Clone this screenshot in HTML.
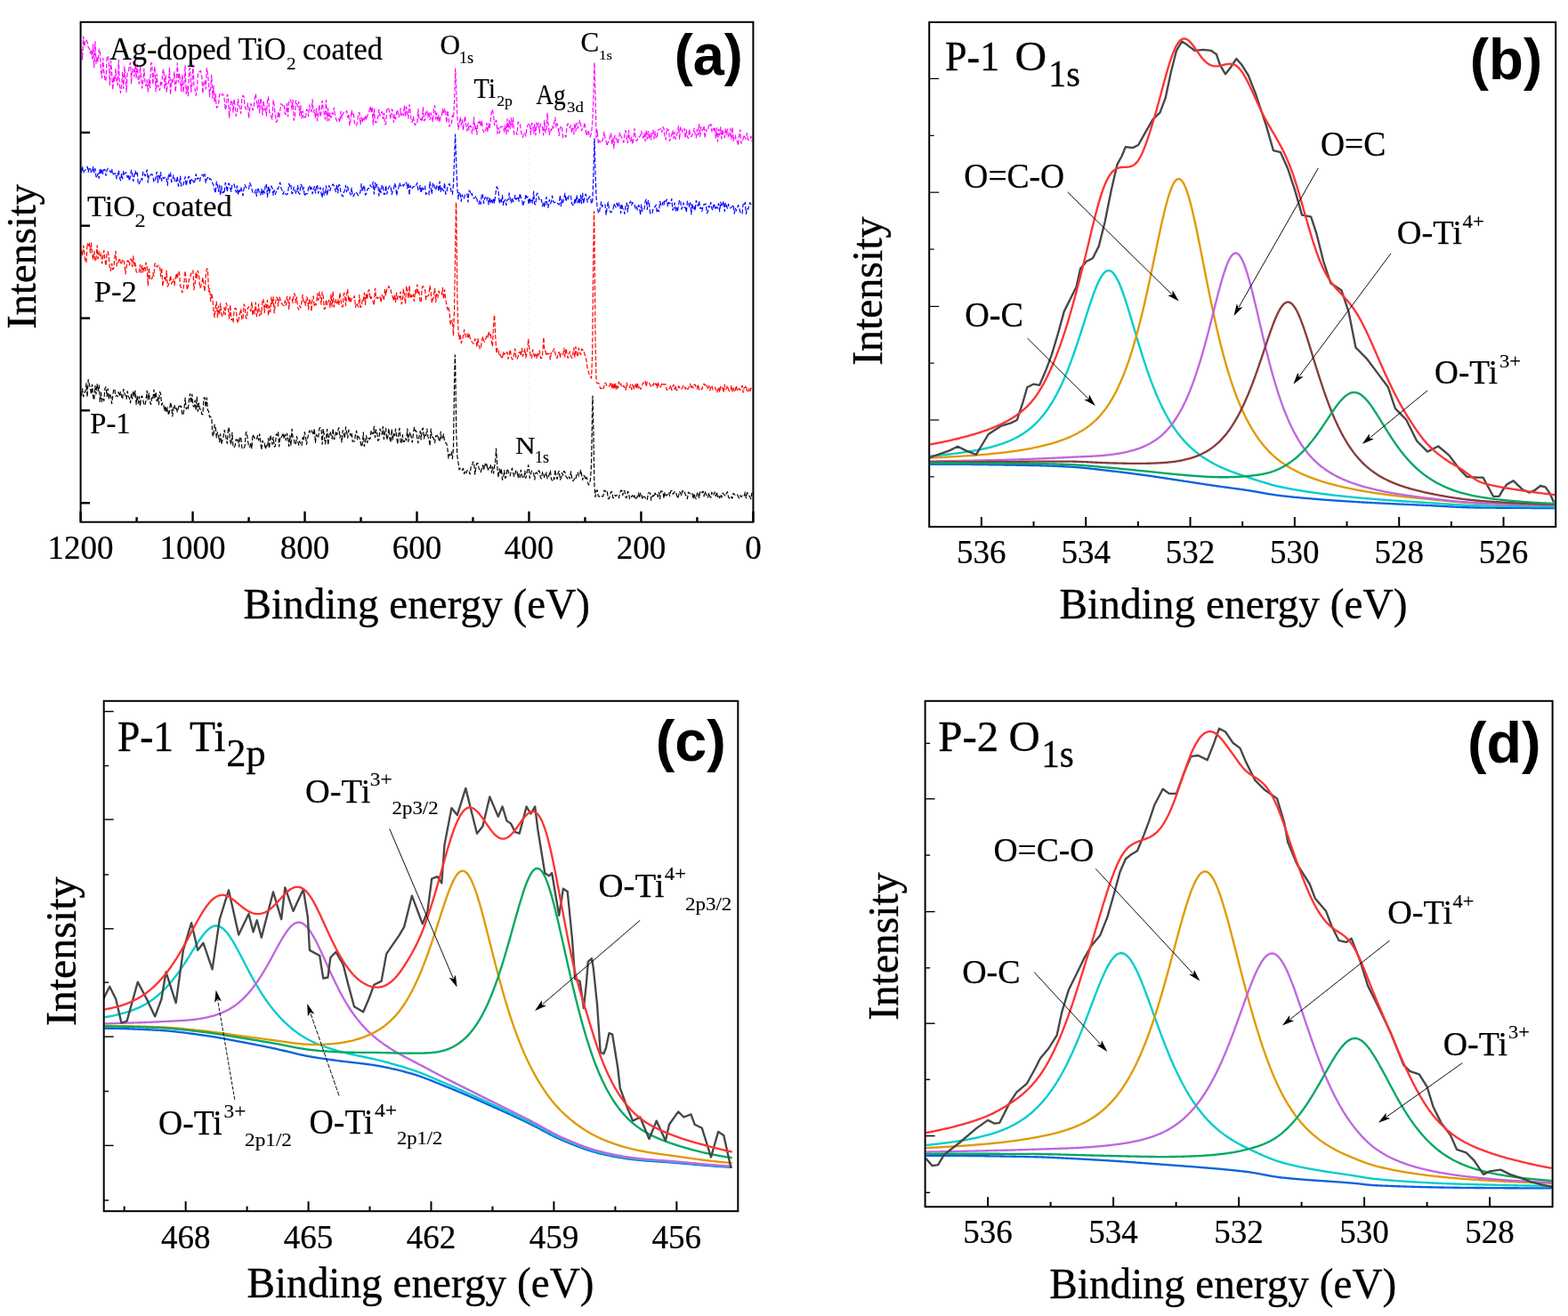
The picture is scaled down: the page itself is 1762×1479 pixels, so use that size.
<!DOCTYPE html>
<html><head><meta charset="utf-8"><title>XPS spectra</title>
<style>html,body{margin:0;padding:0;background:#fff;}svg{display:block;}</style></head>
<body><svg width="1762" height="1479" viewBox="0 0 1762 1479">
<rect width="1762" height="1479" fill="#fff"/>
<clipPath id="cb"><rect x="1044.2" y="25" width="704" height="567"/></clipPath>
<path d="M1045.2 521.7 L1046.2 521.7 L1047.2 521.7 L1048.2 521.7 L1049.2 521.7 L1050.2 521.7 L1051.2 521.71 L1052.2 521.71 L1053.2 521.71 L1054.2 521.71 L1055.2 521.72 L1056.2 521.72 L1057.2 521.72 L1058.2 521.73 L1059.2 521.73 L1060.2 521.73 L1061.2 521.74 L1062.2 521.74 L1063.2 521.75 L1064.2 521.75 L1065.2 521.76 L1066.2 521.76 L1067.2 521.77 L1068.2 521.77 L1069.2 521.78 L1070.2 521.79 L1071.2 521.79 L1072.2 521.8 L1073.2 521.81 L1074.2 521.81 L1075.2 521.82 L1076.2 521.83 L1077.2 521.83 L1078.2 521.84 L1079.2 521.85 L1080.2 521.86 L1081.2 521.87 L1082.2 521.88 L1083.2 521.89 L1084.2 521.89 L1085.2 521.9 L1086.2 521.91 L1087.2 521.92 L1088.2 521.93 L1089.2 521.94 L1090.2 521.95 L1091.2 521.96 L1092.2 521.97 L1093.2 521.99 L1094.2 522 L1095.2 522.01 L1096.2 522.02 L1097.2 522.03 L1098.2 522.04 L1099.2 522.05 L1100.2 522.07 L1101.2 522.08 L1102.2 522.09 L1103.2 522.1 L1104.2 522.12 L1105.2 522.13 L1106.2 522.14 L1107.2 522.16 L1108.2 522.17 L1109.2 522.18 L1110.2 522.2 L1111.2 522.21 L1112.2 522.23 L1113.2 522.24 L1114.2 522.25 L1115.2 522.27 L1116.2 522.28 L1117.2 522.3 L1118.2 522.31 L1119.2 522.33 L1120.2 522.34 L1121.2 522.36 L1122.2 522.37 L1123.2 522.39 L1124.2 522.41 L1125.2 522.42 L1126.2 522.44 L1127.2 522.45 L1128.2 522.47 L1129.2 522.49 L1130.2 522.5 L1131.2 522.52 L1132.2 522.54 L1133.2 522.55 L1134.2 522.57 L1135.2 522.59 L1136.2 522.61 L1137.2 522.62 L1138.2 522.64 L1139.2 522.66 L1140.2 522.68 L1141.2 522.69 L1142.2 522.71 L1143.2 522.73 L1144.2 522.75 L1145.2 522.77 L1146.2 522.79 L1147.2 522.8 L1148.2 522.82 L1149.2 522.84 L1150.2 522.86 L1151.2 522.88 L1152.2 522.9 L1153.2 522.92 L1154.2 522.94 L1155.2 522.96 L1156.2 522.97 L1157.2 522.99 L1158.2 523.01 L1159.2 523.03 L1160.2 523.05 L1161.2 523.07 L1162.2 523.09 L1163.2 523.11 L1164.2 523.13 L1165.2 523.16 L1166.2 523.18 L1167.2 523.2 L1168.2 523.23 L1169.2 523.25 L1170.2 523.28 L1171.2 523.31 L1172.2 523.34 L1173.2 523.37 L1174.2 523.4 L1175.2 523.43 L1176.2 523.46 L1177.2 523.5 L1178.2 523.53 L1179.2 523.57 L1180.2 523.6 L1181.2 523.64 L1182.2 523.68 L1183.2 523.72 L1184.2 523.76 L1185.2 523.8 L1186.2 523.84 L1187.2 523.89 L1188.2 523.93 L1189.2 523.97 L1190.2 524.02 L1191.2 524.07 L1192.2 524.11 L1193.2 524.16 L1194.2 524.21 L1195.2 524.26 L1196.2 524.31 L1197.2 524.36 L1198.2 524.41 L1199.2 524.46 L1200.2 524.52 L1201.2 524.57 L1202.2 524.63 L1203.2 524.68 L1204.2 524.74 L1205.2 524.8 L1206.2 524.87 L1207.2 524.93 L1208.2 525 L1209.2 525.08 L1210.2 525.16 L1211.2 525.24 L1212.2 525.32 L1213.2 525.41 L1214.2 525.5 L1215.2 525.59 L1216.2 525.68 L1217.2 525.78 L1218.2 525.87 L1219.2 525.98 L1220.2 526.08 L1221.2 526.18 L1222.2 526.29 L1223.2 526.39 L1224.2 526.5 L1225.2 526.61 L1226.2 526.72 L1227.2 526.84 L1228.2 526.95 L1229.2 527.06 L1230.2 527.18 L1231.2 527.29 L1232.2 527.41 L1233.2 527.52 L1234.2 527.64 L1235.2 527.76 L1236.2 527.87 L1237.2 527.99 L1238.2 528.11 L1239.2 528.22 L1240.2 528.34 L1241.2 528.45 L1242.2 528.56 L1243.2 528.68 L1244.2 528.79 L1245.2 528.9 L1246.2 529.01 L1247.2 529.13 L1248.2 529.24 L1249.2 529.35 L1250.2 529.47 L1251.2 529.59 L1252.2 529.7 L1253.2 529.82 L1254.2 529.94 L1255.2 530.06 L1256.2 530.18 L1257.2 530.3 L1258.2 530.42 L1259.2 530.54 L1260.2 530.66 L1261.2 530.78 L1262.2 530.91 L1263.2 531.03 L1264.2 531.15 L1265.2 531.28 L1266.2 531.41 L1267.2 531.53 L1268.2 531.66 L1269.2 531.79 L1270.2 531.91 L1271.2 532.04 L1272.2 532.17 L1273.2 532.3 L1274.2 532.43 L1275.2 532.56 L1276.2 532.7 L1277.2 532.83 L1278.2 532.96 L1279.2 533.09 L1280.2 533.23 L1281.2 533.36 L1282.2 533.49 L1283.2 533.63 L1284.2 533.76 L1285.2 533.9 L1286.2 534.04 L1287.2 534.17 L1288.2 534.31 L1289.2 534.45 L1290.2 534.6 L1291.2 534.74 L1292.2 534.88 L1293.2 535.03 L1294.2 535.17 L1295.2 535.32 L1296.2 535.46 L1297.2 535.61 L1298.2 535.76 L1299.2 535.91 L1300.2 536.06 L1301.2 536.21 L1302.2 536.36 L1303.2 536.51 L1304.2 536.66 L1305.2 536.82 L1306.2 536.97 L1307.2 537.12 L1308.2 537.27 L1309.2 537.43 L1310.2 537.58 L1311.2 537.74 L1312.2 537.89 L1313.2 538.04 L1314.2 538.2 L1315.2 538.35 L1316.2 538.51 L1317.2 538.66 L1318.2 538.81 L1319.2 538.97 L1320.2 539.12 L1321.2 539.27 L1322.2 539.42 L1323.2 539.58 L1324.2 539.73 L1325.2 539.88 L1326.2 540.03 L1327.2 540.18 L1328.2 540.33 L1329.2 540.48 L1330.2 540.63 L1331.2 540.79 L1332.2 540.94 L1333.2 541.09 L1334.2 541.24 L1335.2 541.4 L1336.2 541.55 L1337.2 541.7 L1338.2 541.86 L1339.2 542.01 L1340.2 542.17 L1341.2 542.32 L1342.2 542.47 L1343.2 542.63 L1344.2 542.78 L1345.2 542.93 L1346.2 543.09 L1347.2 543.24 L1348.2 543.39 L1349.2 543.55 L1350.2 543.7 L1351.2 543.85 L1352.2 544 L1353.2 544.15 L1354.2 544.31 L1355.2 544.46 L1356.2 544.61 L1357.2 544.76 L1358.2 544.91 L1359.2 545.06 L1360.2 545.2 L1361.2 545.35 L1362.2 545.5 L1363.2 545.65 L1364.2 545.79 L1365.2 545.94 L1366.2 546.08 L1367.2 546.23 L1368.2 546.37 L1369.2 546.51 L1370.2 546.65 L1371.2 546.79 L1372.2 546.93 L1373.2 547.07 L1374.2 547.21 L1375.2 547.34 L1376.2 547.48 L1377.2 547.61 L1378.2 547.75 L1379.2 547.88 L1380.2 548.02 L1381.2 548.15 L1382.2 548.29 L1383.2 548.42 L1384.2 548.55 L1385.2 548.69 L1386.2 548.82 L1387.2 548.96 L1388.2 549.09 L1389.2 549.23 L1390.2 549.37 L1391.2 549.5 L1392.2 549.64 L1393.2 549.78 L1394.2 549.92 L1395.2 550.06 L1396.2 550.2 L1397.2 550.35 L1398.2 550.49 L1399.2 550.64 L1400.2 550.79 L1401.2 550.94 L1402.2 551.1 L1403.2 551.26 L1404.2 551.42 L1405.2 551.58 L1406.2 551.75 L1407.2 551.91 L1408.2 552.09 L1409.2 552.26 L1410.2 552.43 L1411.2 552.61 L1412.2 552.78 L1413.2 552.96 L1414.2 553.14 L1415.2 553.31 L1416.2 553.49 L1417.2 553.67 L1418.2 553.85 L1419.2 554.02 L1420.2 554.2 L1421.2 554.37 L1422.2 554.55 L1423.2 554.72 L1424.2 554.89 L1425.2 555.06 L1426.2 555.23 L1427.2 555.39 L1428.2 555.55 L1429.2 555.71 L1430.2 555.87 L1431.2 556.02 L1432.2 556.17 L1433.2 556.32 L1434.2 556.46 L1435.2 556.6 L1436.2 556.73 L1437.2 556.86 L1438.2 556.99 L1439.2 557.11 L1440.2 557.22 L1441.2 557.33 L1442.2 557.45 L1443.2 557.56 L1444.2 557.67 L1445.2 557.77 L1446.2 557.88 L1447.2 557.99 L1448.2 558.09 L1449.2 558.2 L1450.2 558.3 L1451.2 558.4 L1452.2 558.5 L1453.2 558.61 L1454.2 558.71 L1455.2 558.8 L1456.2 558.9 L1457.2 559 L1458.2 559.1 L1459.2 559.19 L1460.2 559.29 L1461.2 559.38 L1462.2 559.48 L1463.2 559.57 L1464.2 559.66 L1465.2 559.75 L1466.2 559.84 L1467.2 559.93 L1468.2 560.02 L1469.2 560.11 L1470.2 560.19 L1471.2 560.28 L1472.2 560.37 L1473.2 560.45 L1474.2 560.54 L1475.2 560.62 L1476.2 560.7 L1477.2 560.78 L1478.2 560.87 L1479.2 560.95 L1480.2 561.03 L1481.2 561.11 L1482.2 561.19 L1483.2 561.27 L1484.2 561.34 L1485.2 561.42 L1486.2 561.5 L1487.2 561.57 L1488.2 561.65 L1489.2 561.72 L1490.2 561.8 L1491.2 561.87 L1492.2 561.95 L1493.2 562.02 L1494.2 562.09 L1495.2 562.16 L1496.2 562.24 L1497.2 562.31 L1498.2 562.38 L1499.2 562.45 L1500.2 562.52 L1501.2 562.59 L1502.2 562.65 L1503.2 562.72 L1504.2 562.79 L1505.2 562.86 L1506.2 562.92 L1507.2 562.99 L1508.2 563.06 L1509.2 563.12 L1510.2 563.19 L1511.2 563.25 L1512.2 563.32 L1513.2 563.38 L1514.2 563.45 L1515.2 563.51 L1516.2 563.58 L1517.2 563.64 L1518.2 563.7 L1519.2 563.76 L1520.2 563.83 L1521.2 563.89 L1522.2 563.95 L1523.2 564.01 L1524.2 564.07 L1525.2 564.13 L1526.2 564.19 L1527.2 564.25 L1528.2 564.31 L1529.2 564.37 L1530.2 564.43 L1531.2 564.49 L1532.2 564.54 L1533.2 564.6 L1534.2 564.66 L1535.2 564.71 L1536.2 564.77 L1537.2 564.82 L1538.2 564.88 L1539.2 564.93 L1540.2 564.99 L1541.2 565.04 L1542.2 565.09 L1543.2 565.15 L1544.2 565.2 L1545.2 565.25 L1546.2 565.3 L1547.2 565.35 L1548.2 565.4 L1549.2 565.45 L1550.2 565.51 L1551.2 565.56 L1552.2 565.61 L1553.2 565.65 L1554.2 565.7 L1555.2 565.75 L1556.2 565.8 L1557.2 565.85 L1558.2 565.9 L1559.2 565.95 L1560.2 565.99 L1561.2 566.04 L1562.2 566.09 L1563.2 566.14 L1564.2 566.18 L1565.2 566.23 L1566.2 566.28 L1567.2 566.32 L1568.2 566.37 L1569.2 566.42 L1570.2 566.46 L1571.2 566.51 L1572.2 566.55 L1573.2 566.6 L1574.2 566.64 L1575.2 566.69 L1576.2 566.74 L1577.2 566.78 L1578.2 566.83 L1579.2 566.87 L1580.2 566.92 L1581.2 566.96 L1582.2 567.01 L1583.2 567.05 L1584.2 567.1 L1585.2 567.14 L1586.2 567.19 L1587.2 567.23 L1588.2 567.28 L1589.2 567.32 L1590.2 567.37 L1591.2 567.41 L1592.2 567.46 L1593.2 567.5 L1594.2 567.55 L1595.2 567.59 L1596.2 567.64 L1597.2 567.69 L1598.2 567.73 L1599.2 567.78 L1600.2 567.82 L1601.2 567.87 L1602.2 567.92 L1603.2 567.96 L1604.2 568.01 L1605.2 568.06 L1606.2 568.11 L1607.2 568.15 L1608.2 568.2 L1609.2 568.26 L1610.2 568.31 L1611.2 568.36 L1612.2 568.41 L1613.2 568.47 L1614.2 568.52 L1615.2 568.58 L1616.2 568.63 L1617.2 568.69 L1618.2 568.74 L1619.2 568.8 L1620.2 568.85 L1621.2 568.91 L1622.2 568.97 L1623.2 569.02 L1624.2 569.08 L1625.2 569.13 L1626.2 569.19 L1627.2 569.24 L1628.2 569.3 L1629.2 569.35 L1630.2 569.41 L1631.2 569.46 L1632.2 569.51 L1633.2 569.57 L1634.2 569.62 L1635.2 569.67 L1636.2 569.72 L1637.2 569.77 L1638.2 569.81 L1639.2 569.86 L1640.2 569.91 L1641.2 569.95 L1642.2 569.99 L1643.2 570.04 L1644.2 570.08 L1645.2 570.12 L1646.2 570.16 L1647.2 570.19 L1648.2 570.23 L1649.2 570.26 L1650.2 570.29 L1651.2 570.32 L1652.2 570.35 L1653.2 570.38 L1654.2 570.4 L1655.2 570.42 L1656.2 570.44 L1657.2 570.46 L1658.2 570.48 L1659.2 570.49 L1660.2 570.5 L1661.2 570.51 L1662.2 570.52 L1663.2 570.53 L1664.2 570.54 L1665.2 570.55 L1666.2 570.56 L1667.2 570.57 L1668.2 570.58 L1669.2 570.59 L1670.2 570.6 L1671.2 570.61 L1672.2 570.62 L1673.2 570.63 L1674.2 570.64 L1675.2 570.65 L1676.2 570.66 L1677.2 570.67 L1678.2 570.68 L1679.2 570.69 L1680.2 570.7 L1681.2 570.7 L1682.2 570.71 L1683.2 570.72 L1684.2 570.73 L1685.2 570.74 L1686.2 570.74 L1687.2 570.75 L1688.2 570.76 L1689.2 570.77 L1690.2 570.78 L1691.2 570.78 L1692.2 570.79 L1693.2 570.8 L1694.2 570.8 L1695.2 570.81 L1696.2 570.82 L1697.2 570.83 L1698.2 570.83 L1699.2 570.84 L1700.2 570.84 L1701.2 570.85 L1702.2 570.86 L1703.2 570.86 L1704.2 570.87 L1705.2 570.87 L1706.2 570.88 L1707.2 570.89 L1708.2 570.89 L1709.2 570.9 L1710.2 570.9 L1711.2 570.91 L1712.2 570.91 L1713.2 570.92 L1714.2 570.92 L1715.2 570.93 L1716.2 570.93 L1717.2 570.93 L1718.2 570.94 L1719.2 570.94 L1720.2 570.95 L1721.2 570.95 L1722.2 570.95 L1723.2 570.96 L1724.2 570.96 L1725.2 570.96 L1726.2 570.97 L1727.2 570.97 L1728.2 570.97 L1729.2 570.98 L1730.2 570.98 L1731.2 570.98 L1732.2 570.98 L1733.2 570.98 L1734.2 570.99 L1735.2 570.99 L1736.2 570.99 L1737.2 570.99 L1738.2 570.99 L1739.2 570.99 L1740.2 571 L1741.2 571 L1742.2 571 L1743.2 571 L1744.2 571 L1745.2 571 L1746.2 571 L1747.2 571" fill="none" stroke="#0A62E0" stroke-width="2.35" stroke-linejoin="round" clip-path="url(#cb)"/>
<path d="M1045.2 512.58 L1046.2 512.5 L1047.2 512.41 L1048.2 512.32 L1049.2 512.23 L1050.2 512.14 L1051.2 512.05 L1052.2 511.96 L1053.2 511.86 L1054.2 511.77 L1055.2 511.67 L1056.2 511.57 L1057.2 511.48 L1058.2 511.38 L1059.2 511.27 L1060.2 511.17 L1061.2 511.07 L1062.2 510.96 L1063.2 510.86 L1064.2 510.75 L1065.2 510.64 L1066.2 510.53 L1067.2 510.41 L1068.2 510.3 L1069.2 510.18 L1070.2 510.07 L1071.2 509.95 L1072.2 509.82 L1073.2 509.7 L1074.2 509.58 L1075.2 509.45 L1076.2 509.32 L1077.2 509.19 L1078.2 509.06 L1079.2 508.92 L1080.2 508.78 L1081.2 508.64 L1082.2 508.5 L1083.2 508.36 L1084.2 508.21 L1085.2 508.06 L1086.2 507.91 L1087.2 507.76 L1088.2 507.6 L1089.2 507.44 L1090.2 507.28 L1091.2 507.11 L1092.2 506.94 L1093.2 506.77 L1094.2 506.6 L1095.2 506.42 L1096.2 506.24 L1097.2 506.05 L1098.2 505.87 L1099.2 505.67 L1100.2 505.48 L1101.2 505.28 L1102.2 505.08 L1103.2 504.87 L1104.2 504.66 L1105.2 504.44 L1106.2 504.22 L1107.2 504 L1108.2 503.77 L1109.2 503.54 L1110.2 503.3 L1111.2 503.05 L1112.2 502.8 L1113.2 502.55 L1114.2 502.29 L1115.2 502.02 L1116.2 501.75 L1117.2 501.47 L1118.2 501.19 L1119.2 500.9 L1120.2 500.6 L1121.2 500.3 L1122.2 499.98 L1123.2 499.66 L1124.2 499.34 L1125.2 499 L1126.2 498.66 L1127.2 498.31 L1128.2 497.95 L1129.2 497.58 L1130.2 497.2 L1131.2 496.81 L1132.2 496.41 L1133.2 496 L1134.2 495.58 L1135.2 495.15 L1136.2 494.71 L1137.2 494.25 L1138.2 493.79 L1139.2 493.31 L1140.2 492.81 L1141.2 492.31 L1142.2 491.79 L1143.2 491.25 L1144.2 490.7 L1145.2 490.13 L1146.2 489.55 L1147.2 488.95 L1148.2 488.33 L1149.2 487.7 L1150.2 487.05 L1151.2 486.38 L1152.2 485.68 L1153.2 484.97 L1154.2 484.24 L1155.2 483.49 L1156.2 482.71 L1157.2 481.91 L1158.2 481.09 L1159.2 480.24 L1160.2 479.37 L1161.2 478.47 L1162.2 477.54 L1163.2 476.59 L1164.2 475.61 L1165.2 474.6 L1166.2 473.56 L1167.2 472.49 L1168.2 471.39 L1169.2 470.26 L1170.2 469.1 L1171.2 467.91 L1172.2 466.68 L1173.2 465.41 L1174.2 464.11 L1175.2 462.77 L1176.2 461.39 L1177.2 459.98 L1178.2 458.53 L1179.2 457.03 L1180.2 455.5 L1181.2 453.92 L1182.2 452.3 L1183.2 450.63 L1184.2 448.92 L1185.2 447.17 L1186.2 445.36 L1187.2 443.51 L1188.2 441.62 L1189.2 439.67 L1190.2 437.68 L1191.2 435.63 L1192.2 433.54 L1193.2 431.39 L1194.2 429.2 L1195.2 426.95 L1196.2 424.65 L1197.2 422.3 L1198.2 419.9 L1199.2 417.44 L1200.2 414.93 L1201.2 412.37 L1202.2 409.76 L1203.2 407.11 L1204.2 404.4 L1205.2 401.64 L1206.2 398.84 L1207.2 396 L1208.2 393.12 L1209.2 390.2 L1210.2 387.24 L1211.2 384.24 L1212.2 381.21 L1213.2 378.16 L1214.2 375.07 L1215.2 371.97 L1216.2 368.85 L1217.2 365.72 L1218.2 362.58 L1219.2 359.43 L1220.2 356.3 L1221.2 353.17 L1222.2 350.06 L1223.2 346.97 L1224.2 343.92 L1225.2 340.91 L1226.2 337.96 L1227.2 335.06 L1228.2 332.23 L1229.2 329.48 L1230.2 326.81 L1231.2 324.25 L1232.2 321.8 L1233.2 319.46 L1234.2 317.26 L1235.2 315.19 L1236.2 313.28 L1237.2 311.52 L1238.2 309.93 L1239.2 308.52 L1240.2 307.29 L1241.2 306.25 L1242.2 305.41 L1243.2 304.77 L1244.2 304.33 L1245.2 304.1 L1246.2 304.09 L1247.2 304.29 L1248.2 304.7 L1249.2 305.32 L1250.2 306.15 L1251.2 307.18 L1252.2 308.41 L1253.2 309.83 L1254.2 311.44 L1255.2 313.23 L1256.2 315.19 L1257.2 317.31 L1258.2 319.59 L1259.2 322 L1260.2 324.55 L1261.2 327.22 L1262.2 330 L1263.2 332.88 L1264.2 335.85 L1265.2 338.91 L1266.2 342.03 L1267.2 345.22 L1268.2 348.45 L1269.2 351.73 L1270.2 355.05 L1271.2 358.39 L1272.2 361.74 L1273.2 365.11 L1274.2 368.49 L1275.2 371.86 L1276.2 375.22 L1277.2 378.57 L1278.2 381.9 L1279.2 385.21 L1280.2 388.49 L1281.2 391.74 L1282.2 394.96 L1283.2 398.14 L1284.2 401.28 L1285.2 404.38 L1286.2 407.44 L1287.2 410.45 L1288.2 413.41 L1289.2 416.33 L1290.2 419.19 L1291.2 422.01 L1292.2 424.78 L1293.2 427.49 L1294.2 430.16 L1295.2 432.77 L1296.2 435.33 L1297.2 437.84 L1298.2 440.29 L1299.2 442.7 L1300.2 445.05 L1301.2 447.35 L1302.2 449.61 L1303.2 451.81 L1304.2 453.96 L1305.2 456.06 L1306.2 458.11 L1307.2 460.12 L1308.2 462.08 L1309.2 463.99 L1310.2 465.86 L1311.2 467.68 L1312.2 469.46 L1313.2 471.2 L1314.2 472.89 L1315.2 474.54 L1316.2 476.15 L1317.2 477.72 L1318.2 479.25 L1319.2 480.75 L1320.2 482.2 L1321.2 483.62 L1322.2 485 L1323.2 486.35 L1324.2 487.67 L1325.2 488.95 L1326.2 490.2 L1327.2 491.41 L1328.2 492.6 L1329.2 493.76 L1330.2 494.89 L1331.2 495.99 L1332.2 497.07 L1333.2 498.12 L1334.2 499.15 L1335.2 500.15 L1336.2 501.12 L1337.2 502.08 L1338.2 503.01 L1339.2 503.92 L1340.2 504.81 L1341.2 505.68 L1342.2 506.52 L1343.2 507.35 L1344.2 508.16 L1345.2 508.95 L1346.2 509.73 L1347.2 510.49 L1348.2 511.23 L1349.2 511.95 L1350.2 512.66 L1351.2 513.36 L1352.2 514.03 L1353.2 514.7 L1354.2 515.35 L1355.2 515.99 L1356.2 516.61 L1357.2 517.23 L1358.2 517.83 L1359.2 518.42 L1360.2 518.99 L1361.2 519.56 L1362.2 520.11 L1363.2 520.66 L1364.2 521.19 L1365.2 521.72 L1366.2 522.23 L1367.2 522.74 L1368.2 523.23 L1369.2 523.72 L1370.2 524.2 L1371.2 524.67 L1372.2 525.13 L1373.2 525.58 L1374.2 526.02 L1375.2 526.46 L1376.2 526.89 L1377.2 527.31 L1378.2 527.73 L1379.2 528.14 L1380.2 528.54 L1381.2 528.94 L1382.2 529.33 L1383.2 529.72 L1384.2 530.1 L1385.2 530.48 L1386.2 530.86 L1387.2 531.22 L1388.2 531.59 L1389.2 531.95 L1390.2 532.31 L1391.2 532.66 L1392.2 533.01 L1393.2 533.36 L1394.2 533.7 L1395.2 534.04 L1396.2 534.38 L1397.2 534.72 L1398.2 535.06 L1399.2 535.39 L1400.2 535.72 L1401.2 536.05 L1402.2 536.38 L1403.2 536.72 L1404.2 537.05 L1405.2 537.38 L1406.2 537.71 L1407.2 538.04 L1408.2 538.37 L1409.2 538.7 L1410.2 539.03 L1411.2 539.35 L1412.2 539.68 L1413.2 540 L1414.2 540.32 L1415.2 540.64 L1416.2 540.96 L1417.2 541.27 L1418.2 541.58 L1419.2 541.89 L1420.2 542.2 L1421.2 542.5 L1422.2 542.8 L1423.2 543.1 L1424.2 543.39 L1425.2 543.68 L1426.2 543.97 L1427.2 544.25 L1428.2 544.53 L1429.2 544.8 L1430.2 545.07 L1431.2 545.33 L1432.2 545.59 L1433.2 545.84 L1434.2 546.09 L1435.2 546.33 L1436.2 546.57 L1437.2 546.8 L1438.2 547.02 L1439.2 547.24 L1440.2 547.45 L1441.2 547.66 L1442.2 547.86 L1443.2 548.07 L1444.2 548.27 L1445.2 548.46 L1446.2 548.66 L1447.2 548.85 L1448.2 549.04 L1449.2 549.23 L1450.2 549.42 L1451.2 549.61 L1452.2 549.79 L1453.2 549.97 L1454.2 550.15 L1455.2 550.33 L1456.2 550.5 L1457.2 550.68 L1458.2 550.85 L1459.2 551.02 L1460.2 551.18 L1461.2 551.35 L1462.2 551.52 L1463.2 551.68 L1464.2 551.84 L1465.2 552 L1466.2 552.16 L1467.2 552.31 L1468.2 552.47 L1469.2 552.62 L1470.2 552.77 L1471.2 552.92 L1472.2 553.07 L1473.2 553.22 L1474.2 553.36 L1475.2 553.51 L1476.2 553.65 L1477.2 553.79 L1478.2 553.93 L1479.2 554.07 L1480.2 554.2 L1481.2 554.34 L1482.2 554.47 L1483.2 554.61 L1484.2 554.74 L1485.2 554.87 L1486.2 555 L1487.2 555.13 L1488.2 555.25 L1489.2 555.38 L1490.2 555.51 L1491.2 555.63 L1492.2 555.75 L1493.2 555.87 L1494.2 555.99 L1495.2 556.11 L1496.2 556.23 L1497.2 556.35 L1498.2 556.46 L1499.2 556.58 L1500.2 556.69 L1501.2 556.81 L1502.2 556.92 L1503.2 557.03 L1504.2 557.14 L1505.2 557.25 L1506.2 557.36 L1507.2 557.47 L1508.2 557.58 L1509.2 557.68 L1510.2 557.79 L1511.2 557.89 L1512.2 558 L1513.2 558.1 L1514.2 558.2 L1515.2 558.3 L1516.2 558.4 L1517.2 558.5 L1518.2 558.6 L1519.2 558.7 L1520.2 558.8 L1521.2 558.9 L1522.2 559 L1523.2 559.09 L1524.2 559.19 L1525.2 559.28 L1526.2 559.38 L1527.2 559.47 L1528.2 559.56 L1529.2 559.65 L1530.2 559.74 L1531.2 559.83 L1532.2 559.92 L1533.2 560.01 L1534.2 560.1 L1535.2 560.19 L1536.2 560.27 L1537.2 560.36 L1538.2 560.44 L1539.2 560.52 L1540.2 560.61 L1541.2 560.69 L1542.2 560.77 L1543.2 560.85 L1544.2 560.93 L1545.2 561.01 L1546.2 561.09 L1547.2 561.17 L1548.2 561.25 L1549.2 561.33 L1550.2 561.4 L1551.2 561.48 L1552.2 561.56 L1553.2 561.63 L1554.2 561.71 L1555.2 561.78 L1556.2 561.85 L1557.2 561.93 L1558.2 562 L1559.2 562.07 L1560.2 562.14 L1561.2 562.22 L1562.2 562.29 L1563.2 562.36 L1564.2 562.43 L1565.2 562.5 L1566.2 562.57 L1567.2 562.64 L1568.2 562.7 L1569.2 562.77 L1570.2 562.84 L1571.2 562.91 L1572.2 562.98 L1573.2 563.04 L1574.2 563.11 L1575.2 563.18 L1576.2 563.24 L1577.2 563.31 L1578.2 563.37 L1579.2 563.44 L1580.2 563.51 L1581.2 563.57 L1582.2 563.64 L1583.2 563.7 L1584.2 563.76 L1585.2 563.83 L1586.2 563.89 L1587.2 563.96 L1588.2 564.02 L1589.2 564.09 L1590.2 564.15 L1591.2 564.21 L1592.2 564.28 L1593.2 564.34 L1594.2 564.4 L1595.2 564.47 L1596.2 564.53 L1597.2 564.59 L1598.2 564.66 L1599.2 564.72 L1600.2 564.78 L1601.2 564.84 L1602.2 564.91 L1603.2 564.97 L1604.2 565.03 L1605.2 565.1 L1606.2 565.16 L1607.2 565.23 L1608.2 565.29 L1609.2 565.36 L1610.2 565.43 L1611.2 565.5 L1612.2 565.56 L1613.2 565.63 L1614.2 565.7 L1615.2 565.77 L1616.2 565.84 L1617.2 565.91 L1618.2 565.98 L1619.2 566.05 L1620.2 566.12 L1621.2 566.19 L1622.2 566.26 L1623.2 566.33 L1624.2 566.4 L1625.2 566.47 L1626.2 566.54 L1627.2 566.61 L1628.2 566.68 L1629.2 566.75 L1630.2 566.82 L1631.2 566.88 L1632.2 566.95 L1633.2 567.01 L1634.2 567.08 L1635.2 567.14 L1636.2 567.2 L1637.2 567.27 L1638.2 567.33 L1639.2 567.39 L1640.2 567.44 L1641.2 567.5 L1642.2 567.56 L1643.2 567.61 L1644.2 567.66 L1645.2 567.71 L1646.2 567.76 L1647.2 567.81 L1648.2 567.86 L1649.2 567.9 L1650.2 567.95 L1651.2 567.99 L1652.2 568.03 L1653.2 568.07 L1654.2 568.1 L1655.2 568.13 L1656.2 568.17 L1657.2 568.2 L1658.2 568.22 L1659.2 568.25 L1660.2 568.27 L1661.2 568.29 L1662.2 568.31 L1663.2 568.33 L1664.2 568.35 L1665.2 568.37 L1666.2 568.39 L1667.2 568.41 L1668.2 568.43 L1669.2 568.45 L1670.2 568.47 L1671.2 568.49 L1672.2 568.51 L1673.2 568.53 L1674.2 568.55 L1675.2 568.57 L1676.2 568.59 L1677.2 568.61 L1678.2 568.62 L1679.2 568.64 L1680.2 568.66 L1681.2 568.68 L1682.2 568.7 L1683.2 568.71 L1684.2 568.73 L1685.2 568.75 L1686.2 568.76 L1687.2 568.78 L1688.2 568.8 L1689.2 568.81 L1690.2 568.83 L1691.2 568.85 L1692.2 568.86 L1693.2 568.88 L1694.2 568.89 L1695.2 568.91 L1696.2 568.92 L1697.2 568.94 L1698.2 568.95 L1699.2 568.97 L1700.2 568.98 L1701.2 569 L1702.2 569.01 L1703.2 569.03 L1704.2 569.04 L1705.2 569.05 L1706.2 569.07 L1707.2 569.08 L1708.2 569.09 L1709.2 569.11 L1710.2 569.12 L1711.2 569.13 L1712.2 569.14 L1713.2 569.16 L1714.2 569.17 L1715.2 569.18 L1716.2 569.19 L1717.2 569.2 L1718.2 569.22 L1719.2 569.23 L1720.2 569.24 L1721.2 569.25 L1722.2 569.26 L1723.2 569.27 L1724.2 569.28 L1725.2 569.29 L1726.2 569.3 L1727.2 569.31 L1728.2 569.32 L1729.2 569.33 L1730.2 569.34 L1731.2 569.35 L1732.2 569.36 L1733.2 569.37 L1734.2 569.37 L1735.2 569.38 L1736.2 569.39 L1737.2 569.4 L1738.2 569.41 L1739.2 569.41 L1740.2 569.42 L1741.2 569.43 L1742.2 569.44 L1743.2 569.44 L1744.2 569.45 L1745.2 569.46 L1746.2 569.46 L1747.2 569.47" fill="none" stroke="#00CCCC" stroke-width="2.35" stroke-linejoin="round" clip-path="url(#cb)"/>
<path d="M1045.2 514.64 L1046.2 514.59 L1047.2 514.54 L1048.2 514.49 L1049.2 514.44 L1050.2 514.39 L1051.2 514.34 L1052.2 514.29 L1053.2 514.24 L1054.2 514.19 L1055.2 514.14 L1056.2 514.09 L1057.2 514.03 L1058.2 513.98 L1059.2 513.93 L1060.2 513.87 L1061.2 513.82 L1062.2 513.77 L1063.2 513.71 L1064.2 513.66 L1065.2 513.6 L1066.2 513.54 L1067.2 513.49 L1068.2 513.43 L1069.2 513.37 L1070.2 513.32 L1071.2 513.26 L1072.2 513.2 L1073.2 513.14 L1074.2 513.08 L1075.2 513.02 L1076.2 512.96 L1077.2 512.9 L1078.2 512.83 L1079.2 512.77 L1080.2 512.71 L1081.2 512.64 L1082.2 512.58 L1083.2 512.51 L1084.2 512.44 L1085.2 512.38 L1086.2 512.31 L1087.2 512.24 L1088.2 512.17 L1089.2 512.1 L1090.2 512.03 L1091.2 511.96 L1092.2 511.89 L1093.2 511.81 L1094.2 511.74 L1095.2 511.66 L1096.2 511.59 L1097.2 511.51 L1098.2 511.43 L1099.2 511.36 L1100.2 511.28 L1101.2 511.19 L1102.2 511.11 L1103.2 511.03 L1104.2 510.95 L1105.2 510.86 L1106.2 510.78 L1107.2 510.69 L1108.2 510.6 L1109.2 510.51 L1110.2 510.42 L1111.2 510.33 L1112.2 510.23 L1113.2 510.14 L1114.2 510.04 L1115.2 509.95 L1116.2 509.85 L1117.2 509.75 L1118.2 509.65 L1119.2 509.54 L1120.2 509.44 L1121.2 509.33 L1122.2 509.23 L1123.2 509.12 L1124.2 509.01 L1125.2 508.89 L1126.2 508.78 L1127.2 508.66 L1128.2 508.55 L1129.2 508.43 L1130.2 508.31 L1131.2 508.18 L1132.2 508.06 L1133.2 507.93 L1134.2 507.8 L1135.2 507.67 L1136.2 507.54 L1137.2 507.41 L1138.2 507.27 L1139.2 507.13 L1140.2 506.99 L1141.2 506.84 L1142.2 506.7 L1143.2 506.55 L1144.2 506.4 L1145.2 506.24 L1146.2 506.09 L1147.2 505.93 L1148.2 505.77 L1149.2 505.6 L1150.2 505.43 L1151.2 505.26 L1152.2 505.09 L1153.2 504.91 L1154.2 504.74 L1155.2 504.55 L1156.2 504.37 L1157.2 504.18 L1158.2 503.99 L1159.2 503.79 L1160.2 503.59 L1161.2 503.39 L1162.2 503.18 L1163.2 502.97 L1164.2 502.76 L1165.2 502.54 L1166.2 502.32 L1167.2 502.1 L1168.2 501.87 L1169.2 501.64 L1170.2 501.41 L1171.2 501.18 L1172.2 500.93 L1173.2 500.69 L1174.2 500.44 L1175.2 500.19 L1176.2 499.93 L1177.2 499.67 L1178.2 499.4 L1179.2 499.13 L1180.2 498.86 L1181.2 498.58 L1182.2 498.29 L1183.2 498 L1184.2 497.7 L1185.2 497.4 L1186.2 497.09 L1187.2 496.77 L1188.2 496.45 L1189.2 496.12 L1190.2 495.79 L1191.2 495.44 L1192.2 495.09 L1193.2 494.73 L1194.2 494.37 L1195.2 493.99 L1196.2 493.61 L1197.2 493.22 L1198.2 492.82 L1199.2 492.41 L1200.2 491.99 L1201.2 491.56 L1202.2 491.12 L1203.2 490.67 L1204.2 490.21 L1205.2 489.74 L1206.2 489.26 L1207.2 488.77 L1208.2 488.27 L1209.2 487.75 L1210.2 487.23 L1211.2 486.7 L1212.2 486.15 L1213.2 485.59 L1214.2 485.01 L1215.2 484.42 L1216.2 483.82 L1217.2 483.2 L1218.2 482.56 L1219.2 481.9 L1220.2 481.23 L1221.2 480.53 L1222.2 479.82 L1223.2 479.08 L1224.2 478.32 L1225.2 477.54 L1226.2 476.74 L1227.2 475.9 L1228.2 475.05 L1229.2 474.17 L1230.2 473.25 L1231.2 472.31 L1232.2 471.34 L1233.2 470.34 L1234.2 469.31 L1235.2 468.24 L1236.2 467.14 L1237.2 466 L1238.2 464.82 L1239.2 463.61 L1240.2 462.35 L1241.2 461.06 L1242.2 459.72 L1243.2 458.34 L1244.2 456.91 L1245.2 455.44 L1246.2 453.92 L1247.2 452.35 L1248.2 450.73 L1249.2 449.07 L1250.2 447.35 L1251.2 445.58 L1252.2 443.76 L1253.2 441.87 L1254.2 439.94 L1255.2 437.94 L1256.2 435.88 L1257.2 433.77 L1258.2 431.59 L1259.2 429.34 L1260.2 427.03 L1261.2 424.66 L1262.2 422.21 L1263.2 419.7 L1264.2 417.11 L1265.2 414.46 L1266.2 411.73 L1267.2 408.92 L1268.2 406.04 L1269.2 403.09 L1270.2 400.05 L1271.2 396.94 L1272.2 393.75 L1273.2 390.48 L1274.2 387.12 L1275.2 383.69 L1276.2 380.18 L1277.2 376.58 L1278.2 372.9 L1279.2 369.15 L1280.2 365.31 L1281.2 361.39 L1282.2 357.39 L1283.2 353.32 L1284.2 349.17 L1285.2 344.94 L1286.2 340.64 L1287.2 336.28 L1288.2 331.84 L1289.2 327.35 L1290.2 322.8 L1291.2 318.19 L1292.2 313.54 L1293.2 308.84 L1294.2 304.1 L1295.2 299.34 L1296.2 294.55 L1297.2 289.74 L1298.2 284.94 L1299.2 280.13 L1300.2 275.35 L1301.2 270.58 L1302.2 265.86 L1303.2 261.19 L1304.2 256.58 L1305.2 252.04 L1306.2 247.61 L1307.2 243.28 L1308.2 239.07 L1309.2 235 L1310.2 231.09 L1311.2 227.35 L1312.2 223.79 L1313.2 220.45 L1314.2 217.32 L1315.2 214.43 L1316.2 211.78 L1317.2 209.41 L1318.2 207.3 L1319.2 205.49 L1320.2 203.98 L1321.2 202.77 L1322.2 201.88 L1323.2 201.32 L1324.2 201.07 L1325.2 201.16 L1326.2 201.57 L1327.2 202.31 L1328.2 203.38 L1329.2 204.76 L1330.2 206.46 L1331.2 208.46 L1332.2 210.75 L1333.2 213.32 L1334.2 216.17 L1335.2 219.27 L1336.2 222.61 L1337.2 226.18 L1338.2 229.96 L1339.2 233.94 L1340.2 238.09 L1341.2 242.41 L1342.2 246.87 L1343.2 251.46 L1344.2 256.16 L1345.2 260.96 L1346.2 265.85 L1347.2 270.8 L1348.2 275.81 L1349.2 280.86 L1350.2 285.95 L1351.2 291.05 L1352.2 296.15 L1353.2 301.26 L1354.2 306.35 L1355.2 311.43 L1356.2 316.47 L1357.2 321.48 L1358.2 326.45 L1359.2 331.36 L1360.2 336.23 L1361.2 341.04 L1362.2 345.78 L1363.2 350.46 L1364.2 355.07 L1365.2 359.61 L1366.2 364.07 L1367.2 368.45 L1368.2 372.76 L1369.2 376.98 L1370.2 381.13 L1371.2 385.19 L1372.2 389.17 L1373.2 393.07 L1374.2 396.89 L1375.2 400.62 L1376.2 404.27 L1377.2 407.84 L1378.2 411.33 L1379.2 414.73 L1380.2 418.06 L1381.2 421.31 L1382.2 424.48 L1383.2 427.58 L1384.2 430.6 L1385.2 433.54 L1386.2 436.42 L1387.2 439.22 L1388.2 441.95 L1389.2 444.61 L1390.2 447.21 L1391.2 449.74 L1392.2 452.2 L1393.2 454.6 L1394.2 456.94 L1395.2 459.22 L1396.2 461.44 L1397.2 463.61 L1398.2 465.72 L1399.2 467.77 L1400.2 469.78 L1401.2 471.73 L1402.2 473.63 L1403.2 475.49 L1404.2 477.31 L1405.2 479.07 L1406.2 480.8 L1407.2 482.48 L1408.2 484.12 L1409.2 485.72 L1410.2 487.27 L1411.2 488.8 L1412.2 490.28 L1413.2 491.72 L1414.2 493.14 L1415.2 494.51 L1416.2 495.85 L1417.2 497.16 L1418.2 498.44 L1419.2 499.68 L1420.2 500.9 L1421.2 502.08 L1422.2 503.23 L1423.2 504.36 L1424.2 505.46 L1425.2 506.53 L1426.2 507.57 L1427.2 508.59 L1428.2 509.58 L1429.2 510.55 L1430.2 511.49 L1431.2 512.41 L1432.2 513.3 L1433.2 514.17 L1434.2 515.02 L1435.2 515.85 L1436.2 516.65 L1437.2 517.44 L1438.2 518.2 L1439.2 518.94 L1440.2 519.66 L1441.2 520.36 L1442.2 521.05 L1443.2 521.72 L1444.2 522.38 L1445.2 523.03 L1446.2 523.66 L1447.2 524.28 L1448.2 524.88 L1449.2 525.48 L1450.2 526.06 L1451.2 526.63 L1452.2 527.19 L1453.2 527.73 L1454.2 528.27 L1455.2 528.8 L1456.2 529.31 L1457.2 529.82 L1458.2 530.32 L1459.2 530.8 L1460.2 531.28 L1461.2 531.75 L1462.2 532.22 L1463.2 532.67 L1464.2 533.12 L1465.2 533.55 L1466.2 533.99 L1467.2 534.41 L1468.2 534.82 L1469.2 535.23 L1470.2 535.64 L1471.2 536.03 L1472.2 536.42 L1473.2 536.8 L1474.2 537.18 L1475.2 537.55 L1476.2 537.91 L1477.2 538.27 L1478.2 538.63 L1479.2 538.97 L1480.2 539.32 L1481.2 539.65 L1482.2 539.98 L1483.2 540.31 L1484.2 540.63 L1485.2 540.95 L1486.2 541.26 L1487.2 541.57 L1488.2 541.88 L1489.2 542.17 L1490.2 542.47 L1491.2 542.76 L1492.2 543.05 L1493.2 543.33 L1494.2 543.61 L1495.2 543.88 L1496.2 544.15 L1497.2 544.42 L1498.2 544.69 L1499.2 544.95 L1500.2 545.2 L1501.2 545.46 L1502.2 545.71 L1503.2 545.95 L1504.2 546.2 L1505.2 546.44 L1506.2 546.67 L1507.2 546.91 L1508.2 547.14 L1509.2 547.37 L1510.2 547.6 L1511.2 547.82 L1512.2 548.04 L1513.2 548.26 L1514.2 548.47 L1515.2 548.69 L1516.2 548.9 L1517.2 549.1 L1518.2 549.31 L1519.2 549.51 L1520.2 549.71 L1521.2 549.91 L1522.2 550.11 L1523.2 550.3 L1524.2 550.49 L1525.2 550.68 L1526.2 550.87 L1527.2 551.06 L1528.2 551.24 L1529.2 551.42 L1530.2 551.6 L1531.2 551.77 L1532.2 551.95 L1533.2 552.12 L1534.2 552.29 L1535.2 552.46 L1536.2 552.63 L1537.2 552.79 L1538.2 552.95 L1539.2 553.11 L1540.2 553.27 L1541.2 553.43 L1542.2 553.58 L1543.2 553.74 L1544.2 553.89 L1545.2 554.04 L1546.2 554.19 L1547.2 554.34 L1548.2 554.48 L1549.2 554.63 L1550.2 554.77 L1551.2 554.91 L1552.2 555.05 L1553.2 555.19 L1554.2 555.33 L1555.2 555.46 L1556.2 555.6 L1557.2 555.73 L1558.2 555.86 L1559.2 555.99 L1560.2 556.12 L1561.2 556.25 L1562.2 556.38 L1563.2 556.5 L1564.2 556.63 L1565.2 556.75 L1566.2 556.87 L1567.2 556.99 L1568.2 557.11 L1569.2 557.23 L1570.2 557.35 L1571.2 557.47 L1572.2 557.59 L1573.2 557.7 L1574.2 557.82 L1575.2 557.93 L1576.2 558.04 L1577.2 558.15 L1578.2 558.27 L1579.2 558.38 L1580.2 558.49 L1581.2 558.59 L1582.2 558.7 L1583.2 558.81 L1584.2 558.92 L1585.2 559.02 L1586.2 559.13 L1587.2 559.23 L1588.2 559.34 L1589.2 559.44 L1590.2 559.54 L1591.2 559.65 L1592.2 559.75 L1593.2 559.85 L1594.2 559.95 L1595.2 560.05 L1596.2 560.15 L1597.2 560.25 L1598.2 560.35 L1599.2 560.45 L1600.2 560.54 L1601.2 560.64 L1602.2 560.74 L1603.2 560.83 L1604.2 560.93 L1605.2 561.03 L1606.2 561.13 L1607.2 561.22 L1608.2 561.32 L1609.2 561.42 L1610.2 561.52 L1611.2 561.62 L1612.2 561.71 L1613.2 561.81 L1614.2 561.91 L1615.2 562.01 L1616.2 562.11 L1617.2 562.21 L1618.2 562.31 L1619.2 562.41 L1620.2 562.51 L1621.2 562.6 L1622.2 562.7 L1623.2 562.8 L1624.2 562.89 L1625.2 562.99 L1626.2 563.09 L1627.2 563.18 L1628.2 563.27 L1629.2 563.37 L1630.2 563.46 L1631.2 563.55 L1632.2 563.64 L1633.2 563.73 L1634.2 563.82 L1635.2 563.91 L1636.2 563.99 L1637.2 564.08 L1638.2 564.16 L1639.2 564.24 L1640.2 564.32 L1641.2 564.4 L1642.2 564.48 L1643.2 564.56 L1644.2 564.63 L1645.2 564.7 L1646.2 564.77 L1647.2 564.84 L1648.2 564.91 L1649.2 564.98 L1650.2 565.04 L1651.2 565.1 L1652.2 565.16 L1653.2 565.22 L1654.2 565.27 L1655.2 565.33 L1656.2 565.38 L1657.2 565.42 L1658.2 565.47 L1659.2 565.51 L1660.2 565.55 L1661.2 565.59 L1662.2 565.63 L1663.2 565.67 L1664.2 565.71 L1665.2 565.75 L1666.2 565.79 L1667.2 565.82 L1668.2 565.86 L1669.2 565.9 L1670.2 565.93 L1671.2 565.97 L1672.2 566.01 L1673.2 566.04 L1674.2 566.08 L1675.2 566.11 L1676.2 566.15 L1677.2 566.18 L1678.2 566.21 L1679.2 566.25 L1680.2 566.28 L1681.2 566.31 L1682.2 566.35 L1683.2 566.38 L1684.2 566.41 L1685.2 566.44 L1686.2 566.47 L1687.2 566.5 L1688.2 566.53 L1689.2 566.56 L1690.2 566.6 L1691.2 566.63 L1692.2 566.65 L1693.2 566.68 L1694.2 566.71 L1695.2 566.74 L1696.2 566.77 L1697.2 566.8 L1698.2 566.83 L1699.2 566.85 L1700.2 566.88 L1701.2 566.91 L1702.2 566.93 L1703.2 566.96 L1704.2 566.99 L1705.2 567.01 L1706.2 567.04 L1707.2 567.06 L1708.2 567.09 L1709.2 567.11 L1710.2 567.14 L1711.2 567.16 L1712.2 567.19 L1713.2 567.21 L1714.2 567.23 L1715.2 567.26 L1716.2 567.28 L1717.2 567.3 L1718.2 567.32 L1719.2 567.35 L1720.2 567.37 L1721.2 567.39 L1722.2 567.41 L1723.2 567.43 L1724.2 567.45 L1725.2 567.47 L1726.2 567.49 L1727.2 567.51 L1728.2 567.53 L1729.2 567.55 L1730.2 567.57 L1731.2 567.59 L1732.2 567.61 L1733.2 567.63 L1734.2 567.65 L1735.2 567.66 L1736.2 567.68 L1737.2 567.7 L1738.2 567.72 L1739.2 567.73 L1740.2 567.75 L1741.2 567.77 L1742.2 567.78 L1743.2 567.8 L1744.2 567.81 L1745.2 567.83 L1746.2 567.85 L1747.2 567.86" fill="none" stroke="#E09A00" stroke-width="2.35" stroke-linejoin="round" clip-path="url(#cb)"/>
<path d="M1045.2 518.41 L1046.2 518.4 L1047.2 518.38 L1048.2 518.36 L1049.2 518.34 L1050.2 518.32 L1051.2 518.31 L1052.2 518.29 L1053.2 518.27 L1054.2 518.25 L1055.2 518.23 L1056.2 518.22 L1057.2 518.2 L1058.2 518.18 L1059.2 518.16 L1060.2 518.15 L1061.2 518.13 L1062.2 518.11 L1063.2 518.09 L1064.2 518.08 L1065.2 518.06 L1066.2 518.04 L1067.2 518.03 L1068.2 518.01 L1069.2 517.99 L1070.2 517.97 L1071.2 517.96 L1072.2 517.94 L1073.2 517.92 L1074.2 517.9 L1075.2 517.89 L1076.2 517.87 L1077.2 517.85 L1078.2 517.84 L1079.2 517.82 L1080.2 517.8 L1081.2 517.78 L1082.2 517.77 L1083.2 517.75 L1084.2 517.73 L1085.2 517.71 L1086.2 517.7 L1087.2 517.68 L1088.2 517.66 L1089.2 517.64 L1090.2 517.62 L1091.2 517.61 L1092.2 517.59 L1093.2 517.57 L1094.2 517.55 L1095.2 517.53 L1096.2 517.51 L1097.2 517.5 L1098.2 517.48 L1099.2 517.46 L1100.2 517.44 L1101.2 517.42 L1102.2 517.4 L1103.2 517.38 L1104.2 517.36 L1105.2 517.34 L1106.2 517.32 L1107.2 517.3 L1108.2 517.28 L1109.2 517.26 L1110.2 517.24 L1111.2 517.22 L1112.2 517.2 L1113.2 517.18 L1114.2 517.15 L1115.2 517.13 L1116.2 517.11 L1117.2 517.09 L1118.2 517.06 L1119.2 517.04 L1120.2 517.02 L1121.2 517 L1122.2 516.97 L1123.2 516.95 L1124.2 516.92 L1125.2 516.9 L1126.2 516.87 L1127.2 516.85 L1128.2 516.82 L1129.2 516.8 L1130.2 516.77 L1131.2 516.74 L1132.2 516.72 L1133.2 516.69 L1134.2 516.66 L1135.2 516.63 L1136.2 516.6 L1137.2 516.58 L1138.2 516.55 L1139.2 516.52 L1140.2 516.49 L1141.2 516.45 L1142.2 516.42 L1143.2 516.39 L1144.2 516.36 L1145.2 516.33 L1146.2 516.29 L1147.2 516.26 L1148.2 516.23 L1149.2 516.19 L1150.2 516.16 L1151.2 516.12 L1152.2 516.08 L1153.2 516.05 L1154.2 516.01 L1155.2 515.97 L1156.2 515.93 L1157.2 515.89 L1158.2 515.85 L1159.2 515.81 L1160.2 515.77 L1161.2 515.73 L1162.2 515.68 L1163.2 515.64 L1164.2 515.6 L1165.2 515.55 L1166.2 515.51 L1167.2 515.47 L1168.2 515.42 L1169.2 515.38 L1170.2 515.34 L1171.2 515.3 L1172.2 515.25 L1173.2 515.21 L1174.2 515.17 L1175.2 515.13 L1176.2 515.09 L1177.2 515.04 L1178.2 515 L1179.2 514.96 L1180.2 514.91 L1181.2 514.87 L1182.2 514.83 L1183.2 514.78 L1184.2 514.74 L1185.2 514.7 L1186.2 514.65 L1187.2 514.61 L1188.2 514.56 L1189.2 514.52 L1190.2 514.47 L1191.2 514.43 L1192.2 514.38 L1193.2 514.33 L1194.2 514.28 L1195.2 514.23 L1196.2 514.18 L1197.2 514.13 L1198.2 514.08 L1199.2 514.03 L1200.2 513.98 L1201.2 513.93 L1202.2 513.87 L1203.2 513.82 L1204.2 513.76 L1205.2 513.71 L1206.2 513.66 L1207.2 513.61 L1208.2 513.56 L1209.2 513.52 L1210.2 513.47 L1211.2 513.43 L1212.2 513.38 L1213.2 513.34 L1214.2 513.3 L1215.2 513.26 L1216.2 513.21 L1217.2 513.17 L1218.2 513.13 L1219.2 513.09 L1220.2 513.05 L1221.2 513 L1222.2 512.96 L1223.2 512.92 L1224.2 512.87 L1225.2 512.82 L1226.2 512.78 L1227.2 512.73 L1228.2 512.67 L1229.2 512.62 L1230.2 512.56 L1231.2 512.5 L1232.2 512.44 L1233.2 512.38 L1234.2 512.31 L1235.2 512.24 L1236.2 512.17 L1237.2 512.09 L1238.2 512.01 L1239.2 511.93 L1240.2 511.84 L1241.2 511.74 L1242.2 511.64 L1243.2 511.54 L1244.2 511.43 L1245.2 511.32 L1246.2 511.2 L1247.2 511.08 L1248.2 510.96 L1249.2 510.83 L1250.2 510.7 L1251.2 510.56 L1252.2 510.42 L1253.2 510.28 L1254.2 510.13 L1255.2 509.97 L1256.2 509.81 L1257.2 509.65 L1258.2 509.48 L1259.2 509.3 L1260.2 509.12 L1261.2 508.93 L1262.2 508.74 L1263.2 508.54 L1264.2 508.33 L1265.2 508.11 L1266.2 507.89 L1267.2 507.66 L1268.2 507.43 L1269.2 507.18 L1270.2 506.93 L1271.2 506.67 L1272.2 506.39 L1273.2 506.11 L1274.2 505.82 L1275.2 505.52 L1276.2 505.21 L1277.2 504.89 L1278.2 504.56 L1279.2 504.22 L1280.2 503.86 L1281.2 503.49 L1282.2 503.11 L1283.2 502.71 L1284.2 502.31 L1285.2 501.88 L1286.2 501.44 L1287.2 500.99 L1288.2 500.52 L1289.2 500.04 L1290.2 499.53 L1291.2 499.01 L1292.2 498.48 L1293.2 497.92 L1294.2 497.34 L1295.2 496.74 L1296.2 496.12 L1297.2 495.48 L1298.2 494.82 L1299.2 494.13 L1300.2 493.42 L1301.2 492.68 L1302.2 491.91 L1303.2 491.11 L1304.2 490.29 L1305.2 489.44 L1306.2 488.55 L1307.2 487.64 L1308.2 486.69 L1309.2 485.7 L1310.2 484.68 L1311.2 483.62 L1312.2 482.53 L1313.2 481.4 L1314.2 480.22 L1315.2 479 L1316.2 477.75 L1317.2 476.44 L1318.2 475.09 L1319.2 473.7 L1320.2 472.25 L1321.2 470.76 L1322.2 469.22 L1323.2 467.62 L1324.2 465.97 L1325.2 464.26 L1326.2 462.5 L1327.2 460.68 L1328.2 458.81 L1329.2 456.87 L1330.2 454.88 L1331.2 452.82 L1332.2 450.7 L1333.2 448.51 L1334.2 446.26 L1335.2 443.95 L1336.2 441.57 L1337.2 439.11 L1338.2 436.59 L1339.2 434 L1340.2 431.34 L1341.2 428.61 L1342.2 425.81 L1343.2 422.94 L1344.2 419.99 L1345.2 416.97 L1346.2 413.88 L1347.2 410.72 L1348.2 407.49 L1349.2 404.19 L1350.2 400.82 L1351.2 397.38 L1352.2 393.88 L1353.2 390.32 L1354.2 386.7 L1355.2 383.02 L1356.2 379.29 L1357.2 375.51 L1358.2 371.68 L1359.2 367.82 L1360.2 363.92 L1361.2 360 L1362.2 356.06 L1363.2 352.1 L1364.2 348.15 L1365.2 344.2 L1366.2 340.26 L1367.2 336.36 L1368.2 332.49 L1369.2 328.67 L1370.2 324.92 L1371.2 321.24 L1372.2 317.65 L1373.2 314.17 L1374.2 310.81 L1375.2 307.59 L1376.2 304.52 L1377.2 301.61 L1378.2 298.89 L1379.2 296.36 L1380.2 294.04 L1381.2 291.95 L1382.2 290.09 L1383.2 288.48 L1384.2 287.13 L1385.2 286.05 L1386.2 285.25 L1387.2 284.72 L1388.2 284.48 L1389.2 284.53 L1390.2 284.87 L1391.2 285.5 L1392.2 286.41 L1393.2 287.6 L1394.2 289.06 L1395.2 290.79 L1396.2 292.78 L1397.2 295.01 L1398.2 297.47 L1399.2 300.16 L1400.2 303.05 L1401.2 306.13 L1402.2 309.4 L1403.2 312.83 L1404.2 316.41 L1405.2 320.12 L1406.2 323.94 L1407.2 327.88 L1408.2 331.9 L1409.2 335.99 L1410.2 340.15 L1411.2 344.35 L1412.2 348.59 L1413.2 352.85 L1414.2 357.13 L1415.2 361.41 L1416.2 365.69 L1417.2 369.95 L1418.2 374.19 L1419.2 378.4 L1420.2 382.57 L1421.2 386.7 L1422.2 390.79 L1423.2 394.82 L1424.2 398.8 L1425.2 402.72 L1426.2 406.58 L1427.2 410.37 L1428.2 414.09 L1429.2 417.75 L1430.2 421.33 L1431.2 424.84 L1432.2 428.28 L1433.2 431.64 L1434.2 434.92 L1435.2 438.13 L1436.2 441.26 L1437.2 444.32 L1438.2 447.3 L1439.2 450.21 L1440.2 453.04 L1441.2 455.79 L1442.2 458.48 L1443.2 461.1 L1444.2 463.65 L1445.2 466.14 L1446.2 468.56 L1447.2 470.91 L1448.2 473.2 L1449.2 475.43 L1450.2 477.59 L1451.2 479.7 L1452.2 481.75 L1453.2 483.74 L1454.2 485.67 L1455.2 487.55 L1456.2 489.38 L1457.2 491.15 L1458.2 492.88 L1459.2 494.55 L1460.2 496.17 L1461.2 497.75 L1462.2 499.29 L1463.2 500.77 L1464.2 502.22 L1465.2 503.62 L1466.2 504.98 L1467.2 506.31 L1468.2 507.59 L1469.2 508.84 L1470.2 510.05 L1471.2 511.23 L1472.2 512.37 L1473.2 513.48 L1474.2 514.56 L1475.2 515.6 L1476.2 516.62 L1477.2 517.61 L1478.2 518.57 L1479.2 519.51 L1480.2 520.41 L1481.2 521.3 L1482.2 522.16 L1483.2 522.99 L1484.2 523.81 L1485.2 524.6 L1486.2 525.37 L1487.2 526.12 L1488.2 526.85 L1489.2 527.56 L1490.2 528.25 L1491.2 528.93 L1492.2 529.58 L1493.2 530.23 L1494.2 530.85 L1495.2 531.46 L1496.2 532.06 L1497.2 532.64 L1498.2 533.21 L1499.2 533.76 L1500.2 534.3 L1501.2 534.83 L1502.2 535.35 L1503.2 535.86 L1504.2 536.35 L1505.2 536.83 L1506.2 537.31 L1507.2 537.77 L1508.2 538.22 L1509.2 538.67 L1510.2 539.1 L1511.2 539.53 L1512.2 539.95 L1513.2 540.35 L1514.2 540.75 L1515.2 541.15 L1516.2 541.53 L1517.2 541.91 L1518.2 542.28 L1519.2 542.65 L1520.2 543 L1521.2 543.36 L1522.2 543.7 L1523.2 544.04 L1524.2 544.37 L1525.2 544.7 L1526.2 545.02 L1527.2 545.33 L1528.2 545.64 L1529.2 545.95 L1530.2 546.25 L1531.2 546.54 L1532.2 546.83 L1533.2 547.11 L1534.2 547.39 L1535.2 547.67 L1536.2 547.94 L1537.2 548.2 L1538.2 548.46 L1539.2 548.72 L1540.2 548.97 L1541.2 549.22 L1542.2 549.47 L1543.2 549.71 L1544.2 549.94 L1545.2 550.18 L1546.2 550.41 L1547.2 550.64 L1548.2 550.86 L1549.2 551.08 L1550.2 551.3 L1551.2 551.51 L1552.2 551.72 L1553.2 551.93 L1554.2 552.13 L1555.2 552.34 L1556.2 552.54 L1557.2 552.73 L1558.2 552.93 L1559.2 553.12 L1560.2 553.31 L1561.2 553.49 L1562.2 553.68 L1563.2 553.86 L1564.2 554.04 L1565.2 554.21 L1566.2 554.39 L1567.2 554.56 L1568.2 554.73 L1569.2 554.9 L1570.2 555.07 L1571.2 555.23 L1572.2 555.39 L1573.2 555.55 L1574.2 555.71 L1575.2 555.87 L1576.2 556.03 L1577.2 556.18 L1578.2 556.33 L1579.2 556.48 L1580.2 556.63 L1581.2 556.78 L1582.2 556.92 L1583.2 557.07 L1584.2 557.21 L1585.2 557.35 L1586.2 557.49 L1587.2 557.63 L1588.2 557.77 L1589.2 557.9 L1590.2 558.04 L1591.2 558.17 L1592.2 558.3 L1593.2 558.43 L1594.2 558.56 L1595.2 558.69 L1596.2 558.82 L1597.2 558.95 L1598.2 559.07 L1599.2 559.2 L1600.2 559.32 L1601.2 559.45 L1602.2 559.57 L1603.2 559.69 L1604.2 559.81 L1605.2 559.93 L1606.2 560.05 L1607.2 560.17 L1608.2 560.29 L1609.2 560.41 L1610.2 560.53 L1611.2 560.65 L1612.2 560.77 L1613.2 560.89 L1614.2 561.01 L1615.2 561.13 L1616.2 561.25 L1617.2 561.37 L1618.2 561.48 L1619.2 561.6 L1620.2 561.72 L1621.2 561.83 L1622.2 561.95 L1623.2 562.06 L1624.2 562.17 L1625.2 562.28 L1626.2 562.4 L1627.2 562.51 L1628.2 562.62 L1629.2 562.72 L1630.2 562.83 L1631.2 562.94 L1632.2 563.04 L1633.2 563.15 L1634.2 563.25 L1635.2 563.35 L1636.2 563.45 L1637.2 563.55 L1638.2 563.64 L1639.2 563.74 L1640.2 563.83 L1641.2 563.92 L1642.2 564.01 L1643.2 564.1 L1644.2 564.19 L1645.2 564.27 L1646.2 564.35 L1647.2 564.43 L1648.2 564.51 L1649.2 564.59 L1650.2 564.66 L1651.2 564.73 L1652.2 564.8 L1653.2 564.87 L1654.2 564.93 L1655.2 565 L1656.2 565.06 L1657.2 565.11 L1658.2 565.17 L1659.2 565.22 L1660.2 565.27 L1661.2 565.32 L1662.2 565.36 L1663.2 565.41 L1664.2 565.46 L1665.2 565.5 L1666.2 565.55 L1667.2 565.6 L1668.2 565.64 L1669.2 565.68 L1670.2 565.73 L1671.2 565.77 L1672.2 565.81 L1673.2 565.86 L1674.2 565.9 L1675.2 565.94 L1676.2 565.98 L1677.2 566.02 L1678.2 566.06 L1679.2 566.1 L1680.2 566.14 L1681.2 566.18 L1682.2 566.22 L1683.2 566.26 L1684.2 566.3 L1685.2 566.33 L1686.2 566.37 L1687.2 566.41 L1688.2 566.44 L1689.2 566.48 L1690.2 566.51 L1691.2 566.55 L1692.2 566.58 L1693.2 566.62 L1694.2 566.65 L1695.2 566.69 L1696.2 566.72 L1697.2 566.75 L1698.2 566.78 L1699.2 566.82 L1700.2 566.85 L1701.2 566.88 L1702.2 566.91 L1703.2 566.94 L1704.2 566.97 L1705.2 567 L1706.2 567.03 L1707.2 567.06 L1708.2 567.09 L1709.2 567.12 L1710.2 567.15 L1711.2 567.17 L1712.2 567.2 L1713.2 567.23 L1714.2 567.26 L1715.2 567.28 L1716.2 567.31 L1717.2 567.33 L1718.2 567.36 L1719.2 567.39 L1720.2 567.41 L1721.2 567.43 L1722.2 567.46 L1723.2 567.48 L1724.2 567.51 L1725.2 567.53 L1726.2 567.55 L1727.2 567.58 L1728.2 567.6 L1729.2 567.62 L1730.2 567.64 L1731.2 567.66 L1732.2 567.69 L1733.2 567.71 L1734.2 567.73 L1735.2 567.75 L1736.2 567.77 L1737.2 567.79 L1738.2 567.81 L1739.2 567.83 L1740.2 567.85 L1741.2 567.86 L1742.2 567.88 L1743.2 567.9 L1744.2 567.92 L1745.2 567.94 L1746.2 567.95 L1747.2 567.97" fill="none" stroke="#C066E0" stroke-width="2.35" stroke-linejoin="round" clip-path="url(#cb)"/>
<path d="M1045.2 519.44 L1046.2 519.43 L1047.2 519.42 L1048.2 519.41 L1049.2 519.4 L1050.2 519.39 L1051.2 519.38 L1052.2 519.37 L1053.2 519.36 L1054.2 519.35 L1055.2 519.34 L1056.2 519.33 L1057.2 519.32 L1058.2 519.31 L1059.2 519.3 L1060.2 519.3 L1061.2 519.29 L1062.2 519.28 L1063.2 519.27 L1064.2 519.26 L1065.2 519.26 L1066.2 519.25 L1067.2 519.24 L1068.2 519.23 L1069.2 519.23 L1070.2 519.22 L1071.2 519.21 L1072.2 519.21 L1073.2 519.2 L1074.2 519.19 L1075.2 519.18 L1076.2 519.18 L1077.2 519.17 L1078.2 519.17 L1079.2 519.16 L1080.2 519.15 L1081.2 519.15 L1082.2 519.14 L1083.2 519.14 L1084.2 519.13 L1085.2 519.12 L1086.2 519.12 L1087.2 519.11 L1088.2 519.11 L1089.2 519.1 L1090.2 519.1 L1091.2 519.09 L1092.2 519.09 L1093.2 519.08 L1094.2 519.08 L1095.2 519.07 L1096.2 519.07 L1097.2 519.06 L1098.2 519.06 L1099.2 519.05 L1100.2 519.05 L1101.2 519.04 L1102.2 519.04 L1103.2 519.03 L1104.2 519.03 L1105.2 519.02 L1106.2 519.02 L1107.2 519.01 L1108.2 519.01 L1109.2 519 L1110.2 519 L1111.2 518.99 L1112.2 518.99 L1113.2 518.98 L1114.2 518.98 L1115.2 518.97 L1116.2 518.97 L1117.2 518.96 L1118.2 518.96 L1119.2 518.95 L1120.2 518.95 L1121.2 518.94 L1122.2 518.94 L1123.2 518.93 L1124.2 518.93 L1125.2 518.92 L1126.2 518.92 L1127.2 518.91 L1128.2 518.91 L1129.2 518.9 L1130.2 518.9 L1131.2 518.89 L1132.2 518.89 L1133.2 518.88 L1134.2 518.87 L1135.2 518.87 L1136.2 518.86 L1137.2 518.86 L1138.2 518.85 L1139.2 518.84 L1140.2 518.84 L1141.2 518.83 L1142.2 518.82 L1143.2 518.82 L1144.2 518.81 L1145.2 518.8 L1146.2 518.79 L1147.2 518.79 L1148.2 518.78 L1149.2 518.77 L1150.2 518.76 L1151.2 518.75 L1152.2 518.75 L1153.2 518.74 L1154.2 518.73 L1155.2 518.72 L1156.2 518.71 L1157.2 518.7 L1158.2 518.69 L1159.2 518.68 L1160.2 518.67 L1161.2 518.66 L1162.2 518.65 L1163.2 518.64 L1164.2 518.63 L1165.2 518.62 L1166.2 518.61 L1167.2 518.61 L1168.2 518.6 L1169.2 518.59 L1170.2 518.59 L1171.2 518.58 L1172.2 518.58 L1173.2 518.57 L1174.2 518.57 L1175.2 518.57 L1176.2 518.57 L1177.2 518.56 L1178.2 518.56 L1179.2 518.56 L1180.2 518.56 L1181.2 518.56 L1182.2 518.57 L1183.2 518.57 L1184.2 518.57 L1185.2 518.57 L1186.2 518.58 L1187.2 518.58 L1188.2 518.58 L1189.2 518.59 L1190.2 518.59 L1191.2 518.6 L1192.2 518.6 L1193.2 518.61 L1194.2 518.61 L1195.2 518.62 L1196.2 518.63 L1197.2 518.63 L1198.2 518.64 L1199.2 518.65 L1200.2 518.66 L1201.2 518.67 L1202.2 518.67 L1203.2 518.68 L1204.2 518.69 L1205.2 518.7 L1206.2 518.72 L1207.2 518.74 L1208.2 518.76 L1209.2 518.78 L1210.2 518.81 L1211.2 518.84 L1212.2 518.87 L1213.2 518.9 L1214.2 518.94 L1215.2 518.97 L1216.2 519.01 L1217.2 519.05 L1218.2 519.09 L1219.2 519.14 L1220.2 519.18 L1221.2 519.23 L1222.2 519.27 L1223.2 519.32 L1224.2 519.37 L1225.2 519.41 L1226.2 519.46 L1227.2 519.51 L1228.2 519.56 L1229.2 519.61 L1230.2 519.66 L1231.2 519.71 L1232.2 519.76 L1233.2 519.8 L1234.2 519.85 L1235.2 519.9 L1236.2 519.94 L1237.2 519.98 L1238.2 520.03 L1239.2 520.07 L1240.2 520.11 L1241.2 520.15 L1242.2 520.18 L1243.2 520.22 L1244.2 520.25 L1245.2 520.28 L1246.2 520.31 L1247.2 520.34 L1248.2 520.37 L1249.2 520.4 L1250.2 520.43 L1251.2 520.46 L1252.2 520.49 L1253.2 520.51 L1254.2 520.54 L1255.2 520.57 L1256.2 520.59 L1257.2 520.62 L1258.2 520.64 L1259.2 520.66 L1260.2 520.68 L1261.2 520.71 L1262.2 520.73 L1263.2 520.75 L1264.2 520.76 L1265.2 520.78 L1266.2 520.8 L1267.2 520.81 L1268.2 520.83 L1269.2 520.84 L1270.2 520.85 L1271.2 520.86 L1272.2 520.87 L1273.2 520.88 L1274.2 520.89 L1275.2 520.89 L1276.2 520.89 L1277.2 520.9 L1278.2 520.9 L1279.2 520.9 L1280.2 520.89 L1281.2 520.89 L1282.2 520.88 L1283.2 520.87 L1284.2 520.86 L1285.2 520.85 L1286.2 520.83 L1287.2 520.82 L1288.2 520.8 L1289.2 520.78 L1290.2 520.76 L1291.2 520.74 L1292.2 520.72 L1293.2 520.69 L1294.2 520.66 L1295.2 520.63 L1296.2 520.6 L1297.2 520.56 L1298.2 520.53 L1299.2 520.49 L1300.2 520.44 L1301.2 520.39 L1302.2 520.34 L1303.2 520.29 L1304.2 520.23 L1305.2 520.17 L1306.2 520.11 L1307.2 520.04 L1308.2 519.97 L1309.2 519.89 L1310.2 519.81 L1311.2 519.72 L1312.2 519.63 L1313.2 519.54 L1314.2 519.44 L1315.2 519.33 L1316.2 519.22 L1317.2 519.1 L1318.2 518.98 L1319.2 518.84 L1320.2 518.71 L1321.2 518.56 L1322.2 518.41 L1323.2 518.25 L1324.2 518.09 L1325.2 517.91 L1326.2 517.73 L1327.2 517.54 L1328.2 517.34 L1329.2 517.14 L1330.2 516.92 L1331.2 516.7 L1332.2 516.47 L1333.2 516.23 L1334.2 515.98 L1335.2 515.72 L1336.2 515.44 L1337.2 515.16 L1338.2 514.87 L1339.2 514.56 L1340.2 514.24 L1341.2 513.91 L1342.2 513.57 L1343.2 513.21 L1344.2 512.84 L1345.2 512.46 L1346.2 512.06 L1347.2 511.64 L1348.2 511.21 L1349.2 510.76 L1350.2 510.3 L1351.2 509.81 L1352.2 509.31 L1353.2 508.79 L1354.2 508.25 L1355.2 507.69 L1356.2 507.11 L1357.2 506.5 L1358.2 505.88 L1359.2 505.23 L1360.2 504.56 L1361.2 503.86 L1362.2 503.13 L1363.2 502.38 L1364.2 501.61 L1365.2 500.8 L1366.2 499.97 L1367.2 499.11 L1368.2 498.21 L1369.2 497.29 L1370.2 496.33 L1371.2 495.34 L1372.2 494.32 L1373.2 493.26 L1374.2 492.16 L1375.2 491.03 L1376.2 489.87 L1377.2 488.66 L1378.2 487.42 L1379.2 486.13 L1380.2 484.81 L1381.2 483.44 L1382.2 482.04 L1383.2 480.59 L1384.2 479.1 L1385.2 477.56 L1386.2 475.98 L1387.2 474.35 L1388.2 472.68 L1389.2 470.96 L1390.2 469.2 L1391.2 467.38 L1392.2 465.52 L1393.2 463.61 L1394.2 461.64 L1395.2 459.63 L1396.2 457.57 L1397.2 455.46 L1398.2 453.3 L1399.2 451.09 L1400.2 448.82 L1401.2 446.51 L1402.2 444.15 L1403.2 441.75 L1404.2 439.29 L1405.2 436.79 L1406.2 434.24 L1407.2 431.64 L1408.2 429 L1409.2 426.32 L1410.2 423.59 L1411.2 420.82 L1412.2 418.02 L1413.2 415.17 L1414.2 412.3 L1415.2 409.39 L1416.2 406.46 L1417.2 403.51 L1418.2 400.54 L1419.2 397.55 L1420.2 394.56 L1421.2 391.56 L1422.2 388.56 L1423.2 385.58 L1424.2 382.61 L1425.2 379.67 L1426.2 376.76 L1427.2 373.89 L1428.2 371.06 L1429.2 368.3 L1430.2 365.61 L1431.2 362.99 L1432.2 360.46 L1433.2 358.02 L1434.2 355.7 L1435.2 353.49 L1436.2 351.41 L1437.2 349.46 L1438.2 347.66 L1439.2 346.02 L1440.2 344.54 L1441.2 343.24 L1442.2 342.12 L1443.2 341.19 L1444.2 340.46 L1445.2 339.93 L1446.2 339.6 L1447.2 339.47 L1448.2 339.56 L1449.2 339.85 L1450.2 340.35 L1451.2 341.05 L1452.2 341.96 L1453.2 343.06 L1454.2 344.35 L1455.2 345.83 L1456.2 347.48 L1457.2 349.31 L1458.2 351.3 L1459.2 353.44 L1460.2 355.72 L1461.2 358.14 L1462.2 360.67 L1463.2 363.33 L1464.2 366.08 L1465.2 368.92 L1466.2 371.85 L1467.2 374.85 L1468.2 377.91 L1469.2 381.03 L1470.2 384.18 L1471.2 387.38 L1472.2 390.6 L1473.2 393.83 L1474.2 397.09 L1475.2 400.34 L1476.2 403.6 L1477.2 406.84 L1478.2 410.08 L1479.2 413.3 L1480.2 416.49 L1481.2 419.66 L1482.2 422.8 L1483.2 425.9 L1484.2 428.97 L1485.2 431.99 L1486.2 434.98 L1487.2 437.92 L1488.2 440.82 L1489.2 443.67 L1490.2 446.47 L1491.2 449.22 L1492.2 451.92 L1493.2 454.57 L1494.2 457.17 L1495.2 459.71 L1496.2 462.2 L1497.2 464.64 L1498.2 467.03 L1499.2 469.37 L1500.2 471.65 L1501.2 473.88 L1502.2 476.06 L1503.2 478.19 L1504.2 480.27 L1505.2 482.3 L1506.2 484.28 L1507.2 486.21 L1508.2 488.1 L1509.2 489.93 L1510.2 491.72 L1511.2 493.47 L1512.2 495.17 L1513.2 496.82 L1514.2 498.44 L1515.2 500.01 L1516.2 501.54 L1517.2 503.02 L1518.2 504.47 L1519.2 505.89 L1520.2 507.26 L1521.2 508.59 L1522.2 509.9 L1523.2 511.16 L1524.2 512.39 L1525.2 513.59 L1526.2 514.75 L1527.2 515.89 L1528.2 516.99 L1529.2 518.06 L1530.2 519.1 L1531.2 520.11 L1532.2 521.1 L1533.2 522.06 L1534.2 522.99 L1535.2 523.9 L1536.2 524.78 L1537.2 525.64 L1538.2 526.47 L1539.2 527.29 L1540.2 528.08 L1541.2 528.85 L1542.2 529.59 L1543.2 530.32 L1544.2 531.03 L1545.2 531.72 L1546.2 532.4 L1547.2 533.05 L1548.2 533.69 L1549.2 534.32 L1550.2 534.92 L1551.2 535.51 L1552.2 536.09 L1553.2 536.65 L1554.2 537.2 L1555.2 537.74 L1556.2 538.26 L1557.2 538.77 L1558.2 539.27 L1559.2 539.75 L1560.2 540.23 L1561.2 540.69 L1562.2 541.14 L1563.2 541.59 L1564.2 542.02 L1565.2 542.44 L1566.2 542.86 L1567.2 543.26 L1568.2 543.66 L1569.2 544.05 L1570.2 544.43 L1571.2 544.8 L1572.2 545.17 L1573.2 545.52 L1574.2 545.87 L1575.2 546.22 L1576.2 546.56 L1577.2 546.89 L1578.2 547.21 L1579.2 547.53 L1580.2 547.84 L1581.2 548.15 L1582.2 548.45 L1583.2 548.75 L1584.2 549.04 L1585.2 549.32 L1586.2 549.6 L1587.2 549.88 L1588.2 550.15 L1589.2 550.42 L1590.2 550.68 L1591.2 550.94 L1592.2 551.2 L1593.2 551.45 L1594.2 551.69 L1595.2 551.94 L1596.2 552.18 L1597.2 552.41 L1598.2 552.65 L1599.2 552.88 L1600.2 553.1 L1601.2 553.33 L1602.2 553.55 L1603.2 553.77 L1604.2 553.98 L1605.2 554.19 L1606.2 554.4 L1607.2 554.61 L1608.2 554.82 L1609.2 555.02 L1610.2 555.23 L1611.2 555.43 L1612.2 555.63 L1613.2 555.83 L1614.2 556.02 L1615.2 556.22 L1616.2 556.41 L1617.2 556.6 L1618.2 556.79 L1619.2 556.97 L1620.2 557.16 L1621.2 557.34 L1622.2 557.52 L1623.2 557.7 L1624.2 557.87 L1625.2 558.05 L1626.2 558.22 L1627.2 558.39 L1628.2 558.56 L1629.2 558.72 L1630.2 558.89 L1631.2 559.05 L1632.2 559.21 L1633.2 559.36 L1634.2 559.52 L1635.2 559.67 L1636.2 559.82 L1637.2 559.97 L1638.2 560.11 L1639.2 560.26 L1640.2 560.4 L1641.2 560.53 L1642.2 560.67 L1643.2 560.8 L1644.2 560.93 L1645.2 561.06 L1646.2 561.18 L1647.2 561.31 L1648.2 561.43 L1649.2 561.54 L1650.2 561.66 L1651.2 561.77 L1652.2 561.87 L1653.2 561.98 L1654.2 562.08 L1655.2 562.18 L1656.2 562.28 L1657.2 562.37 L1658.2 562.46 L1659.2 562.54 L1660.2 562.63 L1661.2 562.71 L1662.2 562.79 L1663.2 562.87 L1664.2 562.95 L1665.2 563.02 L1666.2 563.1 L1667.2 563.17 L1668.2 563.25 L1669.2 563.32 L1670.2 563.39 L1671.2 563.47 L1672.2 563.54 L1673.2 563.61 L1674.2 563.67 L1675.2 563.74 L1676.2 563.81 L1677.2 563.88 L1678.2 563.94 L1679.2 564.01 L1680.2 564.07 L1681.2 564.13 L1682.2 564.2 L1683.2 564.26 L1684.2 564.32 L1685.2 564.38 L1686.2 564.44 L1687.2 564.5 L1688.2 564.56 L1689.2 564.61 L1690.2 564.67 L1691.2 564.72 L1692.2 564.78 L1693.2 564.83 L1694.2 564.89 L1695.2 564.94 L1696.2 564.99 L1697.2 565.05 L1698.2 565.1 L1699.2 565.15 L1700.2 565.2 L1701.2 565.25 L1702.2 565.3 L1703.2 565.34 L1704.2 565.39 L1705.2 565.44 L1706.2 565.49 L1707.2 565.53 L1708.2 565.58 L1709.2 565.62 L1710.2 565.66 L1711.2 565.71 L1712.2 565.75 L1713.2 565.79 L1714.2 565.84 L1715.2 565.88 L1716.2 565.92 L1717.2 565.96 L1718.2 566 L1719.2 566.04 L1720.2 566.08 L1721.2 566.12 L1722.2 566.15 L1723.2 566.19 L1724.2 566.23 L1725.2 566.26 L1726.2 566.3 L1727.2 566.34 L1728.2 566.37 L1729.2 566.4 L1730.2 566.44 L1731.2 566.47 L1732.2 566.51 L1733.2 566.54 L1734.2 566.57 L1735.2 566.6 L1736.2 566.63 L1737.2 566.66 L1738.2 566.7 L1739.2 566.73 L1740.2 566.76 L1741.2 566.78 L1742.2 566.81 L1743.2 566.84 L1744.2 566.87 L1745.2 566.9 L1746.2 566.92 L1747.2 566.95" fill="none" stroke="#873C3C" stroke-width="2.35" stroke-linejoin="round" clip-path="url(#cb)"/>
<path d="M1045.2 520.54 L1046.2 520.54 L1047.2 520.53 L1048.2 520.53 L1049.2 520.53 L1050.2 520.52 L1051.2 520.52 L1052.2 520.52 L1053.2 520.51 L1054.2 520.51 L1055.2 520.51 L1056.2 520.51 L1057.2 520.5 L1058.2 520.5 L1059.2 520.5 L1060.2 520.5 L1061.2 520.5 L1062.2 520.5 L1063.2 520.5 L1064.2 520.5 L1065.2 520.5 L1066.2 520.49 L1067.2 520.5 L1068.2 520.5 L1069.2 520.5 L1070.2 520.5 L1071.2 520.5 L1072.2 520.5 L1073.2 520.5 L1074.2 520.5 L1075.2 520.5 L1076.2 520.5 L1077.2 520.51 L1078.2 520.51 L1079.2 520.51 L1080.2 520.51 L1081.2 520.51 L1082.2 520.52 L1083.2 520.52 L1084.2 520.52 L1085.2 520.53 L1086.2 520.53 L1087.2 520.53 L1088.2 520.54 L1089.2 520.54 L1090.2 520.54 L1091.2 520.55 L1092.2 520.55 L1093.2 520.56 L1094.2 520.56 L1095.2 520.57 L1096.2 520.57 L1097.2 520.58 L1098.2 520.58 L1099.2 520.59 L1100.2 520.59 L1101.2 520.6 L1102.2 520.6 L1103.2 520.61 L1104.2 520.61 L1105.2 520.62 L1106.2 520.62 L1107.2 520.63 L1108.2 520.64 L1109.2 520.64 L1110.2 520.65 L1111.2 520.66 L1112.2 520.66 L1113.2 520.67 L1114.2 520.68 L1115.2 520.68 L1116.2 520.69 L1117.2 520.7 L1118.2 520.7 L1119.2 520.71 L1120.2 520.72 L1121.2 520.73 L1122.2 520.73 L1123.2 520.74 L1124.2 520.75 L1125.2 520.76 L1126.2 520.77 L1127.2 520.77 L1128.2 520.78 L1129.2 520.79 L1130.2 520.8 L1131.2 520.81 L1132.2 520.81 L1133.2 520.82 L1134.2 520.83 L1135.2 520.84 L1136.2 520.85 L1137.2 520.86 L1138.2 520.86 L1139.2 520.87 L1140.2 520.88 L1141.2 520.89 L1142.2 520.9 L1143.2 520.91 L1144.2 520.92 L1145.2 520.92 L1146.2 520.93 L1147.2 520.94 L1148.2 520.95 L1149.2 520.96 L1150.2 520.97 L1151.2 520.98 L1152.2 520.99 L1153.2 520.99 L1154.2 521 L1155.2 521.01 L1156.2 521.02 L1157.2 521.03 L1158.2 521.04 L1159.2 521.05 L1160.2 521.06 L1161.2 521.07 L1162.2 521.07 L1163.2 521.08 L1164.2 521.09 L1165.2 521.1 L1166.2 521.12 L1167.2 521.13 L1168.2 521.14 L1169.2 521.16 L1170.2 521.17 L1171.2 521.19 L1172.2 521.21 L1173.2 521.22 L1174.2 521.24 L1175.2 521.26 L1176.2 521.28 L1177.2 521.3 L1178.2 521.33 L1179.2 521.35 L1180.2 521.37 L1181.2 521.4 L1182.2 521.42 L1183.2 521.45 L1184.2 521.48 L1185.2 521.51 L1186.2 521.53 L1187.2 521.56 L1188.2 521.59 L1189.2 521.62 L1190.2 521.66 L1191.2 521.69 L1192.2 521.72 L1193.2 521.75 L1194.2 521.79 L1195.2 521.82 L1196.2 521.86 L1197.2 521.9 L1198.2 521.93 L1199.2 521.97 L1200.2 522.01 L1201.2 522.05 L1202.2 522.09 L1203.2 522.13 L1204.2 522.17 L1205.2 522.21 L1206.2 522.26 L1207.2 522.31 L1208.2 522.37 L1209.2 522.43 L1210.2 522.49 L1211.2 522.55 L1212.2 522.62 L1213.2 522.69 L1214.2 522.76 L1215.2 522.83 L1216.2 522.91 L1217.2 522.99 L1218.2 523.07 L1219.2 523.15 L1220.2 523.23 L1221.2 523.32 L1222.2 523.41 L1223.2 523.49 L1224.2 523.58 L1225.2 523.68 L1226.2 523.77 L1227.2 523.86 L1228.2 523.95 L1229.2 524.05 L1230.2 524.14 L1231.2 524.24 L1232.2 524.33 L1233.2 524.43 L1234.2 524.52 L1235.2 524.62 L1236.2 524.71 L1237.2 524.81 L1238.2 524.9 L1239.2 525 L1240.2 525.09 L1241.2 525.18 L1242.2 525.27 L1243.2 525.36 L1244.2 525.45 L1245.2 525.54 L1246.2 525.63 L1247.2 525.72 L1248.2 525.81 L1249.2 525.9 L1250.2 525.99 L1251.2 526.08 L1252.2 526.17 L1253.2 526.26 L1254.2 526.35 L1255.2 526.45 L1256.2 526.54 L1257.2 526.63 L1258.2 526.73 L1259.2 526.82 L1260.2 526.92 L1261.2 527.01 L1262.2 527.11 L1263.2 527.2 L1264.2 527.3 L1265.2 527.39 L1266.2 527.49 L1267.2 527.59 L1268.2 527.69 L1269.2 527.78 L1270.2 527.88 L1271.2 527.98 L1272.2 528.08 L1273.2 528.17 L1274.2 528.27 L1275.2 528.37 L1276.2 528.47 L1277.2 528.57 L1278.2 528.67 L1279.2 528.77 L1280.2 528.86 L1281.2 528.96 L1282.2 529.06 L1283.2 529.16 L1284.2 529.26 L1285.2 529.36 L1286.2 529.46 L1287.2 529.56 L1288.2 529.66 L1289.2 529.76 L1290.2 529.87 L1291.2 529.97 L1292.2 530.07 L1293.2 530.18 L1294.2 530.28 L1295.2 530.39 L1296.2 530.49 L1297.2 530.6 L1298.2 530.7 L1299.2 530.81 L1300.2 530.92 L1301.2 531.02 L1302.2 531.13 L1303.2 531.24 L1304.2 531.34 L1305.2 531.45 L1306.2 531.55 L1307.2 531.66 L1308.2 531.76 L1309.2 531.87 L1310.2 531.97 L1311.2 532.07 L1312.2 532.18 L1313.2 532.28 L1314.2 532.38 L1315.2 532.48 L1316.2 532.58 L1317.2 532.68 L1318.2 532.78 L1319.2 532.88 L1320.2 532.97 L1321.2 533.07 L1322.2 533.16 L1323.2 533.25 L1324.2 533.35 L1325.2 533.44 L1326.2 533.52 L1327.2 533.61 L1328.2 533.7 L1329.2 533.79 L1330.2 533.87 L1331.2 533.96 L1332.2 534.04 L1333.2 534.13 L1334.2 534.21 L1335.2 534.29 L1336.2 534.38 L1337.2 534.46 L1338.2 534.54 L1339.2 534.62 L1340.2 534.69 L1341.2 534.77 L1342.2 534.85 L1343.2 534.92 L1344.2 534.99 L1345.2 535.06 L1346.2 535.13 L1347.2 535.2 L1348.2 535.27 L1349.2 535.34 L1350.2 535.4 L1351.2 535.46 L1352.2 535.52 L1353.2 535.58 L1354.2 535.64 L1355.2 535.69 L1356.2 535.75 L1357.2 535.8 L1358.2 535.85 L1359.2 535.89 L1360.2 535.94 L1361.2 535.98 L1362.2 536.02 L1363.2 536.06 L1364.2 536.09 L1365.2 536.12 L1366.2 536.15 L1367.2 536.18 L1368.2 536.2 L1369.2 536.22 L1370.2 536.24 L1371.2 536.25 L1372.2 536.26 L1373.2 536.26 L1374.2 536.27 L1375.2 536.27 L1376.2 536.26 L1377.2 536.25 L1378.2 536.24 L1379.2 536.23 L1380.2 536.21 L1381.2 536.19 L1382.2 536.17 L1383.2 536.14 L1384.2 536.11 L1385.2 536.08 L1386.2 536.05 L1387.2 536.01 L1388.2 535.96 L1389.2 535.92 L1390.2 535.87 L1391.2 535.82 L1392.2 535.76 L1393.2 535.7 L1394.2 535.64 L1395.2 535.57 L1396.2 535.5 L1397.2 535.43 L1398.2 535.35 L1399.2 535.27 L1400.2 535.19 L1401.2 535.11 L1402.2 535.02 L1403.2 534.93 L1404.2 534.83 L1405.2 534.73 L1406.2 534.63 L1407.2 534.53 L1408.2 534.42 L1409.2 534.3 L1410.2 534.18 L1411.2 534.05 L1412.2 533.92 L1413.2 533.78 L1414.2 533.63 L1415.2 533.47 L1416.2 533.31 L1417.2 533.13 L1418.2 532.95 L1419.2 532.76 L1420.2 532.56 L1421.2 532.34 L1422.2 532.12 L1423.2 531.88 L1424.2 531.63 L1425.2 531.37 L1426.2 531.1 L1427.2 530.81 L1428.2 530.51 L1429.2 530.19 L1430.2 529.85 L1431.2 529.51 L1432.2 529.14 L1433.2 528.76 L1434.2 528.36 L1435.2 527.94 L1436.2 527.5 L1437.2 527.05 L1438.2 526.57 L1439.2 526.08 L1440.2 525.56 L1441.2 525.03 L1442.2 524.47 L1443.2 523.9 L1444.2 523.32 L1445.2 522.71 L1446.2 522.08 L1447.2 521.44 L1448.2 520.78 L1449.2 520.09 L1450.2 519.39 L1451.2 518.67 L1452.2 517.92 L1453.2 517.16 L1454.2 516.37 L1455.2 515.56 L1456.2 514.73 L1457.2 513.88 L1458.2 513.01 L1459.2 512.11 L1460.2 511.19 L1461.2 510.25 L1462.2 509.29 L1463.2 508.3 L1464.2 507.29 L1465.2 506.25 L1466.2 505.19 L1467.2 504.11 L1468.2 503 L1469.2 501.87 L1470.2 500.72 L1471.2 499.54 L1472.2 498.34 L1473.2 497.12 L1474.2 495.88 L1475.2 494.61 L1476.2 493.32 L1477.2 492.01 L1478.2 490.68 L1479.2 489.32 L1480.2 487.95 L1481.2 486.56 L1482.2 485.15 L1483.2 483.73 L1484.2 482.29 L1485.2 480.83 L1486.2 479.37 L1487.2 477.89 L1488.2 476.4 L1489.2 474.9 L1490.2 473.4 L1491.2 471.9 L1492.2 470.39 L1493.2 468.89 L1494.2 467.39 L1495.2 465.9 L1496.2 464.41 L1497.2 462.94 L1498.2 461.49 L1499.2 460.05 L1500.2 458.64 L1501.2 457.25 L1502.2 455.9 L1503.2 454.58 L1504.2 453.29 L1505.2 452.05 L1506.2 450.86 L1507.2 449.71 L1508.2 448.62 L1509.2 447.59 L1510.2 446.62 L1511.2 445.72 L1512.2 444.88 L1513.2 444.12 L1514.2 443.44 L1515.2 442.83 L1516.2 442.31 L1517.2 441.87 L1518.2 441.51 L1519.2 441.25 L1520.2 441.07 L1521.2 440.99 L1522.2 440.99 L1523.2 441.09 L1524.2 441.28 L1525.2 441.56 L1526.2 441.93 L1527.2 442.39 L1528.2 442.94 L1529.2 443.57 L1530.2 444.28 L1531.2 445.07 L1532.2 445.94 L1533.2 446.88 L1534.2 447.89 L1535.2 448.97 L1536.2 450.11 L1537.2 451.31 L1538.2 452.57 L1539.2 453.87 L1540.2 455.22 L1541.2 456.62 L1542.2 458.06 L1543.2 459.53 L1544.2 461.03 L1545.2 462.56 L1546.2 464.11 L1547.2 465.68 L1548.2 467.27 L1549.2 468.87 L1550.2 470.49 L1551.2 472.11 L1552.2 473.74 L1553.2 475.36 L1554.2 476.99 L1555.2 478.62 L1556.2 480.24 L1557.2 481.85 L1558.2 483.46 L1559.2 485.05 L1560.2 486.63 L1561.2 488.2 L1562.2 489.75 L1563.2 491.29 L1564.2 492.81 L1565.2 494.32 L1566.2 495.8 L1567.2 497.26 L1568.2 498.71 L1569.2 500.13 L1570.2 501.53 L1571.2 502.91 L1572.2 504.27 L1573.2 505.61 L1574.2 506.92 L1575.2 508.21 L1576.2 509.48 L1577.2 510.72 L1578.2 511.95 L1579.2 513.14 L1580.2 514.32 L1581.2 515.47 L1582.2 516.6 L1583.2 517.71 L1584.2 518.8 L1585.2 519.86 L1586.2 520.9 L1587.2 521.92 L1588.2 522.92 L1589.2 523.9 L1590.2 524.85 L1591.2 525.79 L1592.2 526.7 L1593.2 527.6 L1594.2 528.47 L1595.2 529.33 L1596.2 530.17 L1597.2 530.99 L1598.2 531.79 L1599.2 532.57 L1600.2 533.33 L1601.2 534.08 L1602.2 534.81 L1603.2 535.52 L1604.2 536.22 L1605.2 536.9 L1606.2 537.57 L1607.2 538.22 L1608.2 538.86 L1609.2 539.48 L1610.2 540.09 L1611.2 540.69 L1612.2 541.28 L1613.2 541.85 L1614.2 542.41 L1615.2 542.95 L1616.2 543.49 L1617.2 544.01 L1618.2 544.52 L1619.2 545.02 L1620.2 545.51 L1621.2 545.99 L1622.2 546.45 L1623.2 546.91 L1624.2 547.36 L1625.2 547.79 L1626.2 548.22 L1627.2 548.64 L1628.2 549.05 L1629.2 549.44 L1630.2 549.83 L1631.2 550.21 L1632.2 550.59 L1633.2 550.95 L1634.2 551.31 L1635.2 551.65 L1636.2 551.99 L1637.2 552.32 L1638.2 552.65 L1639.2 552.96 L1640.2 553.27 L1641.2 553.57 L1642.2 553.87 L1643.2 554.15 L1644.2 554.43 L1645.2 554.7 L1646.2 554.97 L1647.2 555.23 L1648.2 555.48 L1649.2 555.73 L1650.2 555.97 L1651.2 556.2 L1652.2 556.43 L1653.2 556.65 L1654.2 556.87 L1655.2 557.07 L1656.2 557.28 L1657.2 557.47 L1658.2 557.67 L1659.2 557.85 L1660.2 558.03 L1661.2 558.2 L1662.2 558.38 L1663.2 558.54 L1664.2 558.71 L1665.2 558.87 L1666.2 559.03 L1667.2 559.19 L1668.2 559.34 L1669.2 559.49 L1670.2 559.64 L1671.2 559.78 L1672.2 559.92 L1673.2 560.06 L1674.2 560.2 L1675.2 560.33 L1676.2 560.46 L1677.2 560.59 L1678.2 560.72 L1679.2 560.85 L1680.2 560.97 L1681.2 561.09 L1682.2 561.21 L1683.2 561.33 L1684.2 561.44 L1685.2 561.55 L1686.2 561.66 L1687.2 561.77 L1688.2 561.88 L1689.2 561.99 L1690.2 562.09 L1691.2 562.19 L1692.2 562.29 L1693.2 562.39 L1694.2 562.49 L1695.2 562.58 L1696.2 562.68 L1697.2 562.77 L1698.2 562.86 L1699.2 562.95 L1700.2 563.04 L1701.2 563.13 L1702.2 563.21 L1703.2 563.3 L1704.2 563.38 L1705.2 563.46 L1706.2 563.54 L1707.2 563.62 L1708.2 563.7 L1709.2 563.78 L1710.2 563.85 L1711.2 563.93 L1712.2 564 L1713.2 564.07 L1714.2 564.15 L1715.2 564.22 L1716.2 564.29 L1717.2 564.35 L1718.2 564.42 L1719.2 564.49 L1720.2 564.55 L1721.2 564.62 L1722.2 564.68 L1723.2 564.74 L1724.2 564.8 L1725.2 564.86 L1726.2 564.92 L1727.2 564.98 L1728.2 565.04 L1729.2 565.09 L1730.2 565.15 L1731.2 565.21 L1732.2 565.26 L1733.2 565.31 L1734.2 565.37 L1735.2 565.42 L1736.2 565.47 L1737.2 565.52 L1738.2 565.57 L1739.2 565.62 L1740.2 565.66 L1741.2 565.71 L1742.2 565.76 L1743.2 565.8 L1744.2 565.85 L1745.2 565.89 L1746.2 565.94 L1747.2 565.98" fill="none" stroke="#00A862" stroke-width="2.35" stroke-linejoin="round" clip-path="url(#cb)"/>
<path d="M1044 514.5 L1067 506.4 L1076.2 501.8 L1085.4 506.4 L1096.9 511 L1103.8 499.5 L1110.7 488 L1124.5 478.9 L1136 475.4 L1142.9 472 L1149.7 451.3 L1154.3 435.2 L1161.2 431.7 L1168.1 432.9 L1175 416.8 L1181.9 398.4 L1188.8 375.4 L1195.7 350.1 L1202.6 336.3 L1209.5 322.5 L1214.1 301.8 L1221 293.8 L1227.9 290.3 L1234.8 276.6 L1241.7 249 L1248.6 214.5 L1255.5 184.6 L1260.7 175.3 L1264.8 165.1 L1272.9 166.1 L1279.1 163 L1287.2 148.7 L1295.4 134.4 L1303.6 126.3 L1309.7 109.9 L1315.8 81.3 L1322 56.8 L1328.1 46.6 L1334.2 50.6 L1342.4 56.8 L1352.6 55.8 L1360.8 56.8 L1366.9 60.9 L1371 73.1 L1377.1 83.3 L1383.3 75.2 L1389.4 66 L1395.5 73.1 L1402.7 84.5 L1410.7 104.6 L1422.8 140.9 L1430.9 169.1 L1438.9 171.1 L1447 189.2 L1455 213.4 L1463.1 241.6 L1473.2 243.6 L1479.2 261.8 L1487.3 294 L1495.3 318.2 L1507.4 326.2 L1515.5 350.4 L1523.5 390.7 L1535.6 402.8 L1547.7 418.9 L1559.8 435 L1567.9 459.2 L1580 471.3 L1592.1 495.5 L1604.1 507.6 L1616.2 501.5 L1628.3 511.6 L1640.4 527.7 L1648.5 535.8 L1660 536.6 L1666.6 536.6 L1670.4 543.7 L1678 557.8 L1684.6 557.8 L1688.4 551.2 L1693.1 544.6 L1700.7 540.3 L1711.1 550.3 L1718.7 553.6 L1724.3 551.2 L1731 546 L1736.6 547.4 L1741.4 554.1 L1746.1 564.5" fill="none" stroke="#474747" stroke-width="2.35" stroke-linejoin="round" clip-path="url(#cb)"/>
<path d="M1045.2 499.48 L1046.2 499.3 L1047.2 499.13 L1048.2 498.95 L1049.2 498.77 L1050.2 498.58 L1051.2 498.4 L1052.2 498.21 L1053.2 498.02 L1054.2 497.83 L1055.2 497.63 L1056.2 497.44 L1057.2 497.24 L1058.2 497.04 L1059.2 496.84 L1060.2 496.63 L1061.2 496.42 L1062.2 496.21 L1063.2 496 L1064.2 495.78 L1065.2 495.57 L1066.2 495.35 L1067.2 495.12 L1068.2 494.9 L1069.2 494.67 L1070.2 494.44 L1071.2 494.21 L1072.2 493.97 L1073.2 493.73 L1074.2 493.49 L1075.2 493.24 L1076.2 492.99 L1077.2 492.74 L1078.2 492.49 L1079.2 492.23 L1080.2 491.97 L1081.2 491.71 L1082.2 491.44 L1083.2 491.17 L1084.2 490.9 L1085.2 490.63 L1086.2 490.36 L1087.2 490.08 L1088.2 489.8 L1089.2 489.52 L1090.2 489.24 L1091.2 488.96 L1092.2 488.67 L1093.2 488.39 L1094.2 488.1 L1095.2 487.81 L1096.2 487.51 L1097.2 487.21 L1098.2 486.91 L1099.2 486.61 L1100.2 486.3 L1101.2 485.98 L1102.2 485.66 L1103.2 485.34 L1104.2 485 L1105.2 484.67 L1106.2 484.32 L1107.2 483.97 L1108.2 483.62 L1109.2 483.26 L1110.2 482.89 L1111.2 482.51 L1112.2 482.13 L1113.2 481.75 L1114.2 481.35 L1115.2 480.95 L1116.2 480.54 L1117.2 480.13 L1118.2 479.71 L1119.2 479.29 L1120.2 478.85 L1121.2 478.41 L1122.2 477.96 L1123.2 477.51 L1124.2 477.05 L1125.2 476.57 L1126.2 476.09 L1127.2 475.6 L1128.2 475.1 L1129.2 474.59 L1130.2 474.06 L1131.2 473.53 L1132.2 472.98 L1133.2 472.42 L1134.2 471.85 L1135.2 471.26 L1136.2 470.66 L1137.2 470.04 L1138.2 469.41 L1139.2 468.76 L1140.2 468.1 L1141.2 467.42 L1142.2 466.73 L1143.2 466.01 L1144.2 465.28 L1145.2 464.53 L1146.2 463.77 L1147.2 462.98 L1148.2 462.17 L1149.2 461.34 L1150.2 460.48 L1151.2 459.61 L1152.2 458.7 L1153.2 457.77 L1154.2 456.81 L1155.2 455.82 L1156.2 454.79 L1157.2 453.73 L1158.2 452.63 L1159.2 451.48 L1160.2 450.29 L1161.2 449.06 L1162.2 447.77 L1163.2 446.44 L1164.2 445.05 L1165.2 443.62 L1166.2 442.12 L1167.2 440.58 L1168.2 438.99 L1169.2 437.34 L1170.2 435.64 L1171.2 433.9 L1172.2 432.1 L1173.2 430.26 L1174.2 428.37 L1175.2 426.44 L1176.2 424.45 L1177.2 422.42 L1178.2 420.34 L1179.2 418.22 L1180.2 416.04 L1181.2 413.82 L1182.2 411.55 L1183.2 409.22 L1184.2 406.84 L1185.2 404.41 L1186.2 401.93 L1187.2 399.39 L1188.2 396.79 L1189.2 394.14 L1190.2 391.43 L1191.2 388.66 L1192.2 385.83 L1193.2 382.94 L1194.2 379.99 L1195.2 376.98 L1196.2 373.92 L1197.2 370.79 L1198.2 367.6 L1199.2 364.35 L1200.2 361.04 L1201.2 357.68 L1202.2 354.26 L1203.2 350.79 L1204.2 347.28 L1205.2 343.71 L1206.2 340.11 L1207.2 336.47 L1208.2 332.79 L1209.2 329.07 L1210.2 325.32 L1211.2 321.54 L1212.2 317.73 L1213.2 313.88 L1214.2 310 L1215.2 306.08 L1216.2 302.12 L1217.2 298.13 L1218.2 294.1 L1219.2 290.03 L1220.2 285.94 L1221.2 281.81 L1222.2 277.66 L1223.2 273.5 L1224.2 269.32 L1225.2 265.15 L1226.2 260.99 L1227.2 256.86 L1228.2 252.76 L1229.2 248.71 L1230.2 244.73 L1231.2 240.82 L1232.2 236.99 L1233.2 233.27 L1234.2 229.66 L1235.2 226.17 L1236.2 222.82 L1237.2 219.61 L1238.2 216.55 L1239.2 213.66 L1240.2 210.93 L1241.2 208.36 L1242.2 205.97 L1243.2 203.76 L1244.2 201.71 L1245.2 199.83 L1246.2 198.13 L1247.2 196.58 L1248.2 195.2 L1249.2 193.96 L1250.2 192.87 L1251.2 191.92 L1252.2 191.09 L1253.2 190.39 L1254.2 189.8 L1255.2 189.31 L1256.2 188.91 L1257.2 188.6 L1258.2 188.36 L1259.2 188.18 L1260.2 188.06 L1261.2 187.97 L1262.2 187.92 L1263.2 187.88 L1264.2 187.85 L1265.2 187.81 L1266.2 187.76 L1267.2 187.68 L1268.2 187.56 L1269.2 187.39 L1270.2 187.16 L1271.2 186.85 L1272.2 186.45 L1273.2 185.94 L1274.2 185.33 L1275.2 184.58 L1276.2 183.69 L1277.2 182.64 L1278.2 181.43 L1279.2 180.05 L1280.2 178.49 L1281.2 176.75 L1282.2 174.83 L1283.2 172.75 L1284.2 170.5 L1285.2 168.1 L1286.2 165.57 L1287.2 162.91 L1288.2 160.14 L1289.2 157.28 L1290.2 154.34 L1291.2 151.32 L1292.2 148.24 L1293.2 145.09 L1294.2 141.88 L1295.2 138.61 L1296.2 135.28 L1297.2 131.9 L1298.2 128.46 L1299.2 124.96 L1300.2 121.41 L1301.2 117.81 L1302.2 114.17 L1303.2 110.49 L1304.2 106.79 L1305.2 103.07 L1306.2 99.34 L1307.2 95.63 L1308.2 91.93 L1309.2 88.28 L1310.2 84.68 L1311.2 81.15 L1312.2 77.7 L1313.2 74.36 L1314.2 71.13 L1315.2 68.04 L1316.2 65.08 L1317.2 62.29 L1318.2 59.65 L1319.2 57.2 L1320.2 54.93 L1321.2 52.85 L1322.2 50.97 L1323.2 49.29 L1324.2 47.82 L1325.2 46.56 L1326.2 45.52 L1327.2 44.69 L1328.2 44.07 L1329.2 43.66 L1330.2 43.46 L1331.2 43.45 L1332.2 43.64 L1333.2 44 L1334.2 44.53 L1335.2 45.22 L1336.2 46.05 L1337.2 47.01 L1338.2 48.08 L1339.2 49.25 L1340.2 50.5 L1341.2 51.82 L1342.2 53.2 L1343.2 54.61 L1344.2 56.04 L1345.2 57.49 L1346.2 58.93 L1347.2 60.36 L1348.2 61.76 L1349.2 63.11 L1350.2 64.42 L1351.2 65.66 L1352.2 66.83 L1353.2 67.92 L1354.2 68.93 L1355.2 69.85 L1356.2 70.68 L1357.2 71.42 L1358.2 72.06 L1359.2 72.62 L1360.2 73.1 L1361.2 73.49 L1362.2 73.81 L1363.2 74.05 L1364.2 74.22 L1365.2 74.33 L1366.2 74.37 L1367.2 74.36 L1368.2 74.3 L1369.2 74.19 L1370.2 74.04 L1371.2 73.85 L1372.2 73.64 L1373.2 73.41 L1374.2 73.16 L1375.2 72.91 L1376.2 72.67 L1377.2 72.43 L1378.2 72.22 L1379.2 72.04 L1380.2 71.9 L1381.2 71.81 L1382.2 71.77 L1383.2 71.8 L1384.2 71.92 L1385.2 72.11 L1386.2 72.41 L1387.2 72.8 L1388.2 73.31 L1389.2 73.94 L1390.2 74.68 L1391.2 75.55 L1392.2 76.54 L1393.2 77.64 L1394.2 78.87 L1395.2 80.2 L1396.2 81.64 L1397.2 83.18 L1398.2 84.82 L1399.2 86.54 L1400.2 88.34 L1401.2 90.21 L1402.2 92.15 L1403.2 94.14 L1404.2 96.19 L1405.2 98.29 L1406.2 100.43 L1407.2 102.59 L1408.2 104.79 L1409.2 107 L1410.2 109.23 L1411.2 111.46 L1412.2 113.69 L1413.2 115.91 L1414.2 118.1 L1415.2 120.27 L1416.2 122.41 L1417.2 124.51 L1418.2 126.56 L1419.2 128.56 L1420.2 130.52 L1421.2 132.43 L1422.2 134.29 L1423.2 136.12 L1424.2 137.9 L1425.2 139.66 L1426.2 141.4 L1427.2 143.12 L1428.2 144.83 L1429.2 146.54 L1430.2 148.24 L1431.2 149.95 L1432.2 151.67 L1433.2 153.4 L1434.2 155.15 L1435.2 156.91 L1436.2 158.7 L1437.2 160.51 L1438.2 162.35 L1439.2 164.22 L1440.2 166.12 L1441.2 168.06 L1442.2 170.05 L1443.2 172.1 L1444.2 174.2 L1445.2 176.37 L1446.2 178.61 L1447.2 180.93 L1448.2 183.33 L1449.2 185.81 L1450.2 188.39 L1451.2 191.06 L1452.2 193.83 L1453.2 196.69 L1454.2 199.64 L1455.2 202.68 L1456.2 205.81 L1457.2 209.01 L1458.2 212.29 L1459.2 215.63 L1460.2 219.02 L1461.2 222.46 L1462.2 225.93 L1463.2 229.43 L1464.2 232.94 L1465.2 236.47 L1466.2 239.99 L1467.2 243.51 L1468.2 247.01 L1469.2 250.49 L1470.2 253.94 L1471.2 257.35 L1472.2 260.72 L1473.2 264.04 L1474.2 267.3 L1475.2 270.51 L1476.2 273.64 L1477.2 276.7 L1478.2 279.68 L1479.2 282.58 L1480.2 285.39 L1481.2 288.1 L1482.2 290.72 L1483.2 293.24 L1484.2 295.66 L1485.2 297.98 L1486.2 300.19 L1487.2 302.32 L1488.2 304.34 L1489.2 306.28 L1490.2 308.13 L1491.2 309.89 L1492.2 311.57 L1493.2 313.18 L1494.2 314.71 L1495.2 316.18 L1496.2 317.59 L1497.2 318.94 L1498.2 320.24 L1499.2 321.49 L1500.2 322.7 L1501.2 323.88 L1502.2 325.02 L1503.2 326.14 L1504.2 327.23 L1505.2 328.31 L1506.2 329.37 L1507.2 330.43 L1508.2 331.49 L1509.2 332.55 L1510.2 333.62 L1511.2 334.7 L1512.2 335.79 L1513.2 336.91 L1514.2 338.05 L1515.2 339.22 L1516.2 340.42 L1517.2 341.66 L1518.2 342.94 L1519.2 344.26 L1520.2 345.62 L1521.2 347.03 L1522.2 348.5 L1523.2 350.01 L1524.2 351.58 L1525.2 353.19 L1526.2 354.86 L1527.2 356.59 L1528.2 358.36 L1529.2 360.18 L1530.2 362.05 L1531.2 363.97 L1532.2 365.93 L1533.2 367.93 L1534.2 369.97 L1535.2 372.05 L1536.2 374.17 L1537.2 376.31 L1538.2 378.49 L1539.2 380.69 L1540.2 382.91 L1541.2 385.15 L1542.2 387.41 L1543.2 389.68 L1544.2 391.97 L1545.2 394.26 L1546.2 396.56 L1547.2 398.86 L1548.2 401.16 L1549.2 403.45 L1550.2 405.74 L1551.2 408.02 L1552.2 410.28 L1553.2 412.54 L1554.2 414.78 L1555.2 417 L1556.2 419.21 L1557.2 421.39 L1558.2 423.56 L1559.2 425.71 L1560.2 427.84 L1561.2 429.95 L1562.2 432.04 L1563.2 434.11 L1564.2 436.16 L1565.2 438.19 L1566.2 440.19 L1567.2 442.17 L1568.2 444.13 L1569.2 446.07 L1570.2 447.98 L1571.2 449.86 L1572.2 451.72 L1573.2 453.55 L1574.2 455.35 L1575.2 457.13 L1576.2 458.88 L1577.2 460.6 L1578.2 462.3 L1579.2 463.98 L1580.2 465.64 L1581.2 467.27 L1582.2 468.89 L1583.2 470.49 L1584.2 472.07 L1585.2 473.63 L1586.2 475.18 L1587.2 476.71 L1588.2 478.22 L1589.2 479.72 L1590.2 481.19 L1591.2 482.65 L1592.2 484.08 L1593.2 485.49 L1594.2 486.88 L1595.2 488.24 L1596.2 489.58 L1597.2 490.89 L1598.2 492.17 L1599.2 493.42 L1600.2 494.65 L1601.2 495.84 L1602.2 497 L1603.2 498.13 L1604.2 499.23 L1605.2 500.3 L1606.2 501.34 L1607.2 502.35 L1608.2 503.33 L1609.2 504.29 L1610.2 505.22 L1611.2 506.13 L1612.2 507.01 L1613.2 507.87 L1614.2 508.72 L1615.2 509.54 L1616.2 510.35 L1617.2 511.14 L1618.2 511.92 L1619.2 512.68 L1620.2 513.42 L1621.2 514.15 L1622.2 514.87 L1623.2 515.57 L1624.2 516.26 L1625.2 516.94 L1626.2 517.6 L1627.2 518.25 L1628.2 518.89 L1629.2 519.52 L1630.2 520.14 L1631.2 520.74 L1632.2 521.34 L1633.2 521.94 L1634.2 522.52 L1635.2 523.11 L1636.2 523.69 L1637.2 524.27 L1638.2 524.86 L1639.2 525.46 L1640.2 526.07 L1641.2 526.7 L1642.2 527.34 L1643.2 528 L1644.2 528.69 L1645.2 529.39 L1646.2 530.12 L1647.2 530.86 L1648.2 531.62 L1649.2 532.39 L1650.2 533.17 L1651.2 533.96 L1652.2 534.74 L1653.2 535.5 L1654.2 536.26 L1655.2 536.99 L1656.2 537.7 L1657.2 538.37 L1658.2 539.01 L1659.2 539.61 L1660.2 540.17 L1661.2 540.69 L1662.2 541.17 L1663.2 541.61 L1664.2 542.02 L1665.2 542.4 L1666.2 542.75 L1667.2 543.08 L1668.2 543.38 L1669.2 543.67 L1670.2 543.94 L1671.2 544.2 L1672.2 544.44 L1673.2 544.68 L1674.2 544.92 L1675.2 545.14 L1676.2 545.36 L1677.2 545.58 L1678.2 545.79 L1679.2 546 L1680.2 546.21 L1681.2 546.41 L1682.2 546.61 L1683.2 546.8 L1684.2 547 L1685.2 547.18 L1686.2 547.37 L1687.2 547.55 L1688.2 547.73 L1689.2 547.91 L1690.2 548.09 L1691.2 548.26 L1692.2 548.43 L1693.2 548.6 L1694.2 548.76 L1695.2 548.92 L1696.2 549.08 L1697.2 549.24 L1698.2 549.4 L1699.2 549.56 L1700.2 549.71 L1701.2 549.87 L1702.2 550.02 L1703.2 550.18 L1704.2 550.33 L1705.2 550.49 L1706.2 550.64 L1707.2 550.8 L1708.2 550.95 L1709.2 551.11 L1710.2 551.26 L1711.2 551.42 L1712.2 551.57 L1713.2 551.72 L1714.2 551.87 L1715.2 552.02 L1716.2 552.17 L1717.2 552.32 L1718.2 552.46 L1719.2 552.6 L1720.2 552.75 L1721.2 552.89 L1722.2 553.02 L1723.2 553.16 L1724.2 553.3 L1725.2 553.43 L1726.2 553.56 L1727.2 553.69 L1728.2 553.82 L1729.2 553.95 L1730.2 554.08 L1731.2 554.2 L1732.2 554.32 L1733.2 554.44 L1734.2 554.57 L1735.2 554.68 L1736.2 554.8 L1737.2 554.92 L1738.2 555.03 L1739.2 555.15 L1740.2 555.26 L1741.2 555.37 L1742.2 555.48 L1743.2 555.59 L1744.2 555.7 L1745.2 555.8 L1746.2 555.91 L1747.2 556.01" fill="none" stroke="#FF3333" stroke-width="2.35" stroke-linejoin="round" clip-path="url(#cb)"/>
<clipPath id="cd"><rect x="1039.6" y="787.8" width="705" height="568.5"/></clipPath>
<path d="M1040.6 1298.7 L1041.6 1298.7 L1042.6 1298.7 L1043.6 1298.7 L1044.6 1298.7 L1045.6 1298.7 L1046.6 1298.71 L1047.6 1298.71 L1048.6 1298.71 L1049.6 1298.71 L1050.6 1298.71 L1051.6 1298.72 L1052.6 1298.72 L1053.6 1298.72 L1054.6 1298.73 L1055.6 1298.73 L1056.6 1298.74 L1057.6 1298.74 L1058.6 1298.74 L1059.6 1298.75 L1060.6 1298.75 L1061.6 1298.76 L1062.6 1298.77 L1063.6 1298.77 L1064.6 1298.78 L1065.6 1298.78 L1066.6 1298.79 L1067.6 1298.8 L1068.6 1298.8 L1069.6 1298.81 L1070.6 1298.82 L1071.6 1298.83 L1072.6 1298.83 L1073.6 1298.84 L1074.6 1298.85 L1075.6 1298.86 L1076.6 1298.87 L1077.6 1298.87 L1078.6 1298.88 L1079.6 1298.89 L1080.6 1298.9 L1081.6 1298.91 L1082.6 1298.92 L1083.6 1298.93 L1084.6 1298.94 L1085.6 1298.95 L1086.6 1298.96 L1087.6 1298.97 L1088.6 1298.98 L1089.6 1299 L1090.6 1299.01 L1091.6 1299.02 L1092.6 1299.03 L1093.6 1299.04 L1094.6 1299.05 L1095.6 1299.07 L1096.6 1299.08 L1097.6 1299.09 L1098.6 1299.1 L1099.6 1299.12 L1100.6 1299.13 L1101.6 1299.14 L1102.6 1299.16 L1103.6 1299.17 L1104.6 1299.18 L1105.6 1299.2 L1106.6 1299.21 L1107.6 1299.22 L1108.6 1299.24 L1109.6 1299.25 L1110.6 1299.27 L1111.6 1299.28 L1112.6 1299.3 L1113.6 1299.31 L1114.6 1299.33 L1115.6 1299.34 L1116.6 1299.36 L1117.6 1299.37 L1118.6 1299.39 L1119.6 1299.4 L1120.6 1299.42 L1121.6 1299.44 L1122.6 1299.45 L1123.6 1299.47 L1124.6 1299.48 L1125.6 1299.5 L1126.6 1299.52 L1127.6 1299.53 L1128.6 1299.55 L1129.6 1299.57 L1130.6 1299.58 L1131.6 1299.6 L1132.6 1299.62 L1133.6 1299.64 L1134.6 1299.65 L1135.6 1299.67 L1136.6 1299.69 L1137.6 1299.71 L1138.6 1299.72 L1139.6 1299.74 L1140.6 1299.76 L1141.6 1299.78 L1142.6 1299.8 L1143.6 1299.81 L1144.6 1299.83 L1145.6 1299.85 L1146.6 1299.87 L1147.6 1299.89 L1148.6 1299.91 L1149.6 1299.92 L1150.6 1299.94 L1151.6 1299.96 L1152.6 1299.98 L1153.6 1300 L1154.6 1300.02 L1155.6 1300.04 L1156.6 1300.06 L1157.6 1300.08 L1158.6 1300.11 L1159.6 1300.13 L1160.6 1300.16 L1161.6 1300.19 L1162.6 1300.21 L1163.6 1300.24 L1164.6 1300.27 L1165.6 1300.3 L1166.6 1300.33 L1167.6 1300.37 L1168.6 1300.4 L1169.6 1300.43 L1170.6 1300.47 L1171.6 1300.51 L1172.6 1300.54 L1173.6 1300.58 L1174.6 1300.62 L1175.6 1300.66 L1176.6 1300.7 L1177.6 1300.74 L1178.6 1300.78 L1179.6 1300.82 L1180.6 1300.86 L1181.6 1300.91 L1182.6 1300.95 L1183.6 1300.99 L1184.6 1301.04 L1185.6 1301.08 L1186.6 1301.13 L1187.6 1301.18 L1188.6 1301.22 L1189.6 1301.27 L1190.6 1301.32 L1191.6 1301.37 L1192.6 1301.42 L1193.6 1301.47 L1194.6 1301.52 L1195.6 1301.57 L1196.6 1301.62 L1197.6 1301.67 L1198.6 1301.72 L1199.6 1301.77 L1200.6 1301.83 L1201.6 1301.88 L1202.6 1301.93 L1203.6 1301.99 L1204.6 1302.04 L1205.6 1302.09 L1206.6 1302.15 L1207.6 1302.2 L1208.6 1302.26 L1209.6 1302.31 L1210.6 1302.36 L1211.6 1302.42 L1212.6 1302.47 L1213.6 1302.53 L1214.6 1302.58 L1215.6 1302.64 L1216.6 1302.7 L1217.6 1302.75 L1218.6 1302.81 L1219.6 1302.86 L1220.6 1302.92 L1221.6 1302.97 L1222.6 1303.03 L1223.6 1303.08 L1224.6 1303.14 L1225.6 1303.19 L1226.6 1303.25 L1227.6 1303.3 L1228.6 1303.36 L1229.6 1303.41 L1230.6 1303.47 L1231.6 1303.52 L1232.6 1303.58 L1233.6 1303.63 L1234.6 1303.69 L1235.6 1303.75 L1236.6 1303.81 L1237.6 1303.87 L1238.6 1303.92 L1239.6 1303.98 L1240.6 1304.05 L1241.6 1304.11 L1242.6 1304.17 L1243.6 1304.23 L1244.6 1304.29 L1245.6 1304.35 L1246.6 1304.42 L1247.6 1304.48 L1248.6 1304.55 L1249.6 1304.61 L1250.6 1304.68 L1251.6 1304.74 L1252.6 1304.81 L1253.6 1304.87 L1254.6 1304.94 L1255.6 1305.01 L1256.6 1305.07 L1257.6 1305.14 L1258.6 1305.21 L1259.6 1305.28 L1260.6 1305.35 L1261.6 1305.42 L1262.6 1305.49 L1263.6 1305.56 L1264.6 1305.63 L1265.6 1305.7 L1266.6 1305.77 L1267.6 1305.84 L1268.6 1305.91 L1269.6 1305.98 L1270.6 1306.05 L1271.6 1306.13 L1272.6 1306.2 L1273.6 1306.27 L1274.6 1306.34 L1275.6 1306.42 L1276.6 1306.49 L1277.6 1306.56 L1278.6 1306.64 L1279.6 1306.71 L1280.6 1306.79 L1281.6 1306.86 L1282.6 1306.93 L1283.6 1307.01 L1284.6 1307.08 L1285.6 1307.16 L1286.6 1307.23 L1287.6 1307.31 L1288.6 1307.38 L1289.6 1307.46 L1290.6 1307.53 L1291.6 1307.61 L1292.6 1307.69 L1293.6 1307.76 L1294.6 1307.84 L1295.6 1307.91 L1296.6 1307.99 L1297.6 1308.06 L1298.6 1308.14 L1299.6 1308.22 L1300.6 1308.29 L1301.6 1308.37 L1302.6 1308.44 L1303.6 1308.52 L1304.6 1308.59 L1305.6 1308.67 L1306.6 1308.74 L1307.6 1308.81 L1308.6 1308.89 L1309.6 1308.96 L1310.6 1309.04 L1311.6 1309.11 L1312.6 1309.18 L1313.6 1309.26 L1314.6 1309.33 L1315.6 1309.4 L1316.6 1309.48 L1317.6 1309.55 L1318.6 1309.62 L1319.6 1309.7 L1320.6 1309.77 L1321.6 1309.85 L1322.6 1309.92 L1323.6 1309.99 L1324.6 1310.07 L1325.6 1310.14 L1326.6 1310.21 L1327.6 1310.29 L1328.6 1310.36 L1329.6 1310.44 L1330.6 1310.51 L1331.6 1310.59 L1332.6 1310.66 L1333.6 1310.73 L1334.6 1310.81 L1335.6 1310.89 L1336.6 1310.96 L1337.6 1311.04 L1338.6 1311.11 L1339.6 1311.19 L1340.6 1311.27 L1341.6 1311.34 L1342.6 1311.42 L1343.6 1311.5 L1344.6 1311.58 L1345.6 1311.65 L1346.6 1311.73 L1347.6 1311.81 L1348.6 1311.89 L1349.6 1311.97 L1350.6 1312.05 L1351.6 1312.13 L1352.6 1312.21 L1353.6 1312.3 L1354.6 1312.38 L1355.6 1312.46 L1356.6 1312.54 L1357.6 1312.63 L1358.6 1312.71 L1359.6 1312.8 L1360.6 1312.88 L1361.6 1312.97 L1362.6 1313.05 L1363.6 1313.14 L1364.6 1313.23 L1365.6 1313.31 L1366.6 1313.4 L1367.6 1313.49 L1368.6 1313.58 L1369.6 1313.67 L1370.6 1313.77 L1371.6 1313.86 L1372.6 1313.95 L1373.6 1314.04 L1374.6 1314.14 L1375.6 1314.23 L1376.6 1314.33 L1377.6 1314.42 L1378.6 1314.52 L1379.6 1314.62 L1380.6 1314.72 L1381.6 1314.82 L1382.6 1314.92 L1383.6 1315.02 L1384.6 1315.12 L1385.6 1315.23 L1386.6 1315.33 L1387.6 1315.44 L1388.6 1315.54 L1389.6 1315.65 L1390.6 1315.76 L1391.6 1315.86 L1392.6 1315.97 L1393.6 1316.08 L1394.6 1316.2 L1395.6 1316.31 L1396.6 1316.42 L1397.6 1316.54 L1398.6 1316.65 L1399.6 1316.77 L1400.6 1316.89 L1401.6 1317.01 L1402.6 1317.14 L1403.6 1317.27 L1404.6 1317.42 L1405.6 1317.56 L1406.6 1317.72 L1407.6 1317.88 L1408.6 1318.04 L1409.6 1318.21 L1410.6 1318.38 L1411.6 1318.55 L1412.6 1318.73 L1413.6 1318.92 L1414.6 1319.1 L1415.6 1319.29 L1416.6 1319.47 L1417.6 1319.66 L1418.6 1319.85 L1419.6 1320.04 L1420.6 1320.23 L1421.6 1320.42 L1422.6 1320.61 L1423.6 1320.8 L1424.6 1320.99 L1425.6 1321.18 L1426.6 1321.36 L1427.6 1321.54 L1428.6 1321.72 L1429.6 1321.89 L1430.6 1322.06 L1431.6 1322.23 L1432.6 1322.39 L1433.6 1322.54 L1434.6 1322.7 L1435.6 1322.84 L1436.6 1322.98 L1437.6 1323.11 L1438.6 1323.24 L1439.6 1323.35 L1440.6 1323.47 L1441.6 1323.58 L1442.6 1323.68 L1443.6 1323.79 L1444.6 1323.89 L1445.6 1323.99 L1446.6 1324.09 L1447.6 1324.19 L1448.6 1324.29 L1449.6 1324.39 L1450.6 1324.48 L1451.6 1324.57 L1452.6 1324.66 L1453.6 1324.75 L1454.6 1324.84 L1455.6 1324.93 L1456.6 1325.02 L1457.6 1325.1 L1458.6 1325.18 L1459.6 1325.27 L1460.6 1325.35 L1461.6 1325.43 L1462.6 1325.51 L1463.6 1325.59 L1464.6 1325.66 L1465.6 1325.74 L1466.6 1325.82 L1467.6 1325.89 L1468.6 1325.97 L1469.6 1326.04 L1470.6 1326.11 L1471.6 1326.18 L1472.6 1326.25 L1473.6 1326.33 L1474.6 1326.4 L1475.6 1326.47 L1476.6 1326.53 L1477.6 1326.6 L1478.6 1326.67 L1479.6 1326.74 L1480.6 1326.81 L1481.6 1326.88 L1482.6 1326.94 L1483.6 1327.01 L1484.6 1327.08 L1485.6 1327.14 L1486.6 1327.21 L1487.6 1327.28 L1488.6 1327.34 L1489.6 1327.41 L1490.6 1327.48 L1491.6 1327.54 L1492.6 1327.61 L1493.6 1327.68 L1494.6 1327.75 L1495.6 1327.81 L1496.6 1327.88 L1497.6 1327.95 L1498.6 1328.02 L1499.6 1328.09 L1500.6 1328.16 L1501.6 1328.23 L1502.6 1328.3 L1503.6 1328.37 L1504.6 1328.44 L1505.6 1328.52 L1506.6 1328.59 L1507.6 1328.67 L1508.6 1328.74 L1509.6 1328.82 L1510.6 1328.89 L1511.6 1328.97 L1512.6 1329.05 L1513.6 1329.13 L1514.6 1329.21 L1515.6 1329.29 L1516.6 1329.38 L1517.6 1329.46 L1518.6 1329.55 L1519.6 1329.63 L1520.6 1329.72 L1521.6 1329.81 L1522.6 1329.9 L1523.6 1330 L1524.6 1330.1 L1525.6 1330.21 L1526.6 1330.32 L1527.6 1330.44 L1528.6 1330.55 L1529.6 1330.67 L1530.6 1330.79 L1531.6 1330.9 L1532.6 1331.02 L1533.6 1331.14 L1534.6 1331.25 L1535.6 1331.36 L1536.6 1331.47 L1537.6 1331.58 L1538.6 1331.68 L1539.6 1331.77 L1540.6 1331.86 L1541.6 1331.94 L1542.6 1332.02 L1543.6 1332.09 L1544.6 1332.15 L1545.6 1332.2 L1546.6 1332.25 L1547.6 1332.29 L1548.6 1332.34 L1549.6 1332.38 L1550.6 1332.43 L1551.6 1332.47 L1552.6 1332.51 L1553.6 1332.56 L1554.6 1332.6 L1555.6 1332.64 L1556.6 1332.68 L1557.6 1332.72 L1558.6 1332.77 L1559.6 1332.81 L1560.6 1332.85 L1561.6 1332.88 L1562.6 1332.92 L1563.6 1332.96 L1564.6 1333 L1565.6 1333.04 L1566.6 1333.08 L1567.6 1333.11 L1568.6 1333.15 L1569.6 1333.18 L1570.6 1333.22 L1571.6 1333.26 L1572.6 1333.29 L1573.6 1333.32 L1574.6 1333.36 L1575.6 1333.39 L1576.6 1333.42 L1577.6 1333.46 L1578.6 1333.49 L1579.6 1333.52 L1580.6 1333.55 L1581.6 1333.58 L1582.6 1333.61 L1583.6 1333.64 L1584.6 1333.67 L1585.6 1333.7 L1586.6 1333.73 L1587.6 1333.76 L1588.6 1333.79 L1589.6 1333.82 L1590.6 1333.85 L1591.6 1333.87 L1592.6 1333.9 L1593.6 1333.93 L1594.6 1333.95 L1595.6 1333.98 L1596.6 1334 L1597.6 1334.03 L1598.6 1334.05 L1599.6 1334.08 L1600.6 1334.1 L1601.6 1334.13 L1602.6 1334.15 L1603.6 1334.17 L1604.6 1334.19 L1605.6 1334.22 L1606.6 1334.24 L1607.6 1334.26 L1608.6 1334.28 L1609.6 1334.3 L1610.6 1334.32 L1611.6 1334.34 L1612.6 1334.36 L1613.6 1334.38 L1614.6 1334.4 L1615.6 1334.42 L1616.6 1334.44 L1617.6 1334.46 L1618.6 1334.48 L1619.6 1334.49 L1620.6 1334.51 L1621.6 1334.53 L1622.6 1334.54 L1623.6 1334.56 L1624.6 1334.58 L1625.6 1334.59 L1626.6 1334.61 L1627.6 1334.62 L1628.6 1334.64 L1629.6 1334.65 L1630.6 1334.67 L1631.6 1334.68 L1632.6 1334.69 L1633.6 1334.71 L1634.6 1334.72 L1635.6 1334.73 L1636.6 1334.75 L1637.6 1334.76 L1638.6 1334.77 L1639.6 1334.78 L1640.6 1334.79 L1641.6 1334.81 L1642.6 1334.82 L1643.6 1334.83 L1644.6 1334.84 L1645.6 1334.85 L1646.6 1334.86 L1647.6 1334.87 L1648.6 1334.88 L1649.6 1334.89 L1650.6 1334.9 L1651.6 1334.9 L1652.6 1334.91 L1653.6 1334.92 L1654.6 1334.93 L1655.6 1334.94 L1656.6 1334.95 L1657.6 1334.96 L1658.6 1334.96 L1659.6 1334.97 L1660.6 1334.98 L1661.6 1334.99 L1662.6 1335 L1663.6 1335.01 L1664.6 1335.01 L1665.6 1335.02 L1666.6 1335.03 L1667.6 1335.04 L1668.6 1335.05 L1669.6 1335.06 L1670.6 1335.06 L1671.6 1335.07 L1672.6 1335.08 L1673.6 1335.09 L1674.6 1335.09 L1675.6 1335.1 L1676.6 1335.11 L1677.6 1335.12 L1678.6 1335.12 L1679.6 1335.13 L1680.6 1335.14 L1681.6 1335.15 L1682.6 1335.15 L1683.6 1335.16 L1684.6 1335.17 L1685.6 1335.17 L1686.6 1335.18 L1687.6 1335.19 L1688.6 1335.19 L1689.6 1335.2 L1690.6 1335.21 L1691.6 1335.21 L1692.6 1335.22 L1693.6 1335.23 L1694.6 1335.23 L1695.6 1335.24 L1696.6 1335.25 L1697.6 1335.25 L1698.6 1335.26 L1699.6 1335.26 L1700.6 1335.27 L1701.6 1335.27 L1702.6 1335.28 L1703.6 1335.28 L1704.6 1335.29 L1705.6 1335.29 L1706.6 1335.3 L1707.6 1335.3 L1708.6 1335.31 L1709.6 1335.31 L1710.6 1335.32 L1711.6 1335.32 L1712.6 1335.33 L1713.6 1335.33 L1714.6 1335.34 L1715.6 1335.34 L1716.6 1335.34 L1717.6 1335.35 L1718.6 1335.35 L1719.6 1335.36 L1720.6 1335.36 L1721.6 1335.36 L1722.6 1335.37 L1723.6 1335.37 L1724.6 1335.37 L1725.6 1335.37 L1726.6 1335.38 L1727.6 1335.38 L1728.6 1335.38 L1729.6 1335.38 L1730.6 1335.39 L1731.6 1335.39 L1732.6 1335.39 L1733.6 1335.39 L1734.6 1335.39 L1735.6 1335.39 L1736.6 1335.4 L1737.6 1335.4 L1738.6 1335.4 L1739.6 1335.4 L1740.6 1335.4 L1741.6 1335.4 L1742.6 1335.4 L1743.6 1335.4" fill="none" stroke="#0A62E0" stroke-width="2.35" stroke-linejoin="round" clip-path="url(#cd)"/>
<path d="M1040.6 1286.98 L1041.6 1286.88 L1042.6 1286.77 L1043.6 1286.67 L1044.6 1286.57 L1045.6 1286.46 L1046.6 1286.36 L1047.6 1286.25 L1048.6 1286.14 L1049.6 1286.03 L1050.6 1285.92 L1051.6 1285.81 L1052.6 1285.7 L1053.6 1285.58 L1054.6 1285.47 L1055.6 1285.35 L1056.6 1285.23 L1057.6 1285.11 L1058.6 1284.99 L1059.6 1284.87 L1060.6 1284.74 L1061.6 1284.62 L1062.6 1284.49 L1063.6 1284.36 L1064.6 1284.23 L1065.6 1284.09 L1066.6 1283.96 L1067.6 1283.82 L1068.6 1283.69 L1069.6 1283.55 L1070.6 1283.4 L1071.6 1283.26 L1072.6 1283.11 L1073.6 1282.97 L1074.6 1282.81 L1075.6 1282.66 L1076.6 1282.51 L1077.6 1282.35 L1078.6 1282.19 L1079.6 1282.03 L1080.6 1281.86 L1081.6 1281.7 L1082.6 1281.53 L1083.6 1281.36 L1084.6 1281.18 L1085.6 1281 L1086.6 1280.82 L1087.6 1280.64 L1088.6 1280.45 L1089.6 1280.26 L1090.6 1280.07 L1091.6 1279.87 L1092.6 1279.67 L1093.6 1279.47 L1094.6 1279.26 L1095.6 1279.05 L1096.6 1278.84 L1097.6 1278.62 L1098.6 1278.4 L1099.6 1278.17 L1100.6 1277.94 L1101.6 1277.71 L1102.6 1277.47 L1103.6 1277.22 L1104.6 1276.98 L1105.6 1276.72 L1106.6 1276.46 L1107.6 1276.2 L1108.6 1275.93 L1109.6 1275.66 L1110.6 1275.38 L1111.6 1275.1 L1112.6 1274.8 L1113.6 1274.51 L1114.6 1274.2 L1115.6 1273.89 L1116.6 1273.58 L1117.6 1273.26 L1118.6 1272.93 L1119.6 1272.59 L1120.6 1272.24 L1121.6 1271.89 L1122.6 1271.53 L1123.6 1271.16 L1124.6 1270.79 L1125.6 1270.4 L1126.6 1270.01 L1127.6 1269.61 L1128.6 1269.2 L1129.6 1268.77 L1130.6 1268.34 L1131.6 1267.9 L1132.6 1267.45 L1133.6 1266.99 L1134.6 1266.52 L1135.6 1266.03 L1136.6 1265.54 L1137.6 1265.03 L1138.6 1264.51 L1139.6 1263.98 L1140.6 1263.43 L1141.6 1262.87 L1142.6 1262.3 L1143.6 1261.71 L1144.6 1261.11 L1145.6 1260.5 L1146.6 1259.87 L1147.6 1259.22 L1148.6 1258.56 L1149.6 1257.88 L1150.6 1257.19 L1151.6 1256.48 L1152.6 1255.75 L1153.6 1255 L1154.6 1254.24 L1155.6 1253.46 L1156.6 1252.66 L1157.6 1251.84 L1158.6 1251 L1159.6 1250.14 L1160.6 1249.27 L1161.6 1248.37 L1162.6 1247.45 L1163.6 1246.51 L1164.6 1245.55 L1165.6 1244.56 L1166.6 1243.55 L1167.6 1242.52 L1168.6 1241.47 L1169.6 1240.39 L1170.6 1239.28 L1171.6 1238.15 L1172.6 1237 L1173.6 1235.82 L1174.6 1234.61 L1175.6 1233.37 L1176.6 1232.11 L1177.6 1230.82 L1178.6 1229.5 L1179.6 1228.15 L1180.6 1226.77 L1181.6 1225.36 L1182.6 1223.92 L1183.6 1222.45 L1184.6 1220.95 L1185.6 1219.41 L1186.6 1217.85 L1187.6 1216.25 L1188.6 1214.62 L1189.6 1212.96 L1190.6 1211.26 L1191.6 1209.53 L1192.6 1207.77 L1193.6 1205.97 L1194.6 1204.14 L1195.6 1202.27 L1196.6 1200.37 L1197.6 1198.43 L1198.6 1196.46 L1199.6 1194.46 L1200.6 1192.42 L1201.6 1190.35 L1202.6 1188.24 L1203.6 1186.1 L1204.6 1183.92 L1205.6 1181.71 L1206.6 1179.47 L1207.6 1177.2 L1208.6 1174.89 L1209.6 1172.55 L1210.6 1170.19 L1211.6 1167.79 L1212.6 1165.36 L1213.6 1162.91 L1214.6 1160.43 L1215.6 1157.93 L1216.6 1155.4 L1217.6 1152.85 L1218.6 1150.28 L1219.6 1147.7 L1220.6 1145.1 L1221.6 1142.48 L1222.6 1139.85 L1223.6 1137.21 L1224.6 1134.57 L1225.6 1131.93 L1226.6 1129.28 L1227.6 1126.64 L1228.6 1124 L1229.6 1121.38 L1230.6 1118.77 L1231.6 1116.18 L1232.6 1113.61 L1233.6 1111.07 L1234.6 1108.57 L1235.6 1106.1 L1236.6 1103.67 L1237.6 1101.29 L1238.6 1098.97 L1239.6 1096.7 L1240.6 1094.49 L1241.6 1092.35 L1242.6 1090.29 L1243.6 1088.3 L1244.6 1086.4 L1245.6 1084.59 L1246.6 1082.87 L1247.6 1081.26 L1248.6 1079.75 L1249.6 1078.35 L1250.6 1077.06 L1251.6 1075.89 L1252.6 1074.84 L1253.6 1073.92 L1254.6 1073.13 L1255.6 1072.47 L1256.6 1071.94 L1257.6 1071.55 L1258.6 1071.3 L1259.6 1071.19 L1260.6 1071.22 L1261.6 1071.38 L1262.6 1071.69 L1263.6 1072.13 L1264.6 1072.72 L1265.6 1073.43 L1266.6 1074.29 L1267.6 1075.27 L1268.6 1076.38 L1269.6 1077.61 L1270.6 1078.96 L1271.6 1080.43 L1272.6 1082.02 L1273.6 1083.71 L1274.6 1085.5 L1275.6 1087.39 L1276.6 1089.38 L1277.6 1091.45 L1278.6 1093.6 L1279.6 1095.83 L1280.6 1098.13 L1281.6 1100.5 L1282.6 1102.92 L1283.6 1105.41 L1284.6 1107.94 L1285.6 1110.52 L1286.6 1113.13 L1287.6 1115.78 L1288.6 1118.47 L1289.6 1121.17 L1290.6 1123.9 L1291.6 1126.65 L1292.6 1129.41 L1293.6 1132.18 L1294.6 1134.95 L1295.6 1137.73 L1296.6 1140.5 L1297.6 1143.27 L1298.6 1146.04 L1299.6 1148.79 L1300.6 1151.53 L1301.6 1154.26 L1302.6 1156.97 L1303.6 1159.66 L1304.6 1162.33 L1305.6 1164.98 L1306.6 1167.6 L1307.6 1170.2 L1308.6 1172.77 L1309.6 1175.32 L1310.6 1177.83 L1311.6 1180.31 L1312.6 1182.77 L1313.6 1185.19 L1314.6 1187.58 L1315.6 1189.93 L1316.6 1192.25 L1317.6 1194.54 L1318.6 1196.8 L1319.6 1199.02 L1320.6 1201.2 L1321.6 1203.36 L1322.6 1205.47 L1323.6 1207.55 L1324.6 1209.6 L1325.6 1211.61 L1326.6 1213.59 L1327.6 1215.53 L1328.6 1217.44 L1329.6 1219.31 L1330.6 1221.15 L1331.6 1222.96 L1332.6 1224.73 L1333.6 1226.47 L1334.6 1228.18 L1335.6 1229.85 L1336.6 1231.49 L1337.6 1233.1 L1338.6 1234.68 L1339.6 1236.23 L1340.6 1237.74 L1341.6 1239.23 L1342.6 1240.69 L1343.6 1242.11 L1344.6 1243.51 L1345.6 1244.88 L1346.6 1246.22 L1347.6 1247.54 L1348.6 1248.83 L1349.6 1250.09 L1350.6 1251.32 L1351.6 1252.53 L1352.6 1253.72 L1353.6 1254.88 L1354.6 1256.01 L1355.6 1257.13 L1356.6 1258.22 L1357.6 1259.28 L1358.6 1260.33 L1359.6 1261.35 L1360.6 1262.35 L1361.6 1263.33 L1362.6 1264.29 L1363.6 1265.23 L1364.6 1266.15 L1365.6 1267.06 L1366.6 1267.94 L1367.6 1268.81 L1368.6 1269.65 L1369.6 1270.49 L1370.6 1271.3 L1371.6 1272.1 L1372.6 1272.88 L1373.6 1273.65 L1374.6 1274.4 L1375.6 1275.14 L1376.6 1275.86 L1377.6 1276.57 L1378.6 1277.26 L1379.6 1277.95 L1380.6 1278.62 L1381.6 1279.28 L1382.6 1279.92 L1383.6 1280.56 L1384.6 1281.18 L1385.6 1281.79 L1386.6 1282.39 L1387.6 1282.98 L1388.6 1283.56 L1389.6 1284.13 L1390.6 1284.7 L1391.6 1285.25 L1392.6 1285.79 L1393.6 1286.33 L1394.6 1286.85 L1395.6 1287.37 L1396.6 1287.88 L1397.6 1288.39 L1398.6 1288.89 L1399.6 1289.37 L1400.6 1289.86 L1401.6 1290.34 L1402.6 1290.82 L1403.6 1291.29 L1404.6 1291.77 L1405.6 1292.25 L1406.6 1292.72 L1407.6 1293.2 L1408.6 1293.67 L1409.6 1294.14 L1410.6 1294.61 L1411.6 1295.08 L1412.6 1295.54 L1413.6 1296 L1414.6 1296.46 L1415.6 1296.92 L1416.6 1297.37 L1417.6 1297.82 L1418.6 1298.27 L1419.6 1298.71 L1420.6 1299.15 L1421.6 1299.58 L1422.6 1300 L1423.6 1300.43 L1424.6 1300.84 L1425.6 1301.25 L1426.6 1301.66 L1427.6 1302.05 L1428.6 1302.44 L1429.6 1302.83 L1430.6 1303.2 L1431.6 1303.57 L1432.6 1303.93 L1433.6 1304.29 L1434.6 1304.63 L1435.6 1304.97 L1436.6 1305.29 L1437.6 1305.61 L1438.6 1305.91 L1439.6 1306.21 L1440.6 1306.5 L1441.6 1306.78 L1442.6 1307.06 L1443.6 1307.33 L1444.6 1307.6 L1445.6 1307.86 L1446.6 1308.12 L1447.6 1308.38 L1448.6 1308.63 L1449.6 1308.88 L1450.6 1309.13 L1451.6 1309.37 L1452.6 1309.6 L1453.6 1309.84 L1454.6 1310.07 L1455.6 1310.3 L1456.6 1310.52 L1457.6 1310.74 L1458.6 1310.96 L1459.6 1311.18 L1460.6 1311.39 L1461.6 1311.6 L1462.6 1311.8 L1463.6 1312.01 L1464.6 1312.21 L1465.6 1312.41 L1466.6 1312.6 L1467.6 1312.8 L1468.6 1312.99 L1469.6 1313.18 L1470.6 1313.36 L1471.6 1313.55 L1472.6 1313.73 L1473.6 1313.91 L1474.6 1314.09 L1475.6 1314.27 L1476.6 1314.44 L1477.6 1314.61 L1478.6 1314.79 L1479.6 1314.96 L1480.6 1315.12 L1481.6 1315.29 L1482.6 1315.46 L1483.6 1315.62 L1484.6 1315.78 L1485.6 1315.94 L1486.6 1316.1 L1487.6 1316.26 L1488.6 1316.42 L1489.6 1316.58 L1490.6 1316.73 L1491.6 1316.89 L1492.6 1317.04 L1493.6 1317.19 L1494.6 1317.34 L1495.6 1317.5 L1496.6 1317.65 L1497.6 1317.8 L1498.6 1317.95 L1499.6 1318.1 L1500.6 1318.24 L1501.6 1318.39 L1502.6 1318.54 L1503.6 1318.69 L1504.6 1318.84 L1505.6 1318.98 L1506.6 1319.13 L1507.6 1319.28 L1508.6 1319.42 L1509.6 1319.57 L1510.6 1319.72 L1511.6 1319.87 L1512.6 1320.01 L1513.6 1320.16 L1514.6 1320.31 L1515.6 1320.46 L1516.6 1320.61 L1517.6 1320.75 L1518.6 1320.9 L1519.6 1321.05 L1520.6 1321.2 L1521.6 1321.36 L1522.6 1321.51 L1523.6 1321.67 L1524.6 1321.83 L1525.6 1322 L1526.6 1322.17 L1527.6 1322.34 L1528.6 1322.52 L1529.6 1322.69 L1530.6 1322.86 L1531.6 1323.04 L1532.6 1323.21 L1533.6 1323.38 L1534.6 1323.55 L1535.6 1323.71 L1536.6 1323.88 L1537.6 1324.03 L1538.6 1324.19 L1539.6 1324.33 L1540.6 1324.47 L1541.6 1324.61 L1542.6 1324.73 L1543.6 1324.85 L1544.6 1324.96 L1545.6 1325.06 L1546.6 1325.15 L1547.6 1325.25 L1548.6 1325.34 L1549.6 1325.43 L1550.6 1325.52 L1551.6 1325.61 L1552.6 1325.7 L1553.6 1325.79 L1554.6 1325.87 L1555.6 1325.96 L1556.6 1326.04 L1557.6 1326.13 L1558.6 1326.21 L1559.6 1326.29 L1560.6 1326.38 L1561.6 1326.46 L1562.6 1326.54 L1563.6 1326.62 L1564.6 1326.69 L1565.6 1326.77 L1566.6 1326.85 L1567.6 1326.93 L1568.6 1327 L1569.6 1327.07 L1570.6 1327.15 L1571.6 1327.22 L1572.6 1327.29 L1573.6 1327.36 L1574.6 1327.44 L1575.6 1327.51 L1576.6 1327.57 L1577.6 1327.64 L1578.6 1327.71 L1579.6 1327.78 L1580.6 1327.84 L1581.6 1327.91 L1582.6 1327.97 L1583.6 1328.04 L1584.6 1328.1 L1585.6 1328.16 L1586.6 1328.23 L1587.6 1328.29 L1588.6 1328.35 L1589.6 1328.41 L1590.6 1328.47 L1591.6 1328.53 L1592.6 1328.58 L1593.6 1328.64 L1594.6 1328.7 L1595.6 1328.75 L1596.6 1328.81 L1597.6 1328.87 L1598.6 1328.92 L1599.6 1328.97 L1600.6 1329.03 L1601.6 1329.08 L1602.6 1329.13 L1603.6 1329.18 L1604.6 1329.23 L1605.6 1329.28 L1606.6 1329.33 L1607.6 1329.38 L1608.6 1329.43 L1609.6 1329.48 L1610.6 1329.53 L1611.6 1329.57 L1612.6 1329.62 L1613.6 1329.66 L1614.6 1329.71 L1615.6 1329.75 L1616.6 1329.8 L1617.6 1329.84 L1618.6 1329.89 L1619.6 1329.93 L1620.6 1329.97 L1621.6 1330.01 L1622.6 1330.05 L1623.6 1330.09 L1624.6 1330.13 L1625.6 1330.17 L1626.6 1330.21 L1627.6 1330.25 L1628.6 1330.29 L1629.6 1330.33 L1630.6 1330.36 L1631.6 1330.4 L1632.6 1330.44 L1633.6 1330.47 L1634.6 1330.51 L1635.6 1330.54 L1636.6 1330.58 L1637.6 1330.61 L1638.6 1330.64 L1639.6 1330.68 L1640.6 1330.71 L1641.6 1330.74 L1642.6 1330.77 L1643.6 1330.8 L1644.6 1330.84 L1645.6 1330.87 L1646.6 1330.9 L1647.6 1330.93 L1648.6 1330.96 L1649.6 1330.98 L1650.6 1331.01 L1651.6 1331.04 L1652.6 1331.07 L1653.6 1331.1 L1654.6 1331.12 L1655.6 1331.15 L1656.6 1331.18 L1657.6 1331.21 L1658.6 1331.23 L1659.6 1331.26 L1660.6 1331.29 L1661.6 1331.31 L1662.6 1331.34 L1663.6 1331.37 L1664.6 1331.39 L1665.6 1331.42 L1666.6 1331.44 L1667.6 1331.47 L1668.6 1331.49 L1669.6 1331.52 L1670.6 1331.54 L1671.6 1331.57 L1672.6 1331.59 L1673.6 1331.62 L1674.6 1331.64 L1675.6 1331.66 L1676.6 1331.69 L1677.6 1331.71 L1678.6 1331.74 L1679.6 1331.76 L1680.6 1331.78 L1681.6 1331.8 L1682.6 1331.83 L1683.6 1331.85 L1684.6 1331.87 L1685.6 1331.89 L1686.6 1331.92 L1687.6 1331.94 L1688.6 1331.96 L1689.6 1331.98 L1690.6 1332 L1691.6 1332.02 L1692.6 1332.04 L1693.6 1332.06 L1694.6 1332.09 L1695.6 1332.11 L1696.6 1332.13 L1697.6 1332.15 L1698.6 1332.17 L1699.6 1332.18 L1700.6 1332.2 L1701.6 1332.22 L1702.6 1332.24 L1703.6 1332.26 L1704.6 1332.28 L1705.6 1332.3 L1706.6 1332.32 L1707.6 1332.33 L1708.6 1332.35 L1709.6 1332.37 L1710.6 1332.39 L1711.6 1332.4 L1712.6 1332.42 L1713.6 1332.44 L1714.6 1332.46 L1715.6 1332.47 L1716.6 1332.49 L1717.6 1332.5 L1718.6 1332.52 L1719.6 1332.54 L1720.6 1332.55 L1721.6 1332.57 L1722.6 1332.58 L1723.6 1332.6 L1724.6 1332.61 L1725.6 1332.63 L1726.6 1332.64 L1727.6 1332.65 L1728.6 1332.67 L1729.6 1332.68 L1730.6 1332.69 L1731.6 1332.71 L1732.6 1332.72 L1733.6 1332.73 L1734.6 1332.75 L1735.6 1332.76 L1736.6 1332.77 L1737.6 1332.78 L1738.6 1332.79 L1739.6 1332.81 L1740.6 1332.82 L1741.6 1332.83 L1742.6 1332.84 L1743.6 1332.85" fill="none" stroke="#00CCCC" stroke-width="2.35" stroke-linejoin="round" clip-path="url(#cd)"/>
<path d="M1040.6 1290.16 L1041.6 1290.11 L1042.6 1290.06 L1043.6 1290 L1044.6 1289.95 L1045.6 1289.9 L1046.6 1289.84 L1047.6 1289.79 L1048.6 1289.73 L1049.6 1289.68 L1050.6 1289.62 L1051.6 1289.57 L1052.6 1289.51 L1053.6 1289.46 L1054.6 1289.4 L1055.6 1289.35 L1056.6 1289.29 L1057.6 1289.23 L1058.6 1289.17 L1059.6 1289.12 L1060.6 1289.06 L1061.6 1289 L1062.6 1288.94 L1063.6 1288.88 L1064.6 1288.82 L1065.6 1288.76 L1066.6 1288.7 L1067.6 1288.64 L1068.6 1288.58 L1069.6 1288.52 L1070.6 1288.45 L1071.6 1288.39 L1072.6 1288.33 L1073.6 1288.26 L1074.6 1288.2 L1075.6 1288.13 L1076.6 1288.07 L1077.6 1288 L1078.6 1287.93 L1079.6 1287.87 L1080.6 1287.8 L1081.6 1287.73 L1082.6 1287.66 L1083.6 1287.59 L1084.6 1287.52 L1085.6 1287.45 L1086.6 1287.38 L1087.6 1287.3 L1088.6 1287.23 L1089.6 1287.16 L1090.6 1287.08 L1091.6 1287.01 L1092.6 1286.93 L1093.6 1286.85 L1094.6 1286.78 L1095.6 1286.7 L1096.6 1286.62 L1097.6 1286.54 L1098.6 1286.46 L1099.6 1286.38 L1100.6 1286.29 L1101.6 1286.21 L1102.6 1286.12 L1103.6 1286.04 L1104.6 1285.95 L1105.6 1285.86 L1106.6 1285.78 L1107.6 1285.69 L1108.6 1285.6 L1109.6 1285.5 L1110.6 1285.41 L1111.6 1285.32 L1112.6 1285.22 L1113.6 1285.13 L1114.6 1285.03 L1115.6 1284.93 L1116.6 1284.83 L1117.6 1284.73 L1118.6 1284.63 L1119.6 1284.53 L1120.6 1284.42 L1121.6 1284.31 L1122.6 1284.21 L1123.6 1284.1 L1124.6 1283.99 L1125.6 1283.88 L1126.6 1283.76 L1127.6 1283.65 L1128.6 1283.53 L1129.6 1283.42 L1130.6 1283.3 L1131.6 1283.18 L1132.6 1283.05 L1133.6 1282.93 L1134.6 1282.8 L1135.6 1282.68 L1136.6 1282.55 L1137.6 1282.42 L1138.6 1282.28 L1139.6 1282.15 L1140.6 1282.01 L1141.6 1281.88 L1142.6 1281.74 L1143.6 1281.59 L1144.6 1281.45 L1145.6 1281.3 L1146.6 1281.15 L1147.6 1281 L1148.6 1280.85 L1149.6 1280.7 L1150.6 1280.54 L1151.6 1280.38 L1152.6 1280.22 L1153.6 1280.05 L1154.6 1279.89 L1155.6 1279.72 L1156.6 1279.55 L1157.6 1279.38 L1158.6 1279.2 L1159.6 1279.03 L1160.6 1278.85 L1161.6 1278.67 L1162.6 1278.49 L1163.6 1278.31 L1164.6 1278.13 L1165.6 1277.94 L1166.6 1277.75 L1167.6 1277.56 L1168.6 1277.36 L1169.6 1277.17 L1170.6 1276.97 L1171.6 1276.77 L1172.6 1276.56 L1173.6 1276.35 L1174.6 1276.14 L1175.6 1275.93 L1176.6 1275.71 L1177.6 1275.49 L1178.6 1275.26 L1179.6 1275.03 L1180.6 1274.8 L1181.6 1274.57 L1182.6 1274.33 L1183.6 1274.08 L1184.6 1273.83 L1185.6 1273.58 L1186.6 1273.32 L1187.6 1273.06 L1188.6 1272.8 L1189.6 1272.52 L1190.6 1272.25 L1191.6 1271.96 L1192.6 1271.68 L1193.6 1271.38 L1194.6 1271.08 L1195.6 1270.78 L1196.6 1270.47 L1197.6 1270.15 L1198.6 1269.83 L1199.6 1269.49 L1200.6 1269.16 L1201.6 1268.81 L1202.6 1268.46 L1203.6 1268.1 L1204.6 1267.73 L1205.6 1267.35 L1206.6 1266.97 L1207.6 1266.57 L1208.6 1266.17 L1209.6 1265.76 L1210.6 1265.34 L1211.6 1264.91 L1212.6 1264.46 L1213.6 1264.01 L1214.6 1263.55 L1215.6 1263.08 L1216.6 1262.59 L1217.6 1262.1 L1218.6 1261.59 L1219.6 1261.07 L1220.6 1260.53 L1221.6 1259.99 L1222.6 1259.43 L1223.6 1258.85 L1224.6 1258.27 L1225.6 1257.66 L1226.6 1257.05 L1227.6 1256.41 L1228.6 1255.76 L1229.6 1255.1 L1230.6 1254.42 L1231.6 1253.72 L1232.6 1253 L1233.6 1252.27 L1234.6 1251.52 L1235.6 1250.75 L1236.6 1249.96 L1237.6 1249.15 L1238.6 1248.33 L1239.6 1247.48 L1240.6 1246.61 L1241.6 1245.72 L1242.6 1244.81 L1243.6 1243.87 L1244.6 1242.91 L1245.6 1241.93 L1246.6 1240.92 L1247.6 1239.89 L1248.6 1238.83 L1249.6 1237.75 L1250.6 1236.64 L1251.6 1235.5 L1252.6 1234.33 L1253.6 1233.13 L1254.6 1231.91 L1255.6 1230.65 L1256.6 1229.37 L1257.6 1228.05 L1258.6 1226.7 L1259.6 1225.32 L1260.6 1223.9 L1261.6 1222.45 L1262.6 1220.96 L1263.6 1219.44 L1264.6 1217.89 L1265.6 1216.29 L1266.6 1214.66 L1267.6 1213 L1268.6 1211.29 L1269.6 1209.54 L1270.6 1207.75 L1271.6 1205.93 L1272.6 1204.06 L1273.6 1202.15 L1274.6 1200.19 L1275.6 1198.2 L1276.6 1196.16 L1277.6 1194.08 L1278.6 1191.95 L1279.6 1189.77 L1280.6 1187.55 L1281.6 1185.29 L1282.6 1182.98 L1283.6 1180.62 L1284.6 1178.21 L1285.6 1175.76 L1286.6 1173.25 L1287.6 1170.7 L1288.6 1168.1 L1289.6 1165.45 L1290.6 1162.76 L1291.6 1160.01 L1292.6 1157.22 L1293.6 1154.37 L1294.6 1151.48 L1295.6 1148.54 L1296.6 1145.55 L1297.6 1142.51 L1298.6 1139.42 L1299.6 1136.29 L1300.6 1133.11 L1301.6 1129.89 L1302.6 1126.62 L1303.6 1123.3 L1304.6 1119.95 L1305.6 1116.55 L1306.6 1113.11 L1307.6 1109.64 L1308.6 1106.12 L1309.6 1102.58 L1310.6 1099 L1311.6 1095.39 L1312.6 1091.75 L1313.6 1088.09 L1314.6 1084.4 L1315.6 1080.7 L1316.6 1076.98 L1317.6 1073.25 L1318.6 1069.51 L1319.6 1065.77 L1320.6 1062.02 L1321.6 1058.29 L1322.6 1054.56 L1323.6 1050.85 L1324.6 1047.16 L1325.6 1043.5 L1326.6 1039.87 L1327.6 1036.28 L1328.6 1032.74 L1329.6 1029.25 L1330.6 1025.81 L1331.6 1022.44 L1332.6 1019.15 L1333.6 1015.94 L1334.6 1012.81 L1335.6 1009.78 L1336.6 1006.86 L1337.6 1004.04 L1338.6 1001.34 L1339.6 998.77 L1340.6 996.33 L1341.6 994.03 L1342.6 991.88 L1343.6 989.88 L1344.6 988.04 L1345.6 986.37 L1346.6 984.87 L1347.6 983.54 L1348.6 982.4 L1349.6 981.44 L1350.6 980.67 L1351.6 980.08 L1352.6 979.7 L1353.6 979.51 L1354.6 979.51 L1355.6 979.71 L1356.6 980.11 L1357.6 980.7 L1358.6 981.48 L1359.6 982.45 L1360.6 983.62 L1361.6 984.96 L1362.6 986.49 L1363.6 988.19 L1364.6 990.06 L1365.6 992.1 L1366.6 994.3 L1367.6 996.65 L1368.6 999.14 L1369.6 1001.77 L1370.6 1004.54 L1371.6 1007.43 L1372.6 1010.44 L1373.6 1013.55 L1374.6 1016.77 L1375.6 1020.09 L1376.6 1023.49 L1377.6 1026.97 L1378.6 1030.52 L1379.6 1034.14 L1380.6 1037.81 L1381.6 1041.54 L1382.6 1045.32 L1383.6 1049.13 L1384.6 1052.97 L1385.6 1056.84 L1386.6 1060.73 L1387.6 1064.64 L1388.6 1068.56 L1389.6 1072.48 L1390.6 1076.4 L1391.6 1080.32 L1392.6 1084.23 L1393.6 1088.13 L1394.6 1092.02 L1395.6 1095.89 L1396.6 1099.73 L1397.6 1103.55 L1398.6 1107.35 L1399.6 1111.11 L1400.6 1114.84 L1401.6 1118.55 L1402.6 1122.22 L1403.6 1125.86 L1404.6 1129.46 L1405.6 1133.03 L1406.6 1136.57 L1407.6 1140.06 L1408.6 1143.52 L1409.6 1146.93 L1410.6 1150.3 L1411.6 1153.63 L1412.6 1156.91 L1413.6 1160.15 L1414.6 1163.34 L1415.6 1166.48 L1416.6 1169.58 L1417.6 1172.63 L1418.6 1175.63 L1419.6 1178.59 L1420.6 1181.49 L1421.6 1184.35 L1422.6 1187.15 L1423.6 1189.91 L1424.6 1192.62 L1425.6 1195.27 L1426.6 1197.88 L1427.6 1200.44 L1428.6 1202.95 L1429.6 1205.4 L1430.6 1207.81 L1431.6 1210.17 L1432.6 1212.48 L1433.6 1214.74 L1434.6 1216.95 L1435.6 1219.12 L1436.6 1221.23 L1437.6 1223.29 L1438.6 1225.31 L1439.6 1227.28 L1440.6 1229.2 L1441.6 1231.08 L1442.6 1232.92 L1443.6 1234.72 L1444.6 1236.48 L1445.6 1238.2 L1446.6 1239.89 L1447.6 1241.53 L1448.6 1243.14 L1449.6 1244.72 L1450.6 1246.25 L1451.6 1247.76 L1452.6 1249.23 L1453.6 1250.67 L1454.6 1252.07 L1455.6 1253.45 L1456.6 1254.79 L1457.6 1256.1 L1458.6 1257.38 L1459.6 1258.64 L1460.6 1259.86 L1461.6 1261.06 L1462.6 1262.23 L1463.6 1263.37 L1464.6 1264.49 L1465.6 1265.58 L1466.6 1266.65 L1467.6 1267.7 L1468.6 1268.72 L1469.6 1269.72 L1470.6 1270.69 L1471.6 1271.65 L1472.6 1272.58 L1473.6 1273.49 L1474.6 1274.39 L1475.6 1275.26 L1476.6 1276.12 L1477.6 1276.95 L1478.6 1277.77 L1479.6 1278.57 L1480.6 1279.36 L1481.6 1280.12 L1482.6 1280.88 L1483.6 1281.61 L1484.6 1282.34 L1485.6 1283.04 L1486.6 1283.73 L1487.6 1284.41 L1488.6 1285.08 L1489.6 1285.73 L1490.6 1286.37 L1491.6 1287 L1492.6 1287.62 L1493.6 1288.22 L1494.6 1288.82 L1495.6 1289.4 L1496.6 1289.97 L1497.6 1290.53 L1498.6 1291.09 L1499.6 1291.63 L1500.6 1292.17 L1501.6 1292.69 L1502.6 1293.21 L1503.6 1293.72 L1504.6 1294.22 L1505.6 1294.71 L1506.6 1295.2 L1507.6 1295.68 L1508.6 1296.15 L1509.6 1296.61 L1510.6 1297.07 L1511.6 1297.52 L1512.6 1297.97 L1513.6 1298.41 L1514.6 1298.85 L1515.6 1299.28 L1516.6 1299.7 L1517.6 1300.12 L1518.6 1300.54 L1519.6 1300.95 L1520.6 1301.35 L1521.6 1301.76 L1522.6 1302.16 L1523.6 1302.56 L1524.6 1302.96 L1525.6 1303.36 L1526.6 1303.76 L1527.6 1304.15 L1528.6 1304.55 L1529.6 1304.94 L1530.6 1305.32 L1531.6 1305.71 L1532.6 1306.08 L1533.6 1306.46 L1534.6 1306.82 L1535.6 1307.18 L1536.6 1307.54 L1537.6 1307.88 L1538.6 1308.22 L1539.6 1308.55 L1540.6 1308.87 L1541.6 1309.18 L1542.6 1309.48 L1543.6 1309.77 L1544.6 1310.05 L1545.6 1310.31 L1546.6 1310.57 L1547.6 1310.82 L1548.6 1311.07 L1549.6 1311.32 L1550.6 1311.56 L1551.6 1311.8 L1552.6 1312.04 L1553.6 1312.27 L1554.6 1312.5 L1555.6 1312.73 L1556.6 1312.95 L1557.6 1313.18 L1558.6 1313.4 L1559.6 1313.61 L1560.6 1313.82 L1561.6 1314.03 L1562.6 1314.24 L1563.6 1314.45 L1564.6 1314.65 L1565.6 1314.85 L1566.6 1315.05 L1567.6 1315.24 L1568.6 1315.43 L1569.6 1315.62 L1570.6 1315.81 L1571.6 1316 L1572.6 1316.18 L1573.6 1316.36 L1574.6 1316.54 L1575.6 1316.71 L1576.6 1316.89 L1577.6 1317.06 L1578.6 1317.23 L1579.6 1317.4 L1580.6 1317.56 L1581.6 1317.73 L1582.6 1317.89 L1583.6 1318.05 L1584.6 1318.2 L1585.6 1318.36 L1586.6 1318.51 L1587.6 1318.67 L1588.6 1318.82 L1589.6 1318.96 L1590.6 1319.11 L1591.6 1319.25 L1592.6 1319.4 L1593.6 1319.54 L1594.6 1319.68 L1595.6 1319.82 L1596.6 1319.95 L1597.6 1320.09 L1598.6 1320.22 L1599.6 1320.35 L1600.6 1320.48 L1601.6 1320.61 L1602.6 1320.74 L1603.6 1320.86 L1604.6 1320.98 L1605.6 1321.11 L1606.6 1321.23 L1607.6 1321.35 L1608.6 1321.46 L1609.6 1321.58 L1610.6 1321.7 L1611.6 1321.81 L1612.6 1321.92 L1613.6 1322.03 L1614.6 1322.14 L1615.6 1322.25 L1616.6 1322.36 L1617.6 1322.46 L1618.6 1322.57 L1619.6 1322.67 L1620.6 1322.77 L1621.6 1322.87 L1622.6 1322.97 L1623.6 1323.07 L1624.6 1323.17 L1625.6 1323.27 L1626.6 1323.36 L1627.6 1323.46 L1628.6 1323.55 L1629.6 1323.64 L1630.6 1323.73 L1631.6 1323.82 L1632.6 1323.91 L1633.6 1324 L1634.6 1324.08 L1635.6 1324.17 L1636.6 1324.25 L1637.6 1324.34 L1638.6 1324.42 L1639.6 1324.5 L1640.6 1324.58 L1641.6 1324.66 L1642.6 1324.74 L1643.6 1324.82 L1644.6 1324.9 L1645.6 1324.97 L1646.6 1325.05 L1647.6 1325.12 L1648.6 1325.19 L1649.6 1325.27 L1650.6 1325.34 L1651.6 1325.41 L1652.6 1325.48 L1653.6 1325.55 L1654.6 1325.62 L1655.6 1325.69 L1656.6 1325.75 L1657.6 1325.82 L1658.6 1325.89 L1659.6 1325.95 L1660.6 1326.02 L1661.6 1326.08 L1662.6 1326.15 L1663.6 1326.21 L1664.6 1326.27 L1665.6 1326.34 L1666.6 1326.4 L1667.6 1326.46 L1668.6 1326.52 L1669.6 1326.58 L1670.6 1326.64 L1671.6 1326.7 L1672.6 1326.76 L1673.6 1326.82 L1674.6 1326.87 L1675.6 1326.93 L1676.6 1326.99 L1677.6 1327.04 L1678.6 1327.1 L1679.6 1327.15 L1680.6 1327.21 L1681.6 1327.26 L1682.6 1327.32 L1683.6 1327.37 L1684.6 1327.42 L1685.6 1327.48 L1686.6 1327.53 L1687.6 1327.58 L1688.6 1327.63 L1689.6 1327.68 L1690.6 1327.73 L1691.6 1327.78 L1692.6 1327.83 L1693.6 1327.88 L1694.6 1327.93 L1695.6 1327.97 L1696.6 1328.02 L1697.6 1328.07 L1698.6 1328.11 L1699.6 1328.16 L1700.6 1328.21 L1701.6 1328.25 L1702.6 1328.3 L1703.6 1328.34 L1704.6 1328.38 L1705.6 1328.43 L1706.6 1328.47 L1707.6 1328.51 L1708.6 1328.55 L1709.6 1328.6 L1710.6 1328.64 L1711.6 1328.68 L1712.6 1328.72 L1713.6 1328.76 L1714.6 1328.8 L1715.6 1328.84 L1716.6 1328.88 L1717.6 1328.92 L1718.6 1328.95 L1719.6 1328.99 L1720.6 1329.03 L1721.6 1329.07 L1722.6 1329.1 L1723.6 1329.14 L1724.6 1329.17 L1725.6 1329.21 L1726.6 1329.24 L1727.6 1329.28 L1728.6 1329.31 L1729.6 1329.35 L1730.6 1329.38 L1731.6 1329.41 L1732.6 1329.45 L1733.6 1329.48 L1734.6 1329.51 L1735.6 1329.54 L1736.6 1329.57 L1737.6 1329.6 L1738.6 1329.63 L1739.6 1329.66 L1740.6 1329.69 L1741.6 1329.72 L1742.6 1329.75 L1743.6 1329.78" fill="none" stroke="#E09A00" stroke-width="2.35" stroke-linejoin="round" clip-path="url(#cd)"/>
<path d="M1040.6 1294.59 L1041.6 1294.57 L1042.6 1294.55 L1043.6 1294.53 L1044.6 1294.51 L1045.6 1294.49 L1046.6 1294.47 L1047.6 1294.45 L1048.6 1294.43 L1049.6 1294.41 L1050.6 1294.39 L1051.6 1294.37 L1052.6 1294.35 L1053.6 1294.33 L1054.6 1294.32 L1055.6 1294.3 L1056.6 1294.28 L1057.6 1294.26 L1058.6 1294.24 L1059.6 1294.22 L1060.6 1294.2 L1061.6 1294.18 L1062.6 1294.16 L1063.6 1294.14 L1064.6 1294.13 L1065.6 1294.11 L1066.6 1294.09 L1067.6 1294.07 L1068.6 1294.05 L1069.6 1294.03 L1070.6 1294.01 L1071.6 1294 L1072.6 1293.98 L1073.6 1293.96 L1074.6 1293.94 L1075.6 1293.92 L1076.6 1293.9 L1077.6 1293.88 L1078.6 1293.86 L1079.6 1293.85 L1080.6 1293.83 L1081.6 1293.81 L1082.6 1293.79 L1083.6 1293.77 L1084.6 1293.75 L1085.6 1293.73 L1086.6 1293.71 L1087.6 1293.69 L1088.6 1293.67 L1089.6 1293.66 L1090.6 1293.64 L1091.6 1293.62 L1092.6 1293.6 L1093.6 1293.58 L1094.6 1293.56 L1095.6 1293.54 L1096.6 1293.52 L1097.6 1293.5 L1098.6 1293.48 L1099.6 1293.46 L1100.6 1293.44 L1101.6 1293.42 L1102.6 1293.4 L1103.6 1293.37 L1104.6 1293.35 L1105.6 1293.33 L1106.6 1293.31 L1107.6 1293.29 L1108.6 1293.27 L1109.6 1293.25 L1110.6 1293.22 L1111.6 1293.2 L1112.6 1293.18 L1113.6 1293.16 L1114.6 1293.13 L1115.6 1293.11 L1116.6 1293.09 L1117.6 1293.06 L1118.6 1293.04 L1119.6 1293.02 L1120.6 1292.99 L1121.6 1292.97 L1122.6 1292.94 L1123.6 1292.92 L1124.6 1292.89 L1125.6 1292.87 L1126.6 1292.84 L1127.6 1292.82 L1128.6 1292.79 L1129.6 1292.76 L1130.6 1292.74 L1131.6 1292.71 L1132.6 1292.68 L1133.6 1292.65 L1134.6 1292.63 L1135.6 1292.6 L1136.6 1292.57 L1137.6 1292.54 L1138.6 1292.51 L1139.6 1292.48 L1140.6 1292.45 L1141.6 1292.42 L1142.6 1292.39 L1143.6 1292.35 L1144.6 1292.32 L1145.6 1292.29 L1146.6 1292.26 L1147.6 1292.22 L1148.6 1292.19 L1149.6 1292.16 L1150.6 1292.12 L1151.6 1292.09 L1152.6 1292.05 L1153.6 1292.01 L1154.6 1291.98 L1155.6 1291.94 L1156.6 1291.91 L1157.6 1291.87 L1158.6 1291.84 L1159.6 1291.8 L1160.6 1291.77 L1161.6 1291.74 L1162.6 1291.71 L1163.6 1291.67 L1164.6 1291.64 L1165.6 1291.61 L1166.6 1291.58 L1167.6 1291.55 L1168.6 1291.51 L1169.6 1291.48 L1170.6 1291.45 L1171.6 1291.42 L1172.6 1291.39 L1173.6 1291.36 L1174.6 1291.33 L1175.6 1291.3 L1176.6 1291.27 L1177.6 1291.24 L1178.6 1291.21 L1179.6 1291.18 L1180.6 1291.14 L1181.6 1291.11 L1182.6 1291.08 L1183.6 1291.05 L1184.6 1291.02 L1185.6 1290.99 L1186.6 1290.95 L1187.6 1290.92 L1188.6 1290.89 L1189.6 1290.85 L1190.6 1290.82 L1191.6 1290.78 L1192.6 1290.75 L1193.6 1290.71 L1194.6 1290.68 L1195.6 1290.64 L1196.6 1290.6 L1197.6 1290.56 L1198.6 1290.52 L1199.6 1290.48 L1200.6 1290.44 L1201.6 1290.4 L1202.6 1290.36 L1203.6 1290.32 L1204.6 1290.27 L1205.6 1290.23 L1206.6 1290.18 L1207.6 1290.13 L1208.6 1290.09 L1209.6 1290.04 L1210.6 1289.99 L1211.6 1289.93 L1212.6 1289.88 L1213.6 1289.83 L1214.6 1289.77 L1215.6 1289.71 L1216.6 1289.66 L1217.6 1289.6 L1218.6 1289.53 L1219.6 1289.47 L1220.6 1289.41 L1221.6 1289.34 L1222.6 1289.27 L1223.6 1289.21 L1224.6 1289.13 L1225.6 1289.06 L1226.6 1288.99 L1227.6 1288.91 L1228.6 1288.83 L1229.6 1288.75 L1230.6 1288.67 L1231.6 1288.59 L1232.6 1288.5 L1233.6 1288.41 L1234.6 1288.33 L1235.6 1288.24 L1236.6 1288.15 L1237.6 1288.05 L1238.6 1287.96 L1239.6 1287.87 L1240.6 1287.77 L1241.6 1287.67 L1242.6 1287.57 L1243.6 1287.46 L1244.6 1287.36 L1245.6 1287.25 L1246.6 1287.14 L1247.6 1287.03 L1248.6 1286.92 L1249.6 1286.8 L1250.6 1286.68 L1251.6 1286.56 L1252.6 1286.44 L1253.6 1286.31 L1254.6 1286.19 L1255.6 1286.05 L1256.6 1285.92 L1257.6 1285.78 L1258.6 1285.64 L1259.6 1285.5 L1260.6 1285.35 L1261.6 1285.2 L1262.6 1285.05 L1263.6 1284.89 L1264.6 1284.73 L1265.6 1284.57 L1266.6 1284.4 L1267.6 1284.23 L1268.6 1284.05 L1269.6 1283.87 L1270.6 1283.69 L1271.6 1283.5 L1272.6 1283.3 L1273.6 1283.1 L1274.6 1282.9 L1275.6 1282.69 L1276.6 1282.48 L1277.6 1282.26 L1278.6 1282.04 L1279.6 1281.81 L1280.6 1281.57 L1281.6 1281.33 L1282.6 1281.08 L1283.6 1280.83 L1284.6 1280.57 L1285.6 1280.3 L1286.6 1280.02 L1287.6 1279.74 L1288.6 1279.45 L1289.6 1279.16 L1290.6 1278.85 L1291.6 1278.54 L1292.6 1278.22 L1293.6 1277.89 L1294.6 1277.55 L1295.6 1277.2 L1296.6 1276.85 L1297.6 1276.48 L1298.6 1276.11 L1299.6 1275.72 L1300.6 1275.32 L1301.6 1274.92 L1302.6 1274.5 L1303.6 1274.07 L1304.6 1273.62 L1305.6 1273.17 L1306.6 1272.7 L1307.6 1272.22 L1308.6 1271.73 L1309.6 1271.22 L1310.6 1270.7 L1311.6 1270.17 L1312.6 1269.62 L1313.6 1269.06 L1314.6 1268.48 L1315.6 1267.88 L1316.6 1267.27 L1317.6 1266.64 L1318.6 1266 L1319.6 1265.34 L1320.6 1264.66 L1321.6 1263.96 L1322.6 1263.24 L1323.6 1262.51 L1324.6 1261.75 L1325.6 1260.98 L1326.6 1260.19 L1327.6 1259.37 L1328.6 1258.53 L1329.6 1257.67 L1330.6 1256.79 L1331.6 1255.89 L1332.6 1254.96 L1333.6 1254.01 L1334.6 1253.04 L1335.6 1252.04 L1336.6 1251.01 L1337.6 1249.96 L1338.6 1248.88 L1339.6 1247.78 L1340.6 1246.65 L1341.6 1245.49 L1342.6 1244.3 L1343.6 1243.09 L1344.6 1241.84 L1345.6 1240.57 L1346.6 1239.26 L1347.6 1237.93 L1348.6 1236.56 L1349.6 1235.16 L1350.6 1233.73 L1351.6 1232.27 L1352.6 1230.77 L1353.6 1229.25 L1354.6 1227.68 L1355.6 1226.09 L1356.6 1224.46 L1357.6 1222.79 L1358.6 1221.09 L1359.6 1219.35 L1360.6 1217.58 L1361.6 1215.77 L1362.6 1213.92 L1363.6 1212.04 L1364.6 1210.12 L1365.6 1208.16 L1366.6 1206.17 L1367.6 1204.14 L1368.6 1202.07 L1369.6 1199.97 L1370.6 1197.83 L1371.6 1195.65 L1372.6 1193.43 L1373.6 1191.18 L1374.6 1188.89 L1375.6 1186.57 L1376.6 1184.21 L1377.6 1181.81 L1378.6 1179.38 L1379.6 1176.92 L1380.6 1174.43 L1381.6 1171.9 L1382.6 1169.34 L1383.6 1166.76 L1384.6 1164.14 L1385.6 1161.5 L1386.6 1158.84 L1387.6 1156.15 L1388.6 1153.44 L1389.6 1150.71 L1390.6 1147.96 L1391.6 1145.2 L1392.6 1142.42 L1393.6 1139.64 L1394.6 1136.85 L1395.6 1134.05 L1396.6 1131.26 L1397.6 1128.47 L1398.6 1125.69 L1399.6 1122.91 L1400.6 1120.16 L1401.6 1117.43 L1402.6 1114.72 L1403.6 1112.06 L1404.6 1109.43 L1405.6 1106.85 L1406.6 1104.31 L1407.6 1101.83 L1408.6 1099.41 L1409.6 1097.06 L1410.6 1094.77 L1411.6 1092.57 L1412.6 1090.44 L1413.6 1088.4 L1414.6 1086.45 L1415.6 1084.6 L1416.6 1082.85 L1417.6 1081.21 L1418.6 1079.68 L1419.6 1078.28 L1420.6 1076.99 L1421.6 1075.83 L1422.6 1074.8 L1423.6 1073.91 L1424.6 1073.15 L1425.6 1072.53 L1426.6 1072.06 L1427.6 1071.73 L1428.6 1071.55 L1429.6 1071.51 L1430.6 1071.62 L1431.6 1071.87 L1432.6 1072.28 L1433.6 1072.82 L1434.6 1073.51 L1435.6 1074.35 L1436.6 1075.32 L1437.6 1076.42 L1438.6 1077.66 L1439.6 1079.02 L1440.6 1080.51 L1441.6 1082.12 L1442.6 1083.85 L1443.6 1085.69 L1444.6 1087.65 L1445.6 1089.71 L1446.6 1091.86 L1447.6 1094.11 L1448.6 1096.45 L1449.6 1098.87 L1450.6 1101.36 L1451.6 1103.92 L1452.6 1106.55 L1453.6 1109.23 L1454.6 1111.97 L1455.6 1114.75 L1456.6 1117.58 L1457.6 1120.44 L1458.6 1123.33 L1459.6 1126.25 L1460.6 1129.19 L1461.6 1132.15 L1462.6 1135.12 L1463.6 1138.1 L1464.6 1141.08 L1465.6 1144.07 L1466.6 1147.05 L1467.6 1150.02 L1468.6 1152.99 L1469.6 1155.94 L1470.6 1158.89 L1471.6 1161.81 L1472.6 1164.71 L1473.6 1167.6 L1474.6 1170.46 L1475.6 1173.29 L1476.6 1176.1 L1477.6 1178.88 L1478.6 1181.63 L1479.6 1184.35 L1480.6 1187.04 L1481.6 1189.69 L1482.6 1192.31 L1483.6 1194.9 L1484.6 1197.45 L1485.6 1199.96 L1486.6 1202.44 L1487.6 1204.89 L1488.6 1207.29 L1489.6 1209.66 L1490.6 1211.99 L1491.6 1214.28 L1492.6 1216.54 L1493.6 1218.75 L1494.6 1220.93 L1495.6 1223.08 L1496.6 1225.18 L1497.6 1227.25 L1498.6 1229.28 L1499.6 1231.27 L1500.6 1233.23 L1501.6 1235.15 L1502.6 1237.04 L1503.6 1238.89 L1504.6 1240.7 L1505.6 1242.48 L1506.6 1244.23 L1507.6 1245.94 L1508.6 1247.62 L1509.6 1249.27 L1510.6 1250.88 L1511.6 1252.46 L1512.6 1254.01 L1513.6 1255.53 L1514.6 1257.02 L1515.6 1258.48 L1516.6 1259.91 L1517.6 1261.31 L1518.6 1262.68 L1519.6 1264.03 L1520.6 1265.35 L1521.6 1266.64 L1522.6 1267.9 L1523.6 1269.15 L1524.6 1270.38 L1525.6 1271.58 L1526.6 1272.76 L1527.6 1273.92 L1528.6 1275.05 L1529.6 1276.17 L1530.6 1277.26 L1531.6 1278.33 L1532.6 1279.37 L1533.6 1280.4 L1534.6 1281.4 L1535.6 1282.37 L1536.6 1283.33 L1537.6 1284.26 L1538.6 1285.16 L1539.6 1286.04 L1540.6 1286.9 L1541.6 1287.73 L1542.6 1288.54 L1543.6 1289.32 L1544.6 1290.08 L1545.6 1290.81 L1546.6 1291.52 L1547.6 1292.22 L1548.6 1292.9 L1549.6 1293.56 L1550.6 1294.21 L1551.6 1294.85 L1552.6 1295.47 L1553.6 1296.08 L1554.6 1296.67 L1555.6 1297.25 L1556.6 1297.82 L1557.6 1298.38 L1558.6 1298.92 L1559.6 1299.45 L1560.6 1299.97 L1561.6 1300.48 L1562.6 1300.98 L1563.6 1301.47 L1564.6 1301.95 L1565.6 1302.42 L1566.6 1302.87 L1567.6 1303.32 L1568.6 1303.76 L1569.6 1304.19 L1570.6 1304.61 L1571.6 1305.03 L1572.6 1305.43 L1573.6 1305.83 L1574.6 1306.22 L1575.6 1306.6 L1576.6 1306.97 L1577.6 1307.34 L1578.6 1307.7 L1579.6 1308.05 L1580.6 1308.4 L1581.6 1308.74 L1582.6 1309.07 L1583.6 1309.4 L1584.6 1309.72 L1585.6 1310.04 L1586.6 1310.34 L1587.6 1310.65 L1588.6 1310.95 L1589.6 1311.24 L1590.6 1311.53 L1591.6 1311.81 L1592.6 1312.09 L1593.6 1312.36 L1594.6 1312.63 L1595.6 1312.89 L1596.6 1313.15 L1597.6 1313.41 L1598.6 1313.66 L1599.6 1313.91 L1600.6 1314.15 L1601.6 1314.39 L1602.6 1314.62 L1603.6 1314.85 L1604.6 1315.08 L1605.6 1315.3 L1606.6 1315.52 L1607.6 1315.74 L1608.6 1315.95 L1609.6 1316.16 L1610.6 1316.37 L1611.6 1316.57 L1612.6 1316.77 L1613.6 1316.97 L1614.6 1317.16 L1615.6 1317.35 L1616.6 1317.54 L1617.6 1317.73 L1618.6 1317.91 L1619.6 1318.09 L1620.6 1318.26 L1621.6 1318.44 L1622.6 1318.61 L1623.6 1318.78 L1624.6 1318.95 L1625.6 1319.11 L1626.6 1319.27 L1627.6 1319.43 L1628.6 1319.59 L1629.6 1319.74 L1630.6 1319.9 L1631.6 1320.05 L1632.6 1320.2 L1633.6 1320.34 L1634.6 1320.49 L1635.6 1320.63 L1636.6 1320.77 L1637.6 1320.91 L1638.6 1321.04 L1639.6 1321.18 L1640.6 1321.31 L1641.6 1321.44 L1642.6 1321.57 L1643.6 1321.7 L1644.6 1321.82 L1645.6 1321.95 L1646.6 1322.07 L1647.6 1322.19 L1648.6 1322.31 L1649.6 1322.42 L1650.6 1322.54 L1651.6 1322.65 L1652.6 1322.76 L1653.6 1322.87 L1654.6 1322.98 L1655.6 1323.09 L1656.6 1323.2 L1657.6 1323.31 L1658.6 1323.41 L1659.6 1323.51 L1660.6 1323.62 L1661.6 1323.72 L1662.6 1323.82 L1663.6 1323.92 L1664.6 1324.01 L1665.6 1324.11 L1666.6 1324.21 L1667.6 1324.3 L1668.6 1324.39 L1669.6 1324.49 L1670.6 1324.58 L1671.6 1324.67 L1672.6 1324.76 L1673.6 1324.85 L1674.6 1324.93 L1675.6 1325.02 L1676.6 1325.1 L1677.6 1325.19 L1678.6 1325.27 L1679.6 1325.35 L1680.6 1325.44 L1681.6 1325.52 L1682.6 1325.6 L1683.6 1325.68 L1684.6 1325.75 L1685.6 1325.83 L1686.6 1325.91 L1687.6 1325.98 L1688.6 1326.06 L1689.6 1326.13 L1690.6 1326.2 L1691.6 1326.28 L1692.6 1326.35 L1693.6 1326.42 L1694.6 1326.49 L1695.6 1326.56 L1696.6 1326.63 L1697.6 1326.69 L1698.6 1326.76 L1699.6 1326.83 L1700.6 1326.89 L1701.6 1326.96 L1702.6 1327.02 L1703.6 1327.08 L1704.6 1327.15 L1705.6 1327.21 L1706.6 1327.27 L1707.6 1327.33 L1708.6 1327.39 L1709.6 1327.45 L1710.6 1327.51 L1711.6 1327.57 L1712.6 1327.62 L1713.6 1327.68 L1714.6 1327.74 L1715.6 1327.79 L1716.6 1327.85 L1717.6 1327.9 L1718.6 1327.95 L1719.6 1328.01 L1720.6 1328.06 L1721.6 1328.11 L1722.6 1328.16 L1723.6 1328.21 L1724.6 1328.26 L1725.6 1328.31 L1726.6 1328.36 L1727.6 1328.41 L1728.6 1328.45 L1729.6 1328.5 L1730.6 1328.55 L1731.6 1328.59 L1732.6 1328.64 L1733.6 1328.68 L1734.6 1328.73 L1735.6 1328.77 L1736.6 1328.81 L1737.6 1328.86 L1738.6 1328.9 L1739.6 1328.94 L1740.6 1328.98 L1741.6 1329.02 L1742.6 1329.06 L1743.6 1329.1" fill="none" stroke="#C066E0" stroke-width="2.35" stroke-linejoin="round" clip-path="url(#cd)"/>
<path d="M1040.6 1296.86 L1041.6 1296.85 L1042.6 1296.84 L1043.6 1296.83 L1044.6 1296.83 L1045.6 1296.82 L1046.6 1296.82 L1047.6 1296.81 L1048.6 1296.8 L1049.6 1296.8 L1050.6 1296.79 L1051.6 1296.79 L1052.6 1296.78 L1053.6 1296.78 L1054.6 1296.77 L1055.6 1296.77 L1056.6 1296.76 L1057.6 1296.76 L1058.6 1296.76 L1059.6 1296.75 L1060.6 1296.75 L1061.6 1296.75 L1062.6 1296.74 L1063.6 1296.74 L1064.6 1296.74 L1065.6 1296.74 L1066.6 1296.73 L1067.6 1296.73 L1068.6 1296.73 L1069.6 1296.73 L1070.6 1296.72 L1071.6 1296.72 L1072.6 1296.72 L1073.6 1296.72 L1074.6 1296.72 L1075.6 1296.72 L1076.6 1296.72 L1077.6 1296.72 L1078.6 1296.72 L1079.6 1296.72 L1080.6 1296.72 L1081.6 1296.72 L1082.6 1296.72 L1083.6 1296.72 L1084.6 1296.72 L1085.6 1296.72 L1086.6 1296.72 L1087.6 1296.72 L1088.6 1296.72 L1089.6 1296.72 L1090.6 1296.72 L1091.6 1296.72 L1092.6 1296.72 L1093.6 1296.72 L1094.6 1296.72 L1095.6 1296.73 L1096.6 1296.73 L1097.6 1296.73 L1098.6 1296.73 L1099.6 1296.73 L1100.6 1296.73 L1101.6 1296.74 L1102.6 1296.74 L1103.6 1296.74 L1104.6 1296.74 L1105.6 1296.74 L1106.6 1296.75 L1107.6 1296.75 L1108.6 1296.75 L1109.6 1296.75 L1110.6 1296.76 L1111.6 1296.76 L1112.6 1296.76 L1113.6 1296.76 L1114.6 1296.77 L1115.6 1296.77 L1116.6 1296.77 L1117.6 1296.78 L1118.6 1296.78 L1119.6 1296.78 L1120.6 1296.79 L1121.6 1296.79 L1122.6 1296.79 L1123.6 1296.79 L1124.6 1296.8 L1125.6 1296.8 L1126.6 1296.8 L1127.6 1296.81 L1128.6 1296.81 L1129.6 1296.81 L1130.6 1296.82 L1131.6 1296.82 L1132.6 1296.82 L1133.6 1296.83 L1134.6 1296.83 L1135.6 1296.83 L1136.6 1296.84 L1137.6 1296.84 L1138.6 1296.84 L1139.6 1296.85 L1140.6 1296.85 L1141.6 1296.85 L1142.6 1296.86 L1143.6 1296.86 L1144.6 1296.86 L1145.6 1296.86 L1146.6 1296.87 L1147.6 1296.87 L1148.6 1296.87 L1149.6 1296.88 L1150.6 1296.88 L1151.6 1296.88 L1152.6 1296.88 L1153.6 1296.89 L1154.6 1296.89 L1155.6 1296.89 L1156.6 1296.9 L1157.6 1296.9 L1158.6 1296.91 L1159.6 1296.92 L1160.6 1296.93 L1161.6 1296.94 L1162.6 1296.95 L1163.6 1296.96 L1164.6 1296.97 L1165.6 1296.98 L1166.6 1297 L1167.6 1297.01 L1168.6 1297.03 L1169.6 1297.04 L1170.6 1297.06 L1171.6 1297.07 L1172.6 1297.09 L1173.6 1297.11 L1174.6 1297.13 L1175.6 1297.15 L1176.6 1297.17 L1177.6 1297.19 L1178.6 1297.21 L1179.6 1297.23 L1180.6 1297.25 L1181.6 1297.28 L1182.6 1297.3 L1183.6 1297.32 L1184.6 1297.35 L1185.6 1297.37 L1186.6 1297.4 L1187.6 1297.42 L1188.6 1297.45 L1189.6 1297.47 L1190.6 1297.5 L1191.6 1297.53 L1192.6 1297.55 L1193.6 1297.58 L1194.6 1297.61 L1195.6 1297.63 L1196.6 1297.66 L1197.6 1297.69 L1198.6 1297.72 L1199.6 1297.74 L1200.6 1297.77 L1201.6 1297.8 L1202.6 1297.83 L1203.6 1297.86 L1204.6 1297.89 L1205.6 1297.91 L1206.6 1297.94 L1207.6 1297.97 L1208.6 1298 L1209.6 1298.03 L1210.6 1298.05 L1211.6 1298.08 L1212.6 1298.11 L1213.6 1298.14 L1214.6 1298.17 L1215.6 1298.19 L1216.6 1298.22 L1217.6 1298.25 L1218.6 1298.27 L1219.6 1298.3 L1220.6 1298.33 L1221.6 1298.35 L1222.6 1298.38 L1223.6 1298.4 L1224.6 1298.43 L1225.6 1298.45 L1226.6 1298.48 L1227.6 1298.5 L1228.6 1298.52 L1229.6 1298.55 L1230.6 1298.57 L1231.6 1298.59 L1232.6 1298.62 L1233.6 1298.64 L1234.6 1298.66 L1235.6 1298.69 L1236.6 1298.71 L1237.6 1298.74 L1238.6 1298.76 L1239.6 1298.79 L1240.6 1298.81 L1241.6 1298.84 L1242.6 1298.86 L1243.6 1298.89 L1244.6 1298.91 L1245.6 1298.94 L1246.6 1298.96 L1247.6 1298.99 L1248.6 1299.02 L1249.6 1299.04 L1250.6 1299.07 L1251.6 1299.09 L1252.6 1299.12 L1253.6 1299.15 L1254.6 1299.17 L1255.6 1299.2 L1256.6 1299.22 L1257.6 1299.25 L1258.6 1299.27 L1259.6 1299.3 L1260.6 1299.33 L1261.6 1299.35 L1262.6 1299.38 L1263.6 1299.4 L1264.6 1299.43 L1265.6 1299.45 L1266.6 1299.47 L1267.6 1299.5 L1268.6 1299.52 L1269.6 1299.55 L1270.6 1299.57 L1271.6 1299.59 L1272.6 1299.62 L1273.6 1299.64 L1274.6 1299.66 L1275.6 1299.68 L1276.6 1299.7 L1277.6 1299.73 L1278.6 1299.75 L1279.6 1299.77 L1280.6 1299.79 L1281.6 1299.81 L1282.6 1299.82 L1283.6 1299.84 L1284.6 1299.86 L1285.6 1299.88 L1286.6 1299.89 L1287.6 1299.91 L1288.6 1299.93 L1289.6 1299.94 L1290.6 1299.96 L1291.6 1299.97 L1292.6 1299.98 L1293.6 1299.99 L1294.6 1300.01 L1295.6 1300.02 L1296.6 1300.03 L1297.6 1300.04 L1298.6 1300.04 L1299.6 1300.05 L1300.6 1300.06 L1301.6 1300.06 L1302.6 1300.07 L1303.6 1300.07 L1304.6 1300.07 L1305.6 1300.08 L1306.6 1300.08 L1307.6 1300.07 L1308.6 1300.07 L1309.6 1300.07 L1310.6 1300.07 L1311.6 1300.06 L1312.6 1300.05 L1313.6 1300.05 L1314.6 1300.04 L1315.6 1300.03 L1316.6 1300.02 L1317.6 1300 L1318.6 1299.99 L1319.6 1299.98 L1320.6 1299.96 L1321.6 1299.94 L1322.6 1299.92 L1323.6 1299.9 L1324.6 1299.88 L1325.6 1299.86 L1326.6 1299.84 L1327.6 1299.81 L1328.6 1299.79 L1329.6 1299.76 L1330.6 1299.73 L1331.6 1299.7 L1332.6 1299.67 L1333.6 1299.64 L1334.6 1299.61 L1335.6 1299.57 L1336.6 1299.54 L1337.6 1299.5 L1338.6 1299.46 L1339.6 1299.42 L1340.6 1299.37 L1341.6 1299.33 L1342.6 1299.28 L1343.6 1299.24 L1344.6 1299.19 L1345.6 1299.14 L1346.6 1299.09 L1347.6 1299.03 L1348.6 1298.98 L1349.6 1298.92 L1350.6 1298.86 L1351.6 1298.8 L1352.6 1298.73 L1353.6 1298.67 L1354.6 1298.6 L1355.6 1298.53 L1356.6 1298.46 L1357.6 1298.39 L1358.6 1298.31 L1359.6 1298.23 L1360.6 1298.15 L1361.6 1298.07 L1362.6 1297.98 L1363.6 1297.9 L1364.6 1297.8 L1365.6 1297.71 L1366.6 1297.62 L1367.6 1297.52 L1368.6 1297.41 L1369.6 1297.31 L1370.6 1297.2 L1371.6 1297.09 L1372.6 1296.98 L1373.6 1296.86 L1374.6 1296.74 L1375.6 1296.61 L1376.6 1296.48 L1377.6 1296.35 L1378.6 1296.21 L1379.6 1296.07 L1380.6 1295.93 L1381.6 1295.78 L1382.6 1295.63 L1383.6 1295.47 L1384.6 1295.31 L1385.6 1295.14 L1386.6 1294.97 L1387.6 1294.79 L1388.6 1294.61 L1389.6 1294.42 L1390.6 1294.22 L1391.6 1294.02 L1392.6 1293.82 L1393.6 1293.61 L1394.6 1293.39 L1395.6 1293.17 L1396.6 1292.94 L1397.6 1292.7 L1398.6 1292.45 L1399.6 1292.2 L1400.6 1291.94 L1401.6 1291.68 L1402.6 1291.41 L1403.6 1291.15 L1404.6 1290.87 L1405.6 1290.6 L1406.6 1290.32 L1407.6 1290.04 L1408.6 1289.75 L1409.6 1289.45 L1410.6 1289.15 L1411.6 1288.84 L1412.6 1288.52 L1413.6 1288.19 L1414.6 1287.85 L1415.6 1287.51 L1416.6 1287.15 L1417.6 1286.78 L1418.6 1286.4 L1419.6 1286 L1420.6 1285.59 L1421.6 1285.17 L1422.6 1284.73 L1423.6 1284.28 L1424.6 1283.81 L1425.6 1283.32 L1426.6 1282.82 L1427.6 1282.29 L1428.6 1281.75 L1429.6 1281.19 L1430.6 1280.61 L1431.6 1280 L1432.6 1279.38 L1433.6 1278.73 L1434.6 1278.05 L1435.6 1277.36 L1436.6 1276.64 L1437.6 1275.89 L1438.6 1275.12 L1439.6 1274.32 L1440.6 1273.49 L1441.6 1272.64 L1442.6 1271.77 L1443.6 1270.88 L1444.6 1269.96 L1445.6 1269.02 L1446.6 1268.06 L1447.6 1267.08 L1448.6 1266.07 L1449.6 1265.04 L1450.6 1263.98 L1451.6 1262.9 L1452.6 1261.8 L1453.6 1260.67 L1454.6 1259.52 L1455.6 1258.34 L1456.6 1257.14 L1457.6 1255.91 L1458.6 1254.66 L1459.6 1253.39 L1460.6 1252.09 L1461.6 1250.76 L1462.6 1249.42 L1463.6 1248.04 L1464.6 1246.65 L1465.6 1245.23 L1466.6 1243.78 L1467.6 1242.31 L1468.6 1240.82 L1469.6 1239.31 L1470.6 1237.77 L1471.6 1236.22 L1472.6 1234.64 L1473.6 1233.04 L1474.6 1231.42 L1475.6 1229.78 L1476.6 1228.13 L1477.6 1226.45 L1478.6 1224.76 L1479.6 1223.06 L1480.6 1221.34 L1481.6 1219.61 L1482.6 1217.86 L1483.6 1216.11 L1484.6 1214.35 L1485.6 1212.58 L1486.6 1210.8 L1487.6 1209.03 L1488.6 1207.25 L1489.6 1205.47 L1490.6 1203.7 L1491.6 1201.93 L1492.6 1200.17 L1493.6 1198.42 L1494.6 1196.69 L1495.6 1194.97 L1496.6 1193.27 L1497.6 1191.6 L1498.6 1189.95 L1499.6 1188.33 L1500.6 1186.74 L1501.6 1185.19 L1502.6 1183.68 L1503.6 1182.21 L1504.6 1180.79 L1505.6 1179.42 L1506.6 1178.1 L1507.6 1176.84 L1508.6 1175.64 L1509.6 1174.5 L1510.6 1173.44 L1511.6 1172.44 L1512.6 1171.52 L1513.6 1170.68 L1514.6 1169.91 L1515.6 1169.23 L1516.6 1168.63 L1517.6 1168.12 L1518.6 1167.7 L1519.6 1167.38 L1520.6 1167.14 L1521.6 1166.99 L1522.6 1166.95 L1523.6 1167 L1524.6 1167.15 L1525.6 1167.4 L1526.6 1167.74 L1527.6 1168.18 L1528.6 1168.71 L1529.6 1169.33 L1530.6 1170.04 L1531.6 1170.84 L1532.6 1171.72 L1533.6 1172.68 L1534.6 1173.72 L1535.6 1174.83 L1536.6 1176.02 L1537.6 1177.26 L1538.6 1178.57 L1539.6 1179.94 L1540.6 1181.37 L1541.6 1182.84 L1542.6 1184.36 L1543.6 1185.93 L1544.6 1187.53 L1545.6 1189.16 L1546.6 1190.83 L1547.6 1192.53 L1548.6 1194.27 L1549.6 1196.03 L1550.6 1197.82 L1551.6 1199.63 L1552.6 1201.46 L1553.6 1203.3 L1554.6 1205.16 L1555.6 1207.03 L1556.6 1208.9 L1557.6 1210.79 L1558.6 1212.67 L1559.6 1214.55 L1560.6 1216.44 L1561.6 1218.32 L1562.6 1220.19 L1563.6 1222.06 L1564.6 1223.92 L1565.6 1225.77 L1566.6 1227.61 L1567.6 1229.43 L1568.6 1231.24 L1569.6 1233.03 L1570.6 1234.81 L1571.6 1236.57 L1572.6 1238.32 L1573.6 1240.04 L1574.6 1241.74 L1575.6 1243.43 L1576.6 1245.09 L1577.6 1246.73 L1578.6 1248.35 L1579.6 1249.94 L1580.6 1251.52 L1581.6 1253.07 L1582.6 1254.6 L1583.6 1256.1 L1584.6 1257.58 L1585.6 1259.04 L1586.6 1260.47 L1587.6 1261.88 L1588.6 1263.27 L1589.6 1264.63 L1590.6 1265.97 L1591.6 1267.28 L1592.6 1268.57 L1593.6 1269.84 L1594.6 1271.09 L1595.6 1272.31 L1596.6 1273.5 L1597.6 1274.68 L1598.6 1275.83 L1599.6 1276.96 L1600.6 1278.07 L1601.6 1279.16 L1602.6 1280.22 L1603.6 1281.26 L1604.6 1282.28 L1605.6 1283.28 L1606.6 1284.26 L1607.6 1285.22 L1608.6 1286.16 L1609.6 1287.08 L1610.6 1287.98 L1611.6 1288.86 L1612.6 1289.72 L1613.6 1290.57 L1614.6 1291.39 L1615.6 1292.2 L1616.6 1292.98 L1617.6 1293.76 L1618.6 1294.51 L1619.6 1295.25 L1620.6 1295.97 L1621.6 1296.67 L1622.6 1297.36 L1623.6 1298.04 L1624.6 1298.69 L1625.6 1299.34 L1626.6 1299.97 L1627.6 1300.58 L1628.6 1301.18 L1629.6 1301.77 L1630.6 1302.34 L1631.6 1302.9 L1632.6 1303.45 L1633.6 1303.98 L1634.6 1304.51 L1635.6 1305.02 L1636.6 1305.51 L1637.6 1306 L1638.6 1306.48 L1639.6 1306.94 L1640.6 1307.4 L1641.6 1307.84 L1642.6 1308.28 L1643.6 1308.7 L1644.6 1309.11 L1645.6 1309.52 L1646.6 1309.91 L1647.6 1310.3 L1648.6 1310.68 L1649.6 1311.05 L1650.6 1311.41 L1651.6 1311.76 L1652.6 1312.11 L1653.6 1312.45 L1654.6 1312.78 L1655.6 1313.1 L1656.6 1313.42 L1657.6 1313.73 L1658.6 1314.03 L1659.6 1314.33 L1660.6 1314.62 L1661.6 1314.9 L1662.6 1315.18 L1663.6 1315.45 L1664.6 1315.72 L1665.6 1315.98 L1666.6 1316.24 L1667.6 1316.49 L1668.6 1316.74 L1669.6 1316.98 L1670.6 1317.22 L1671.6 1317.45 L1672.6 1317.68 L1673.6 1317.9 L1674.6 1318.12 L1675.6 1318.33 L1676.6 1318.55 L1677.6 1318.75 L1678.6 1318.96 L1679.6 1319.15 L1680.6 1319.35 L1681.6 1319.54 L1682.6 1319.73 L1683.6 1319.92 L1684.6 1320.1 L1685.6 1320.28 L1686.6 1320.45 L1687.6 1320.63 L1688.6 1320.8 L1689.6 1320.96 L1690.6 1321.13 L1691.6 1321.29 L1692.6 1321.45 L1693.6 1321.6 L1694.6 1321.75 L1695.6 1321.9 L1696.6 1322.05 L1697.6 1322.2 L1698.6 1322.34 L1699.6 1322.48 L1700.6 1322.62 L1701.6 1322.76 L1702.6 1322.89 L1703.6 1323.02 L1704.6 1323.15 L1705.6 1323.28 L1706.6 1323.41 L1707.6 1323.53 L1708.6 1323.65 L1709.6 1323.77 L1710.6 1323.89 L1711.6 1324.01 L1712.6 1324.12 L1713.6 1324.24 L1714.6 1324.35 L1715.6 1324.46 L1716.6 1324.57 L1717.6 1324.67 L1718.6 1324.78 L1719.6 1324.88 L1720.6 1324.98 L1721.6 1325.08 L1722.6 1325.18 L1723.6 1325.28 L1724.6 1325.38 L1725.6 1325.47 L1726.6 1325.56 L1727.6 1325.66 L1728.6 1325.75 L1729.6 1325.84 L1730.6 1325.92 L1731.6 1326.01 L1732.6 1326.1 L1733.6 1326.18 L1734.6 1326.26 L1735.6 1326.34 L1736.6 1326.42 L1737.6 1326.5 L1738.6 1326.58 L1739.6 1326.66 L1740.6 1326.73 L1741.6 1326.81 L1742.6 1326.88 L1743.6 1326.96" fill="none" stroke="#00A862" stroke-width="2.35" stroke-linejoin="round" clip-path="url(#cd)"/>
<path d="M1040 1301.5 L1047.6 1310.1 L1054.2 1309.1 L1060.8 1297.8 L1077.9 1284.5 L1096.8 1268.4 L1110.1 1258.9 L1117.6 1262.7 L1123.3 1261.8 L1134.7 1239.1 L1142.3 1227.7 L1153.6 1218.2 L1163.1 1201.2 L1168.8 1189.8 L1178.2 1178.5 L1187.7 1163.3 L1193.4 1136.8 L1201 1112.2 L1210.4 1093.3 L1217.8 1077.9 L1226 1063.6 L1236.2 1051.3 L1244.3 1030.9 L1252.5 1002.3 L1258.6 979.8 L1264.8 965.5 L1270.9 960.4 L1278 956.3 L1285.2 938.9 L1291.3 922.6 L1297.5 904.2 L1306.7 886.8 L1313.8 891.9 L1322 891.9 L1330.2 869.5 L1338.3 850.1 L1346.5 849 L1356.7 854.1 L1362.8 838.8 L1370 818.8 L1377.1 822.5 L1385.3 834.7 L1393.5 840.9 L1400.2 856.6 L1410.4 877 L1420.6 887.2 L1435 897.4 L1443.1 924 L1447.2 946.5 L1457.4 971 L1471.7 993.5 L1477.9 1009.8 L1490.1 1024.1 L1496.3 1040.5 L1504.4 1056.8 L1512.6 1058.9 L1518.7 1054.8 L1528.9 1081.3 L1537.1 1107.9 L1545.3 1124.2 L1563.2 1161.6 L1577.2 1196.8 L1584.3 1203.8 L1594.8 1207.3 L1603.6 1221.4 L1610.7 1244.3 L1619.5 1261.9 L1630 1275.9 L1637 1291.8 L1647.6 1295.3 L1656.4 1304.1 L1667 1319.9 L1674 1316.4 L1686.3 1314.6 L1696.9 1319.9 L1707.4 1323.4 L1721.5 1328.7 L1735.6 1332.2 L1744.4 1334" fill="none" stroke="#474747" stroke-width="2.35" stroke-linejoin="round" clip-path="url(#cd)"/>
<path d="M1040.6 1273.08 L1041.6 1272.89 L1042.6 1272.71 L1043.6 1272.52 L1044.6 1272.33 L1045.6 1272.13 L1046.6 1271.94 L1047.6 1271.74 L1048.6 1271.54 L1049.6 1271.33 L1050.6 1271.13 L1051.6 1270.92 L1052.6 1270.71 L1053.6 1270.5 L1054.6 1270.29 L1055.6 1270.07 L1056.6 1269.85 L1057.6 1269.63 L1058.6 1269.41 L1059.6 1269.19 L1060.6 1268.96 L1061.6 1268.73 L1062.6 1268.5 L1063.6 1268.26 L1064.6 1268.03 L1065.6 1267.79 L1066.6 1267.55 L1067.6 1267.3 L1068.6 1267.05 L1069.6 1266.8 L1070.6 1266.55 L1071.6 1266.3 L1072.6 1266.04 L1073.6 1265.78 L1074.6 1265.52 L1075.6 1265.26 L1076.6 1264.99 L1077.6 1264.72 L1078.6 1264.45 L1079.6 1264.18 L1080.6 1263.91 L1081.6 1263.63 L1082.6 1263.35 L1083.6 1263.06 L1084.6 1262.78 L1085.6 1262.49 L1086.6 1262.19 L1087.6 1261.9 L1088.6 1261.6 L1089.6 1261.29 L1090.6 1260.98 L1091.6 1260.67 L1092.6 1260.35 L1093.6 1260.03 L1094.6 1259.7 L1095.6 1259.36 L1096.6 1259.03 L1097.6 1258.68 L1098.6 1258.33 L1099.6 1257.98 L1100.6 1257.62 L1101.6 1257.25 L1102.6 1256.88 L1103.6 1256.5 L1104.6 1256.12 L1105.6 1255.73 L1106.6 1255.33 L1107.6 1254.92 L1108.6 1254.51 L1109.6 1254.09 L1110.6 1253.66 L1111.6 1253.22 L1112.6 1252.77 L1113.6 1252.31 L1114.6 1251.84 L1115.6 1251.36 L1116.6 1250.87 L1117.6 1250.37 L1118.6 1249.85 L1119.6 1249.33 L1120.6 1248.79 L1121.6 1248.25 L1122.6 1247.69 L1123.6 1247.12 L1124.6 1246.55 L1125.6 1245.96 L1126.6 1245.36 L1127.6 1244.76 L1128.6 1244.15 L1129.6 1243.53 L1130.6 1242.9 L1131.6 1242.27 L1132.6 1241.63 L1133.6 1240.98 L1134.6 1240.33 L1135.6 1239.67 L1136.6 1239.01 L1137.6 1238.34 L1138.6 1237.66 L1139.6 1236.97 L1140.6 1236.27 L1141.6 1235.56 L1142.6 1234.83 L1143.6 1234.1 L1144.6 1233.34 L1145.6 1232.57 L1146.6 1231.78 L1147.6 1230.98 L1148.6 1230.15 L1149.6 1229.3 L1150.6 1228.43 L1151.6 1227.54 L1152.6 1226.63 L1153.6 1225.69 L1154.6 1224.72 L1155.6 1223.74 L1156.6 1222.72 L1157.6 1221.68 L1158.6 1220.62 L1159.6 1219.53 L1160.6 1218.41 L1161.6 1217.27 L1162.6 1216.09 L1163.6 1214.89 L1164.6 1213.66 L1165.6 1212.39 L1166.6 1211.09 L1167.6 1209.75 L1168.6 1208.37 L1169.6 1206.96 L1170.6 1205.5 L1171.6 1204 L1172.6 1202.45 L1173.6 1200.86 L1174.6 1199.22 L1175.6 1197.54 L1176.6 1195.82 L1177.6 1194.05 L1178.6 1192.23 L1179.6 1190.38 L1180.6 1188.48 L1181.6 1186.54 L1182.6 1184.55 L1183.6 1182.53 L1184.6 1180.46 L1185.6 1178.35 L1186.6 1176.2 L1187.6 1174 L1188.6 1171.76 L1189.6 1169.48 L1190.6 1167.15 L1191.6 1164.77 L1192.6 1162.35 L1193.6 1159.88 L1194.6 1157.36 L1195.6 1154.8 L1196.6 1152.2 L1197.6 1149.54 L1198.6 1146.85 L1199.6 1144.11 L1200.6 1141.32 L1201.6 1138.5 L1202.6 1135.63 L1203.6 1132.73 L1204.6 1129.78 L1205.6 1126.8 L1206.6 1123.79 L1207.6 1120.74 L1208.6 1117.66 L1209.6 1114.55 L1210.6 1111.41 L1211.6 1108.26 L1212.6 1105.08 L1213.6 1101.9 L1214.6 1098.7 L1215.6 1095.5 L1216.6 1092.3 L1217.6 1089.1 L1218.6 1085.9 L1219.6 1082.7 L1220.6 1079.49 L1221.6 1076.29 L1222.6 1073.08 L1223.6 1069.85 L1224.6 1066.62 L1225.6 1063.36 L1226.6 1060.09 L1227.6 1056.79 L1228.6 1053.48 L1229.6 1050.14 L1230.6 1046.79 L1231.6 1043.44 L1232.6 1040.07 L1233.6 1036.7 L1234.6 1033.34 L1235.6 1029.99 L1236.6 1026.65 L1237.6 1023.32 L1238.6 1020.02 L1239.6 1016.74 L1240.6 1013.5 L1241.6 1010.28 L1242.6 1007.1 L1243.6 1003.97 L1244.6 1000.88 L1245.6 997.83 L1246.6 994.85 L1247.6 991.92 L1248.6 989.06 L1249.6 986.27 L1250.6 983.56 L1251.6 980.93 L1252.6 978.39 L1253.6 975.94 L1254.6 973.58 L1255.6 971.33 L1256.6 969.18 L1257.6 967.14 L1258.6 965.2 L1259.6 963.38 L1260.6 961.67 L1261.6 960.06 L1262.6 958.57 L1263.6 957.18 L1264.6 955.9 L1265.6 954.72 L1266.6 953.64 L1267.6 952.65 L1268.6 951.74 L1269.6 950.92 L1270.6 950.16 L1271.6 949.47 L1272.6 948.84 L1273.6 948.26 L1274.6 947.73 L1275.6 947.23 L1276.6 946.76 L1277.6 946.33 L1278.6 945.91 L1279.6 945.52 L1280.6 945.14 L1281.6 944.77 L1282.6 944.42 L1283.6 944.07 L1284.6 943.72 L1285.6 943.37 L1286.6 943.02 L1287.6 942.66 L1288.6 942.28 L1289.6 941.89 L1290.6 941.46 L1291.6 941.01 L1292.6 940.51 L1293.6 939.97 L1294.6 939.39 L1295.6 938.74 L1296.6 938.04 L1297.6 937.28 L1298.6 936.46 L1299.6 935.56 L1300.6 934.59 L1301.6 933.54 L1302.6 932.42 L1303.6 931.22 L1304.6 929.94 L1305.6 928.57 L1306.6 927.11 L1307.6 925.57 L1308.6 923.95 L1309.6 922.23 L1310.6 920.42 L1311.6 918.51 L1312.6 916.52 L1313.6 914.43 L1314.6 912.24 L1315.6 909.97 L1316.6 907.61 L1317.6 905.16 L1318.6 902.63 L1319.6 900.02 L1320.6 897.35 L1321.6 894.6 L1322.6 891.8 L1323.6 888.95 L1324.6 886.06 L1325.6 883.13 L1326.6 880.18 L1327.6 877.22 L1328.6 874.26 L1329.6 871.3 L1330.6 868.36 L1331.6 865.45 L1332.6 862.59 L1333.6 859.78 L1334.6 857.03 L1335.6 854.35 L1336.6 851.76 L1337.6 849.26 L1338.6 846.85 L1339.6 844.55 L1340.6 842.35 L1341.6 840.26 L1342.6 838.28 L1343.6 836.41 L1344.6 834.66 L1345.6 833.02 L1346.6 831.49 L1347.6 830.09 L1348.6 828.8 L1349.6 827.62 L1350.6 826.56 L1351.6 825.62 L1352.6 824.78 L1353.6 824.07 L1354.6 823.46 L1355.6 822.97 L1356.6 822.58 L1357.6 822.31 L1358.6 822.14 L1359.6 822.08 L1360.6 822.13 L1361.6 822.29 L1362.6 822.56 L1363.6 822.94 L1364.6 823.42 L1365.6 824 L1366.6 824.69 L1367.6 825.47 L1368.6 826.34 L1369.6 827.3 L1370.6 828.33 L1371.6 829.42 L1372.6 830.58 L1373.6 831.78 L1374.6 833.02 L1375.6 834.3 L1376.6 835.6 L1377.6 836.92 L1378.6 838.26 L1379.6 839.61 L1380.6 840.96 L1381.6 842.33 L1382.6 843.71 L1383.6 845.09 L1384.6 846.48 L1385.6 847.88 L1386.6 849.29 L1387.6 850.7 L1388.6 852.12 L1389.6 853.53 L1390.6 854.93 L1391.6 856.32 L1392.6 857.68 L1393.6 859.01 L1394.6 860.3 L1395.6 861.54 L1396.6 862.72 L1397.6 863.84 L1398.6 864.89 L1399.6 865.88 L1400.6 866.8 L1401.6 867.65 L1402.6 868.46 L1403.6 869.21 L1404.6 869.92 L1405.6 870.6 L1406.6 871.26 L1407.6 871.9 L1408.6 872.53 L1409.6 873.15 L1410.6 873.79 L1411.6 874.43 L1412.6 875.1 L1413.6 875.79 L1414.6 876.51 L1415.6 877.27 L1416.6 878.07 L1417.6 878.92 L1418.6 879.81 L1419.6 880.77 L1420.6 881.79 L1421.6 882.88 L1422.6 884.05 L1423.6 885.29 L1424.6 886.62 L1425.6 888.04 L1426.6 889.55 L1427.6 891.15 L1428.6 892.85 L1429.6 894.64 L1430.6 896.53 L1431.6 898.52 L1432.6 900.6 L1433.6 902.77 L1434.6 905.03 L1435.6 907.38 L1436.6 909.81 L1437.6 912.32 L1438.6 914.9 L1439.6 917.55 L1440.6 920.26 L1441.6 923.03 L1442.6 925.86 L1443.6 928.73 L1444.6 931.64 L1445.6 934.59 L1446.6 937.55 L1447.6 940.54 L1448.6 943.52 L1449.6 946.5 L1450.6 949.48 L1451.6 952.44 L1452.6 955.38 L1453.6 958.29 L1454.6 961.18 L1455.6 964.04 L1456.6 966.86 L1457.6 969.66 L1458.6 972.42 L1459.6 975.15 L1460.6 977.85 L1461.6 980.52 L1462.6 983.16 L1463.6 985.76 L1464.6 988.33 L1465.6 990.86 L1466.6 993.35 L1467.6 995.8 L1468.6 998.2 L1469.6 1000.56 L1470.6 1002.87 L1471.6 1005.12 L1472.6 1007.32 L1473.6 1009.46 L1474.6 1011.55 L1475.6 1013.57 L1476.6 1015.53 L1477.6 1017.43 L1478.6 1019.27 L1479.6 1021.05 L1480.6 1022.76 L1481.6 1024.41 L1482.6 1026 L1483.6 1027.53 L1484.6 1029 L1485.6 1030.41 L1486.6 1031.75 L1487.6 1033.05 L1488.6 1034.28 L1489.6 1035.46 L1490.6 1036.58 L1491.6 1037.65 L1492.6 1038.66 L1493.6 1039.62 L1494.6 1040.54 L1495.6 1041.4 L1496.6 1042.22 L1497.6 1043.01 L1498.6 1043.75 L1499.6 1044.46 L1500.6 1045.15 L1501.6 1045.82 L1502.6 1046.47 L1503.6 1047.11 L1504.6 1047.75 L1505.6 1048.39 L1506.6 1049.05 L1507.6 1049.72 L1508.6 1050.42 L1509.6 1051.16 L1510.6 1051.94 L1511.6 1052.76 L1512.6 1053.65 L1513.6 1054.6 L1514.6 1055.62 L1515.6 1056.71 L1516.6 1057.89 L1517.6 1059.16 L1518.6 1060.51 L1519.6 1061.95 L1520.6 1063.48 L1521.6 1065.1 L1522.6 1066.81 L1523.6 1068.61 L1524.6 1070.5 L1525.6 1072.47 L1526.6 1074.53 L1527.6 1076.66 L1528.6 1078.86 L1529.6 1081.14 L1530.6 1083.47 L1531.6 1085.86 L1532.6 1088.31 L1533.6 1090.79 L1534.6 1093.31 L1535.6 1095.85 L1536.6 1098.41 L1537.6 1100.97 L1538.6 1103.54 L1539.6 1106.09 L1540.6 1108.63 L1541.6 1111.15 L1542.6 1113.64 L1543.6 1116.11 L1544.6 1118.55 L1545.6 1120.96 L1546.6 1123.35 L1547.6 1125.72 L1548.6 1128.09 L1549.6 1130.44 L1550.6 1132.79 L1551.6 1135.13 L1552.6 1137.48 L1553.6 1139.82 L1554.6 1142.16 L1555.6 1144.5 L1556.6 1146.85 L1557.6 1149.19 L1558.6 1151.54 L1559.6 1153.9 L1560.6 1156.25 L1561.6 1158.62 L1562.6 1160.98 L1563.6 1163.35 L1564.6 1165.72 L1565.6 1168.09 L1566.6 1170.45 L1567.6 1172.82 L1568.6 1175.17 L1569.6 1177.51 L1570.6 1179.84 L1571.6 1182.16 L1572.6 1184.46 L1573.6 1186.74 L1574.6 1189 L1575.6 1191.24 L1576.6 1193.46 L1577.6 1195.66 L1578.6 1197.84 L1579.6 1199.99 L1580.6 1202.13 L1581.6 1204.24 L1582.6 1206.33 L1583.6 1208.4 L1584.6 1210.45 L1585.6 1212.48 L1586.6 1214.48 L1587.6 1216.45 L1588.6 1218.4 L1589.6 1220.33 L1590.6 1222.22 L1591.6 1224.09 L1592.6 1225.93 L1593.6 1227.74 L1594.6 1229.52 L1595.6 1231.27 L1596.6 1233 L1597.6 1234.69 L1598.6 1236.35 L1599.6 1237.98 L1600.6 1239.58 L1601.6 1241.14 L1602.6 1242.67 L1603.6 1244.17 L1604.6 1245.63 L1605.6 1247.06 L1606.6 1248.46 L1607.6 1249.81 L1608.6 1251.14 L1609.6 1252.43 L1610.6 1253.68 L1611.6 1254.91 L1612.6 1256.1 L1613.6 1257.27 L1614.6 1258.41 L1615.6 1259.52 L1616.6 1260.6 L1617.6 1261.66 L1618.6 1262.7 L1619.6 1263.72 L1620.6 1264.71 L1621.6 1265.68 L1622.6 1266.64 L1623.6 1267.57 L1624.6 1268.49 L1625.6 1269.38 L1626.6 1270.26 L1627.6 1271.11 L1628.6 1271.95 L1629.6 1272.77 L1630.6 1273.56 L1631.6 1274.34 L1632.6 1275.1 L1633.6 1275.84 L1634.6 1276.56 L1635.6 1277.27 L1636.6 1277.95 L1637.6 1278.62 L1638.6 1279.27 L1639.6 1279.91 L1640.6 1280.53 L1641.6 1281.14 L1642.6 1281.73 L1643.6 1282.31 L1644.6 1282.87 L1645.6 1283.42 L1646.6 1283.97 L1647.6 1284.49 L1648.6 1285.01 L1649.6 1285.52 L1650.6 1286.02 L1651.6 1286.51 L1652.6 1286.98 L1653.6 1287.45 L1654.6 1287.91 L1655.6 1288.36 L1656.6 1288.8 L1657.6 1289.23 L1658.6 1289.66 L1659.6 1290.08 L1660.6 1290.49 L1661.6 1290.89 L1662.6 1291.29 L1663.6 1291.68 L1664.6 1292.07 L1665.6 1292.45 L1666.6 1292.83 L1667.6 1293.2 L1668.6 1293.57 L1669.6 1293.94 L1670.6 1294.3 L1671.6 1294.66 L1672.6 1295.01 L1673.6 1295.37 L1674.6 1295.72 L1675.6 1296.06 L1676.6 1296.4 L1677.6 1296.74 L1678.6 1297.07 L1679.6 1297.4 L1680.6 1297.72 L1681.6 1298.04 L1682.6 1298.36 L1683.6 1298.67 L1684.6 1298.97 L1685.6 1299.28 L1686.6 1299.57 L1687.6 1299.87 L1688.6 1300.15 L1689.6 1300.44 L1690.6 1300.72 L1691.6 1301 L1692.6 1301.27 L1693.6 1301.54 L1694.6 1301.81 L1695.6 1302.07 L1696.6 1302.33 L1697.6 1302.59 L1698.6 1302.85 L1699.6 1303.11 L1700.6 1303.36 L1701.6 1303.61 L1702.6 1303.87 L1703.6 1304.12 L1704.6 1304.37 L1705.6 1304.62 L1706.6 1304.87 L1707.6 1305.12 L1708.6 1305.37 L1709.6 1305.62 L1710.6 1305.86 L1711.6 1306.11 L1712.6 1306.35 L1713.6 1306.59 L1714.6 1306.83 L1715.6 1307.07 L1716.6 1307.31 L1717.6 1307.54 L1718.6 1307.77 L1719.6 1308 L1720.6 1308.23 L1721.6 1308.45 L1722.6 1308.68 L1723.6 1308.9 L1724.6 1309.12 L1725.6 1309.33 L1726.6 1309.55 L1727.6 1309.76 L1728.6 1309.97 L1729.6 1310.17 L1730.6 1310.38 L1731.6 1310.58 L1732.6 1310.78 L1733.6 1310.98 L1734.6 1311.18 L1735.6 1311.37 L1736.6 1311.56 L1737.6 1311.75 L1738.6 1311.93 L1739.6 1312.11 L1740.6 1312.29 L1741.6 1312.47 L1742.6 1312.64 L1743.6 1312.8" fill="none" stroke="#FF3333" stroke-width="2.35" stroke-linejoin="round" clip-path="url(#cd)"/>
<clipPath id="cc"><rect x="116.7" y="787.8" width="712.6" height="573.4"/></clipPath>
<path d="M117.7 1155.7 L118.7 1155.71 L119.7 1155.71 L120.7 1155.72 L121.7 1155.73 L122.7 1155.74 L123.7 1155.75 L124.7 1155.76 L125.7 1155.77 L126.7 1155.79 L127.7 1155.8 L128.7 1155.82 L129.7 1155.84 L130.7 1155.86 L131.7 1155.88 L132.7 1155.91 L133.7 1155.93 L134.7 1155.96 L135.7 1155.98 L136.7 1156.01 L137.7 1156.04 L138.7 1156.07 L139.7 1156.1 L140.7 1156.13 L141.7 1156.17 L142.7 1156.2 L143.7 1156.23 L144.7 1156.27 L145.7 1156.31 L146.7 1156.34 L147.7 1156.38 L148.7 1156.42 L149.7 1156.46 L150.7 1156.5 L151.7 1156.55 L152.7 1156.59 L153.7 1156.63 L154.7 1156.68 L155.7 1156.72 L156.7 1156.77 L157.7 1156.81 L158.7 1156.86 L159.7 1156.9 L160.7 1156.95 L161.7 1157 L162.7 1157.05 L163.7 1157.1 L164.7 1157.15 L165.7 1157.2 L166.7 1157.25 L167.7 1157.3 L168.7 1157.35 L169.7 1157.4 L170.7 1157.45 L171.7 1157.5 L172.7 1157.56 L173.7 1157.61 L174.7 1157.66 L175.7 1157.72 L176.7 1157.77 L177.7 1157.82 L178.7 1157.88 L179.7 1157.94 L180.7 1158 L181.7 1158.07 L182.7 1158.14 L183.7 1158.21 L184.7 1158.28 L185.7 1158.36 L186.7 1158.44 L187.7 1158.53 L188.7 1158.61 L189.7 1158.7 L190.7 1158.8 L191.7 1158.89 L192.7 1158.99 L193.7 1159.09 L194.7 1159.19 L195.7 1159.29 L196.7 1159.4 L197.7 1159.51 L198.7 1159.62 L199.7 1159.73 L200.7 1159.84 L201.7 1159.96 L202.7 1160.08 L203.7 1160.19 L204.7 1160.32 L205.7 1160.44 L206.7 1160.56 L207.7 1160.69 L208.7 1160.81 L209.7 1160.94 L210.7 1161.07 L211.7 1161.2 L212.7 1161.33 L213.7 1161.47 L214.7 1161.6 L215.7 1161.73 L216.7 1161.87 L217.7 1162 L218.7 1162.14 L219.7 1162.28 L220.7 1162.41 L221.7 1162.55 L222.7 1162.69 L223.7 1162.83 L224.7 1162.97 L225.7 1163.1 L226.7 1163.24 L227.7 1163.38 L228.7 1163.52 L229.7 1163.66 L230.7 1163.8 L231.7 1163.94 L232.7 1164.09 L233.7 1164.23 L234.7 1164.38 L235.7 1164.54 L236.7 1164.7 L237.7 1164.86 L238.7 1165.02 L239.7 1165.18 L240.7 1165.35 L241.7 1165.52 L242.7 1165.69 L243.7 1165.86 L244.7 1166.03 L245.7 1166.21 L246.7 1166.39 L247.7 1166.57 L248.7 1166.75 L249.7 1166.93 L250.7 1167.11 L251.7 1167.3 L252.7 1167.48 L253.7 1167.67 L254.7 1167.86 L255.7 1168.05 L256.7 1168.24 L257.7 1168.42 L258.7 1168.61 L259.7 1168.8 L260.7 1168.99 L261.7 1169.18 L262.7 1169.37 L263.7 1169.56 L264.7 1169.75 L265.7 1169.94 L266.7 1170.13 L267.7 1170.32 L268.7 1170.51 L269.7 1170.69 L270.7 1170.88 L271.7 1171.07 L272.7 1171.26 L273.7 1171.45 L274.7 1171.64 L275.7 1171.83 L276.7 1172.02 L277.7 1172.21 L278.7 1172.4 L279.7 1172.59 L280.7 1172.79 L281.7 1172.98 L282.7 1173.18 L283.7 1173.37 L284.7 1173.57 L285.7 1173.76 L286.7 1173.96 L287.7 1174.16 L288.7 1174.36 L289.7 1174.56 L290.7 1174.75 L291.7 1174.96 L292.7 1175.16 L293.7 1175.36 L294.7 1175.56 L295.7 1175.76 L296.7 1175.97 L297.7 1176.17 L298.7 1176.38 L299.7 1176.58 L300.7 1176.79 L301.7 1176.99 L302.7 1177.2 L303.7 1177.41 L304.7 1177.62 L305.7 1177.83 L306.7 1178.04 L307.7 1178.25 L308.7 1178.46 L309.7 1178.68 L310.7 1178.9 L311.7 1179.12 L312.7 1179.35 L313.7 1179.57 L314.7 1179.81 L315.7 1180.04 L316.7 1180.28 L317.7 1180.51 L318.7 1180.75 L319.7 1180.99 L320.7 1181.24 L321.7 1181.48 L322.7 1181.72 L323.7 1181.97 L324.7 1182.21 L325.7 1182.46 L326.7 1182.7 L327.7 1182.94 L328.7 1183.19 L329.7 1183.43 L330.7 1183.67 L331.7 1183.91 L332.7 1184.14 L333.7 1184.38 L334.7 1184.61 L335.7 1184.84 L336.7 1185.07 L337.7 1185.29 L338.7 1185.52 L339.7 1185.73 L340.7 1185.95 L341.7 1186.16 L342.7 1186.36 L343.7 1186.56 L344.7 1186.76 L345.7 1186.95 L346.7 1187.14 L347.7 1187.32 L348.7 1187.49 L349.7 1187.67 L350.7 1187.84 L351.7 1188.01 L352.7 1188.17 L353.7 1188.34 L354.7 1188.5 L355.7 1188.66 L356.7 1188.81 L357.7 1188.97 L358.7 1189.12 L359.7 1189.27 L360.7 1189.42 L361.7 1189.57 L362.7 1189.71 L363.7 1189.86 L364.7 1190 L365.7 1190.14 L366.7 1190.28 L367.7 1190.42 L368.7 1190.56 L369.7 1190.7 L370.7 1190.84 L371.7 1190.97 L372.7 1191.11 L373.7 1191.25 L374.7 1191.38 L375.7 1191.52 L376.7 1191.65 L377.7 1191.79 L378.7 1191.92 L379.7 1192.06 L380.7 1192.19 L381.7 1192.33 L382.7 1192.46 L383.7 1192.58 L384.7 1192.71 L385.7 1192.83 L386.7 1192.95 L387.7 1193.07 L388.7 1193.19 L389.7 1193.31 L390.7 1193.43 L391.7 1193.54 L392.7 1193.65 L393.7 1193.77 L394.7 1193.88 L395.7 1193.99 L396.7 1194.1 L397.7 1194.21 L398.7 1194.33 L399.7 1194.44 L400.7 1194.55 L401.7 1194.67 L402.7 1194.78 L403.7 1194.89 L404.7 1195.01 L405.7 1195.13 L406.7 1195.25 L407.7 1195.37 L408.7 1195.49 L409.7 1195.62 L410.7 1195.74 L411.7 1195.87 L412.7 1196 L413.7 1196.14 L414.7 1196.28 L415.7 1196.42 L416.7 1196.56 L417.7 1196.71 L418.7 1196.86 L419.7 1197.01 L420.7 1197.17 L421.7 1197.33 L422.7 1197.49 L423.7 1197.66 L424.7 1197.84 L425.7 1198.01 L426.7 1198.19 L427.7 1198.37 L428.7 1198.56 L429.7 1198.75 L430.7 1198.94 L431.7 1199.14 L432.7 1199.34 L433.7 1199.54 L434.7 1199.75 L435.7 1199.96 L436.7 1200.17 L437.7 1200.38 L438.7 1200.6 L439.7 1200.82 L440.7 1201.05 L441.7 1201.28 L442.7 1201.51 L443.7 1201.74 L444.7 1201.98 L445.7 1202.21 L446.7 1202.46 L447.7 1202.7 L448.7 1202.95 L449.7 1203.2 L450.7 1203.45 L451.7 1203.71 L452.7 1203.96 L453.7 1204.23 L454.7 1204.49 L455.7 1204.75 L456.7 1205.02 L457.7 1205.29 L458.7 1205.57 L459.7 1205.84 L460.7 1206.12 L461.7 1206.4 L462.7 1206.69 L463.7 1206.98 L464.7 1207.28 L465.7 1207.59 L466.7 1207.9 L467.7 1208.22 L468.7 1208.55 L469.7 1208.88 L470.7 1209.22 L471.7 1209.57 L472.7 1209.92 L473.7 1210.27 L474.7 1210.63 L475.7 1211 L476.7 1211.37 L477.7 1211.74 L478.7 1212.12 L479.7 1212.5 L480.7 1212.89 L481.7 1213.27 L482.7 1213.67 L483.7 1214.06 L484.7 1214.46 L485.7 1214.86 L486.7 1215.26 L487.7 1215.66 L488.7 1216.06 L489.7 1216.47 L490.7 1216.87 L491.7 1217.28 L492.7 1217.69 L493.7 1218.1 L494.7 1218.5 L495.7 1218.91 L496.7 1219.32 L497.7 1219.73 L498.7 1220.13 L499.7 1220.54 L500.7 1220.94 L501.7 1221.34 L502.7 1221.74 L503.7 1222.14 L504.7 1222.54 L505.7 1222.95 L506.7 1223.35 L507.7 1223.76 L508.7 1224.17 L509.7 1224.58 L510.7 1224.99 L511.7 1225.4 L512.7 1225.82 L513.7 1226.24 L514.7 1226.66 L515.7 1227.08 L516.7 1227.5 L517.7 1227.92 L518.7 1228.35 L519.7 1228.77 L520.7 1229.2 L521.7 1229.63 L522.7 1230.06 L523.7 1230.49 L524.7 1230.92 L525.7 1231.35 L526.7 1231.78 L527.7 1232.22 L528.7 1232.65 L529.7 1233.09 L530.7 1233.52 L531.7 1233.96 L532.7 1234.4 L533.7 1234.83 L534.7 1235.27 L535.7 1235.71 L536.7 1236.15 L537.7 1236.59 L538.7 1237.03 L539.7 1237.47 L540.7 1237.91 L541.7 1238.35 L542.7 1238.79 L543.7 1239.23 L544.7 1239.67 L545.7 1240.12 L546.7 1240.56 L547.7 1241 L548.7 1241.44 L549.7 1241.89 L550.7 1242.33 L551.7 1242.78 L552.7 1243.22 L553.7 1243.67 L554.7 1244.11 L555.7 1244.56 L556.7 1245.01 L557.7 1245.46 L558.7 1245.91 L559.7 1246.36 L560.7 1246.81 L561.7 1247.26 L562.7 1247.71 L563.7 1248.16 L564.7 1248.62 L565.7 1249.07 L566.7 1249.52 L567.7 1249.98 L568.7 1250.44 L569.7 1250.89 L570.7 1251.35 L571.7 1251.81 L572.7 1252.27 L573.7 1252.73 L574.7 1253.19 L575.7 1253.65 L576.7 1254.11 L577.7 1254.58 L578.7 1255.04 L579.7 1255.51 L580.7 1255.97 L581.7 1256.44 L582.7 1256.91 L583.7 1257.38 L584.7 1257.85 L585.7 1258.32 L586.7 1258.79 L587.7 1259.27 L588.7 1259.74 L589.7 1260.22 L590.7 1260.69 L591.7 1261.17 L592.7 1261.65 L593.7 1262.13 L594.7 1262.62 L595.7 1263.11 L596.7 1263.61 L597.7 1264.12 L598.7 1264.63 L599.7 1265.14 L600.7 1265.66 L601.7 1266.18 L602.7 1266.7 L603.7 1267.23 L604.7 1267.75 L605.7 1268.28 L606.7 1268.81 L607.7 1269.35 L608.7 1269.88 L609.7 1270.41 L610.7 1270.94 L611.7 1271.47 L612.7 1272 L613.7 1272.53 L614.7 1273.06 L615.7 1273.58 L616.7 1274.11 L617.7 1274.63 L618.7 1275.14 L619.7 1275.65 L620.7 1276.16 L621.7 1276.66 L622.7 1277.16 L623.7 1277.65 L624.7 1278.14 L625.7 1278.62 L626.7 1279.09 L627.7 1279.56 L628.7 1280.01 L629.7 1280.47 L630.7 1280.91 L631.7 1281.34 L632.7 1281.77 L633.7 1282.18 L634.7 1282.59 L635.7 1283.01 L636.7 1283.42 L637.7 1283.83 L638.7 1284.24 L639.7 1284.64 L640.7 1285.05 L641.7 1285.45 L642.7 1285.86 L643.7 1286.26 L644.7 1286.65 L645.7 1287.05 L646.7 1287.44 L647.7 1287.83 L648.7 1288.22 L649.7 1288.6 L650.7 1288.98 L651.7 1289.36 L652.7 1289.73 L653.7 1290.1 L654.7 1290.46 L655.7 1290.82 L656.7 1291.17 L657.7 1291.52 L658.7 1291.86 L659.7 1292.2 L660.7 1292.54 L661.7 1292.86 L662.7 1293.18 L663.7 1293.5 L664.7 1293.81 L665.7 1294.11 L666.7 1294.4 L667.7 1294.69 L668.7 1294.97 L669.7 1295.24 L670.7 1295.51 L671.7 1295.77 L672.7 1296.02 L673.7 1296.26 L674.7 1296.49 L675.7 1296.72 L676.7 1296.95 L677.7 1297.18 L678.7 1297.4 L679.7 1297.62 L680.7 1297.84 L681.7 1298.05 L682.7 1298.26 L683.7 1298.47 L684.7 1298.68 L685.7 1298.88 L686.7 1299.08 L687.7 1299.28 L688.7 1299.48 L689.7 1299.67 L690.7 1299.86 L691.7 1300.05 L692.7 1300.23 L693.7 1300.41 L694.7 1300.59 L695.7 1300.76 L696.7 1300.93 L697.7 1301.1 L698.7 1301.27 L699.7 1301.43 L700.7 1301.59 L701.7 1301.74 L702.7 1301.9 L703.7 1302.04 L704.7 1302.19 L705.7 1302.33 L706.7 1302.47 L707.7 1302.6 L708.7 1302.74 L709.7 1302.86 L710.7 1302.99 L711.7 1303.11 L712.7 1303.22 L713.7 1303.34 L714.7 1303.45 L715.7 1303.55 L716.7 1303.66 L717.7 1303.75 L718.7 1303.85 L719.7 1303.95 L720.7 1304.04 L721.7 1304.13 L722.7 1304.22 L723.7 1304.3 L724.7 1304.38 L725.7 1304.47 L726.7 1304.55 L727.7 1304.62 L728.7 1304.7 L729.7 1304.78 L730.7 1304.85 L731.7 1304.92 L732.7 1304.99 L733.7 1305.06 L734.7 1305.13 L735.7 1305.2 L736.7 1305.27 L737.7 1305.33 L738.7 1305.4 L739.7 1305.47 L740.7 1305.53 L741.7 1305.6 L742.7 1305.67 L743.7 1305.73 L744.7 1305.8 L745.7 1305.86 L746.7 1305.93 L747.7 1306 L748.7 1306.07 L749.7 1306.14 L750.7 1306.2 L751.7 1306.28 L752.7 1306.35 L753.7 1306.42 L754.7 1306.49 L755.7 1306.57 L756.7 1306.65 L757.7 1306.72 L758.7 1306.8 L759.7 1306.88 L760.7 1306.96 L761.7 1307.05 L762.7 1307.13 L763.7 1307.21 L764.7 1307.3 L765.7 1307.38 L766.7 1307.47 L767.7 1307.55 L768.7 1307.64 L769.7 1307.73 L770.7 1307.82 L771.7 1307.9 L772.7 1307.99 L773.7 1308.08 L774.7 1308.17 L775.7 1308.26 L776.7 1308.35 L777.7 1308.44 L778.7 1308.53 L779.7 1308.62 L780.7 1308.71 L781.7 1308.8 L782.7 1308.89 L783.7 1308.97 L784.7 1309.06 L785.7 1309.15 L786.7 1309.24 L787.7 1309.33 L788.7 1309.41 L789.7 1309.5 L790.7 1309.59 L791.7 1309.67 L792.7 1309.76 L793.7 1309.84 L794.7 1309.93 L795.7 1310.01 L796.7 1310.09 L797.7 1310.17 L798.7 1310.25 L799.7 1310.33 L800.7 1310.41 L801.7 1310.48 L802.7 1310.56 L803.7 1310.63 L804.7 1310.71 L805.7 1310.78 L806.7 1310.85 L807.7 1310.92 L808.7 1310.99 L809.7 1311.05 L810.7 1311.12 L811.7 1311.18 L812.7 1311.24 L813.7 1311.3 L814.7 1311.36 L815.7 1311.42 L816.7 1311.47 L817.7 1311.52 L818.7 1311.57 L819.7 1311.62 L820.7 1311.67 L821.7 1311.71 L822.7 1311.75" fill="none" stroke="#0A62E0" stroke-width="2.35" stroke-linejoin="round" clip-path="url(#cc)"/>
<path d="M117.7 1143.3 L118.7 1143.12 L119.7 1142.93 L120.7 1142.75 L121.7 1142.56 L122.7 1142.36 L123.7 1142.17 L124.7 1141.97 L125.7 1141.76 L126.7 1141.56 L127.7 1141.34 L128.7 1141.13 L129.7 1140.9 L130.7 1140.68 L131.7 1140.45 L132.7 1140.21 L133.7 1139.97 L134.7 1139.72 L135.7 1139.46 L136.7 1139.2 L137.7 1138.93 L138.7 1138.65 L139.7 1138.37 L140.7 1138.08 L141.7 1137.78 L142.7 1137.47 L143.7 1137.16 L144.7 1136.83 L145.7 1136.5 L146.7 1136.15 L147.7 1135.8 L148.7 1135.44 L149.7 1135.06 L150.7 1134.67 L151.7 1134.28 L152.7 1133.87 L153.7 1133.44 L154.7 1133.01 L155.7 1132.56 L156.7 1132.1 L157.7 1131.62 L158.7 1131.13 L159.7 1130.63 L160.7 1130.11 L161.7 1129.57 L162.7 1129.02 L163.7 1128.45 L164.7 1127.86 L165.7 1127.26 L166.7 1126.63 L167.7 1125.99 L168.7 1125.33 L169.7 1124.65 L170.7 1123.96 L171.7 1123.24 L172.7 1122.5 L173.7 1121.73 L174.7 1120.95 L175.7 1120.15 L176.7 1119.32 L177.7 1118.47 L178.7 1117.6 L179.7 1116.7 L180.7 1115.79 L181.7 1114.86 L182.7 1113.9 L183.7 1112.92 L184.7 1111.92 L185.7 1110.9 L186.7 1109.85 L187.7 1108.78 L188.7 1107.68 L189.7 1106.56 L190.7 1105.42 L191.7 1104.25 L192.7 1103.06 L193.7 1101.85 L194.7 1100.6 L195.7 1099.34 L196.7 1098.05 L197.7 1096.73 L198.7 1095.4 L199.7 1094.03 L200.7 1092.65 L201.7 1091.24 L202.7 1089.81 L203.7 1088.36 L204.7 1086.88 L205.7 1085.39 L206.7 1083.88 L207.7 1082.35 L208.7 1080.81 L209.7 1079.25 L210.7 1077.68 L211.7 1076.1 L212.7 1074.5 L213.7 1072.91 L214.7 1071.31 L215.7 1069.7 L216.7 1068.1 L217.7 1066.5 L218.7 1064.91 L219.7 1063.34 L220.7 1061.77 L221.7 1060.23 L222.7 1058.71 L223.7 1057.21 L224.7 1055.75 L225.7 1054.33 L226.7 1052.94 L227.7 1051.6 L228.7 1050.31 L229.7 1049.08 L230.7 1047.91 L231.7 1046.81 L232.7 1045.78 L233.7 1044.83 L234.7 1043.96 L235.7 1043.18 L236.7 1042.49 L237.7 1041.9 L238.7 1041.41 L239.7 1041.01 L240.7 1040.72 L241.7 1040.54 L242.7 1040.46 L243.7 1040.49 L244.7 1040.64 L245.7 1040.89 L246.7 1041.25 L247.7 1041.72 L248.7 1042.29 L249.7 1042.97 L250.7 1043.75 L251.7 1044.63 L252.7 1045.61 L253.7 1046.68 L254.7 1047.83 L255.7 1049.07 L256.7 1050.39 L257.7 1051.78 L258.7 1053.24 L259.7 1054.77 L260.7 1056.35 L261.7 1057.99 L262.7 1059.68 L263.7 1061.41 L264.7 1063.17 L265.7 1064.98 L266.7 1066.81 L267.7 1068.67 L268.7 1070.54 L269.7 1072.44 L270.7 1074.35 L271.7 1076.26 L272.7 1078.19 L273.7 1080.11 L274.7 1082.04 L275.7 1083.96 L276.7 1085.88 L277.7 1087.79 L278.7 1089.69 L279.7 1091.58 L280.7 1093.45 L281.7 1095.31 L282.7 1097.15 L283.7 1098.97 L284.7 1100.78 L285.7 1102.56 L286.7 1104.32 L287.7 1106.05 L288.7 1107.76 L289.7 1109.45 L290.7 1111.12 L291.7 1112.76 L292.7 1114.37 L293.7 1115.96 L294.7 1117.52 L295.7 1119.05 L296.7 1120.56 L297.7 1122.04 L298.7 1123.5 L299.7 1124.93 L300.7 1126.33 L301.7 1127.71 L302.7 1129.06 L303.7 1130.39 L304.7 1131.69 L305.7 1132.97 L306.7 1134.22 L307.7 1135.44 L308.7 1136.65 L309.7 1137.83 L310.7 1138.99 L311.7 1140.13 L312.7 1141.25 L313.7 1142.35 L314.7 1143.43 L315.7 1144.49 L316.7 1145.53 L317.7 1146.56 L318.7 1147.56 L319.7 1148.54 L320.7 1149.51 L321.7 1150.45 L322.7 1151.38 L323.7 1152.29 L324.7 1153.18 L325.7 1154.05 L326.7 1154.91 L327.7 1155.75 L328.7 1156.57 L329.7 1157.37 L330.7 1158.16 L331.7 1158.93 L332.7 1159.68 L333.7 1160.42 L334.7 1161.14 L335.7 1161.84 L336.7 1162.53 L337.7 1163.2 L338.7 1163.86 L339.7 1164.5 L340.7 1165.12 L341.7 1165.73 L342.7 1166.33 L343.7 1166.91 L344.7 1167.47 L345.7 1168.02 L346.7 1168.55 L347.7 1169.07 L348.7 1169.57 L349.7 1170.07 L350.7 1170.55 L351.7 1171.02 L352.7 1171.48 L353.7 1171.93 L354.7 1172.37 L355.7 1172.8 L356.7 1173.22 L357.7 1173.63 L358.7 1174.03 L359.7 1174.43 L360.7 1174.82 L361.7 1175.2 L362.7 1175.57 L363.7 1175.94 L364.7 1176.29 L365.7 1176.65 L366.7 1176.99 L367.7 1177.33 L368.7 1177.67 L369.7 1178 L370.7 1178.32 L371.7 1178.64 L372.7 1178.95 L373.7 1179.26 L374.7 1179.57 L375.7 1179.87 L376.7 1180.17 L377.7 1180.46 L378.7 1180.76 L379.7 1181.04 L380.7 1181.33 L381.7 1181.61 L382.7 1181.88 L383.7 1182.15 L384.7 1182.41 L385.7 1182.67 L386.7 1182.92 L387.7 1183.17 L388.7 1183.41 L389.7 1183.65 L390.7 1183.89 L391.7 1184.13 L392.7 1184.36 L393.7 1184.58 L394.7 1184.81 L395.7 1185.03 L396.7 1185.25 L397.7 1185.47 L398.7 1185.69 L399.7 1185.9 L400.7 1186.12 L401.7 1186.33 L402.7 1186.54 L403.7 1186.75 L404.7 1186.96 L405.7 1187.17 L406.7 1187.38 L407.7 1187.59 L408.7 1187.8 L409.7 1188.01 L410.7 1188.23 L411.7 1188.44 L412.7 1188.65 L413.7 1188.87 L414.7 1189.08 L415.7 1189.3 L416.7 1189.52 L417.7 1189.74 L418.7 1189.97 L419.7 1190.2 L420.7 1190.43 L421.7 1190.66 L422.7 1190.89 L423.7 1191.13 L424.7 1191.37 L425.7 1191.62 L426.7 1191.86 L427.7 1192.11 L428.7 1192.36 L429.7 1192.61 L430.7 1192.86 L431.7 1193.12 L432.7 1193.38 L433.7 1193.64 L434.7 1193.91 L435.7 1194.17 L436.7 1194.44 L437.7 1194.71 L438.7 1194.99 L439.7 1195.26 L440.7 1195.54 L441.7 1195.82 L442.7 1196.1 L443.7 1196.39 L444.7 1196.68 L445.7 1196.96 L446.7 1197.26 L447.7 1197.55 L448.7 1197.84 L449.7 1198.14 L450.7 1198.44 L451.7 1198.74 L452.7 1199.05 L453.7 1199.35 L454.7 1199.66 L455.7 1199.97 L456.7 1200.28 L457.7 1200.59 L458.7 1200.91 L459.7 1201.22 L460.7 1201.54 L461.7 1201.86 L462.7 1202.19 L463.7 1202.52 L464.7 1202.86 L465.7 1203.2 L466.7 1203.56 L467.7 1203.91 L468.7 1204.28 L469.7 1204.65 L470.7 1205.02 L471.7 1205.4 L472.7 1205.79 L473.7 1206.18 L474.7 1206.57 L475.7 1206.97 L476.7 1207.38 L477.7 1207.78 L478.7 1208.19 L479.7 1208.61 L480.7 1209.02 L481.7 1209.44 L482.7 1209.86 L483.7 1210.29 L484.7 1210.72 L485.7 1211.14 L486.7 1211.57 L487.7 1212.01 L488.7 1212.44 L489.7 1212.87 L490.7 1213.31 L491.7 1213.74 L492.7 1214.18 L493.7 1214.61 L494.7 1215.05 L495.7 1215.48 L496.7 1215.91 L497.7 1216.35 L498.7 1216.78 L499.7 1217.21 L500.7 1217.64 L501.7 1218.06 L502.7 1218.49 L503.7 1218.91 L504.7 1219.34 L505.7 1219.76 L506.7 1220.19 L507.7 1220.62 L508.7 1221.06 L509.7 1221.49 L510.7 1221.92 L511.7 1222.36 L512.7 1222.8 L513.7 1223.24 L514.7 1223.68 L515.7 1224.12 L516.7 1224.56 L517.7 1225.01 L518.7 1225.45 L519.7 1225.9 L520.7 1226.34 L521.7 1226.79 L522.7 1227.24 L523.7 1227.69 L524.7 1228.14 L525.7 1228.59 L526.7 1229.04 L527.7 1229.5 L528.7 1229.95 L529.7 1230.4 L530.7 1230.86 L531.7 1231.31 L532.7 1231.77 L533.7 1232.22 L534.7 1232.68 L535.7 1233.13 L536.7 1233.59 L537.7 1234.05 L538.7 1234.5 L539.7 1234.96 L540.7 1235.42 L541.7 1235.88 L542.7 1236.33 L543.7 1236.79 L544.7 1237.25 L545.7 1237.7 L546.7 1238.16 L547.7 1238.62 L548.7 1239.08 L549.7 1239.54 L550.7 1240 L551.7 1240.46 L552.7 1240.92 L553.7 1241.38 L554.7 1241.84 L555.7 1242.3 L556.7 1242.76 L557.7 1243.22 L558.7 1243.69 L559.7 1244.15 L560.7 1244.61 L561.7 1245.08 L562.7 1245.54 L563.7 1246.01 L564.7 1246.48 L565.7 1246.94 L566.7 1247.41 L567.7 1247.88 L568.7 1248.35 L569.7 1248.82 L570.7 1249.29 L571.7 1249.76 L572.7 1250.23 L573.7 1250.7 L574.7 1251.17 L575.7 1251.65 L576.7 1252.12 L577.7 1252.6 L578.7 1253.07 L579.7 1253.55 L580.7 1254.03 L581.7 1254.51 L582.7 1254.99 L583.7 1255.47 L584.7 1255.95 L585.7 1256.43 L586.7 1256.91 L587.7 1257.4 L588.7 1257.88 L589.7 1258.37 L590.7 1258.86 L591.7 1259.34 L592.7 1259.83 L593.7 1260.33 L594.7 1260.82 L595.7 1261.33 L596.7 1261.84 L597.7 1262.35 L598.7 1262.87 L599.7 1263.4 L600.7 1263.92 L601.7 1264.45 L602.7 1264.98 L603.7 1265.52 L604.7 1266.06 L605.7 1266.6 L606.7 1267.14 L607.7 1267.68 L608.7 1268.22 L609.7 1268.76 L610.7 1269.3 L611.7 1269.84 L612.7 1270.38 L613.7 1270.92 L614.7 1271.45 L615.7 1271.98 L616.7 1272.51 L617.7 1273.04 L618.7 1273.57 L619.7 1274.08 L620.7 1274.6 L621.7 1275.11 L622.7 1275.62 L623.7 1276.12 L624.7 1276.61 L625.7 1277.1 L626.7 1277.58 L627.7 1278.05 L628.7 1278.52 L629.7 1278.98 L630.7 1279.43 L631.7 1279.87 L632.7 1280.3 L633.7 1280.72 L634.7 1281.14 L635.7 1281.56 L636.7 1281.98 L637.7 1282.4 L638.7 1282.81 L639.7 1283.23 L640.7 1283.64 L641.7 1284.05 L642.7 1284.46 L643.7 1284.87 L644.7 1285.27 L645.7 1285.68 L646.7 1286.08 L647.7 1286.47 L648.7 1286.87 L649.7 1287.26 L650.7 1287.64 L651.7 1288.02 L652.7 1288.4 L653.7 1288.78 L654.7 1289.15 L655.7 1289.51 L656.7 1289.87 L657.7 1290.23 L658.7 1290.58 L659.7 1290.92 L660.7 1291.26 L661.7 1291.59 L662.7 1291.92 L663.7 1292.24 L664.7 1292.55 L665.7 1292.86 L666.7 1293.16 L667.7 1293.45 L668.7 1293.74 L669.7 1294.02 L670.7 1294.29 L671.7 1294.55 L672.7 1294.81 L673.7 1295.06 L674.7 1295.3 L675.7 1295.53 L676.7 1295.76 L677.7 1296 L678.7 1296.22 L679.7 1296.45 L680.7 1296.67 L681.7 1296.89 L682.7 1297.11 L683.7 1297.32 L684.7 1297.54 L685.7 1297.74 L686.7 1297.95 L687.7 1298.15 L688.7 1298.35 L689.7 1298.55 L690.7 1298.75 L691.7 1298.94 L692.7 1299.13 L693.7 1299.31 L694.7 1299.5 L695.7 1299.67 L696.7 1299.85 L697.7 1300.02 L698.7 1300.19 L699.7 1300.36 L700.7 1300.52 L701.7 1300.68 L702.7 1300.84 L703.7 1300.99 L704.7 1301.14 L705.7 1301.29 L706.7 1301.43 L707.7 1301.57 L708.7 1301.71 L709.7 1301.84 L710.7 1301.97 L711.7 1302.09 L712.7 1302.21 L713.7 1302.33 L714.7 1302.44 L715.7 1302.55 L716.7 1302.66 L717.7 1302.76 L718.7 1302.87 L719.7 1302.96 L720.7 1303.06 L721.7 1303.15 L722.7 1303.25 L723.7 1303.33 L724.7 1303.42 L725.7 1303.51 L726.7 1303.59 L727.7 1303.67 L728.7 1303.75 L729.7 1303.83 L730.7 1303.91 L731.7 1303.99 L732.7 1304.06 L733.7 1304.13 L734.7 1304.21 L735.7 1304.28 L736.7 1304.35 L737.7 1304.42 L738.7 1304.49 L739.7 1304.56 L740.7 1304.63 L741.7 1304.7 L742.7 1304.77 L743.7 1304.84 L744.7 1304.91 L745.7 1304.98 L746.7 1305.05 L747.7 1305.12 L748.7 1305.19 L749.7 1305.26 L750.7 1305.34 L751.7 1305.41 L752.7 1305.49 L753.7 1305.56 L754.7 1305.64 L755.7 1305.72 L756.7 1305.8 L757.7 1305.88 L758.7 1305.96 L759.7 1306.05 L760.7 1306.13 L761.7 1306.22 L762.7 1306.3 L763.7 1306.39 L764.7 1306.48 L765.7 1306.56 L766.7 1306.65 L767.7 1306.74 L768.7 1306.83 L769.7 1306.92 L770.7 1307.01 L771.7 1307.1 L772.7 1307.2 L773.7 1307.29 L774.7 1307.38 L775.7 1307.47 L776.7 1307.56 L777.7 1307.66 L778.7 1307.75 L779.7 1307.84 L780.7 1307.93 L781.7 1308.03 L782.7 1308.12 L783.7 1308.21 L784.7 1308.3 L785.7 1308.39 L786.7 1308.48 L787.7 1308.57 L788.7 1308.66 L789.7 1308.75 L790.7 1308.84 L791.7 1308.93 L792.7 1309.02 L793.7 1309.1 L794.7 1309.19 L795.7 1309.28 L796.7 1309.36 L797.7 1309.44 L798.7 1309.53 L799.7 1309.61 L800.7 1309.69 L801.7 1309.77 L802.7 1309.85 L803.7 1309.92 L804.7 1310 L805.7 1310.07 L806.7 1310.15 L807.7 1310.22 L808.7 1310.29 L809.7 1310.36 L810.7 1310.42 L811.7 1310.49 L812.7 1310.55 L813.7 1310.62 L814.7 1310.68 L815.7 1310.73 L816.7 1310.79 L817.7 1310.85 L818.7 1310.9 L819.7 1310.95 L820.7 1311 L821.7 1311.04 L822.7 1311.09" fill="none" stroke="#00CCCC" stroke-width="2.35" stroke-linejoin="round" clip-path="url(#cc)"/>
<path d="M117.7 1150.51 L118.7 1150.47 L119.7 1150.43 L120.7 1150.39 L121.7 1150.35 L122.7 1150.31 L123.7 1150.27 L124.7 1150.24 L125.7 1150.2 L126.7 1150.17 L127.7 1150.13 L128.7 1150.1 L129.7 1150.06 L130.7 1150.03 L131.7 1150 L132.7 1149.97 L133.7 1149.94 L134.7 1149.91 L135.7 1149.88 L136.7 1149.85 L137.7 1149.82 L138.7 1149.79 L139.7 1149.76 L140.7 1149.73 L141.7 1149.7 L142.7 1149.67 L143.7 1149.64 L144.7 1149.61 L145.7 1149.58 L146.7 1149.55 L147.7 1149.52 L148.7 1149.49 L149.7 1149.46 L150.7 1149.44 L151.7 1149.41 L152.7 1149.37 L153.7 1149.34 L154.7 1149.31 L155.7 1149.28 L156.7 1149.25 L157.7 1149.22 L158.7 1149.18 L159.7 1149.15 L160.7 1149.11 L161.7 1149.08 L162.7 1149.04 L163.7 1149 L164.7 1148.97 L165.7 1148.93 L166.7 1148.89 L167.7 1148.85 L168.7 1148.8 L169.7 1148.76 L170.7 1148.71 L171.7 1148.67 L172.7 1148.62 L173.7 1148.57 L174.7 1148.52 L175.7 1148.47 L176.7 1148.41 L177.7 1148.36 L178.7 1148.3 L179.7 1148.25 L180.7 1148.2 L181.7 1148.15 L182.7 1148.1 L183.7 1148.05 L184.7 1148 L185.7 1147.95 L186.7 1147.91 L187.7 1147.86 L188.7 1147.81 L189.7 1147.77 L190.7 1147.72 L191.7 1147.68 L192.7 1147.63 L193.7 1147.58 L194.7 1147.53 L195.7 1147.49 L196.7 1147.44 L197.7 1147.39 L198.7 1147.34 L199.7 1147.28 L200.7 1147.23 L201.7 1147.17 L202.7 1147.11 L203.7 1147.05 L204.7 1146.99 L205.7 1146.92 L206.7 1146.86 L207.7 1146.79 L208.7 1146.71 L209.7 1146.63 L210.7 1146.55 L211.7 1146.47 L212.7 1146.38 L213.7 1146.29 L214.7 1146.19 L215.7 1146.09 L216.7 1145.98 L217.7 1145.86 L218.7 1145.75 L219.7 1145.62 L220.7 1145.49 L221.7 1145.35 L222.7 1145.21 L223.7 1145.06 L224.7 1144.9 L225.7 1144.74 L226.7 1144.56 L227.7 1144.38 L228.7 1144.19 L229.7 1143.99 L230.7 1143.78 L231.7 1143.56 L232.7 1143.34 L233.7 1143.11 L234.7 1142.87 L235.7 1142.63 L236.7 1142.38 L237.7 1142.11 L238.7 1141.84 L239.7 1141.56 L240.7 1141.26 L241.7 1140.96 L242.7 1140.64 L243.7 1140.32 L244.7 1139.97 L245.7 1139.62 L246.7 1139.25 L247.7 1138.87 L248.7 1138.47 L249.7 1138.06 L250.7 1137.63 L251.7 1137.19 L252.7 1136.72 L253.7 1136.24 L254.7 1135.74 L255.7 1135.23 L256.7 1134.69 L257.7 1134.13 L258.7 1133.55 L259.7 1132.95 L260.7 1132.33 L261.7 1131.68 L262.7 1131.01 L263.7 1130.32 L264.7 1129.6 L265.7 1128.86 L266.7 1128.09 L267.7 1127.29 L268.7 1126.47 L269.7 1125.62 L270.7 1124.74 L271.7 1123.84 L272.7 1122.9 L273.7 1121.94 L274.7 1120.95 L275.7 1119.93 L276.7 1118.88 L277.7 1117.8 L278.7 1116.69 L279.7 1115.55 L280.7 1114.38 L281.7 1113.18 L282.7 1111.95 L283.7 1110.68 L284.7 1109.38 L285.7 1108.05 L286.7 1106.69 L287.7 1105.3 L288.7 1103.88 L289.7 1102.42 L290.7 1100.94 L291.7 1099.42 L292.7 1097.88 L293.7 1096.3 L294.7 1094.69 L295.7 1093.06 L296.7 1091.4 L297.7 1089.71 L298.7 1088 L299.7 1086.26 L300.7 1084.5 L301.7 1082.73 L302.7 1080.93 L303.7 1079.11 L304.7 1077.29 L305.7 1075.45 L306.7 1073.6 L307.7 1071.74 L308.7 1069.89 L309.7 1068.03 L310.7 1066.19 L311.7 1064.35 L312.7 1062.53 L313.7 1060.73 L314.7 1058.96 L315.7 1057.21 L316.7 1055.5 L317.7 1053.82 L318.7 1052.19 L319.7 1050.61 L320.7 1049.09 L321.7 1047.63 L322.7 1046.23 L323.7 1044.91 L324.7 1043.66 L325.7 1042.5 L326.7 1041.43 L327.7 1040.45 L328.7 1039.58 L329.7 1038.81 L330.7 1038.15 L331.7 1037.6 L332.7 1037.17 L333.7 1036.86 L334.7 1036.67 L335.7 1036.6 L336.7 1036.66 L337.7 1036.85 L338.7 1037.16 L339.7 1037.6 L340.7 1038.16 L341.7 1038.84 L342.7 1039.64 L343.7 1040.56 L344.7 1041.59 L345.7 1042.72 L346.7 1043.96 L347.7 1045.3 L348.7 1046.74 L349.7 1048.26 L350.7 1049.87 L351.7 1051.56 L352.7 1053.33 L353.7 1055.16 L354.7 1057.05 L355.7 1059 L356.7 1060.99 L357.7 1063.04 L358.7 1065.12 L359.7 1067.23 L360.7 1069.37 L361.7 1071.53 L362.7 1073.71 L363.7 1075.91 L364.7 1078.11 L365.7 1080.32 L366.7 1082.53 L367.7 1084.74 L368.7 1086.94 L369.7 1089.14 L370.7 1091.32 L371.7 1093.49 L372.7 1095.64 L373.7 1097.77 L374.7 1099.89 L375.7 1101.98 L376.7 1104.05 L377.7 1106.09 L378.7 1108.1 L379.7 1110.09 L380.7 1112.05 L381.7 1113.98 L382.7 1115.88 L383.7 1117.74 L384.7 1119.57 L385.7 1121.37 L386.7 1123.13 L387.7 1124.86 L388.7 1126.55 L389.7 1128.22 L390.7 1129.84 L391.7 1131.44 L392.7 1133 L393.7 1134.53 L394.7 1136.02 L395.7 1137.49 L396.7 1138.92 L397.7 1140.32 L398.7 1141.69 L399.7 1143.03 L400.7 1144.34 L401.7 1145.62 L402.7 1146.88 L403.7 1148.1 L404.7 1149.3 L405.7 1150.47 L406.7 1151.62 L407.7 1152.74 L408.7 1153.84 L409.7 1154.91 L410.7 1155.96 L411.7 1156.99 L412.7 1157.99 L413.7 1158.97 L414.7 1159.94 L415.7 1160.88 L416.7 1161.81 L417.7 1162.71 L418.7 1163.6 L419.7 1164.48 L420.7 1165.33 L421.7 1166.17 L422.7 1167 L423.7 1167.81 L424.7 1168.6 L425.7 1169.38 L426.7 1170.15 L427.7 1170.9 L428.7 1171.64 L429.7 1172.37 L430.7 1173.09 L431.7 1173.8 L432.7 1174.49 L433.7 1175.18 L434.7 1175.85 L435.7 1176.51 L436.7 1177.17 L437.7 1177.81 L438.7 1178.45 L439.7 1179.08 L440.7 1179.69 L441.7 1180.31 L442.7 1180.91 L443.7 1181.51 L444.7 1182.1 L445.7 1182.68 L446.7 1183.26 L447.7 1183.83 L448.7 1184.39 L449.7 1184.95 L450.7 1185.51 L451.7 1186.06 L452.7 1186.6 L453.7 1187.14 L454.7 1187.68 L455.7 1188.21 L456.7 1188.73 L457.7 1189.26 L458.7 1189.77 L459.7 1190.29 L460.7 1190.8 L461.7 1191.31 L462.7 1191.82 L463.7 1192.33 L464.7 1192.84 L465.7 1193.36 L466.7 1193.88 L467.7 1194.4 L468.7 1194.92 L469.7 1195.44 L470.7 1195.97 L471.7 1196.5 L472.7 1197.03 L473.7 1197.56 L474.7 1198.09 L475.7 1198.62 L476.7 1199.15 L477.7 1199.69 L478.7 1200.22 L479.7 1200.76 L480.7 1201.29 L481.7 1201.83 L482.7 1202.37 L483.7 1202.9 L484.7 1203.44 L485.7 1203.98 L486.7 1204.51 L487.7 1205.04 L488.7 1205.58 L489.7 1206.11 L490.7 1206.64 L491.7 1207.17 L492.7 1207.7 L493.7 1208.22 L494.7 1208.75 L495.7 1209.27 L496.7 1209.79 L497.7 1210.31 L498.7 1210.82 L499.7 1211.33 L500.7 1211.84 L501.7 1212.34 L502.7 1212.84 L503.7 1213.34 L504.7 1213.84 L505.7 1214.34 L506.7 1214.84 L507.7 1215.34 L508.7 1215.84 L509.7 1216.34 L510.7 1216.84 L511.7 1217.35 L512.7 1217.85 L513.7 1218.35 L514.7 1218.85 L515.7 1219.35 L516.7 1219.86 L517.7 1220.36 L518.7 1220.86 L519.7 1221.36 L520.7 1221.87 L521.7 1222.37 L522.7 1222.87 L523.7 1223.37 L524.7 1223.88 L525.7 1224.38 L526.7 1224.88 L527.7 1225.38 L528.7 1225.88 L529.7 1226.39 L530.7 1226.89 L531.7 1227.39 L532.7 1227.89 L533.7 1228.39 L534.7 1228.89 L535.7 1229.39 L536.7 1229.89 L537.7 1230.39 L538.7 1230.89 L539.7 1231.38 L540.7 1231.88 L541.7 1232.38 L542.7 1232.87 L543.7 1233.37 L544.7 1233.87 L545.7 1234.36 L546.7 1234.85 L547.7 1235.35 L548.7 1235.84 L549.7 1236.34 L550.7 1236.83 L551.7 1237.32 L552.7 1237.82 L553.7 1238.31 L554.7 1238.81 L555.7 1239.3 L556.7 1239.79 L557.7 1240.29 L558.7 1240.78 L559.7 1241.27 L560.7 1241.77 L561.7 1242.26 L562.7 1242.76 L563.7 1243.25 L564.7 1243.74 L565.7 1244.24 L566.7 1244.73 L567.7 1245.23 L568.7 1245.73 L569.7 1246.22 L570.7 1246.72 L571.7 1247.21 L572.7 1247.71 L573.7 1248.21 L574.7 1248.71 L575.7 1249.2 L576.7 1249.7 L577.7 1250.2 L578.7 1250.7 L579.7 1251.2 L580.7 1251.7 L581.7 1252.2 L582.7 1252.7 L583.7 1253.21 L584.7 1253.71 L585.7 1254.21 L586.7 1254.72 L587.7 1255.22 L588.7 1255.73 L589.7 1256.23 L590.7 1256.74 L591.7 1257.25 L592.7 1257.76 L593.7 1258.27 L594.7 1258.79 L595.7 1259.31 L596.7 1259.84 L597.7 1260.37 L598.7 1260.91 L599.7 1261.45 L600.7 1261.99 L601.7 1262.54 L602.7 1263.09 L603.7 1263.64 L604.7 1264.19 L605.7 1264.75 L606.7 1265.31 L607.7 1265.86 L608.7 1266.42 L609.7 1266.98 L610.7 1267.53 L611.7 1268.09 L612.7 1268.64 L613.7 1269.19 L614.7 1269.74 L615.7 1270.29 L616.7 1270.84 L617.7 1271.38 L618.7 1271.92 L619.7 1272.45 L620.7 1272.98 L621.7 1273.5 L622.7 1274.02 L623.7 1274.54 L624.7 1275.04 L625.7 1275.54 L626.7 1276.04 L627.7 1276.52 L628.7 1277 L629.7 1277.47 L630.7 1277.94 L631.7 1278.39 L632.7 1278.83 L633.7 1279.27 L634.7 1279.7 L635.7 1280.13 L636.7 1280.56 L637.7 1280.99 L638.7 1281.42 L639.7 1281.84 L640.7 1282.27 L641.7 1282.69 L642.7 1283.11 L643.7 1283.53 L644.7 1283.94 L645.7 1284.35 L646.7 1284.76 L647.7 1285.17 L648.7 1285.57 L649.7 1285.97 L650.7 1286.37 L651.7 1286.76 L652.7 1287.15 L653.7 1287.53 L654.7 1287.91 L655.7 1288.29 L656.7 1288.65 L657.7 1289.02 L658.7 1289.38 L659.7 1289.73 L660.7 1290.08 L661.7 1290.42 L662.7 1290.76 L663.7 1291.09 L664.7 1291.41 L665.7 1291.72 L666.7 1292.03 L667.7 1292.33 L668.7 1292.63 L669.7 1292.92 L670.7 1293.2 L671.7 1293.47 L672.7 1293.73 L673.7 1293.99 L674.7 1294.23 L675.7 1294.48 L676.7 1294.72 L677.7 1294.95 L678.7 1295.19 L679.7 1295.42 L680.7 1295.65 L681.7 1295.88 L682.7 1296.1 L683.7 1296.33 L684.7 1296.54 L685.7 1296.76 L686.7 1296.97 L687.7 1297.18 L688.7 1297.39 L689.7 1297.59 L690.7 1297.8 L691.7 1297.99 L692.7 1298.19 L693.7 1298.38 L694.7 1298.57 L695.7 1298.76 L696.7 1298.94 L697.7 1299.12 L698.7 1299.29 L699.7 1299.47 L700.7 1299.63 L701.7 1299.8 L702.7 1299.96 L703.7 1300.12 L704.7 1300.28 L705.7 1300.43 L706.7 1300.58 L707.7 1300.72 L708.7 1300.86 L709.7 1301 L710.7 1301.14 L711.7 1301.27 L712.7 1301.39 L713.7 1301.51 L714.7 1301.63 L715.7 1301.75 L716.7 1301.86 L717.7 1301.97 L718.7 1302.08 L719.7 1302.18 L720.7 1302.28 L721.7 1302.38 L722.7 1302.48 L723.7 1302.57 L724.7 1302.66 L725.7 1302.75 L726.7 1302.84 L727.7 1302.93 L728.7 1303.01 L729.7 1303.1 L730.7 1303.18 L731.7 1303.26 L732.7 1303.34 L733.7 1303.42 L734.7 1303.49 L735.7 1303.57 L736.7 1303.65 L737.7 1303.72 L738.7 1303.8 L739.7 1303.87 L740.7 1303.94 L741.7 1304.02 L742.7 1304.09 L743.7 1304.16 L744.7 1304.24 L745.7 1304.31 L746.7 1304.39 L747.7 1304.46 L748.7 1304.54 L749.7 1304.61 L750.7 1304.69 L751.7 1304.77 L752.7 1304.85 L753.7 1304.93 L754.7 1305.01 L755.7 1305.09 L756.7 1305.17 L757.7 1305.26 L758.7 1305.34 L759.7 1305.43 L760.7 1305.52 L761.7 1305.61 L762.7 1305.7 L763.7 1305.79 L764.7 1305.88 L765.7 1305.97 L766.7 1306.06 L767.7 1306.15 L768.7 1306.25 L769.7 1306.34 L770.7 1306.44 L771.7 1306.53 L772.7 1306.62 L773.7 1306.72 L774.7 1306.82 L775.7 1306.91 L776.7 1307.01 L777.7 1307.1 L778.7 1307.2 L779.7 1307.29 L780.7 1307.39 L781.7 1307.48 L782.7 1307.58 L783.7 1307.67 L784.7 1307.77 L785.7 1307.86 L786.7 1307.95 L787.7 1308.05 L788.7 1308.14 L789.7 1308.23 L790.7 1308.33 L791.7 1308.42 L792.7 1308.51 L793.7 1308.6 L794.7 1308.69 L795.7 1308.77 L796.7 1308.86 L797.7 1308.95 L798.7 1309.03 L799.7 1309.12 L800.7 1309.2 L801.7 1309.28 L802.7 1309.36 L803.7 1309.44 L804.7 1309.52 L805.7 1309.6 L806.7 1309.67 L807.7 1309.75 L808.7 1309.82 L809.7 1309.89 L810.7 1309.96 L811.7 1310.03 L812.7 1310.09 L813.7 1310.16 L814.7 1310.22 L815.7 1310.28 L816.7 1310.34 L817.7 1310.4 L818.7 1310.45 L819.7 1310.51 L820.7 1310.56 L821.7 1310.61 L822.7 1310.65" fill="none" stroke="#C066E0" stroke-width="2.35" stroke-linejoin="round" clip-path="url(#cc)"/>
<path d="M117.7 1153.07 L118.7 1153.06 L119.7 1153.05 L120.7 1153.04 L121.7 1153.04 L122.7 1153.03 L123.7 1153.03 L124.7 1153.03 L125.7 1153.03 L126.7 1153.03 L127.7 1153.03 L128.7 1153.04 L129.7 1153.04 L130.7 1153.05 L131.7 1153.06 L132.7 1153.07 L133.7 1153.08 L134.7 1153.09 L135.7 1153.1 L136.7 1153.11 L137.7 1153.13 L138.7 1153.14 L139.7 1153.16 L140.7 1153.17 L141.7 1153.19 L142.7 1153.21 L143.7 1153.23 L144.7 1153.25 L145.7 1153.27 L146.7 1153.29 L147.7 1153.31 L148.7 1153.34 L149.7 1153.36 L150.7 1153.39 L151.7 1153.41 L152.7 1153.44 L153.7 1153.46 L154.7 1153.49 L155.7 1153.52 L156.7 1153.54 L157.7 1153.57 L158.7 1153.6 L159.7 1153.63 L160.7 1153.66 L161.7 1153.69 L162.7 1153.72 L163.7 1153.75 L164.7 1153.78 L165.7 1153.82 L166.7 1153.85 L167.7 1153.88 L168.7 1153.91 L169.7 1153.94 L170.7 1153.98 L171.7 1154.01 L172.7 1154.04 L173.7 1154.07 L174.7 1154.11 L175.7 1154.14 L176.7 1154.17 L177.7 1154.2 L178.7 1154.24 L179.7 1154.28 L180.7 1154.32 L181.7 1154.36 L182.7 1154.41 L183.7 1154.46 L184.7 1154.52 L185.7 1154.57 L186.7 1154.63 L187.7 1154.69 L188.7 1154.76 L189.7 1154.82 L190.7 1154.89 L191.7 1154.96 L192.7 1155.04 L193.7 1155.11 L194.7 1155.19 L195.7 1155.27 L196.7 1155.35 L197.7 1155.44 L198.7 1155.52 L199.7 1155.61 L200.7 1155.7 L201.7 1155.79 L202.7 1155.88 L203.7 1155.97 L204.7 1156.07 L205.7 1156.16 L206.7 1156.26 L207.7 1156.36 L208.7 1156.46 L209.7 1156.56 L210.7 1156.66 L211.7 1156.76 L212.7 1156.87 L213.7 1156.97 L214.7 1157.08 L215.7 1157.18 L216.7 1157.29 L217.7 1157.39 L218.7 1157.5 L219.7 1157.61 L220.7 1157.71 L221.7 1157.82 L222.7 1157.93 L223.7 1158.03 L224.7 1158.14 L225.7 1158.25 L226.7 1158.35 L227.7 1158.46 L228.7 1158.57 L229.7 1158.67 L230.7 1158.78 L231.7 1158.89 L232.7 1159 L233.7 1159.11 L234.7 1159.23 L235.7 1159.35 L236.7 1159.47 L237.7 1159.59 L238.7 1159.72 L239.7 1159.84 L240.7 1159.97 L241.7 1160.11 L242.7 1160.24 L243.7 1160.37 L244.7 1160.51 L245.7 1160.65 L246.7 1160.78 L247.7 1160.92 L248.7 1161.06 L249.7 1161.21 L250.7 1161.35 L251.7 1161.49 L252.7 1161.63 L253.7 1161.78 L254.7 1161.92 L255.7 1162.07 L256.7 1162.21 L257.7 1162.36 L258.7 1162.5 L259.7 1162.65 L260.7 1162.79 L261.7 1162.93 L262.7 1163.08 L263.7 1163.22 L264.7 1163.36 L265.7 1163.5 L266.7 1163.64 L267.7 1163.78 L268.7 1163.92 L269.7 1164.05 L270.7 1164.19 L271.7 1164.33 L272.7 1164.46 L273.7 1164.6 L274.7 1164.74 L275.7 1164.87 L276.7 1165.01 L277.7 1165.14 L278.7 1165.28 L279.7 1165.42 L280.7 1165.55 L281.7 1165.69 L282.7 1165.82 L283.7 1165.96 L284.7 1166.09 L285.7 1166.23 L286.7 1166.36 L287.7 1166.5 L288.7 1166.63 L289.7 1166.77 L290.7 1166.9 L291.7 1167.04 L292.7 1167.17 L293.7 1167.31 L294.7 1167.44 L295.7 1167.57 L296.7 1167.71 L297.7 1167.84 L298.7 1167.97 L299.7 1168.11 L300.7 1168.24 L301.7 1168.37 L302.7 1168.51 L303.7 1168.64 L304.7 1168.77 L305.7 1168.9 L306.7 1169.03 L307.7 1169.16 L308.7 1169.29 L309.7 1169.42 L310.7 1169.56 L311.7 1169.7 L312.7 1169.84 L313.7 1169.98 L314.7 1170.12 L315.7 1170.26 L316.7 1170.41 L317.7 1170.55 L318.7 1170.7 L319.7 1170.85 L320.7 1170.99 L321.7 1171.14 L322.7 1171.28 L323.7 1171.43 L324.7 1171.57 L325.7 1171.71 L326.7 1171.85 L327.7 1171.99 L328.7 1172.12 L329.7 1172.26 L330.7 1172.39 L331.7 1172.51 L332.7 1172.64 L333.7 1172.76 L334.7 1172.87 L335.7 1172.98 L336.7 1173.09 L337.7 1173.19 L338.7 1173.29 L339.7 1173.38 L340.7 1173.46 L341.7 1173.54 L342.7 1173.62 L343.7 1173.68 L344.7 1173.74 L345.7 1173.79 L346.7 1173.84 L347.7 1173.88 L348.7 1173.91 L349.7 1173.93 L350.7 1173.95 L351.7 1173.97 L352.7 1173.98 L353.7 1173.98 L354.7 1173.98 L355.7 1173.98 L356.7 1173.97 L357.7 1173.96 L358.7 1173.94 L359.7 1173.91 L360.7 1173.88 L361.7 1173.85 L362.7 1173.81 L363.7 1173.77 L364.7 1173.72 L365.7 1173.67 L366.7 1173.61 L367.7 1173.55 L368.7 1173.49 L369.7 1173.42 L370.7 1173.34 L371.7 1173.26 L372.7 1173.18 L373.7 1173.09 L374.7 1173 L375.7 1172.9 L376.7 1172.8 L377.7 1172.69 L378.7 1172.58 L379.7 1172.46 L380.7 1172.34 L381.7 1172.21 L382.7 1172.07 L383.7 1171.93 L384.7 1171.77 L385.7 1171.61 L386.7 1171.44 L387.7 1171.26 L388.7 1171.08 L389.7 1170.88 L390.7 1170.68 L391.7 1170.47 L392.7 1170.25 L393.7 1170.03 L394.7 1169.79 L395.7 1169.55 L396.7 1169.29 L397.7 1169.03 L398.7 1168.76 L399.7 1168.48 L400.7 1168.2 L401.7 1167.9 L402.7 1167.59 L403.7 1167.28 L404.7 1166.95 L405.7 1166.61 L406.7 1166.27 L407.7 1165.91 L408.7 1165.54 L409.7 1165.17 L410.7 1164.78 L411.7 1164.37 L412.7 1163.96 L413.7 1163.54 L414.7 1163.1 L415.7 1162.65 L416.7 1162.18 L417.7 1161.71 L418.7 1161.21 L419.7 1160.71 L420.7 1160.19 L421.7 1159.65 L422.7 1159.1 L423.7 1158.53 L424.7 1157.94 L425.7 1157.33 L426.7 1156.71 L427.7 1156.06 L428.7 1155.4 L429.7 1154.71 L430.7 1154 L431.7 1153.26 L432.7 1152.51 L433.7 1151.73 L434.7 1150.92 L435.7 1150.08 L436.7 1149.22 L437.7 1148.33 L438.7 1147.41 L439.7 1146.46 L440.7 1145.48 L441.7 1144.47 L442.7 1143.43 L443.7 1142.35 L444.7 1141.24 L445.7 1140.09 L446.7 1138.9 L447.7 1137.68 L448.7 1136.42 L449.7 1135.12 L450.7 1133.78 L451.7 1132.4 L452.7 1130.97 L453.7 1129.5 L454.7 1127.99 L455.7 1126.44 L456.7 1124.84 L457.7 1123.19 L458.7 1121.49 L459.7 1119.75 L460.7 1117.96 L461.7 1116.12 L462.7 1114.23 L463.7 1112.29 L464.7 1110.31 L465.7 1108.28 L466.7 1106.21 L467.7 1104.09 L468.7 1101.91 L469.7 1099.69 L470.7 1097.42 L471.7 1095.1 L472.7 1092.73 L473.7 1090.31 L474.7 1087.85 L475.7 1085.33 L476.7 1082.76 L477.7 1080.15 L478.7 1077.48 L479.7 1074.77 L480.7 1072.02 L481.7 1069.22 L482.7 1066.38 L483.7 1063.5 L484.7 1060.58 L485.7 1057.62 L486.7 1054.63 L487.7 1051.62 L488.7 1048.57 L489.7 1045.51 L490.7 1042.42 L491.7 1039.33 L492.7 1036.22 L493.7 1033.11 L494.7 1030.01 L495.7 1026.92 L496.7 1023.84 L497.7 1020.79 L498.7 1017.77 L499.7 1014.79 L500.7 1011.85 L501.7 1008.98 L502.7 1006.17 L503.7 1003.44 L504.7 1000.8 L505.7 998.27 L506.7 995.84 L507.7 993.53 L508.7 991.36 L509.7 989.33 L510.7 987.45 L511.7 985.73 L512.7 984.18 L513.7 982.82 L514.7 981.64 L515.7 980.65 L516.7 979.87 L517.7 979.3 L518.7 978.93 L519.7 978.79 L520.7 978.86 L521.7 979.16 L522.7 979.68 L523.7 980.41 L524.7 981.37 L525.7 982.55 L526.7 983.94 L527.7 985.53 L528.7 987.33 L529.7 989.33 L530.7 991.51 L531.7 993.88 L532.7 996.41 L533.7 999.11 L534.7 1001.96 L535.7 1004.96 L536.7 1008.09 L537.7 1011.33 L538.7 1014.69 L539.7 1018.16 L540.7 1021.71 L541.7 1025.34 L542.7 1029.04 L543.7 1032.81 L544.7 1036.63 L545.7 1040.49 L546.7 1044.38 L547.7 1048.31 L548.7 1052.25 L549.7 1056.2 L550.7 1060.16 L551.7 1064.12 L552.7 1068.07 L553.7 1072.01 L554.7 1075.93 L555.7 1079.83 L556.7 1083.7 L557.7 1087.55 L558.7 1091.36 L559.7 1095.13 L560.7 1098.87 L561.7 1102.56 L562.7 1106.21 L563.7 1109.81 L564.7 1113.36 L565.7 1116.87 L566.7 1120.32 L567.7 1123.73 L568.7 1127.08 L569.7 1130.37 L570.7 1133.62 L571.7 1136.81 L572.7 1139.94 L573.7 1143.02 L574.7 1146.05 L575.7 1149.02 L576.7 1151.94 L577.7 1154.8 L578.7 1157.61 L579.7 1160.37 L580.7 1163.07 L581.7 1165.73 L582.7 1168.33 L583.7 1170.88 L584.7 1173.38 L585.7 1175.82 L586.7 1178.23 L587.7 1180.58 L588.7 1182.88 L589.7 1185.14 L590.7 1187.36 L591.7 1189.52 L592.7 1191.65 L593.7 1193.73 L594.7 1195.78 L595.7 1197.79 L596.7 1199.77 L597.7 1201.71 L598.7 1203.61 L599.7 1205.48 L600.7 1207.32 L601.7 1209.12 L602.7 1210.89 L603.7 1212.63 L604.7 1214.33 L605.7 1216.01 L606.7 1217.65 L607.7 1219.26 L608.7 1220.84 L609.7 1222.39 L610.7 1223.92 L611.7 1225.41 L612.7 1226.88 L613.7 1228.31 L614.7 1229.72 L615.7 1231.1 L616.7 1232.46 L617.7 1233.79 L618.7 1235.09 L619.7 1236.37 L620.7 1237.62 L621.7 1238.84 L622.7 1240.04 L623.7 1241.21 L624.7 1242.36 L625.7 1243.49 L626.7 1244.59 L627.7 1245.67 L628.7 1246.72 L629.7 1247.75 L630.7 1248.75 L631.7 1249.74 L632.7 1250.69 L633.7 1251.63 L634.7 1252.55 L635.7 1253.45 L636.7 1254.34 L637.7 1255.22 L638.7 1256.09 L639.7 1256.94 L640.7 1257.78 L641.7 1258.61 L642.7 1259.42 L643.7 1260.22 L644.7 1261.01 L645.7 1261.79 L646.7 1262.56 L647.7 1263.32 L648.7 1264.06 L649.7 1264.79 L650.7 1265.51 L651.7 1266.22 L652.7 1266.92 L653.7 1267.61 L654.7 1268.28 L655.7 1268.95 L656.7 1269.6 L657.7 1270.24 L658.7 1270.87 L659.7 1271.49 L660.7 1272.1 L661.7 1272.69 L662.7 1273.28 L663.7 1273.85 L664.7 1274.41 L665.7 1274.96 L666.7 1275.5 L667.7 1276.03 L668.7 1276.54 L669.7 1277.04 L670.7 1277.54 L671.7 1278.01 L672.7 1278.48 L673.7 1278.94 L674.7 1279.38 L675.7 1279.81 L676.7 1280.24 L677.7 1280.67 L678.7 1281.08 L679.7 1281.49 L680.7 1281.9 L681.7 1282.3 L682.7 1282.69 L683.7 1283.08 L684.7 1283.46 L685.7 1283.84 L686.7 1284.21 L687.7 1284.57 L688.7 1284.93 L689.7 1285.29 L690.7 1285.63 L691.7 1285.98 L692.7 1286.31 L693.7 1286.65 L694.7 1286.97 L695.7 1287.29 L696.7 1287.61 L697.7 1287.92 L698.7 1288.22 L699.7 1288.52 L700.7 1288.81 L701.7 1289.1 L702.7 1289.39 L703.7 1289.66 L704.7 1289.94 L705.7 1290.2 L706.7 1290.46 L707.7 1290.72 L708.7 1290.97 L709.7 1291.22 L710.7 1291.46 L711.7 1291.69 L712.7 1291.92 L713.7 1292.14 L714.7 1292.36 L715.7 1292.58 L716.7 1292.79 L717.7 1292.99 L718.7 1293.19 L719.7 1293.39 L720.7 1293.58 L721.7 1293.77 L722.7 1293.95 L723.7 1294.14 L724.7 1294.31 L725.7 1294.49 L726.7 1294.66 L727.7 1294.83 L728.7 1295 L729.7 1295.16 L730.7 1295.32 L731.7 1295.48 L732.7 1295.64 L733.7 1295.79 L734.7 1295.94 L735.7 1296.09 L736.7 1296.24 L737.7 1296.39 L738.7 1296.53 L739.7 1296.68 L740.7 1296.82 L741.7 1296.96 L742.7 1297.1 L743.7 1297.24 L744.7 1297.38 L745.7 1297.52 L746.7 1297.66 L747.7 1297.8 L748.7 1297.93 L749.7 1298.07 L750.7 1298.21 L751.7 1298.35 L752.7 1298.48 L753.7 1298.62 L754.7 1298.76 L755.7 1298.9 L756.7 1299.04 L757.7 1299.18 L758.7 1299.32 L759.7 1299.46 L760.7 1299.6 L761.7 1299.74 L762.7 1299.88 L763.7 1300.02 L764.7 1300.16 L765.7 1300.31 L766.7 1300.45 L767.7 1300.59 L768.7 1300.73 L769.7 1300.87 L770.7 1301.01 L771.7 1301.15 L772.7 1301.29 L773.7 1301.43 L774.7 1301.57 L775.7 1301.71 L776.7 1301.85 L777.7 1301.99 L778.7 1302.13 L779.7 1302.26 L780.7 1302.4 L781.7 1302.54 L782.7 1302.67 L783.7 1302.81 L784.7 1302.94 L785.7 1303.08 L786.7 1303.21 L787.7 1303.34 L788.7 1303.47 L789.7 1303.6 L790.7 1303.73 L791.7 1303.86 L792.7 1303.98 L793.7 1304.11 L794.7 1304.23 L795.7 1304.36 L796.7 1304.48 L797.7 1304.6 L798.7 1304.72 L799.7 1304.83 L800.7 1304.95 L801.7 1305.07 L802.7 1305.18 L803.7 1305.29 L804.7 1305.4 L805.7 1305.51 L806.7 1305.62 L807.7 1305.72 L808.7 1305.82 L809.7 1305.92 L810.7 1306.02 L811.7 1306.12 L812.7 1306.22 L813.7 1306.31 L814.7 1306.4 L815.7 1306.49 L816.7 1306.58 L817.7 1306.66 L818.7 1306.74 L819.7 1306.82 L820.7 1306.9 L821.7 1306.98 L822.7 1307.05" fill="none" stroke="#E09A00" stroke-width="2.35" stroke-linejoin="round" clip-path="url(#cc)"/>
<path d="M117.7 1153.54 L118.7 1153.54 L119.7 1153.53 L120.7 1153.53 L121.7 1153.53 L122.7 1153.53 L123.7 1153.53 L124.7 1153.53 L125.7 1153.54 L126.7 1153.55 L127.7 1153.55 L128.7 1153.56 L129.7 1153.57 L130.7 1153.58 L131.7 1153.59 L132.7 1153.61 L133.7 1153.62 L134.7 1153.64 L135.7 1153.65 L136.7 1153.67 L137.7 1153.69 L138.7 1153.71 L139.7 1153.73 L140.7 1153.75 L141.7 1153.78 L142.7 1153.8 L143.7 1153.83 L144.7 1153.85 L145.7 1153.88 L146.7 1153.9 L147.7 1153.93 L148.7 1153.96 L149.7 1153.99 L150.7 1154.02 L151.7 1154.05 L152.7 1154.08 L153.7 1154.12 L154.7 1154.15 L155.7 1154.18 L156.7 1154.22 L157.7 1154.25 L158.7 1154.29 L159.7 1154.32 L160.7 1154.36 L161.7 1154.39 L162.7 1154.43 L163.7 1154.47 L164.7 1154.51 L165.7 1154.54 L166.7 1154.58 L167.7 1154.62 L168.7 1154.66 L169.7 1154.7 L170.7 1154.74 L171.7 1154.78 L172.7 1154.82 L173.7 1154.86 L174.7 1154.9 L175.7 1154.94 L176.7 1154.98 L177.7 1155.02 L178.7 1155.06 L179.7 1155.11 L180.7 1155.16 L181.7 1155.21 L182.7 1155.27 L183.7 1155.33 L184.7 1155.39 L185.7 1155.45 L186.7 1155.52 L187.7 1155.59 L188.7 1155.66 L189.7 1155.74 L190.7 1155.82 L191.7 1155.9 L192.7 1155.98 L193.7 1156.06 L194.7 1156.15 L195.7 1156.24 L196.7 1156.33 L197.7 1156.43 L198.7 1156.52 L199.7 1156.62 L200.7 1156.72 L201.7 1156.82 L202.7 1156.92 L203.7 1157.02 L204.7 1157.13 L205.7 1157.24 L206.7 1157.34 L207.7 1157.45 L208.7 1157.56 L209.7 1157.68 L210.7 1157.79 L211.7 1157.9 L212.7 1158.02 L213.7 1158.13 L214.7 1158.25 L215.7 1158.37 L216.7 1158.48 L217.7 1158.6 L218.7 1158.72 L219.7 1158.84 L220.7 1158.96 L221.7 1159.08 L222.7 1159.2 L223.7 1159.32 L224.7 1159.44 L225.7 1159.56 L226.7 1159.68 L227.7 1159.8 L228.7 1159.92 L229.7 1160.04 L230.7 1160.16 L231.7 1160.28 L232.7 1160.41 L233.7 1160.54 L234.7 1160.67 L235.7 1160.8 L236.7 1160.94 L237.7 1161.08 L238.7 1161.22 L239.7 1161.37 L240.7 1161.51 L241.7 1161.66 L242.7 1161.81 L243.7 1161.96 L244.7 1162.11 L245.7 1162.27 L246.7 1162.43 L247.7 1162.58 L248.7 1162.74 L249.7 1162.9 L250.7 1163.06 L251.7 1163.23 L252.7 1163.39 L253.7 1163.55 L254.7 1163.72 L255.7 1163.88 L256.7 1164.05 L257.7 1164.21 L258.7 1164.38 L259.7 1164.54 L260.7 1164.71 L261.7 1164.87 L262.7 1165.04 L263.7 1165.2 L264.7 1165.37 L265.7 1165.53 L266.7 1165.7 L267.7 1165.86 L268.7 1166.02 L269.7 1166.18 L270.7 1166.34 L271.7 1166.5 L272.7 1166.66 L273.7 1166.83 L274.7 1166.99 L275.7 1167.15 L276.7 1167.31 L277.7 1167.48 L278.7 1167.64 L279.7 1167.81 L280.7 1167.97 L281.7 1168.13 L282.7 1168.3 L283.7 1168.47 L284.7 1168.63 L285.7 1168.8 L286.7 1168.96 L287.7 1169.13 L288.7 1169.3 L289.7 1169.47 L290.7 1169.63 L291.7 1169.8 L292.7 1169.97 L293.7 1170.14 L294.7 1170.31 L295.7 1170.48 L296.7 1170.65 L297.7 1170.82 L298.7 1170.99 L299.7 1171.16 L300.7 1171.33 L301.7 1171.51 L302.7 1171.68 L303.7 1171.85 L304.7 1172.02 L305.7 1172.2 L306.7 1172.37 L307.7 1172.54 L308.7 1172.72 L309.7 1172.9 L310.7 1173.08 L311.7 1173.26 L312.7 1173.45 L313.7 1173.64 L314.7 1173.83 L315.7 1174.02 L316.7 1174.22 L317.7 1174.41 L318.7 1174.61 L319.7 1174.81 L320.7 1175.01 L321.7 1175.21 L322.7 1175.41 L323.7 1175.61 L324.7 1175.81 L325.7 1176.01 L326.7 1176.21 L327.7 1176.41 L328.7 1176.61 L329.7 1176.8 L330.7 1177 L331.7 1177.19 L332.7 1177.38 L333.7 1177.56 L334.7 1177.75 L335.7 1177.93 L336.7 1178.11 L337.7 1178.28 L338.7 1178.45 L339.7 1178.62 L340.7 1178.78 L341.7 1178.93 L342.7 1179.09 L343.7 1179.23 L344.7 1179.37 L345.7 1179.51 L346.7 1179.64 L347.7 1179.77 L348.7 1179.88 L349.7 1180 L350.7 1180.11 L351.7 1180.22 L352.7 1180.33 L353.7 1180.43 L354.7 1180.53 L355.7 1180.63 L356.7 1180.72 L357.7 1180.81 L358.7 1180.9 L359.7 1180.99 L360.7 1181.07 L361.7 1181.15 L362.7 1181.23 L363.7 1181.31 L364.7 1181.38 L365.7 1181.46 L366.7 1181.53 L367.7 1181.6 L368.7 1181.66 L369.7 1181.73 L370.7 1181.79 L371.7 1181.86 L372.7 1181.92 L373.7 1181.98 L374.7 1182.04 L375.7 1182.09 L376.7 1182.15 L377.7 1182.2 L378.7 1182.26 L379.7 1182.31 L380.7 1182.36 L381.7 1182.41 L382.7 1182.46 L383.7 1182.5 L384.7 1182.54 L385.7 1182.57 L386.7 1182.6 L387.7 1182.63 L388.7 1182.66 L389.7 1182.68 L390.7 1182.7 L391.7 1182.72 L392.7 1182.74 L393.7 1182.75 L394.7 1182.76 L395.7 1182.77 L396.7 1182.78 L397.7 1182.79 L398.7 1182.8 L399.7 1182.8 L400.7 1182.81 L401.7 1182.81 L402.7 1182.82 L403.7 1182.82 L404.7 1182.82 L405.7 1182.82 L406.7 1182.82 L407.7 1182.83 L408.7 1182.83 L409.7 1182.83 L410.7 1182.83 L411.7 1182.84 L412.7 1182.84 L413.7 1182.84 L414.7 1182.85 L415.7 1182.86 L416.7 1182.86 L417.7 1182.87 L418.7 1182.88 L419.7 1182.9 L420.7 1182.91 L421.7 1182.93 L422.7 1182.94 L423.7 1182.96 L424.7 1182.98 L425.7 1183 L426.7 1183.02 L427.7 1183.05 L428.7 1183.07 L429.7 1183.09 L430.7 1183.12 L431.7 1183.15 L432.7 1183.17 L433.7 1183.2 L434.7 1183.23 L435.7 1183.25 L436.7 1183.28 L437.7 1183.31 L438.7 1183.34 L439.7 1183.36 L440.7 1183.39 L441.7 1183.42 L442.7 1183.44 L443.7 1183.47 L444.7 1183.5 L445.7 1183.52 L446.7 1183.54 L447.7 1183.57 L448.7 1183.59 L449.7 1183.61 L450.7 1183.62 L451.7 1183.64 L452.7 1183.66 L453.7 1183.67 L454.7 1183.68 L455.7 1183.69 L456.7 1183.69 L457.7 1183.7 L458.7 1183.7 L459.7 1183.7 L460.7 1183.69 L461.7 1183.68 L462.7 1183.68 L463.7 1183.67 L464.7 1183.66 L465.7 1183.66 L466.7 1183.65 L467.7 1183.65 L468.7 1183.64 L469.7 1183.64 L470.7 1183.63 L471.7 1183.62 L472.7 1183.61 L473.7 1183.6 L474.7 1183.58 L475.7 1183.56 L476.7 1183.53 L477.7 1183.5 L478.7 1183.46 L479.7 1183.42 L480.7 1183.37 L481.7 1183.32 L482.7 1183.25 L483.7 1183.18 L484.7 1183.1 L485.7 1183.01 L486.7 1182.91 L487.7 1182.8 L488.7 1182.68 L489.7 1182.54 L490.7 1182.39 L491.7 1182.23 L492.7 1182.06 L493.7 1181.86 L494.7 1181.66 L495.7 1181.43 L496.7 1181.19 L497.7 1180.93 L498.7 1180.65 L499.7 1180.35 L500.7 1180.03 L501.7 1179.69 L502.7 1179.33 L503.7 1178.94 L504.7 1178.54 L505.7 1178.11 L506.7 1177.66 L507.7 1177.19 L508.7 1176.7 L509.7 1176.18 L510.7 1175.63 L511.7 1175.06 L512.7 1174.47 L513.7 1173.84 L514.7 1173.19 L515.7 1172.51 L516.7 1171.8 L517.7 1171.05 L518.7 1170.28 L519.7 1169.46 L520.7 1168.62 L521.7 1167.74 L522.7 1166.82 L523.7 1165.87 L524.7 1164.88 L525.7 1163.84 L526.7 1162.77 L527.7 1161.65 L528.7 1160.5 L529.7 1159.29 L530.7 1158.05 L531.7 1156.75 L532.7 1155.41 L533.7 1154.02 L534.7 1152.59 L535.7 1151.1 L536.7 1149.56 L537.7 1147.97 L538.7 1146.32 L539.7 1144.62 L540.7 1142.87 L541.7 1141.06 L542.7 1139.19 L543.7 1137.26 L544.7 1135.28 L545.7 1133.23 L546.7 1131.13 L547.7 1128.97 L548.7 1126.74 L549.7 1124.46 L550.7 1122.11 L551.7 1119.7 L552.7 1117.23 L553.7 1114.69 L554.7 1112.1 L555.7 1109.44 L556.7 1106.72 L557.7 1103.93 L558.7 1101.09 L559.7 1098.18 L560.7 1095.22 L561.7 1092.2 L562.7 1089.12 L563.7 1085.98 L564.7 1082.79 L565.7 1079.55 L566.7 1076.26 L567.7 1072.92 L568.7 1069.53 L569.7 1066.11 L570.7 1062.65 L571.7 1059.15 L572.7 1055.63 L573.7 1052.08 L574.7 1048.52 L575.7 1044.94 L576.7 1041.35 L577.7 1037.76 L578.7 1034.19 L579.7 1030.62 L580.7 1027.08 L581.7 1023.57 L582.7 1020.1 L583.7 1016.68 L584.7 1013.33 L585.7 1010.04 L586.7 1006.84 L587.7 1003.73 L588.7 1000.72 L589.7 997.83 L590.7 995.06 L591.7 992.44 L592.7 989.96 L593.7 987.66 L594.7 985.53 L595.7 983.59 L596.7 981.85 L597.7 980.32 L598.7 979 L599.7 977.91 L600.7 977.06 L601.7 976.44 L602.7 976.07 L603.7 975.94 L604.7 976.07 L605.7 976.45 L606.7 977.08 L607.7 977.96 L608.7 979.1 L609.7 980.48 L610.7 982.1 L611.7 983.95 L612.7 986.04 L613.7 988.35 L614.7 990.87 L615.7 993.59 L616.7 996.51 L617.7 999.61 L618.7 1002.89 L619.7 1006.32 L620.7 1009.9 L621.7 1013.61 L622.7 1017.45 L623.7 1021.41 L624.7 1025.46 L625.7 1029.6 L626.7 1033.81 L627.7 1038.09 L628.7 1042.43 L629.7 1046.8 L630.7 1051.22 L631.7 1055.65 L632.7 1060.1 L633.7 1064.56 L634.7 1069.02 L635.7 1073.48 L636.7 1077.94 L637.7 1082.38 L638.7 1086.8 L639.7 1091.19 L640.7 1095.56 L641.7 1099.89 L642.7 1104.18 L643.7 1108.43 L644.7 1112.63 L645.7 1116.78 L646.7 1120.88 L647.7 1124.93 L648.7 1128.91 L649.7 1132.84 L650.7 1136.7 L651.7 1140.51 L652.7 1144.24 L653.7 1147.92 L654.7 1151.52 L655.7 1155.06 L656.7 1158.54 L657.7 1161.94 L658.7 1165.28 L659.7 1168.55 L660.7 1171.75 L661.7 1174.88 L662.7 1177.94 L663.7 1180.94 L664.7 1183.86 L665.7 1186.72 L666.7 1189.51 L667.7 1192.24 L668.7 1194.9 L669.7 1197.49 L670.7 1200.02 L671.7 1202.49 L672.7 1204.89 L673.7 1207.22 L674.7 1209.5 L675.7 1211.72 L676.7 1213.88 L677.7 1215.99 L678.7 1218.05 L679.7 1220.06 L680.7 1222.02 L681.7 1223.93 L682.7 1225.78 L683.7 1227.6 L684.7 1229.36 L685.7 1231.08 L686.7 1232.75 L687.7 1234.38 L688.7 1235.97 L689.7 1237.52 L690.7 1239.02 L691.7 1240.49 L692.7 1241.92 L693.7 1243.3 L694.7 1244.66 L695.7 1245.97 L696.7 1247.25 L697.7 1248.5 L698.7 1249.71 L699.7 1250.89 L700.7 1252.04 L701.7 1253.15 L702.7 1254.24 L703.7 1255.3 L704.7 1256.33 L705.7 1257.33 L706.7 1258.3 L707.7 1259.25 L708.7 1260.17 L709.7 1261.06 L710.7 1261.93 L711.7 1262.78 L712.7 1263.61 L713.7 1264.41 L714.7 1265.19 L715.7 1265.94 L716.7 1266.68 L717.7 1267.4 L718.7 1268.1 L719.7 1268.78 L720.7 1269.45 L721.7 1270.09 L722.7 1270.72 L723.7 1271.34 L724.7 1271.94 L725.7 1272.52 L726.7 1273.09 L727.7 1273.65 L728.7 1274.2 L729.7 1274.73 L730.7 1275.25 L731.7 1275.76 L732.7 1276.25 L733.7 1276.74 L734.7 1277.21 L735.7 1277.68 L736.7 1278.14 L737.7 1278.58 L738.7 1279.02 L739.7 1279.45 L740.7 1279.87 L741.7 1280.29 L742.7 1280.69 L743.7 1281.09 L744.7 1281.49 L745.7 1281.87 L746.7 1282.25 L747.7 1282.63 L748.7 1283 L749.7 1283.36 L750.7 1283.72 L751.7 1284.08 L752.7 1284.43 L753.7 1284.77 L754.7 1285.11 L755.7 1285.45 L756.7 1285.79 L757.7 1286.12 L758.7 1286.45 L759.7 1286.77 L760.7 1287.09 L761.7 1287.41 L762.7 1287.72 L763.7 1288.03 L764.7 1288.34 L765.7 1288.64 L766.7 1288.94 L767.7 1289.24 L768.7 1289.54 L769.7 1289.83 L770.7 1290.12 L771.7 1290.4 L772.7 1290.69 L773.7 1290.97 L774.7 1291.25 L775.7 1291.52 L776.7 1291.79 L777.7 1292.06 L778.7 1292.33 L779.7 1292.59 L780.7 1292.85 L781.7 1293.11 L782.7 1293.36 L783.7 1293.61 L784.7 1293.86 L785.7 1294.11 L786.7 1294.35 L787.7 1294.59 L788.7 1294.83 L789.7 1295.07 L790.7 1295.3 L791.7 1295.53 L792.7 1295.76 L793.7 1295.98 L794.7 1296.2 L795.7 1296.42 L796.7 1296.64 L797.7 1296.85 L798.7 1297.06 L799.7 1297.27 L800.7 1297.47 L801.7 1297.67 L802.7 1297.87 L803.7 1298.07 L804.7 1298.26 L805.7 1298.45 L806.7 1298.64 L807.7 1298.82 L808.7 1299 L809.7 1299.18 L810.7 1299.35 L811.7 1299.53 L812.7 1299.69 L813.7 1299.86 L814.7 1300.02 L815.7 1300.18 L816.7 1300.34 L817.7 1300.49 L818.7 1300.64 L819.7 1300.78 L820.7 1300.93 L821.7 1301.06 L822.7 1301.2" fill="none" stroke="#00A862" stroke-width="2.35" stroke-linejoin="round" clip-path="url(#cc)"/>
<path d="M116 1123 L123.2 1108.7 L130.3 1123 L136.4 1149.6 L142.6 1147.6 L154.8 1103.6 L165 1123 L174.2 1142.4 L181.4 1123 L186.5 1092.4 L197.7 1127.1 L205.9 1067.9 L215.1 1037.2 L222.3 1067.9 L228.4 1059.7 L238.6 1089.3 L246.8 1033.1 L257 1000.4 L268.2 1050.5 L279.5 1027 L284.6 1047.4 L288.7 1034.1 L293.8 1053.6 L307 1002.5 L316.2 1033.1 L320.3 997.4 L329.5 1023.9 L340.8 999.4 L345.9 1031.1 L347.9 1067.9 L359.2 1074 L363.2 1099.5 L368.4 1098.5 L371.4 1076 L377.5 1069.9 L385.7 1084.2 L390.8 1104.6 L398 1131.2 L408.2 1137.3 L414.3 1123 L420.4 1106.7 L428.6 1102.6 L434.3 1071.8 L448.6 1051.2 L454.2 1041.6 L462.9 1006.7 L474.8 1038.4 L480.4 1024.1 L485.2 987.6 L491.5 985.2 L496.3 992.4 L499.5 949.5 L507.4 908.1 L513.8 916.1 L523.3 885.9 L529.6 911.3 L536 936.7 L542.4 928.8 L550.3 895.4 L559.8 917.7 L564.6 906.5 L569.4 922.4 L574.1 925.6 L578.9 935.2 L583.7 936.7 L591.6 906.5 L596.4 914.5 L601.2 906.5 L604.3 932 L612.3 981.2 L617 984.4 L620.2 981.2 L628.2 1028.9 L632.9 998.7 L637.7 1001.9 L639.5 1020 L643.1 1056.5 L646.2 1100.3 L651.6 1102.7 L655.9 1133.1 L658.9 1105.2 L660.8 1080.8 L665 1077.2 L666.8 1088.1 L671.1 1129.5 L674.7 1183 L678.4 1184.2 L680.8 1178.2 L684.5 1161.1 L688.1 1162.3 L694.2 1200 L696.8 1222.8 L705 1245.3 L711.1 1259.6 L719.3 1255.5 L729.5 1280 L737.7 1259.6 L747.9 1282.1 L752 1263.7 L762.2 1249.4 L768.3 1255.5 L776.5 1252.4 L780.6 1263.7 L788.8 1267.8 L799 1300.5 L807.1 1271.9 L813.3 1275.9 L821.4 1312.7" fill="none" stroke="#474747" stroke-width="2.35" stroke-linejoin="round" clip-path="url(#cc)"/>
<path d="M117.7 1134.56 L118.7 1134.35 L119.7 1134.14 L120.7 1133.92 L121.7 1133.71 L122.7 1133.5 L123.7 1133.28 L124.7 1133.06 L125.7 1132.84 L126.7 1132.62 L127.7 1132.39 L128.7 1132.15 L129.7 1131.91 L130.7 1131.66 L131.7 1131.4 L132.7 1131.13 L133.7 1130.85 L134.7 1130.56 L135.7 1130.26 L136.7 1129.95 L137.7 1129.63 L138.7 1129.29 L139.7 1128.95 L140.7 1128.59 L141.7 1128.21 L142.7 1127.83 L143.7 1127.43 L144.7 1127.02 L145.7 1126.6 L146.7 1126.16 L147.7 1125.71 L148.7 1125.25 L149.7 1124.78 L150.7 1124.29 L151.7 1123.79 L152.7 1123.27 L153.7 1122.74 L154.7 1122.19 L155.7 1121.62 L156.7 1121.04 L157.7 1120.44 L158.7 1119.82 L159.7 1119.18 L160.7 1118.53 L161.7 1117.85 L162.7 1117.16 L163.7 1116.44 L164.7 1115.71 L165.7 1114.95 L166.7 1114.18 L167.7 1113.38 L168.7 1112.56 L169.7 1111.72 L170.7 1110.86 L171.7 1109.97 L172.7 1109.07 L173.7 1108.13 L174.7 1107.18 L175.7 1106.19 L176.7 1105.19 L177.7 1104.15 L178.7 1103.09 L179.7 1102.01 L180.7 1100.91 L181.7 1099.78 L182.7 1098.62 L183.7 1097.44 L184.7 1096.23 L185.7 1095 L186.7 1093.74 L187.7 1092.46 L188.7 1091.15 L189.7 1089.81 L190.7 1088.44 L191.7 1087.05 L192.7 1085.63 L193.7 1084.19 L194.7 1082.71 L195.7 1081.21 L196.7 1079.68 L197.7 1078.13 L198.7 1076.55 L199.7 1074.94 L200.7 1073.3 L201.7 1071.64 L202.7 1069.96 L203.7 1068.25 L204.7 1066.51 L205.7 1064.75 L206.7 1062.97 L207.7 1061.17 L208.7 1059.36 L209.7 1057.52 L210.7 1055.67 L211.7 1053.81 L212.7 1051.94 L213.7 1050.07 L214.7 1048.19 L215.7 1046.31 L216.7 1044.44 L217.7 1042.57 L218.7 1040.71 L219.7 1038.87 L220.7 1037.05 L221.7 1035.24 L222.7 1033.46 L223.7 1031.71 L224.7 1029.98 L225.7 1028.29 L226.7 1026.64 L227.7 1025.02 L228.7 1023.45 L229.7 1021.93 L230.7 1020.45 L231.7 1019.04 L232.7 1017.69 L233.7 1016.4 L234.7 1015.17 L235.7 1014.02 L236.7 1012.94 L237.7 1011.93 L238.7 1011 L239.7 1010.14 L240.7 1009.36 L241.7 1008.65 L242.7 1008.03 L243.7 1007.48 L244.7 1007.01 L245.7 1006.62 L246.7 1006.32 L247.7 1006.1 L248.7 1005.96 L249.7 1005.9 L250.7 1005.93 L251.7 1006.03 L252.7 1006.22 L253.7 1006.48 L254.7 1006.82 L255.7 1007.23 L256.7 1007.71 L257.7 1008.25 L258.7 1008.84 L259.7 1009.49 L260.7 1010.17 L261.7 1010.9 L262.7 1011.66 L263.7 1012.44 L264.7 1013.25 L265.7 1014.06 L266.7 1014.89 L267.7 1015.72 L268.7 1016.55 L269.7 1017.37 L270.7 1018.18 L271.7 1018.98 L272.7 1019.76 L273.7 1020.51 L274.7 1021.24 L275.7 1021.94 L276.7 1022.6 L277.7 1023.23 L278.7 1023.82 L279.7 1024.37 L280.7 1024.87 L281.7 1025.32 L282.7 1025.73 L283.7 1026.08 L284.7 1026.39 L285.7 1026.64 L286.7 1026.84 L287.7 1026.99 L288.7 1027.08 L289.7 1027.12 L290.7 1027.11 L291.7 1027.03 L292.7 1026.91 L293.7 1026.72 L294.7 1026.48 L295.7 1026.18 L296.7 1025.83 L297.7 1025.41 L298.7 1024.94 L299.7 1024.4 L300.7 1023.81 L301.7 1023.15 L302.7 1022.44 L303.7 1021.67 L304.7 1020.84 L305.7 1019.97 L306.7 1019.04 L307.7 1018.08 L308.7 1017.07 L309.7 1016.03 L310.7 1014.96 L311.7 1013.88 L312.7 1012.78 L313.7 1011.67 L314.7 1010.56 L315.7 1009.45 L316.7 1008.36 L317.7 1007.28 L318.7 1006.22 L319.7 1005.19 L320.7 1004.2 L321.7 1003.25 L322.7 1002.35 L323.7 1001.5 L324.7 1000.71 L325.7 999.98 L326.7 999.31 L327.7 998.72 L328.7 998.21 L329.7 997.77 L330.7 997.41 L331.7 997.14 L332.7 996.95 L333.7 996.86 L334.7 996.86 L335.7 996.95 L336.7 997.14 L337.7 997.42 L338.7 997.81 L339.7 998.31 L340.7 998.91 L341.7 999.62 L342.7 1000.43 L343.7 1001.36 L344.7 1002.39 L345.7 1003.53 L346.7 1004.77 L347.7 1006.11 L348.7 1007.54 L349.7 1009.07 L350.7 1010.69 L351.7 1012.39 L352.7 1014.16 L353.7 1016 L354.7 1017.9 L355.7 1019.86 L356.7 1021.86 L357.7 1023.91 L358.7 1025.99 L359.7 1028.1 L360.7 1030.24 L361.7 1032.4 L362.7 1034.58 L363.7 1036.76 L364.7 1038.95 L365.7 1041.15 L366.7 1043.33 L367.7 1045.51 L368.7 1047.68 L369.7 1049.84 L370.7 1051.97 L371.7 1054.09 L372.7 1056.17 L373.7 1058.24 L374.7 1060.27 L375.7 1062.27 L376.7 1064.24 L377.7 1066.18 L378.7 1068.08 L379.7 1069.94 L380.7 1071.77 L381.7 1073.55 L382.7 1075.3 L383.7 1077 L384.7 1078.65 L385.7 1080.26 L386.7 1081.83 L387.7 1083.35 L388.7 1084.83 L389.7 1086.27 L390.7 1087.65 L391.7 1089 L392.7 1090.29 L393.7 1091.55 L394.7 1092.75 L395.7 1093.91 L396.7 1095.03 L397.7 1096.1 L398.7 1097.12 L399.7 1098.1 L400.7 1099.03 L401.7 1099.92 L402.7 1100.76 L403.7 1101.57 L404.7 1102.33 L405.7 1103.05 L406.7 1103.74 L407.7 1104.38 L408.7 1104.99 L409.7 1105.55 L410.7 1106.09 L411.7 1106.59 L412.7 1107.05 L413.7 1107.47 L414.7 1107.86 L415.7 1108.22 L416.7 1108.54 L417.7 1108.82 L418.7 1109.06 L419.7 1109.26 L420.7 1109.42 L421.7 1109.53 L422.7 1109.6 L423.7 1109.63 L424.7 1109.61 L425.7 1109.53 L426.7 1109.41 L427.7 1109.24 L428.7 1109.02 L429.7 1108.74 L430.7 1108.42 L431.7 1108.04 L432.7 1107.61 L433.7 1107.13 L434.7 1106.61 L435.7 1106.03 L436.7 1105.39 L437.7 1104.71 L438.7 1103.97 L439.7 1103.18 L440.7 1102.33 L441.7 1101.43 L442.7 1100.47 L443.7 1099.45 L444.7 1098.38 L445.7 1097.25 L446.7 1096.06 L447.7 1094.82 L448.7 1093.53 L449.7 1092.19 L450.7 1090.8 L451.7 1089.36 L452.7 1087.89 L453.7 1086.37 L454.7 1084.83 L455.7 1083.25 L456.7 1081.65 L457.7 1080.02 L458.7 1078.37 L459.7 1076.69 L460.7 1074.99 L461.7 1073.26 L462.7 1071.5 L463.7 1069.71 L464.7 1067.89 L465.7 1066.02 L466.7 1064.11 L467.7 1062.14 L468.7 1060.1 L469.7 1058.01 L470.7 1055.84 L471.7 1053.59 L472.7 1051.27 L473.7 1048.87 L474.7 1046.39 L475.7 1043.83 L476.7 1041.2 L477.7 1038.49 L478.7 1035.71 L479.7 1032.87 L480.7 1029.96 L481.7 1026.99 L482.7 1023.95 L483.7 1020.87 L484.7 1017.73 L485.7 1014.53 L486.7 1011.29 L487.7 1008 L488.7 1004.66 L489.7 1001.27 L490.7 997.85 L491.7 994.38 L492.7 990.87 L493.7 987.33 L494.7 983.76 L495.7 980.17 L496.7 976.57 L497.7 972.96 L498.7 969.36 L499.7 965.78 L500.7 962.23 L501.7 958.71 L502.7 955.25 L503.7 951.85 L504.7 948.54 L505.7 945.3 L506.7 942.17 L507.7 939.14 L508.7 936.22 L509.7 933.42 L510.7 930.74 L511.7 928.18 L512.7 925.76 L513.7 923.47 L514.7 921.33 L515.7 919.33 L516.7 917.47 L517.7 915.77 L518.7 914.22 L519.7 912.83 L520.7 911.61 L521.7 910.54 L522.7 909.64 L523.7 908.9 L524.7 908.32 L525.7 907.9 L526.7 907.64 L527.7 907.53 L528.7 907.57 L529.7 907.76 L530.7 908.08 L531.7 908.53 L532.7 909.11 L533.7 909.81 L534.7 910.62 L535.7 911.53 L536.7 912.54 L537.7 913.63 L538.7 914.81 L539.7 916.05 L540.7 917.35 L541.7 918.7 L542.7 920.09 L543.7 921.52 L544.7 922.96 L545.7 924.42 L546.7 925.88 L547.7 927.33 L548.7 928.76 L549.7 930.17 L550.7 931.55 L551.7 932.87 L552.7 934.15 L553.7 935.36 L554.7 936.5 L555.7 937.56 L556.7 938.54 L557.7 939.42 L558.7 940.21 L559.7 940.89 L560.7 941.47 L561.7 941.94 L562.7 942.29 L563.7 942.53 L564.7 942.65 L565.7 942.65 L566.7 942.53 L567.7 942.3 L568.7 941.95 L569.7 941.49 L570.7 940.91 L571.7 940.23 L572.7 939.45 L573.7 938.57 L574.7 937.6 L575.7 936.54 L576.7 935.4 L577.7 934.19 L578.7 932.92 L579.7 931.59 L580.7 930.22 L581.7 928.82 L582.7 927.4 L583.7 925.98 L584.7 924.56 L585.7 923.16 L586.7 921.79 L587.7 920.47 L588.7 919.2 L589.7 918 L590.7 916.88 L591.7 915.85 L592.7 914.93 L593.7 914.12 L594.7 913.43 L595.7 912.88 L596.7 912.47 L597.7 912.21 L598.7 912.12 L599.7 912.2 L600.7 912.47 L601.7 912.92 L602.7 913.57 L603.7 914.44 L604.7 915.51 L605.7 916.82 L606.7 918.35 L607.7 920.11 L608.7 922.12 L609.7 924.36 L610.7 926.85 L611.7 929.58 L612.7 932.54 L613.7 935.75 L614.7 939.18 L615.7 942.84 L616.7 946.72 L617.7 950.8 L618.7 955.07 L619.7 959.53 L620.7 964.15 L621.7 968.93 L622.7 973.83 L623.7 978.86 L624.7 983.98 L625.7 989.18 L626.7 994.44 L627.7 999.76 L628.7 1005.1 L629.7 1010.46 L630.7 1015.83 L631.7 1021.19 L632.7 1026.52 L633.7 1031.83 L634.7 1037.1 L635.7 1042.33 L636.7 1047.51 L637.7 1052.63 L638.7 1057.68 L639.7 1062.65 L640.7 1067.54 L641.7 1072.33 L642.7 1077 L643.7 1081.57 L644.7 1086 L645.7 1090.3 L646.7 1094.47 L647.7 1098.5 L648.7 1102.39 L649.7 1106.15 L650.7 1109.8 L651.7 1113.34 L652.7 1116.79 L653.7 1120.18 L654.7 1123.51 L655.7 1126.82 L656.7 1130.1 L657.7 1133.38 L658.7 1136.66 L659.7 1139.94 L660.7 1143.24 L661.7 1146.54 L662.7 1149.85 L663.7 1153.15 L664.7 1156.43 L665.7 1159.69 L666.7 1162.91 L667.7 1166.1 L668.7 1169.23 L669.7 1172.31 L670.7 1175.32 L671.7 1178.27 L672.7 1181.14 L673.7 1183.94 L674.7 1186.66 L675.7 1189.32 L676.7 1191.9 L677.7 1194.42 L678.7 1196.87 L679.7 1199.26 L680.7 1201.59 L681.7 1203.85 L682.7 1206.06 L683.7 1208.21 L684.7 1210.31 L685.7 1212.35 L686.7 1214.34 L687.7 1216.29 L688.7 1218.18 L689.7 1220.02 L690.7 1221.82 L691.7 1223.57 L692.7 1225.27 L693.7 1226.92 L694.7 1228.53 L695.7 1230.1 L696.7 1231.62 L697.7 1233.1 L698.7 1234.54 L699.7 1235.94 L700.7 1237.3 L701.7 1238.62 L702.7 1239.91 L703.7 1241.16 L704.7 1242.38 L705.7 1243.57 L706.7 1244.72 L707.7 1245.85 L708.7 1246.94 L709.7 1248 L710.7 1249.03 L711.7 1250.03 L712.7 1251 L713.7 1251.95 L714.7 1252.86 L715.7 1253.74 L716.7 1254.6 L717.7 1255.43 L718.7 1256.24 L719.7 1257.02 L720.7 1257.78 L721.7 1258.51 L722.7 1259.23 L723.7 1259.92 L724.7 1260.6 L725.7 1261.26 L726.7 1261.9 L727.7 1262.53 L728.7 1263.14 L729.7 1263.74 L730.7 1264.32 L731.7 1264.89 L732.7 1265.45 L733.7 1266 L734.7 1266.53 L735.7 1267.05 L736.7 1267.57 L737.7 1268.07 L738.7 1268.56 L739.7 1269.04 L740.7 1269.52 L741.7 1269.98 L742.7 1270.44 L743.7 1270.89 L744.7 1271.33 L745.7 1271.76 L746.7 1272.19 L747.7 1272.61 L748.7 1273.02 L749.7 1273.43 L750.7 1273.83 L751.7 1274.23 L752.7 1274.62 L753.7 1275 L754.7 1275.39 L755.7 1275.77 L756.7 1276.14 L757.7 1276.51 L758.7 1276.88 L759.7 1277.24 L760.7 1277.6 L761.7 1277.96 L762.7 1278.31 L763.7 1278.66 L764.7 1279 L765.7 1279.34 L766.7 1279.68 L767.7 1280.01 L768.7 1280.34 L769.7 1280.67 L770.7 1280.99 L771.7 1281.31 L772.7 1281.62 L773.7 1281.93 L774.7 1282.24 L775.7 1282.54 L776.7 1282.84 L777.7 1283.14 L778.7 1283.43 L779.7 1283.73 L780.7 1284.01 L781.7 1284.3 L782.7 1284.58 L783.7 1284.85 L784.7 1285.13 L785.7 1285.4 L786.7 1285.67 L787.7 1285.94 L788.7 1286.2 L789.7 1286.47 L790.7 1286.73 L791.7 1286.99 L792.7 1287.25 L793.7 1287.51 L794.7 1287.77 L795.7 1288.03 L796.7 1288.29 L797.7 1288.55 L798.7 1288.81 L799.7 1289.07 L800.7 1289.34 L801.7 1289.6 L802.7 1289.86 L803.7 1290.12 L804.7 1290.38 L805.7 1290.64 L806.7 1290.9 L807.7 1291.15 L808.7 1291.4 L809.7 1291.65 L810.7 1291.89 L811.7 1292.13 L812.7 1292.37 L813.7 1292.6 L814.7 1292.83 L815.7 1293.05 L816.7 1293.27 L817.7 1293.49 L818.7 1293.69 L819.7 1293.9 L820.7 1294.1 L821.7 1294.29 L822.7 1294.47" fill="none" stroke="#FF3333" stroke-width="2.35" stroke-linejoin="round" clip-path="url(#cc)"/>
<clipPath id="ca"><rect x="90.6" y="24.8" width="755.8" height="561.9"/></clipPath>
<line x1="594.9" y1="135" x2="594.9" y2="548" stroke="#ededed" stroke-width="1" stroke-dasharray="3 3"/>
<path d="M91.5 55.35 L92.6 67.01 L93.7 41.1 L94.8 52.26 L95.9 46.51 L97 44.3 L98.1 47.44 L99.2 52.97 L100.3 54.66 L101.4 59.83 L102.5 55.78 L103.6 66.15 L104.7 49.83 L105.8 75.85 L106.9 46.65 L108 71.56 L109.1 63.59 L110.2 69.55 L111.3 54.98 L112.4 57.71 L113.5 80.44 L114.6 87.75 L115.7 65.57 L116.8 80.93 L117.9 89.17 L119 91.28 L120.1 63.34 L121.2 62.91 L122.3 68.83 L123.4 95.56 L124.5 68.54 L125.6 81.08 L126.7 100.96 L127.8 85.77 L128.9 91.21 L130 77.25 L131.1 90.33 L132.2 95.85 L133.3 67.26 L134.4 94.68 L135.5 104.49 L136.6 96.91 L137.7 80.85 L138.8 99.43 L139.9 74.92 L141 87.21 L142.1 103.47 L143.2 80.9 L144.3 80.25 L145.4 74.34 L146.5 70.3 L147.6 93.88 L148.7 77.13 L149.8 78.72 L150.9 86.12 L152 69.66 L153.1 87.58 L154.2 72.3 L155.3 88.8 L156.4 94.23 L157.5 74.89 L158.6 87.87 L159.7 99.26 L160.8 90.01 L161.9 77 L163 93.45 L164.1 96.65 L165.2 89.69 L166.3 103.14 L167.4 88.82 L168.5 98.77 L169.6 70.93 L170.7 70.92 L171.8 95.1 L172.9 81.66 L174 74.75 L175.1 102.94 L176.2 83.4 L177.3 97.99 L178.4 96.85 L179.5 101.65 L180.6 91.57 L181.7 95.28 L182.8 80.72 L183.9 77.96 L185 100.3 L186.1 84.36 L187.2 103.84 L188.3 93.94 L189.4 93.29 L190.5 76.36 L191.6 106.41 L192.7 89.39 L193.8 93.97 L194.9 87.63 L196 80.94 L197.1 103.45 L198.2 91.23 L199.3 70.9 L200.4 92.32 L201.5 82.36 L202.6 89.67 L203.7 102.51 L204.8 84.35 L205.9 103.84 L207 94.2 L208.1 73.37 L209.2 105.47 L210.3 97.28 L211.4 107.75 L212.5 78.54 L213.6 76.55 L214.7 103.38 L215.8 94.69 L216.9 72.92 L218 97.74 L219.1 99.31 L220.2 107.24 L221.3 101.97 L222.4 83.21 L223.5 80.4 L224.6 80.54 L225.7 79.75 L226.8 85.81 L227.9 105.13 L229 91.99 L230.1 90.58 L231.2 100.03 L232.3 76.23 L233.4 82.56 L234.5 94.29 L235.6 108.61 L236.7 98.2 L237.8 84.14 L238.9 110.44 L240 96.35 L241.1 115.26 L242.2 105.7 L243.3 121.17 L244.4 120.38 L245.5 116.95 L246.6 106.46 L247.7 104.98 L248.8 107.03 L249.9 105.35 L251 107.26 L252.1 110.59 L253.2 123.64 L254.3 119.99 L255.4 106.2 L256.5 108.34 L257.6 132.24 L258.7 122.19 L259.8 112.77 L260.9 113.86 L262 126.2 L263.1 111.37 L264.2 120.79 L265.3 130.38 L266.4 126.95 L267.5 111.29 L268.6 118.15 L269.7 121.82 L270.8 127.61 L271.9 110.6 L273 107.23 L274.1 108.68 L275.2 119.53 L276.3 122.83 L277.4 122.11 L278.5 115.81 L279.6 132.9 L280.7 122.09 L281.8 116.35 L282.9 119.87 L284 123.94 L285.1 121.24 L286.2 110.52 L287.3 105.51 L288.4 113.78 L289.5 121.37 L290.6 111.99 L291.7 126.87 L292.8 110.36 L293.9 115.59 L295 129.15 L296.1 113.25 L297.2 123.85 L298.3 120.41 L299.4 130.11 L300.5 113.47 L301.6 108.78 L302.7 126.07 L303.8 127.82 L304.9 132.26 L306 134.07 L307.1 112.41 L308.2 118.93 L309.3 129.03 L310.4 137.25 L311.5 136.53 L312.6 125.43 L313.7 132.6 L314.8 124.04 L315.9 116.27 L317 117.54 L318.1 119.91 L319.2 118.52 L320.3 128.14 L321.4 128.52 L322.5 116.33 L323.6 131 L324.7 112.44 L325.8 112.11 L326.9 113.19 L328 123.1 L329.1 112.08 L330.2 135.27 L331.3 132.67 L332.4 112.96 L333.5 116.62 L334.6 119.88 L335.7 114.37 L336.8 130.22 L337.9 118.63 L339 132.97 L340.1 124.53 L341.2 132.06 L342.3 131.63 L343.4 133.38 L344.5 122.81 L345.6 124.83 L346.7 130.67 L347.8 118.12 L348.9 122.81 L350 125.43 L351.1 111.84 L352.2 126.27 L353.3 123.29 L354.4 132.96 L355.5 121.78 L356.6 135.6 L357.7 127.8 L358.8 117.86 L359.9 131.44 L361 126.66 L362.1 113.12 L363.2 121.68 L364.3 127.94 L365.4 133.86 L366.5 112.59 L367.6 135.72 L368.7 121.73 L369.8 135.72 L370.9 127.1 L372 132.46 L373.1 126.81 L374.2 128.51 L375.3 121.13 L376.4 128.81 L377.5 133.25 L378.6 136.34 L379.7 134.38 L380.8 133.38 L381.9 137.44 L383 125.05 L384.1 133.12 L385.2 127.99 L386.3 126.25 L387.4 126.73 L388.5 126.41 L389.6 124.55 L390.7 131.85 L391.8 127.99 L392.9 141.03 L394 134.79 L395.1 124.21 L396.2 129.58 L397.3 127.78 L398.4 138.27 L399.5 140.43 L400.6 141.27 L401.7 136.01 L402.8 127.18 L403.9 126.6 L405 139.82 L406.1 131.91 L407.2 137.52 L408.3 131.78 L409.4 134.85 L410.5 129.59 L411.6 134.91 L412.7 130.23 L413.8 127.94 L414.9 125.33 L416 119.39 L417.1 126.47 L418.2 119.96 L419.3 140.15 L420.4 122.45 L421.5 136.54 L422.6 138.06 L423.7 134.11 L424.8 131.74 L425.9 123.05 L427 130.17 L428.1 127.83 L429.2 125.4 L430.3 133.49 L431.4 127.12 L432.5 139.97 L433.6 139.33 L434.7 124.54 L435.8 120.89 L436.9 122.32 L438 128.81 L439.1 133.79 L440.2 122.72 L441.3 124.05 L442.4 137.77 L443.5 129.04 L444.6 134.02 L445.7 126.13 L446.8 123.28 L447.9 131.72 L449 129.98 L450.1 121.84 L451.2 130.7 L452.3 128.06 L453.4 129.67 L454.5 118.33 L455.6 131.17 L456.7 120.04 L457.8 126.79 L458.9 133.05 L460 117.51 L461.1 124.66 L462.2 137 L463.3 137.05 L464.4 131.14 L465.5 138.51 L466.6 140.53 L467.7 138.01 L468.8 138.54 L469.9 122.53 L471 134.03 L472.1 135.05 L473.2 133.02 L474.3 136.87 L475.4 120.68 L476.5 135.76 L477.6 134.65 L478.7 124.58 L479.8 124.37 L480.9 132.02 L482 125.83 L483.1 134.77 L484.2 126.92 L485.3 133.16 L486.4 136.76 L487.5 122.01 L488.6 118.51 L489.7 134.06 L490.8 126.83 L491.9 136.04 L493 129.59 L494.1 137.52 L495.2 129.15 L496.3 129.66 L497.4 122.65 L498.5 128.05 L499.6 122.18 L500.7 125.61 L501.8 138.07 L502.9 124.32 L504 131.82 L505.1 142.42 L506.2 139.39 L507.3 139.64 L508.4 129.62 L509.5 132.69 L510.6 113.21 L511.7 77.44 L511.8 77 L512.8 103.24 L513.9 131.76 L515 145.3 L516.1 139.5 L517.2 131.53 L518.3 140.67 L519.4 134.71 L520.5 146.36 L521.6 136.12 L522.7 130.58 L523.8 141.92 L524.9 147.11 L526 138.15 L527.1 145.81 L528.2 141.21 L529.3 141.8 L530.4 150.04 L531.5 146.86 L532.6 131.57 L533.7 145.36 L534.8 140.98 L535.9 151.15 L537 137.27 L538.1 138.6 L539.2 135.16 L540.3 142.07 L541.4 135.57 L542.5 145.62 L543.6 148.53 L544.7 146 L545.8 147.02 L546.9 138.44 L548 148.29 L549.1 138.66 L550.2 144.69 L551.3 135.95 L552.4 124.19 L553 123 L553.5 123.77 L554.6 129.58 L555.7 140.97 L556.8 135.99 L557.9 135.35 L559 150.34 L560.1 143.65 L561.2 149.71 L562.3 143.09 L563.4 142.32 L564.5 142.39 L565.6 142.1 L566.7 148.5 L567.8 140.75 L568.9 150.59 L570 133.67 L571.1 147.9 L572.2 135.13 L573.3 144.55 L574.4 132.64 L575.5 142.87 L576.6 132.57 L577.7 151.15 L578.8 150.57 L579.9 148.82 L581 151.51 L582.1 136.99 L583.2 137.51 L584.3 138.33 L585.4 146.92 L586.5 152.57 L587.6 154.35 L588.7 149.12 L589.8 149.64 L590.9 153.17 L592 143.54 L593.1 140.79 L594.2 139.44 L595.3 138.4 L596.4 151.48 L597.5 138.33 L598.6 140.02 L599.7 150 L600.8 139.69 L601.9 151.99 L603 137.89 L604.1 142.62 L605.2 138.19 L606.3 149.44 L607.4 139.22 L608.5 140.9 L609.6 143.05 L610.7 151.93 L611.8 135.47 L612.9 149.03 L614 146.31 L615 127 L615.1 127.26 L616.2 139.85 L617.3 151.55 L618.4 145.32 L619.5 147.04 L620.6 141.7 L621.7 144.22 L622.8 137.32 L623.9 131.94 L625 142.99 L626.1 138.79 L627.2 143.71 L628.3 152.3 L629.4 144.07 L630.5 141.4 L631.6 144.08 L632.7 154.61 L633.8 154.56 L634.9 152.66 L636 154.02 L637.1 141.21 L638.2 138.85 L639.3 141.75 L640.4 143.53 L641.5 140.85 L642.6 148.5 L643.7 144.26 L644.8 150.96 L645.9 138.48 L647 147.45 L648.1 138.47 L649.2 144.46 L650.3 140.29 L651.4 135.08 L652.5 138.54 L653.6 146.84 L654.7 143.87 L655.8 144.18 L656.9 137.58 L658 144.65 L659.1 152.49 L660.2 149.55 L661.3 146.19 L662.4 154.12 L663.5 153.61 L664.6 149.27 L665.7 137.89 L666.8 113.06 L667.9 70.85 L668 70.4 L669 106.54 L670.1 154.57 L671.2 146.02 L672.3 161.34 L673.4 158.15 L674.5 159.89 L675.6 157.34 L676.7 158.57 L677.8 155.65 L678.9 148.13 L680 155.44 L681.1 159.01 L682.2 164.03 L683.3 159.5 L684.4 159.08 L685.5 152.74 L686.6 149.83 L687.7 162.87 L688.8 154.53 L689.9 166.37 L691 152.36 L692.1 154.37 L693.2 157.49 L694.3 161.34 L695.4 155.64 L696.5 149.07 L697.6 152.12 L698.7 155.38 L699.8 158.37 L700.9 160.11 L702 148.56 L703.1 146.61 L704.2 155.53 L705.3 160.73 L706.4 146.31 L707.5 158.25 L708.6 158.53 L709.7 154.15 L710.8 162.26 L711.9 156.85 L713 144.6 L714.1 152.38 L715.2 158.32 L716.3 157.15 L717.4 153.51 L718.5 153.88 L719.6 152.39 L720.7 147.32 L721.8 152.92 L722.9 155.26 L724 149.66 L725.1 158.59 L726.2 146.49 L727.3 156.08 L728.4 147.59 L729.5 156.12 L730.6 149.91 L731.7 156.8 L732.8 148.73 L733.9 146.22 L735 156.03 L736.1 147.69 L737.2 155.14 L738.3 155.22 L739.4 145.78 L740.5 145.57 L741.6 145.26 L742.7 144.27 L743.8 148.59 L744.9 142.57 L746 144.37 L747.1 154.68 L748.2 157.07 L749.3 144.25 L750.4 146.81 L751.5 146.16 L752.6 158.52 L753.7 154.57 L754.8 151.47 L755.9 146.71 L757 155.78 L758.1 148.31 L759.2 156.6 L760.3 152.38 L761.4 148.05 L762.5 141.66 L763.6 156.76 L764.7 142.52 L765.8 143.71 L766.9 148.34 L768 148.48 L769.1 144.46 L770.2 155.14 L771.3 145.73 L772.4 153.69 L773.5 155.37 L774.6 145.34 L775.7 151.71 L776.8 153.75 L777.9 151.22 L779 149.96 L780.1 144.17 L781.2 151.46 L782.3 154.9 L783.4 145.57 L784.5 151.88 L785.6 139.37 L786.7 153.57 L787.8 142.82 L788.9 146.85 L790 145.37 L791.1 141.34 L792.2 155.36 L793.3 145.41 L794.4 147.62 L795.5 146.5 L796.6 139.92 L797.7 141.3 L798.8 139.39 L799.9 147.58 L801 144.04 L802.1 146.5 L803.2 142.85 L804.3 155.26 L805.4 143.67 L806.5 159.18 L807.6 145.08 L808.7 151.99 L809.8 142.82 L810.9 155.87 L812 145.53 L813.1 151.45 L814.2 155.04 L815.3 144.5 L816.4 151.17 L817.5 145.05 L818.6 154.33 L819.7 153.75 L820.8 144.53 L821.9 156.96 L823 142.99 L824.1 158.4 L825.2 153.99 L826.3 152.09 L827.4 158.94 L828.5 158.68 L829.6 163.55 L830.7 151.1 L831.8 145.86 L832.9 161.24 L834 159.07 L835.1 156.04 L836.2 151.8 L837.3 154.85 L838.4 156.24 L839.5 149.64 L840.6 157.11 L841.7 157.53 L842.8 155.96 L843.9 153.12 L845 158.99" fill="none" stroke="#FF00FF" stroke-width="1.2" stroke-linejoin="round" clip-path="url(#ca)" stroke-dasharray="5 2.2"/>
<path d="M91.5 193.84 L92.6 187 L93.7 194.34 L94.8 191.99 L95.9 191.21 L97 189.41 L98.1 187.22 L99.2 193.44 L100.3 188.67 L101.4 188.43 L102.5 194.2 L103.6 193.25 L104.7 187.71 L105.8 193.91 L106.9 189.25 L108 198.69 L109.1 199.98 L110.2 194.77 L111.3 200.47 L112.4 189.2 L113.5 196.1 L114.6 189.75 L115.7 195.45 L116.8 190.38 L117.9 190.64 L119 197.45 L120.1 191.41 L121.2 189.19 L122.3 190.54 L123.4 192.21 L124.5 193.84 L125.6 189.81 L126.7 196.73 L127.8 194.77 L128.9 195.65 L130 194.37 L131.1 200.95 L132.2 197.88 L133.3 191.45 L134.4 199.38 L135.5 202.99 L136.6 195.48 L137.7 201.03 L138.8 192.43 L139.9 195.78 L141 193.74 L142.1 194.12 L143.2 199.66 L144.3 196.44 L145.4 203.31 L146.5 197.58 L147.6 191.04 L148.7 195.84 L149.8 203.7 L150.9 197.4 L152 192.07 L153.1 195.75 L154.2 193.17 L155.3 207.26 L156.4 206.72 L157.5 203.82 L158.6 200.43 L159.7 202.52 L160.8 193.08 L161.9 194.65 L163 197.97 L164.1 195.36 L165.2 190.74 L166.3 205.25 L167.4 197.31 L168.5 198.61 L169.6 196.19 L170.7 195.52 L171.8 197.75 L172.9 204.8 L174 203.61 L175.1 198.39 L176.2 193 L177.3 205.1 L178.4 197.17 L179.5 202.01 L180.6 193.56 L181.7 203.25 L182.8 199.06 L183.9 200.76 L185 199.6 L186.1 198.77 L187.2 201.97 L188.3 208.45 L189.4 195.35 L190.5 198.31 L191.6 194.04 L192.7 204.53 L193.8 203.32 L194.9 196.8 L196 200.3 L197.1 204.31 L198.2 205.14 L199.3 198.1 L200.4 209.21 L201.5 207.76 L202.6 197.99 L203.7 209.17 L204.8 207.29 L205.9 207.92 L207 203.78 L208.1 198.5 L209.2 208.7 L210.3 203.38 L211.4 199.42 L212.5 198.12 L213.6 208.07 L214.7 200.61 L215.8 202.43 L216.9 203.3 L218 206.3 L219.1 202.81 L220.2 195.6 L221.3 201.59 L222.4 199.88 L223.5 200.85 L224.6 203.46 L225.7 197.05 L226.8 196.76 L227.9 196.2 L229 199.16 L230.1 195.46 L231.2 205.6 L232.3 201.02 L233.4 199.74 L234.5 198.62 L235.6 201.78 L236.7 201.06 L237.8 202.57 L238.9 206 L240 208 L241.1 213.55 L242.2 216.96 L243.3 203.99 L244.4 208.09 L245.5 215.23 L246.6 208.2 L247.7 219.08 L248.8 209.06 L249.9 216.83 L251 215.21 L252.1 217.18 L253.2 205.31 L254.3 208.29 L255.4 215.66 L256.5 206.57 L257.6 206.11 L258.7 211.49 L259.8 215.34 L260.9 207.29 L262 207.46 L263.1 206.98 L264.2 212.17 L265.3 216.17 L266.4 208.94 L267.5 219.3 L268.6 212.6 L269.7 215.46 L270.8 210.36 L271.9 215.08 L273 219.88 L274.1 211.77 L275.2 207.7 L276.3 210.73 L277.4 210.89 L278.5 211.89 L279.6 212.35 L280.7 205.28 L281.8 207.43 L282.9 212.04 L284 216.13 L285.1 217.29 L286.2 217.36 L287.3 213.29 L288.4 220.35 L289.5 211.01 L290.6 213.41 L291.7 217.5 L292.8 219.12 L293.9 212.29 L295 218.9 L296.1 212.88 L297.2 217.28 L298.3 206.85 L299.4 207.41 L300.5 221.49 L301.6 208.67 L302.7 216.95 L303.8 210.81 L304.9 209.11 L306 211.51 L307.1 219.28 L308.2 213.51 L309.3 218.53 L310.4 215.13 L311.5 212.08 L312.6 212.28 L313.7 208.09 L314.8 205.02 L315.9 211.43 L317 213.67 L318.1 218.36 L319.2 215.17 L320.3 217.49 L321.4 218.57 L322.5 218.64 L323.6 216.66 L324.7 206.25 L325.8 209.62 L326.9 207.65 L328 217.81 L329.1 216.77 L330.2 210.09 L331.3 213.48 L332.4 217.14 L333.5 217.71 L334.6 208.41 L335.7 216.77 L336.8 218.31 L337.9 207.15 L339 208.47 L340.1 213.68 L341.2 210.51 L342.3 220.52 L343.4 217.91 L344.5 217.5 L345.6 217.91 L346.7 210.65 L347.8 208.46 L348.9 213.93 L350 210.24 L351.1 217.9 L352.2 213.33 L353.3 209.54 L354.4 216.94 L355.5 210.14 L356.6 207.58 L357.7 217.35 L358.8 213.22 L359.9 210.49 L361 217.47 L362.1 222.09 L363.2 211.01 L364.3 219.26 L365.4 218.72 L366.5 208.77 L367.6 219.53 L368.7 213.58 L369.8 208.26 L370.9 214.32 L372 210.5 L373.1 208.53 L374.2 206.97 L375.3 208.77 L376.4 212.34 L377.5 215.66 L378.6 207.3 L379.7 216.9 L380.8 207.5 L381.9 208.53 L383 216.66 L384.1 219.34 L385.2 221.05 L386.3 216.36 L387.4 214.05 L388.5 208.4 L389.6 215.7 L390.7 209.92 L391.8 214.82 L392.9 215.99 L394 219.09 L395.1 210.99 L396.2 220.78 L397.3 220.57 L398.4 217.78 L399.5 215.64 L400.6 216.24 L401.7 218.47 L402.8 219.74 L403.9 218.33 L405 215.22 L406.1 206.67 L407.2 215.11 L408.3 211.05 L409.4 208.18 L410.5 219.17 L411.6 217.92 L412.7 213.04 L413.8 211.65 L414.9 211.61 L416 207.8 L417.1 209.8 L418.2 210.4 L419.3 204.26 L420.4 218.05 L421.5 205.34 L422.6 210.96 L423.7 207.01 L424.8 208.69 L425.9 220.13 L427 211.5 L428.1 216.99 L429.2 207.78 L430.3 209.49 L431.4 218.69 L432.5 218.44 L433.6 208.41 L434.7 218.19 L435.8 213.28 L436.9 210.71 L438 209.02 L439.1 208.8 L440.2 218.63 L441.3 215.14 L442.4 213.09 L443.5 205.9 L444.6 209.2 L445.7 219.91 L446.8 214.06 L447.9 210.97 L449 205.51 L450.1 208.94 L451.2 208.57 L452.3 206.89 L453.4 209.17 L454.5 206.78 L455.6 204.64 L456.7 205.39 L457.8 211.85 L458.9 205.81 L460 219.39 L461.1 208.55 L462.2 212.54 L463.3 211.64 L464.4 209.48 L465.5 209.61 L466.6 207.55 L467.7 208.29 L468.8 205.58 L469.9 214.16 L471 213.42 L472.1 208.35 L473.2 217.05 L474.3 209.6 L475.4 213.11 L476.5 211.88 L477.6 209 L478.7 218.35 L479.8 217.25 L480.9 217.22 L482 218.92 L483.1 204.3 L484.2 211.52 L485.3 218.04 L486.4 205.57 L487.5 207.1 L488.6 211.02 L489.7 213.69 L490.8 208.49 L491.9 208.13 L493 215.28 L494.1 203.94 L495.2 215.41 L496.3 210.04 L497.4 213.24 L498.5 214.61 L499.6 205.62 L500.7 218.15 L501.8 217.18 L502.9 210.64 L504 208.12 L505.1 206.3 L506.2 210.23 L507.3 216.75 L508.4 218.45 L509.5 207.43 L510.6 178.56 L511.6 151 L511.7 151.45 L512.8 187.13 L513.9 212.84 L515 223.73 L516.1 215.66 L517.2 217.91 L518.3 226.32 L519.4 218.77 L520.5 223.25 L521.6 222.77 L522.7 217.94 L523.8 217.57 L524.9 218.13 L526 227.04 L527.1 214.01 L528.2 215.15 L529.3 219.02 L530.4 217.3 L531.5 222.73 L532.6 222.72 L533.7 222.53 L534.8 220.14 L535.9 223.93 L537 228.61 L538.1 229.35 L539.2 225.27 L540.3 229.49 L541.4 217.72 L542.5 219.49 L543.6 228.44 L544.7 222.78 L545.8 221.57 L546.9 225.2 L548 221.92 L549.1 229.87 L550.2 221.73 L551.3 228.42 L552.4 224.71 L553.5 229.25 L554.6 222.44 L555.7 228.26 L556.8 218.64 L557.9 210.63 L558.5 210 L559 211.53 L560.1 214.21 L561.2 228.93 L562.3 224.55 L563.4 227.42 L564.5 219.56 L565.6 230.43 L566.7 225.85 L567.8 224.3 L568.9 230.68 L570 224.57 L571.1 224.27 L572.2 216.96 L573.3 224.71 L574.4 227.82 L575.5 222.14 L576.6 226.84 L577.7 224.95 L578.8 219.34 L579.9 224.33 L581 223.17 L582.1 221.13 L583.2 226.27 L584.3 217.37 L585.4 222.35 L586.5 223.4 L587.6 231.6 L588.7 227.25 L589.8 225.91 L590.9 218.47 L592 222.43 L593.1 221.18 L594.2 229.61 L595.3 222 L596.4 228 L597.5 224.9 L598.6 228.38 L599.7 215.17 L600.8 229.38 L601.9 230 L603 218.12 L604.1 217.05 L605.2 221.22 L606.3 225.69 L607.4 225.18 L608.5 224.28 L609.6 231.96 L610.7 227.08 L611.8 232.83 L612.9 227.41 L614 221.32 L615.1 233.16 L616.2 233.05 L617.3 224.31 L618.4 228.9 L619.5 226.93 L620.6 220.17 L621.7 226.41 L622.8 227.86 L623.9 227.23 L625 226.64 L626.1 227.5 L627.2 229.25 L628.3 230.03 L629.4 219.39 L630.5 231.61 L631.6 224.18 L632.7 227.59 L633.8 222.58 L634.9 217.23 L636 226.38 L637.1 221.72 L638.2 224.46 L639.3 220.01 L640.4 218.99 L641.5 220.42 L642.6 228.85 L643.7 230.31 L644.8 231.38 L645.9 222.99 L647 228.54 L648.1 219.3 L649.2 227.95 L650.3 222.92 L651.4 229.16 L652.5 219.19 L653.6 228.56 L654.7 217.11 L655.8 228.83 L656.9 222.34 L658 217.99 L659.1 220.53 L660.2 227.12 L661.3 223.57 L662.4 220.78 L663.5 221.31 L664.6 228.94 L665.7 228.05 L666.8 200.05 L667.9 156.21 L668 155.6 L669 194.31 L670.1 222.58 L671.2 232.73 L672.3 238.29 L673.4 239.58 L674.5 232.42 L675.6 226.85 L676.7 232.52 L677.8 229.89 L678.9 230.52 L680 229.98 L681.1 241.28 L682.2 233.04 L683.3 227.14 L684.4 234.57 L685.5 237.48 L686.6 238.91 L687.7 237.62 L688.8 236.55 L689.9 228.72 L691 231.04 L692.1 232.87 L693.2 228.2 L694.3 232.89 L695.4 228.17 L696.5 228.11 L697.6 239.6 L698.7 229.43 L699.8 233.95 L700.9 236.05 L702 240.5 L703.1 230.44 L704.2 228.06 L705.3 238.15 L706.4 229.02 L707.5 228.31 L708.6 226.2 L709.7 230.64 L710.8 227.47 L711.9 229.59 L713 229.48 L714.1 234.27 L715.2 231.98 L716.3 235.97 L717.4 230.63 L718.5 231.23 L719.6 241.59 L720.7 229.85 L721.8 237.47 L722.9 236 L724 234.66 L725.1 226.17 L726.2 224.11 L727.3 235.33 L728.4 225.44 L729.5 228.26 L730.6 240.11 L731.7 240.23 L732.8 239.9 L733.9 234.93 L735 232.92 L736.1 232.68 L737.2 230.23 L738.3 239.01 L739.4 235.83 L740.5 237.67 L741.6 226.45 L742.7 230.23 L743.8 231.57 L744.9 227.03 L746 230.23 L747.1 224.54 L748.2 226.54 L749.3 224.02 L750.4 231.9 L751.5 227.32 L752.6 228.8 L753.7 228.22 L754.8 223.34 L755.9 236.32 L757 233.91 L758.1 227.91 L759.2 236.78 L760.3 233.45 L761.4 238.3 L762.5 230.3 L763.6 225.02 L764.7 225.39 L765.8 235.17 L766.9 232.94 L768 227.75 L769.1 233.08 L770.2 233.06 L771.3 238.26 L772.4 226.2 L773.5 227.3 L774.6 232.47 L775.7 227.95 L776.8 240.89 L777.9 228.75 L779 234.94 L780.1 231.96 L781.2 236.77 L782.3 225.37 L783.4 229.3 L784.5 231.44 L785.6 226.09 L786.7 234.29 L787.8 232.86 L788.9 237.49 L790 231.75 L791.1 229.58 L792.2 229.99 L793.3 228.91 L794.4 239.74 L795.5 237.9 L796.6 231.11 L797.7 232.74 L798.8 227.3 L799.9 234.53 L801 236.45 L802.1 228.69 L803.2 231.95 L804.3 235.61 L805.4 232.26 L806.5 234.06 L807.6 228.71 L808.7 237.75 L809.8 227.1 L810.9 232.3 L812 229.28 L813.1 226.24 L814.2 237.56 L815.3 227.61 L816.4 231.86 L817.5 234.3 L818.6 229.39 L819.7 232.92 L820.8 233.99 L821.9 232.92 L823 231.81 L824.1 230.23 L825.2 240.1 L826.3 234 L827.4 236.86 L828.5 234.26 L829.6 230.46 L830.7 233.39 L831.8 238.64 L832.9 239.43 L834 240.38 L835.1 229.26 L836.2 231.1 L837.3 227.44 L838.4 240.38 L839.5 234.58 L840.6 235.32 L841.7 230.8 L842.8 227.71 L843.9 229.77 L845 228.27" fill="none" stroke="#0000FF" stroke-width="1.2" stroke-linejoin="round" clip-path="url(#ca)" stroke-dasharray="5 2.2"/>
<path d="M91.5 282.21 L92.6 287.3 L93.7 276.14 L94.8 283.01 L95.9 294.37 L97 294.88 L98.1 273.41 L99.2 276.14 L100.3 272.27 L101.4 283.93 L102.5 273.05 L103.6 285.84 L104.7 291.93 L105.8 282.01 L106.9 293.63 L108 291.5 L109.1 275.74 L110.2 290.98 L111.3 282.76 L112.4 287.42 L113.5 284.15 L114.6 296.08 L115.7 289.31 L116.8 281.48 L117.9 292.27 L119 298.64 L120.1 285.13 L121.2 282.67 L122.3 287.39 L123.4 302.95 L124.5 304.38 L125.6 296.24 L126.7 303.02 L127.8 301.83 L128.9 289.37 L130 282.27 L131.1 299.02 L132.2 297.59 L133.3 293.22 L134.4 290.14 L135.5 295.51 L136.6 297.17 L137.7 291.38 L138.8 291.82 L139.9 296.46 L141 307.93 L142.1 300.8 L143.2 292.91 L144.3 293.13 L145.4 298.19 L146.5 291.3 L147.6 291.08 L148.7 299.58 L149.8 287.75 L150.9 298.74 L152 295.57 L153.1 305.35 L154.2 306.72 L155.3 305.51 L156.4 305.82 L157.5 297.68 L158.6 306.51 L159.7 298.43 L160.8 305.9 L161.9 300.29 L163 304.68 L164.1 295.13 L165.2 300.75 L166.3 320.99 L167.4 300.75 L168.5 313.15 L169.6 311.79 L170.7 313.63 L171.8 306.82 L172.9 310.24 L174 296.01 L175.1 296.39 L176.2 300.07 L177.3 299.04 L178.4 297.91 L179.5 298.95 L180.6 310.62 L181.7 300.94 L182.8 321.96 L183.9 314.94 L185 311.42 L186.1 316.1 L187.2 304.21 L188.3 322.14 L189.4 319.71 L190.5 316.52 L191.6 309.65 L192.7 319.12 L193.8 316.23 L194.9 313.83 L196 320.78 L197.1 313.67 L198.2 307.22 L199.3 313.24 L200.4 304.84 L201.5 305.94 L202.6 321.18 L203.7 323.44 L204.8 328.81 L205.9 325.56 L207 317.02 L208.1 304.37 L209.2 314.5 L210.3 325.79 L211.4 321.83 L212.5 313.81 L213.6 313.25 L214.7 307.27 L215.8 306.49 L216.9 303.92 L218 325.74 L219.1 319.01 L220.2 305.87 L221.3 313.33 L222.4 304.21 L223.5 309.26 L224.6 323.8 L225.7 322.13 L226.8 317.62 L227.9 311.77 L229 320.8 L230.1 327.42 L231.2 310.82 L232.3 302.04 L232.8 302 L233.4 302.67 L234.5 327.63 L235.6 324.3 L236.7 338.32 L237.8 329.5 L238.9 335.91 L240 349.05 L241.1 356.75 L242.2 345.42 L243.3 339.12 L244.4 356.77 L245.5 343.84 L246.6 353.78 L247.7 340.76 L248.8 352.76 L249.9 356.1 L251 353.64 L252.1 345.52 L253.2 353.72 L254.3 340.72 L255.4 344.72 L256.5 347.34 L257.6 357.95 L258.7 342.51 L259.8 359.3 L260.9 358.14 L262 362.48 L263.1 349.48 L264.2 346.1 L265.3 347 L266.4 360.01 L267.5 362.99 L268.6 356.97 L269.7 351.79 L270.8 347.08 L271.9 358.78 L273 359.28 L274.1 341.76 L275.2 344.25 L276.3 357.63 L277.4 357.82 L278.5 345.87 L279.6 344.82 L280.7 347.75 L281.8 349.61 L282.9 339.22 L284 354.87 L285.1 347.6 L286.2 352.31 L287.3 339.88 L288.4 355.63 L289.5 350.7 L290.6 341.7 L291.7 355.11 L292.8 349.93 L293.9 353.3 L295 336.12 L296.1 336.45 L297.2 351.42 L298.3 341.59 L299.4 345.83 L300.5 337.44 L301.6 354.82 L302.7 343.89 L303.8 350.57 L304.9 333.82 L306 342.59 L307.1 333.6 L308.2 351.71 L309.3 342.35 L310.4 334.21 L311.5 334.28 L312.6 344.01 L313.7 333.53 L314.8 335.45 L315.9 340.51 L317 341.45 L318.1 342.97 L319.2 343.49 L320.3 337.91 L321.4 343.16 L322.5 333.19 L323.6 335.92 L324.7 347.45 L325.8 333.58 L326.9 335.09 L328 335.38 L329.1 340.32 L330.2 329.86 L331.3 330.54 L332.4 340.07 L333.5 333.92 L334.6 345.39 L335.7 348.07 L336.8 343.4 L337.9 345.77 L339 339 L340.1 331.39 L341.2 339.8 L342.3 338.41 L343.4 343.38 L344.5 333.51 L345.6 335.5 L346.7 347.98 L347.8 335.94 L348.9 338.87 L350 350 L351.1 335.72 L352.2 332.83 L353.3 344.66 L354.4 341.59 L355.5 342.29 L356.6 329.75 L357.7 337.39 L358.8 328.11 L359.9 332.83 L361 342.22 L362.1 328.06 L363.2 332.76 L364.3 347.42 L365.4 347.05 L366.5 336.73 L367.6 342.37 L368.7 340.41 L369.8 337.02 L370.9 345.4 L372 330.72 L373.1 344.51 L374.2 327.61 L375.3 345.1 L376.4 341.09 L377.5 336.32 L378.6 341.21 L379.7 336.7 L380.8 343.32 L381.9 328.89 L383 336.92 L384.1 344.27 L385.2 345.07 L386.3 329.69 L387.4 329.93 L388.5 343.33 L389.6 331.22 L390.7 325.03 L391.8 339.1 L392.9 333.11 L394 340.37 L395.1 335.42 L396.2 336.38 L397.3 334.99 L398.4 332.55 L399.5 345.52 L400.6 340.59 L401.7 342.99 L402.8 345.08 L403.9 331.38 L405 345.47 L406.1 344.39 L407.2 337.07 L408.3 338.53 L409.4 329 L410.5 342.34 L411.6 329.5 L412.7 336.44 L413.8 327.24 L414.9 325.55 L416 336.34 L417.1 333.53 L418.2 337.11 L419.3 339.29 L420.4 343.07 L421.5 324.06 L422.6 335.3 L423.7 333.97 L424.8 335.32 L425.9 332.95 L427 333.24 L428.1 339.9 L429.2 331.54 L430.3 333.66 L431.4 337.21 L432.5 324.78 L433.6 331.74 L434.7 324.47 L435.8 324.73 L436.9 321.49 L438 325.56 L439.1 325.65 L440.2 331.91 L441.3 333.07 L442.4 338.28 L443.5 331.13 L444.6 339.36 L445.7 329.02 L446.8 336.42 L447.9 332.82 L449 334.76 L450.1 327.84 L451.2 341.82 L452.3 338.21 L453.4 324.89 L454.5 332.41 L455.6 341.3 L456.7 321.33 L457.8 326.33 L458.9 335.3 L460 320.84 L461.1 335.39 L462.2 331.71 L463.3 334.77 L464.4 330.81 L465.5 338.57 L466.6 326.19 L467.7 330.75 L468.8 319.92 L469.9 330.32 L471 327.78 L472.1 339.63 L473.2 339.23 L474.3 323.13 L475.4 321.65 L476.5 323.74 L477.6 325.59 L478.7 336.73 L479.8 333.01 L480.9 332.63 L482 330.84 L483.1 321.03 L484.2 328.44 L485.3 340.42 L486.4 336.54 L487.5 331.51 L488.6 324.14 L489.7 339.47 L490.8 330.06 L491.9 334.73 L493 326.81 L494.1 329.69 L495.2 330.15 L496.3 331.11 L497.4 323.36 L498.5 336.02 L499.6 325.64 L500.7 337.13 L501.8 341.96 L502.9 348.13 L504 345.14 L505.1 350.65 L506.2 365.14 L507.3 361.02 L508.4 359.51 L509.5 376.73 L510.6 347.7 L511.7 277.67 L512.5 227.5 L512.8 235.35 L513.9 338.93 L515 372.8 L516.1 381.33 L517.2 375.72 L518.3 385.59 L519.4 382.12 L520.5 377.81 L521.6 370.49 L522.7 376.12 L523.8 378.85 L524.9 375.23 L526 380.32 L527.1 374.46 L528.2 380.19 L529.3 381.16 L530.4 384.26 L531.5 386 L532.6 386.14 L533.7 380.83 L534.8 381.86 L535.9 390.03 L537 380.63 L538.1 387.63 L539.2 392.2 L540.3 390.54 L541.4 383.08 L542.5 378.06 L543.6 383.48 L544.7 384.19 L545.8 380.91 L546.9 377.25 L548 379.32 L549.1 372.61 L550.2 376.87 L551.3 374.7 L552.4 384.83 L553.5 389.37 L554.6 364.93 L555.5 354 L555.7 355.07 L556.8 378.56 L557.9 397.09 L559 391.57 L560.1 393.45 L561.2 400.07 L562.3 398.7 L563.4 401.83 L564.5 403.17 L565.6 395.14 L566.7 398.53 L567.8 396.23 L568.9 397.02 L570 395.6 L571.1 403.46 L572.2 398.98 L573.3 392.82 L574.4 400.35 L575.5 404.07 L576.6 403.3 L577.7 398.99 L578.8 391.89 L579.9 402.31 L581 403.82 L582.1 400.9 L583.2 396.47 L584.3 395.4 L585.4 399.87 L586.5 391.34 L587.6 400.4 L588.7 396.97 L589.8 391.77 L590.9 402.14 L592 396.72 L593.1 388.57 L593.8 381 L594.2 387.03 L595.3 393.76 L596.4 401.98 L597.5 402.27 L598.6 392.8 L599.7 397.35 L600.8 401.88 L601.9 397.82 L603 402.66 L604.1 396.19 L605.2 399.49 L606.3 394.13 L607.4 402.59 L608.5 402.75 L609.6 398.95 L610.7 381.86 L611 379 L611.8 394.43 L612.9 394.43 L614 399.71 L615.1 397.05 L616.2 397.76 L617.3 397.5 L618.4 404.15 L619.5 395.22 L620.6 395.67 L621.7 394.28 L622.8 391.82 L623.9 396.76 L625 401.89 L626.1 402.39 L627.2 396.75 L628.3 395.81 L629.4 401.69 L630.5 397.22 L631.6 397.49 L632.7 398.81 L633.8 391.29 L634.9 401.3 L636 391.65 L637.1 397.33 L638.2 402.6 L639.3 397.71 L640.4 395.06 L641.5 400.16 L642.6 402.42 L643.7 398.52 L644.8 390.88 L645.9 401.42 L647 389.72 L648.1 398.13 L649.2 400.87 L650.3 391.06 L651.4 396.11 L652.5 398.72 L653.6 392.06 L654.7 393.28 L655.8 393.41 L656.9 397.87 L658 400.51 L659.1 405.95 L660.2 415.19 L661.3 417.59 L662.4 421.6 L663.5 422.9 L664.6 425.17 L665.7 396.01 L666.8 287 L667.5 237.5 L667.9 255.44 L669 384.78 L670.1 429.16 L671.2 430.56 L672.3 430.51 L673.4 431.67 L674.5 436.44 L675.6 436.92 L676.7 434.72 L677.8 436.74 L678.9 434.57 L680 430.16 L681.1 431.57 L682.2 434.3 L683.3 434.31 L684.4 434.16 L685.5 432.55 L686.6 429.54 L687.7 437.16 L688.8 430.58 L689.9 437.68 L691 430.05 L692.1 437.93 L693.2 432.44 L694.3 436.39 L695.4 428.98 L696.5 432.92 L697.6 431.11 L698.7 435.23 L699.8 435.06 L700.9 433.38 L702 435.77 L703.1 438.36 L704.2 430.34 L705.3 434.65 L706.4 435.72 L707.5 435.38 L708.6 432.08 L709.7 437.77 L710.8 432.06 L711.9 437.52 L713 434.04 L714.1 430.96 L715.2 437.11 L716.3 430.23 L717.4 436.73 L718.5 434.88 L719.6 437.29 L720.7 436.44 L721.8 432.58 L722.9 429.95 L724 430.98 L725.1 428.46 L726.2 434.38 L727.3 429.21 L728.4 430.12 L729.5 430.81 L730.6 432.38 L731.7 435.02 L732.8 432.86 L733.9 433.44 L735 429.71 L736.1 431.98 L737.2 430.83 L738.3 435.78 L739.4 429.3 L740.5 434.93 L741.6 435.83 L742.7 434.21 L743.8 430.11 L744.9 432.05 L746 431.9 L747.1 432.11 L748.2 431.97 L749.3 438.36 L750.4 436.66 L751.5 437.61 L752.6 436.09 L753.7 432.92 L754.8 438.59 L755.9 434.69 L757 432.25 L758.1 437.52 L759.2 433.49 L760.3 438.8 L761.4 438.11 L762.5 433.95 L763.6 435.38 L764.7 437.59 L765.8 437.08 L766.9 435.77 L768 432.93 L769.1 433.94 L770.2 437.29 L771.3 435.03 L772.4 437.3 L773.5 436.88 L774.6 433.82 L775.7 431.48 L776.8 436.87 L777.9 434.01 L779 436.04 L780.1 432.12 L781.2 432.37 L782.3 434.94 L783.4 437.18 L784.5 432.12 L785.6 438.08 L786.7 438.71 L787.8 436.96 L788.9 437.51 L790 432.68 L791.1 431.28 L792.2 433.28 L793.3 431.41 L794.4 434.14 L795.5 437.44 L796.6 433.3 L797.7 438.85 L798.8 435.5 L799.9 433.16 L801 437.81 L802.1 436.12 L803.2 435.23 L804.3 436.96 L805.4 441.31 L806.5 439.15 L807.6 435 L808.7 440.81 L809.8 434.01 L810.9 435.99 L812 435.57 L813.1 441.05 L814.2 432 L815.3 437.87 L816.4 436.62 L817.5 433.51 L818.6 438.09 L819.7 439.76 L820.8 439.55 L821.9 433.38 L823 440.04 L824.1 436 L825.2 440.65 L826.3 437.97 L827.4 433.5 L828.5 439.49 L829.6 437.77 L830.7 436.71 L831.8 438.45 L832.9 436.75 L834 433.14 L835.1 441.23 L836.2 435.56 L837.3 435.45 L838.4 433.27 L839.5 439.27 L840.6 440.96 L841.7 436.93 L842.8 440.31 L843.9 436.16 L845 437.03" fill="none" stroke="#FF0000" stroke-width="1.2" stroke-linejoin="round" clip-path="url(#ca)" stroke-dasharray="5 2.2"/>
<path d="M91.5 444.93 L92.6 436.88 L93.7 445.88 L94.8 440.86 L95.9 440.59 L97 430.79 L98.1 446.19 L99.2 426.53 L100.3 431.69 L101.4 435.69 L102.5 443.17 L103.6 432 L104.7 446.25 L105.8 449.48 L106.9 433.57 L108 442.99 L109.1 431.5 L110.2 439.49 L111.3 432.77 L112.4 451.49 L113.5 440.98 L114.6 451.53 L115.7 448.45 L116.8 450.34 L117.9 436.53 L119 434.73 L120.1 445.55 L121.2 436.92 L122.3 448.6 L123.4 442.32 L124.5 445.1 L125.6 453.73 L126.7 445.46 L127.8 437.01 L128.9 437.74 L130 445.12 L131.1 444.09 L132.2 445.79 L133.3 440.52 L134.4 445.34 L135.5 440.28 L136.6 445.23 L137.7 448.64 L138.8 437.23 L139.9 441.66 L141 444.54 L142.1 448.42 L143.2 439.68 L144.3 445.82 L145.4 447.31 L146.5 452.94 L147.6 442.32 L148.7 448.07 L149.8 439.15 L150.9 445.47 L152 439.18 L153.1 454.34 L154.2 444.85 L155.3 453.47 L156.4 445.67 L157.5 456.11 L158.6 446.34 L159.7 445 L160.8 449.83 L161.9 455.19 L163 455.27 L164.1 449.65 L165.2 439.07 L166.3 449.25 L167.4 441.84 L168.5 451.46 L169.6 454.54 L170.7 446.76 L171.8 448.69 L172.9 438.1 L174 448.26 L175.1 440.52 L176.2 450.91 L177.3 446.22 L178.4 454.6 L179.5 440.32 L180.6 442.62 L181.7 455.3 L182.8 452.96 L183.9 455.36 L185 462.26 L186.1 456.43 L187.2 463.47 L188.3 457.86 L189.4 466.8 L190.5 462.04 L191.6 452.1 L192.7 457.14 L193.8 468.02 L194.9 458.29 L196 454.94 L197.1 460.52 L198.2 458.68 L199.3 462.98 L200.4 458.86 L201.5 454.72 L202.6 457.09 L203.7 456.44 L204.8 465.49 L205.9 466.44 L207 458.69 L208.1 447.21 L209.2 459.81 L210.3 457.97 L211.4 460.06 L212.5 449.38 L213.6 442.59 L214.7 453.05 L215.8 443.01 L216.9 456.15 L218 457.24 L219.1 449.88 L220.2 461.25 L221.3 446.14 L222.4 462.3 L223.5 453.2 L224.6 459.87 L225.7 460.3 L226.8 465.54 L227.9 465.86 L229 447.22 L230.1 446.86 L231.2 457.5 L232.3 446.94 L233.4 460.85 L234.5 462.29 L235.6 468.92 L236.7 468.42 L237.8 470.03 L238.9 489.28 L240 490.39 L241.1 477.08 L242.2 480.16 L243.3 491.95 L244.4 485.78 L245.5 488.95 L246.6 496.71 L247.7 487.77 L248.8 499.21 L249.9 494.88 L251 491.19 L252.1 483.25 L253.2 487.39 L254.3 494.13 L255.4 498.57 L256.5 480.22 L257.6 482.27 L258.7 495.9 L259.8 499.49 L260.9 486.1 L262 502.61 L263.1 502.67 L264.2 500.97 L265.3 493.66 L266.4 495.22 L267.5 493.02 L268.6 502.19 L269.7 491.48 L270.8 491.26 L271.9 503.67 L273 503.31 L274.1 504.16 L275.2 500.7 L276.3 485.92 L277.4 485.96 L278.5 495.51 L279.6 501.76 L280.7 502.55 L281.8 497.75 L282.9 504.43 L284 488.35 L285.1 490.06 L286.2 492.68 L287.3 491.57 L288.4 493.1 L289.5 489.47 L290.6 494.82 L291.7 487.72 L292.8 497.76 L293.9 505.66 L295 495.13 L296.1 498.49 L297.2 498.13 L298.3 504.69 L299.4 500.72 L300.5 502.57 L301.6 492.52 L302.7 503.85 L303.8 488.81 L304.9 492.95 L306 499.33 L307.1 490.98 L308.2 502.21 L309.3 501.8 L310.4 487.81 L311.5 489.24 L312.6 485.66 L313.7 501.98 L314.8 491.35 L315.9 492.36 L317 489.75 L318.1 486.59 L319.2 493.16 L320.3 488.41 L321.4 494.81 L322.5 487.2 L323.6 493.13 L324.7 501.6 L325.8 489.45 L326.9 500.82 L328 482.19 L329.1 491.79 L330.2 492.54 L331.3 499.68 L332.4 498.84 L333.5 490.45 L334.6 495.63 L335.7 500.28 L336.8 495.76 L337.9 500.54 L339 500.58 L340.1 491.54 L341.2 495.27 L342.3 485.53 L343.4 490.67 L344.5 499.28 L345.6 493.33 L346.7 487.2 L347.8 483.93 L348.9 486.04 L350 483.76 L351.1 485.85 L352.2 488.74 L353.3 481.64 L354.4 497.52 L355.5 488.33 L356.6 491.22 L357.7 492.19 L358.8 481.64 L359.9 480.49 L361 482.11 L362.1 499.33 L363.2 482.02 L364.3 489.17 L365.4 499.01 L366.5 493.61 L367.6 482.37 L368.7 500.09 L369.8 489.7 L370.9 485.09 L372 488.3 L373.1 493.29 L374.2 481.74 L375.3 493.72 L376.4 492.74 L377.5 484.76 L378.6 488.66 L379.7 483.97 L380.8 480.6 L381.9 492.11 L383 489.22 L384.1 497.03 L385.2 483.6 L386.3 488.11 L387.4 492.37 L388.5 479.95 L389.6 485.58 L390.7 492.13 L391.8 483.05 L392.9 485.38 L394 489.72 L395.1 486.4 L396.2 496.07 L397.3 496.03 L398.4 495.92 L399.5 488.21 L400.6 484.1 L401.7 493.96 L402.8 490.4 L403.9 492.58 L405 495.96 L406.1 502.12 L407.2 499.62 L408.3 485.8 L409.4 501.74 L410.5 497.01 L411.6 489.6 L412.7 497.72 L413.8 492.2 L414.9 493.48 L416 493.07 L417.1 483.75 L418.2 487.1 L419.3 487.61 L420.4 479.01 L421.5 491.77 L422.6 483.18 L423.7 485.95 L424.8 495.43 L425.9 493.85 L427 481.88 L428.1 484.6 L429.2 488.27 L430.3 479.41 L431.4 493.64 L432.5 484.72 L433.6 481.31 L434.7 494.17 L435.8 491.04 L436.9 481.74 L438 492.99 L439.1 497.23 L440.2 482.31 L441.3 494.83 L442.4 486.26 L443.5 489.67 L444.6 481.97 L445.7 491.07 L446.8 499.2 L447.9 486.24 L449 481.22 L450.1 496.9 L451.2 498.5 L452.3 488.69 L453.4 496.61 L454.5 496.24 L455.6 492.64 L456.7 494.89 L457.8 481.85 L458.9 496.38 L460 488.2 L461.1 485.88 L462.2 491.46 L463.3 497.17 L464.4 488.1 L465.5 480.39 L466.6 484.26 L467.7 484.04 L468.8 492.46 L469.9 498.01 L471 490.22 L472.1 484.61 L473.2 494.01 L474.3 482.84 L475.4 481.08 L476.5 493.01 L477.6 487.59 L478.7 489.37 L479.8 482.07 L480.9 490.65 L482 493.47 L483.1 501.25 L484.2 481.79 L485.3 491.81 L486.4 491.05 L487.5 493.54 L488.6 497.65 L489.7 489.74 L490.8 490.52 L491.9 488.5 L493 494.17 L494.1 496.48 L495.2 485 L496.3 493.72 L497.4 492.92 L498.5 487.74 L499.6 496.85 L500.7 497.73 L501.8 498.27 L502.9 504.31 L504 515.22 L505.1 510.38 L506.2 511.32 L507.3 507.86 L508.4 515.66 L509.5 503.24 L510.6 428.34 L511.3 398.8 L511.7 410.22 L512.8 486.83 L513.9 513.09 L515 520.01 L516.1 527.93 L517.2 526.43 L518.3 528.37 L519.4 528.38 L520.5 526.4 L521.6 532.45 L522.7 530.03 L523.8 532.42 L524.9 528.57 L526 530.5 L527.1 530 L528.2 533.03 L529.3 524.08 L530.4 523.83 L531.5 519.08 L532.6 519.86 L533.7 533.21 L534.8 525.94 L535.9 520.69 L537 520.48 L538.1 526.49 L539.2 528.28 L540.3 530.73 L541.4 526.57 L542.5 522.89 L543.6 528.34 L544.7 520.88 L545.8 523.28 L546.9 520.39 L548 528.84 L549.1 526.83 L550.2 525.34 L551.3 522.21 L552.4 531.18 L553.5 524.62 L554.6 532.26 L555.7 523.82 L556.8 517.43 L557.5 504 L557.9 508.44 L559 527.15 L560.1 536.73 L561.2 526.85 L562.3 532.43 L563.4 526.57 L564.5 539.29 L565.6 537.36 L566.7 528.61 L567.8 537.5 L568.9 536.11 L570 526.8 L571.1 528.93 L572.2 534.09 L573.3 534.75 L574.4 529.3 L575.5 526.14 L576.6 531.49 L577.7 535.61 L578.8 532.5 L579.9 528.23 L581 530.13 L582.1 536.76 L583.2 532.49 L584.3 536.66 L585.4 528.04 L586.5 535.09 L587.6 536.55 L588.7 537.62 L589.8 529.02 L590.9 537.39 L592 532.39 L593.1 525.94 L593.8 522.5 L594.2 525.44 L595.3 537.38 L596.4 532.66 L597.5 529.17 L598.6 529.86 L599.7 532.27 L600.8 539.26 L601.9 531.54 L603 530.99 L604.1 532.56 L605.2 528.8 L606.3 529.75 L607.4 536.87 L608.5 537.82 L609.6 530.31 L610.7 531.62 L611.8 537.25 L612.9 534.47 L614 530.91 L615.1 538 L616.2 537.38 L617.3 532.14 L618.4 529.14 L619.5 538.64 L620.6 539.94 L621.7 537.03 L622.8 538.83 L623.9 527.91 L625 536 L626.1 538.44 L627.2 531.25 L628.3 529.37 L629.4 539.21 L630.5 537.48 L631.6 531.44 L632.7 534.2 L633.8 529.33 L634.9 530.71 L636 535.6 L637.1 536.77 L638.2 538.57 L639.3 535.82 L640.4 537.93 L641.5 529.92 L642.6 537.16 L643.7 540.66 L644.8 539.53 L645.9 537.6 L647 538.78 L648.1 532.72 L649.2 530.82 L650.3 535.16 L651.4 534.53 L652.5 528.3 L653.6 533.42 L654.7 539.48 L655.8 534.32 L656.9 534.77 L658 539.18 L659.1 536.23 L660.2 540.78 L661.3 545.03 L662.4 543.87 L663.5 538.72 L664.6 520.7 L665.7 450.54 L666 445 L666.8 479.67 L667.9 544.62 L669 558.55 L670.1 551.56 L671.2 550.88 L672.3 557.81 L673.4 557.84 L674.5 558.46 L675.6 557.35 L676.7 557.87 L677.8 557.88 L678.9 551.01 L680 552.51 L681.1 551.52 L682.2 551.29 L683.3 560.3 L684.4 560.56 L685.5 556.5 L686.6 552.75 L687.7 552.59 L688.8 559.61 L689.9 559.59 L691 556.45 L692.1 557.6 L693.2 556.35 L694.3 557.24 L695.4 559.54 L696.5 554.48 L697.6 551.19 L698.7 551.22 L699.8 556.57 L700.9 551.25 L702 551.83 L703.1 559.03 L704.2 559.67 L705.3 552.29 L706.4 553.46 L707.5 560.71 L708.6 560.3 L709.7 557.86 L710.8 556.62 L711.9 559.61 L713 556.89 L714.1 561.38 L715.2 559.55 L716.3 558.46 L717.4 553.82 L718.5 559.54 L719.6 554.14 L720.7 554.44 L721.8 560.95 L722.9 558.25 L724 558.13 L725.1 559.41 L726.2 560.87 L727.3 561.94 L728.4 554.01 L729.5 553.84 L730.6 554.14 L731.7 562.27 L732.8 558.09 L733.9 556.53 L735 558.57 L736.1 554.02 L737.2 556.34 L738.3 555.29 L739.4 558.48 L740.5 553.43 L741.6 560.58 L742.7 551.8 L743.8 552.15 L744.9 552.56 L746 559.96 L747.1 553.17 L748.2 556.99 L749.3 556.85 L750.4 554.1 L751.5 553.42 L752.6 557.64 L753.7 551.78 L754.8 551.47 L755.9 555.2 L757 554.62 L758.1 552.41 L759.2 552.53 L760.3 556.2 L761.4 560.14 L762.5 557.55 L763.6 552.53 L764.7 553.94 L765.8 556.79 L766.9 551.36 L768 552.72 L769.1 551.99 L770.2 556.17 L771.3 557.34 L772.4 560.59 L773.5 553.15 L774.6 554.05 L775.7 555.09 L776.8 556.01 L777.9 554.67 L779 560.69 L780.1 554.73 L781.2 559.77 L782.3 560.63 L783.4 554.34 L784.5 553.18 L785.6 559.59 L786.7 551.91 L787.8 552.88 L788.9 553.53 L790 552.06 L791.1 557.86 L792.2 552.47 L793.3 555.07 L794.4 557.87 L795.5 559.04 L796.6 554.06 L797.7 557.84 L798.8 559.31 L799.9 553.11 L801 556.77 L802.1 555.78 L803.2 552.97 L804.3 557.59 L805.4 552.99 L806.5 558.51 L807.6 556.75 L808.7 559.81 L809.8 555.95 L810.9 559 L812 554.18 L813.1 555.16 L814.2 556.41 L815.3 557.57 L816.4 554.53 L817.5 552.69 L818.6 559.03 L819.7 559.81 L820.8 560.97 L821.9 558.42 L823 560.04 L824.1 554.31 L825.2 555.71 L826.3 556.21 L827.4 555.64 L828.5 555.55 L829.6 558.34 L830.7 559.92 L831.8 556.87 L832.9 558.51 L834 557.09 L835.1 558.06 L836.2 557.14 L837.3 553.05 L838.4 559.81 L839.5 553.62 L840.6 554.69 L841.7 557.08 L842.8 558.39 L843.9 560.67 L845 553.52" fill="none" stroke="#000000" stroke-width="1.2" stroke-linejoin="round" clip-path="url(#ca)" stroke-dasharray="5 2.2"/>
<rect x="90.6" y="24.8" width="755.8" height="561.9" fill="none" stroke="#000" stroke-width="2"/>
<rect x="1044.2" y="25" width="704" height="567" fill="none" stroke="#000" stroke-width="2"/>
<rect x="116.7" y="787.8" width="712.6" height="573.4" fill="none" stroke="#000" stroke-width="2"/>
<rect x="1039.6" y="787.8" width="705" height="568.5" fill="none" stroke="#000" stroke-width="2"/>
<line x1="90.6" y1="586.7" x2="90.6" y2="574.7" stroke="#000" stroke-width="2.4"/>
<line x1="216.57" y1="586.7" x2="216.57" y2="574.7" stroke="#000" stroke-width="2.4"/>
<line x1="342.53" y1="586.7" x2="342.53" y2="574.7" stroke="#000" stroke-width="2.4"/>
<line x1="468.5" y1="586.7" x2="468.5" y2="574.7" stroke="#000" stroke-width="2.4"/>
<line x1="594.47" y1="586.7" x2="594.47" y2="574.7" stroke="#000" stroke-width="2.4"/>
<line x1="720.43" y1="586.7" x2="720.43" y2="574.7" stroke="#000" stroke-width="2.4"/>
<line x1="846.4" y1="586.7" x2="846.4" y2="574.7" stroke="#000" stroke-width="2.4"/>
<line x1="153.58" y1="586.7" x2="153.58" y2="581.2" stroke="#000" stroke-width="2.4"/>
<line x1="279.55" y1="586.7" x2="279.55" y2="581.2" stroke="#000" stroke-width="2.4"/>
<line x1="405.52" y1="586.7" x2="405.52" y2="581.2" stroke="#000" stroke-width="2.4"/>
<line x1="531.48" y1="586.7" x2="531.48" y2="581.2" stroke="#000" stroke-width="2.4"/>
<line x1="657.45" y1="586.7" x2="657.45" y2="581.2" stroke="#000" stroke-width="2.4"/>
<line x1="783.42" y1="586.7" x2="783.42" y2="581.2" stroke="#000" stroke-width="2.4"/>
<line x1="90.6" y1="149" x2="101.1" y2="149" stroke="#000" stroke-width="2.4"/>
<line x1="90.6" y1="253.7" x2="101.1" y2="253.7" stroke="#000" stroke-width="2.4"/>
<line x1="90.6" y1="357.6" x2="101.1" y2="357.6" stroke="#000" stroke-width="2.4"/>
<line x1="90.6" y1="461.3" x2="101.1" y2="461.3" stroke="#000" stroke-width="2.4"/>
<line x1="90.6" y1="565.3" x2="101.1" y2="565.3" stroke="#000" stroke-width="2.4"/>
<line x1="1102.87" y1="592" x2="1102.87" y2="581" stroke="#000" stroke-width="2"/>
<line x1="1220.2" y1="592" x2="1220.2" y2="581" stroke="#000" stroke-width="2"/>
<line x1="1337.53" y1="592" x2="1337.53" y2="581" stroke="#000" stroke-width="2"/>
<line x1="1454.87" y1="592" x2="1454.87" y2="581" stroke="#000" stroke-width="2"/>
<line x1="1572.2" y1="592" x2="1572.2" y2="581" stroke="#000" stroke-width="2"/>
<line x1="1689.53" y1="592" x2="1689.53" y2="581" stroke="#000" stroke-width="2"/>
<line x1="1161.53" y1="592" x2="1161.53" y2="586" stroke="#000" stroke-width="2"/>
<line x1="1278.87" y1="592" x2="1278.87" y2="586" stroke="#000" stroke-width="2"/>
<line x1="1396.2" y1="592" x2="1396.2" y2="586" stroke="#000" stroke-width="2"/>
<line x1="1513.53" y1="592" x2="1513.53" y2="586" stroke="#000" stroke-width="2"/>
<line x1="1630.87" y1="592" x2="1630.87" y2="586" stroke="#000" stroke-width="2"/>
<line x1="1044.2" y1="88.4" x2="1055.2" y2="88.4" stroke="#000" stroke-width="1.2"/>
<line x1="1044.2" y1="216.2" x2="1055.2" y2="216.2" stroke="#000" stroke-width="1.2"/>
<line x1="1044.2" y1="344.4" x2="1055.2" y2="344.4" stroke="#000" stroke-width="1.2"/>
<line x1="1044.2" y1="472" x2="1055.2" y2="472" stroke="#000" stroke-width="1.2"/>
<line x1="1044.2" y1="152.4" x2="1049.7" y2="152.4" stroke="#000" stroke-width="1.2"/>
<line x1="1044.2" y1="280.1" x2="1049.7" y2="280.1" stroke="#000" stroke-width="1.2"/>
<line x1="1044.2" y1="408.1" x2="1049.7" y2="408.1" stroke="#000" stroke-width="1.2"/>
<line x1="1044.2" y1="535.8" x2="1049.7" y2="535.8" stroke="#000" stroke-width="1.2"/>
<line x1="208.65" y1="1361.2" x2="208.65" y2="1350.2" stroke="#000" stroke-width="2"/>
<line x1="346.57" y1="1361.2" x2="346.57" y2="1350.2" stroke="#000" stroke-width="2"/>
<line x1="484.49" y1="1361.2" x2="484.49" y2="1350.2" stroke="#000" stroke-width="2"/>
<line x1="622.42" y1="1361.2" x2="622.42" y2="1350.2" stroke="#000" stroke-width="2"/>
<line x1="760.34" y1="1361.2" x2="760.34" y2="1350.2" stroke="#000" stroke-width="2"/>
<line x1="139.69" y1="1361.2" x2="139.69" y2="1355.7" stroke="#000" stroke-width="2"/>
<line x1="277.61" y1="1361.2" x2="277.61" y2="1355.7" stroke="#000" stroke-width="2"/>
<line x1="415.53" y1="1361.2" x2="415.53" y2="1355.7" stroke="#000" stroke-width="2"/>
<line x1="553.45" y1="1361.2" x2="553.45" y2="1355.7" stroke="#000" stroke-width="2"/>
<line x1="691.38" y1="1361.2" x2="691.38" y2="1355.7" stroke="#000" stroke-width="2"/>
<line x1="116.7" y1="799.6" x2="127.7" y2="799.6" stroke="#000" stroke-width="1.4"/>
<line x1="116.7" y1="921" x2="127.7" y2="921" stroke="#000" stroke-width="1.4"/>
<line x1="116.7" y1="1043.8" x2="127.7" y2="1043.8" stroke="#000" stroke-width="1.4"/>
<line x1="116.7" y1="1165.1" x2="127.7" y2="1165.1" stroke="#000" stroke-width="1.4"/>
<line x1="116.7" y1="1287.4" x2="127.7" y2="1287.4" stroke="#000" stroke-width="1.4"/>
<line x1="116.7" y1="860.6" x2="122.2" y2="860.6" stroke="#000" stroke-width="1.4"/>
<line x1="116.7" y1="983" x2="122.2" y2="983" stroke="#000" stroke-width="1.4"/>
<line x1="116.7" y1="1104.1" x2="122.2" y2="1104.1" stroke="#000" stroke-width="1.4"/>
<line x1="116.7" y1="1226.5" x2="122.2" y2="1226.5" stroke="#000" stroke-width="1.4"/>
<line x1="116.7" y1="1349" x2="122.2" y2="1349" stroke="#000" stroke-width="1.4"/>
<line x1="1110.1" y1="1356.3" x2="1110.1" y2="1345.3" stroke="#000" stroke-width="2"/>
<line x1="1251.1" y1="1356.3" x2="1251.1" y2="1345.3" stroke="#000" stroke-width="2"/>
<line x1="1392.1" y1="1356.3" x2="1392.1" y2="1345.3" stroke="#000" stroke-width="2"/>
<line x1="1533.1" y1="1356.3" x2="1533.1" y2="1345.3" stroke="#000" stroke-width="2"/>
<line x1="1674.1" y1="1356.3" x2="1674.1" y2="1345.3" stroke="#000" stroke-width="2"/>
<line x1="1180.6" y1="1356.3" x2="1180.6" y2="1350.8" stroke="#000" stroke-width="2"/>
<line x1="1321.6" y1="1356.3" x2="1321.6" y2="1350.8" stroke="#000" stroke-width="2"/>
<line x1="1462.6" y1="1356.3" x2="1462.6" y2="1350.8" stroke="#000" stroke-width="2"/>
<line x1="1603.6" y1="1356.3" x2="1603.6" y2="1350.8" stroke="#000" stroke-width="2"/>
<line x1="1039.6" y1="897.8" x2="1050.6" y2="897.8" stroke="#000" stroke-width="1.4"/>
<line x1="1039.6" y1="1024.6" x2="1050.6" y2="1024.6" stroke="#000" stroke-width="1.4"/>
<line x1="1039.6" y1="1150.2" x2="1050.6" y2="1150.2" stroke="#000" stroke-width="1.4"/>
<line x1="1039.6" y1="1276.6" x2="1050.6" y2="1276.6" stroke="#000" stroke-width="1.4"/>
<line x1="1039.6" y1="835.4" x2="1045.1" y2="835.4" stroke="#000" stroke-width="1.4"/>
<line x1="1039.6" y1="961.1" x2="1045.1" y2="961.1" stroke="#000" stroke-width="1.4"/>
<line x1="1039.6" y1="1087.8" x2="1045.1" y2="1087.8" stroke="#000" stroke-width="1.4"/>
<line x1="1039.6" y1="1213.3" x2="1045.1" y2="1213.3" stroke="#000" stroke-width="1.4"/>
<line x1="1039.6" y1="1340.3" x2="1045.1" y2="1340.3" stroke="#000" stroke-width="1.4"/>
<text x="90.6" y="628" font-size="37" font-family="'Liberation Serif','Times New Roman',serif" font-weight="normal" text-anchor="middle" stroke="#000" stroke-width="0.24">1200</text>
<text x="216.57" y="628" font-size="37" font-family="'Liberation Serif','Times New Roman',serif" font-weight="normal" text-anchor="middle" stroke="#000" stroke-width="0.24">1000</text>
<text x="342.53" y="628" font-size="37" font-family="'Liberation Serif','Times New Roman',serif" font-weight="normal" text-anchor="middle" stroke="#000" stroke-width="0.24">800</text>
<text x="468.5" y="628" font-size="37" font-family="'Liberation Serif','Times New Roman',serif" font-weight="normal" text-anchor="middle" stroke="#000" stroke-width="0.24">600</text>
<text x="594.47" y="628" font-size="37" font-family="'Liberation Serif','Times New Roman',serif" font-weight="normal" text-anchor="middle" stroke="#000" stroke-width="0.24">400</text>
<text x="720.43" y="628" font-size="37" font-family="'Liberation Serif','Times New Roman',serif" font-weight="normal" text-anchor="middle" stroke="#000" stroke-width="0.24">200</text>
<text x="846.4" y="628" font-size="37" font-family="'Liberation Serif','Times New Roman',serif" font-weight="normal" text-anchor="middle" stroke="#000" stroke-width="0.24">0</text>
<text x="1102.87" y="633.3" font-size="37" font-family="'Liberation Serif','Times New Roman',serif" font-weight="normal" text-anchor="middle" stroke="#000" stroke-width="0.24">536</text>
<text x="1220.2" y="633.3" font-size="37" font-family="'Liberation Serif','Times New Roman',serif" font-weight="normal" text-anchor="middle" stroke="#000" stroke-width="0.24">534</text>
<text x="1337.53" y="633.3" font-size="37" font-family="'Liberation Serif','Times New Roman',serif" font-weight="normal" text-anchor="middle" stroke="#000" stroke-width="0.24">532</text>
<text x="1454.87" y="633.3" font-size="37" font-family="'Liberation Serif','Times New Roman',serif" font-weight="normal" text-anchor="middle" stroke="#000" stroke-width="0.24">530</text>
<text x="1572.2" y="633.3" font-size="37" font-family="'Liberation Serif','Times New Roman',serif" font-weight="normal" text-anchor="middle" stroke="#000" stroke-width="0.24">528</text>
<text x="1689.53" y="633.3" font-size="37" font-family="'Liberation Serif','Times New Roman',serif" font-weight="normal" text-anchor="middle" stroke="#000" stroke-width="0.24">526</text>
<text x="208.65" y="1403" font-size="37" font-family="'Liberation Serif','Times New Roman',serif" font-weight="normal" text-anchor="middle" stroke="#000" stroke-width="0.24">468</text>
<text x="346.57" y="1403" font-size="37" font-family="'Liberation Serif','Times New Roman',serif" font-weight="normal" text-anchor="middle" stroke="#000" stroke-width="0.24">465</text>
<text x="484.49" y="1403" font-size="37" font-family="'Liberation Serif','Times New Roman',serif" font-weight="normal" text-anchor="middle" stroke="#000" stroke-width="0.24">462</text>
<text x="622.42" y="1403" font-size="37" font-family="'Liberation Serif','Times New Roman',serif" font-weight="normal" text-anchor="middle" stroke="#000" stroke-width="0.24">459</text>
<text x="760.34" y="1403" font-size="37" font-family="'Liberation Serif','Times New Roman',serif" font-weight="normal" text-anchor="middle" stroke="#000" stroke-width="0.24">456</text>
<text x="1110.1" y="1397" font-size="37" font-family="'Liberation Serif','Times New Roman',serif" font-weight="normal" text-anchor="middle" stroke="#000" stroke-width="0.24">536</text>
<text x="1251.1" y="1397" font-size="37" font-family="'Liberation Serif','Times New Roman',serif" font-weight="normal" text-anchor="middle" stroke="#000" stroke-width="0.24">534</text>
<text x="1392.1" y="1397" font-size="37" font-family="'Liberation Serif','Times New Roman',serif" font-weight="normal" text-anchor="middle" stroke="#000" stroke-width="0.24">532</text>
<text x="1533.1" y="1397" font-size="37" font-family="'Liberation Serif','Times New Roman',serif" font-weight="normal" text-anchor="middle" stroke="#000" stroke-width="0.24">530</text>
<text x="1674.1" y="1397" font-size="37" font-family="'Liberation Serif','Times New Roman',serif" font-weight="normal" text-anchor="middle" stroke="#000" stroke-width="0.24">528</text>
<text x="273.5" y="695.3" font-size="48.5" font-family="'Liberation Serif','Times New Roman',serif" font-weight="normal" text-anchor="start" textLength="389.5" lengthAdjust="spacingAndGlyphs" stroke="#000" stroke-width="0.32">Binding energy (eV)</text>
<text x="1190.5" y="695.3" font-size="48.5" font-family="'Liberation Serif','Times New Roman',serif" font-weight="normal" text-anchor="start" textLength="391" lengthAdjust="spacingAndGlyphs" stroke="#000" stroke-width="0.32">Binding energy (eV)</text>
<text x="277.5" y="1458.3" font-size="48.5" font-family="'Liberation Serif','Times New Roman',serif" font-weight="normal" text-anchor="start" textLength="390" lengthAdjust="spacingAndGlyphs" stroke="#000" stroke-width="0.32">Binding energy (eV)</text>
<text x="1179.3" y="1459" font-size="48.5" font-family="'Liberation Serif','Times New Roman',serif" font-weight="normal" text-anchor="start" textLength="390" lengthAdjust="spacingAndGlyphs" stroke="#000" stroke-width="0.32">Binding energy (eV)</text>
<text transform="translate(39.9 369.8) rotate(-90)" font-size="46.5" font-family="'Liberation Serif','Times New Roman',serif" textLength="162.9" lengthAdjust="spacingAndGlyphs" stroke="#000" stroke-width="0.42">Intensity</text>
<text transform="translate(990.7 410.8) rotate(-90)" font-size="48" font-family="'Liberation Serif','Times New Roman',serif" textLength="167.1" lengthAdjust="spacingAndGlyphs" stroke="#000" stroke-width="0.42">Intensity</text>
<text transform="translate(85.4 1153.1) rotate(-90)" font-size="48" font-family="'Liberation Serif','Times New Roman',serif" textLength="167.5" lengthAdjust="spacingAndGlyphs" stroke="#000" stroke-width="0.42">Intensity</text>
<text transform="translate(1009 1146.7) rotate(-90)" font-size="47.5" font-family="'Liberation Serif','Times New Roman',serif" textLength="166.1" lengthAdjust="spacingAndGlyphs" stroke="#000" stroke-width="0.42">Intensity</text>
<text x="757.66" y="83.6" font-size="64.42" font-family="'Liberation Sans',Arial,sans-serif" font-weight="bold" text-anchor="start" textLength="76.97" lengthAdjust="spacingAndGlyphs">(a)</text>
<text x="1651.83" y="89.41" font-size="63.88" font-family="'Liberation Sans',Arial,sans-serif" font-weight="bold" text-anchor="start" textLength="81.24" lengthAdjust="spacingAndGlyphs">(b)</text>
<text x="736.77" y="854.96" font-size="64.63" font-family="'Liberation Sans',Arial,sans-serif" font-weight="bold" text-anchor="start" textLength="79.15" lengthAdjust="spacingAndGlyphs">(c)</text>
<text x="1648.98" y="857.41" font-size="63.88" font-family="'Liberation Sans',Arial,sans-serif" font-weight="bold" text-anchor="start" textLength="82.54" lengthAdjust="spacingAndGlyphs">(d)</text>
<text x="1062.03" y="79.4" font-size="47" font-family="'Liberation Serif','Times New Roman',serif" font-weight="normal" text-anchor="start" textLength="61.11" lengthAdjust="spacingAndGlyphs" stroke="#000" stroke-width="0.31">P-1</text>
<text x="1140.48" y="79.4" font-size="47" font-family="'Liberation Serif','Times New Roman',serif" font-weight="normal" text-anchor="start" textLength="35.65" lengthAdjust="spacingAndGlyphs" stroke="#000" stroke-width="0.31">O</text>
<text x="1178.29" y="96.8" font-size="43" font-family="'Liberation Serif','Times New Roman',serif" font-weight="normal" text-anchor="start" textLength="35.56" lengthAdjust="spacingAndGlyphs" stroke="#000" stroke-width="0.28">1s</text>
<text x="131.89" y="843.7" font-size="49" font-family="'Liberation Serif','Times New Roman',serif" font-weight="normal" text-anchor="start" textLength="63.25" lengthAdjust="spacingAndGlyphs" stroke="#000" stroke-width="0.32">P-1</text>
<text x="213.08" y="843.7" font-size="49" font-family="'Liberation Serif','Times New Roman',serif" font-weight="normal" text-anchor="start" textLength="40.49" lengthAdjust="spacingAndGlyphs" stroke="#000" stroke-width="0.32">Ti</text>
<text x="254.34" y="861.3" font-size="44" font-family="'Liberation Serif','Times New Roman',serif" font-weight="normal" text-anchor="start" textLength="44.49" lengthAdjust="spacingAndGlyphs" stroke="#000" stroke-width="0.29">2p</text>
<text x="1054.29" y="843.7" font-size="47.5" font-family="'Liberation Serif','Times New Roman',serif" font-weight="normal" text-anchor="start" textLength="68.01" lengthAdjust="spacingAndGlyphs" stroke="#000" stroke-width="0.31">P-2</text>
<text x="1133.4" y="843.7" font-size="47.5" font-family="'Liberation Serif','Times New Roman',serif" font-weight="normal" text-anchor="start" textLength="35.2" lengthAdjust="spacingAndGlyphs" stroke="#000" stroke-width="0.31">O</text>
<text x="1170.28" y="861.8" font-size="43.5" font-family="'Liberation Serif','Times New Roman',serif" font-weight="normal" text-anchor="start" textLength="36.61" lengthAdjust="spacingAndGlyphs" stroke="#000" stroke-width="0.28">1s</text>
<text x="123.37" y="66.9" font-size="35.5" font-family="'Liberation Serif','Times New Roman',serif" font-weight="normal" text-anchor="start" textLength="197.92" lengthAdjust="spacingAndGlyphs" stroke="#000" stroke-width="0.23">Ag-doped TiO</text>
<text x="322.07" y="77.7" font-size="19.5" font-family="'Liberation Serif','Times New Roman',serif" font-weight="normal" text-anchor="start" textLength="10.6" lengthAdjust="spacingAndGlyphs" stroke="#000" stroke-width="0.13">2</text>
<text x="339.99" y="66.9" font-size="35.5" font-family="'Liberation Serif','Times New Roman',serif" font-weight="normal" text-anchor="start" textLength="90.04" lengthAdjust="spacingAndGlyphs" stroke="#000" stroke-width="0.23">coated</text>
<text x="98" y="242.8" font-size="34.5" font-family="'Liberation Serif','Times New Roman',serif" font-weight="normal" text-anchor="start" textLength="53.88" lengthAdjust="spacingAndGlyphs" stroke="#000" stroke-width="0.22">TiO</text>
<text x="151.44" y="255.3" font-size="20.5" font-family="'Liberation Serif','Times New Roman',serif" font-weight="normal" text-anchor="start" textLength="12.1" lengthAdjust="spacingAndGlyphs" stroke="#000" stroke-width="0.13">2</text>
<text x="170.68" y="242.8" font-size="34.5" font-family="'Liberation Serif','Times New Roman',serif" font-weight="normal" text-anchor="start" textLength="90.14" lengthAdjust="spacingAndGlyphs" stroke="#000" stroke-width="0.22">coated</text>
<text x="105.7" y="339.2" font-size="33" font-family="'Liberation Serif','Times New Roman',serif" font-weight="normal" text-anchor="start" textLength="48.21" lengthAdjust="spacingAndGlyphs" stroke="#000" stroke-width="0.21">P-2</text>
<text x="101.36" y="486.5" font-size="33" font-family="'Liberation Serif','Times New Roman',serif" font-weight="normal" text-anchor="start" textLength="45.3" lengthAdjust="spacingAndGlyphs" stroke="#000" stroke-width="0.21">P-1</text>
<text x="494.42" y="61.3" font-size="30.5" font-family="'Liberation Serif','Times New Roman',serif" font-weight="normal" text-anchor="start" textLength="22.56" lengthAdjust="spacingAndGlyphs" stroke="#000" stroke-width="0.2">O</text>
<text x="515.89" y="71.3" font-size="18.5" font-family="'Liberation Serif','Times New Roman',serif" font-weight="normal" text-anchor="start" textLength="16.27" lengthAdjust="spacingAndGlyphs" stroke="#000" stroke-width="0.12">1s</text>
<text x="532.61" y="110.1" font-size="30.5" font-family="'Liberation Serif','Times New Roman',serif" font-weight="normal" text-anchor="start" textLength="24.21" lengthAdjust="spacingAndGlyphs" stroke="#000" stroke-width="0.2">Ti</text>
<text x="558.22" y="119" font-size="17" font-family="'Liberation Serif','Times New Roman',serif" font-weight="normal" text-anchor="start" textLength="17.78" lengthAdjust="spacingAndGlyphs" stroke="#000" stroke-width="0.11">2p</text>
<text x="602.33" y="117.3" font-size="31" font-family="'Liberation Serif','Times New Roman',serif" font-weight="normal" text-anchor="start" textLength="33.49" lengthAdjust="spacingAndGlyphs" stroke="#000" stroke-width="0.2">Ag</text>
<text x="637.1" y="125.8" font-size="17" font-family="'Liberation Serif','Times New Roman',serif" font-weight="normal" text-anchor="start" textLength="18.83" lengthAdjust="spacingAndGlyphs" stroke="#000" stroke-width="0.11">3d</text>
<text x="652.43" y="58.2" font-size="31" font-family="'Liberation Serif','Times New Roman',serif" font-weight="normal" text-anchor="start" textLength="20.68" lengthAdjust="spacingAndGlyphs" stroke="#000" stroke-width="0.2">C</text>
<text x="673.36" y="67.2" font-size="15" font-family="'Liberation Serif','Times New Roman',serif" font-weight="normal" text-anchor="start" textLength="14.53" lengthAdjust="spacingAndGlyphs" stroke="#000" stroke-width="0.1">1s</text>
<text x="579.1" y="510" font-size="28" font-family="'Liberation Serif','Times New Roman',serif" font-weight="normal" text-anchor="start" textLength="22.62" lengthAdjust="spacingAndGlyphs" stroke="#000" stroke-width="0.18">N</text>
<text x="600.91" y="520" font-size="18.5" font-family="'Liberation Serif','Times New Roman',serif" font-weight="normal" text-anchor="start" textLength="16.04" lengthAdjust="spacingAndGlyphs" stroke="#000" stroke-width="0.12">1s</text>
<text x="1083.36" y="211.1" font-size="39" font-family="'Liberation Serif','Times New Roman',serif" font-weight="normal" text-anchor="start" textLength="112.78" lengthAdjust="spacingAndGlyphs" stroke="#000" stroke-width="0.25">O=C-O</text>
<text x="1483.96" y="174.8" font-size="39" font-family="'Liberation Serif','Times New Roman',serif" font-weight="normal" text-anchor="start" textLength="73.31" lengthAdjust="spacingAndGlyphs" stroke="#000" stroke-width="0.25">O=C</text>
<text x="1569.76" y="274.3" font-size="38" font-family="'Liberation Serif','Times New Roman',serif" font-weight="normal" text-anchor="start" textLength="73.16" lengthAdjust="spacingAndGlyphs" stroke="#000" stroke-width="0.25">O-Ti</text>
<text x="1643.55" y="255.6" font-size="21" font-family="'Liberation Serif','Times New Roman',serif" font-weight="normal" text-anchor="start" textLength="24.26" lengthAdjust="spacingAndGlyphs" stroke="#000" stroke-width="0.14">4+</text>
<text x="1084.24" y="367" font-size="39.5" font-family="'Liberation Serif','Times New Roman',serif" font-weight="normal" text-anchor="start" textLength="65.67" lengthAdjust="spacingAndGlyphs" stroke="#000" stroke-width="0.26">O-C</text>
<text x="1612.1" y="431" font-size="38" font-family="'Liberation Serif','Times New Roman',serif" font-weight="normal" text-anchor="start" textLength="70.89" lengthAdjust="spacingAndGlyphs" stroke="#000" stroke-width="0.25">O-Ti</text>
<text x="1684.92" y="412.7" font-size="21" font-family="'Liberation Serif','Times New Roman',serif" font-weight="normal" text-anchor="start" textLength="24.09" lengthAdjust="spacingAndGlyphs" stroke="#000" stroke-width="0.14">3+</text>
<line x1="1199.7" y1="215.9" x2="1316.49" y2="330.54" stroke="#000" stroke-width="0.95"/>
<path d="M1324.7 338.6 L1312.33 331.93 L1317.21 331.24 L1317.8 326.36 Z" fill="#000"/>
<line x1="1481.3" y1="188.9" x2="1392.2" y2="345.01" stroke="#000" stroke-width="0.95"/>
<path d="M1386.5 355 L1389.8 341.34 L1391.7 345.88 L1396.58 345.21 Z" fill="#000"/>
<line x1="1563" y1="284.8" x2="1460.27" y2="422.58" stroke="#000" stroke-width="0.95"/>
<path d="M1453.4 431.8 L1458.34 418.65 L1459.68 423.38 L1464.6 423.31 Z" fill="#000"/>
<line x1="1154.6" y1="380.2" x2="1222.64" y2="447.8" stroke="#000" stroke-width="0.95"/>
<path d="M1230.8 455.9 L1218.47 449.15 L1223.35 448.5 L1223.97 443.62 Z" fill="#000"/>
<line x1="1604" y1="439" x2="1539.69" y2="491.71" stroke="#000" stroke-width="0.95"/>
<path d="M1530.8 499 L1538.77 487.43 L1538.92 492.34 L1543.71 493.46 Z" fill="#000"/>
<text x="343.05" y="902" font-size="38" font-family="'Liberation Serif','Times New Roman',serif" font-weight="normal" text-anchor="start" textLength="73.26" lengthAdjust="spacingAndGlyphs" stroke="#000" stroke-width="0.25">O-Ti</text>
<text x="415.88" y="883.2" font-size="21.5" font-family="'Liberation Serif','Times New Roman',serif" font-weight="normal" text-anchor="start" textLength="24.97" lengthAdjust="spacingAndGlyphs" stroke="#000" stroke-width="0.14">3+</text>
<text x="440.6" y="915" font-size="21.5" font-family="'Liberation Serif','Times New Roman',serif" font-weight="normal" text-anchor="start" textLength="51.96" lengthAdjust="spacingAndGlyphs" stroke="#000" stroke-width="0.14">2p3/2</text>
<text x="672.43" y="1008.3" font-size="38" font-family="'Liberation Serif','Times New Roman',serif" font-weight="normal" text-anchor="start" textLength="74.19" lengthAdjust="spacingAndGlyphs" stroke="#000" stroke-width="0.25">O-Ti</text>
<text x="746.85" y="989.4" font-size="21.5" font-family="'Liberation Serif','Times New Roman',serif" font-weight="normal" text-anchor="start" textLength="24.26" lengthAdjust="spacingAndGlyphs" stroke="#000" stroke-width="0.14">4+</text>
<text x="769.99" y="1022.7" font-size="21.5" font-family="'Liberation Serif','Times New Roman',serif" font-weight="normal" text-anchor="start" textLength="52.38" lengthAdjust="spacingAndGlyphs" stroke="#000" stroke-width="0.14">2p3/2</text>
<text x="178.09" y="1274.9" font-size="39" font-family="'Liberation Serif','Times New Roman',serif" font-weight="normal" text-anchor="start" textLength="71.72" lengthAdjust="spacingAndGlyphs" stroke="#000" stroke-width="0.25">O-Ti</text>
<text x="251.48" y="1256" font-size="21.5" font-family="'Liberation Serif','Times New Roman',serif" font-weight="normal" text-anchor="start" textLength="24.86" lengthAdjust="spacingAndGlyphs" stroke="#000" stroke-width="0.14">3+</text>
<text x="275.08" y="1287.5" font-size="21.5" font-family="'Liberation Serif','Times New Roman',serif" font-weight="normal" text-anchor="start" textLength="52.9" lengthAdjust="spacingAndGlyphs" stroke="#000" stroke-width="0.14">2p1/2</text>
<text x="347.58" y="1273.6" font-size="39" font-family="'Liberation Serif','Times New Roman',serif" font-weight="normal" text-anchor="start" textLength="72.03" lengthAdjust="spacingAndGlyphs" stroke="#000" stroke-width="0.25">O-Ti</text>
<text x="420.94" y="1254.7" font-size="21.5" font-family="'Liberation Serif','Times New Roman',serif" font-weight="normal" text-anchor="start" textLength="25.22" lengthAdjust="spacingAndGlyphs" stroke="#000" stroke-width="0.14">4+</text>
<text x="445.91" y="1286.3" font-size="21.5" font-family="'Liberation Serif','Times New Roman',serif" font-weight="normal" text-anchor="start" textLength="51.44" lengthAdjust="spacingAndGlyphs" stroke="#000" stroke-width="0.14">2p1/2</text>
<line x1="437.7" y1="931.4" x2="509.09" y2="1099.02" stroke="#000" stroke-width="0.95"/>
<path d="M513.6 1109.6 L504.72 1098.71 L509.49 1099.94 L511.9 1095.65 Z" fill="#000"/>
<line x1="719.3" y1="1034.3" x2="609.82" y2="1128.5" stroke="#000" stroke-width="0.95"/>
<path d="M601.1 1136 L608.79 1124.24 L609.06 1129.15 L613.88 1130.15 Z" fill="#000"/>
<line x1="263.8" y1="1235.8" x2="244.64" y2="1124.03" stroke="#000" stroke-width="0.95" stroke-dasharray="4 1.6"/>
<path d="M242.7 1112.7 L248.82 1125.35 L244.47 1123.05 L241.14 1126.66 Z" fill="#000"/>
<line x1="381" y1="1231.4" x2="348.96" y2="1138.77" stroke="#000" stroke-width="0.95" stroke-dasharray="5 1.6"/>
<path d="M345.2 1127.9 L353.3 1139.38 L348.63 1137.82 L345.93 1141.93 Z" fill="#000"/>
<text x="1116.46" y="967.5" font-size="38.5" font-family="'Liberation Serif','Times New Roman',serif" font-weight="normal" text-anchor="start" textLength="112.98" lengthAdjust="spacingAndGlyphs" stroke="#000" stroke-width="0.25">O=C-O</text>
<text x="1081.14" y="1105" font-size="38.5" font-family="'Liberation Serif','Times New Roman',serif" font-weight="normal" text-anchor="start" textLength="65.35" lengthAdjust="spacingAndGlyphs" stroke="#000" stroke-width="0.25">O-C</text>
<text x="1559.26" y="1038.4" font-size="38.5" font-family="'Liberation Serif','Times New Roman',serif" font-weight="normal" text-anchor="start" textLength="72.95" lengthAdjust="spacingAndGlyphs" stroke="#000" stroke-width="0.25">O-Ti</text>
<text x="1632.56" y="1019.5" font-size="21" font-family="'Liberation Serif','Times New Roman',serif" font-weight="normal" text-anchor="start" textLength="23.83" lengthAdjust="spacingAndGlyphs" stroke="#000" stroke-width="0.14">4+</text>
<text x="1621.78" y="1186" font-size="38.5" font-family="'Liberation Serif','Times New Roman',serif" font-weight="normal" text-anchor="start" textLength="72.23" lengthAdjust="spacingAndGlyphs" stroke="#000" stroke-width="0.25">O-Ti</text>
<text x="1695.13" y="1167.1" font-size="21" font-family="'Liberation Serif','Times New Roman',serif" font-weight="normal" text-anchor="start" textLength="23.76" lengthAdjust="spacingAndGlyphs" stroke="#000" stroke-width="0.14">3+</text>
<line x1="1231.1" y1="976.3" x2="1340.47" y2="1094.07" stroke="#000" stroke-width="0.95"/>
<path d="M1348.3 1102.5 L1336.26 1095.26 L1341.15 1094.81 L1341.97 1089.95 Z" fill="#000"/>
<line x1="1561.6" y1="1057" x2="1450.02" y2="1145.36" stroke="#000" stroke-width="0.95"/>
<path d="M1441 1152.5 L1449.16 1141.06 L1449.23 1145.98 L1454 1147.18 Z" fill="#000"/>
<line x1="1162.1" y1="1092.5" x2="1236.52" y2="1173.43" stroke="#000" stroke-width="0.95"/>
<path d="M1244.3 1181.9 L1232.29 1174.6 L1237.19 1174.17 L1238.03 1169.32 Z" fill="#000"/>
<line x1="1643.4" y1="1194.6" x2="1558.28" y2="1255.04" stroke="#000" stroke-width="0.95"/>
<path d="M1548.9 1261.7 L1557.65 1250.7 L1557.46 1255.62 L1562.17 1257.06 Z" fill="#000"/>
</svg></body></html>
